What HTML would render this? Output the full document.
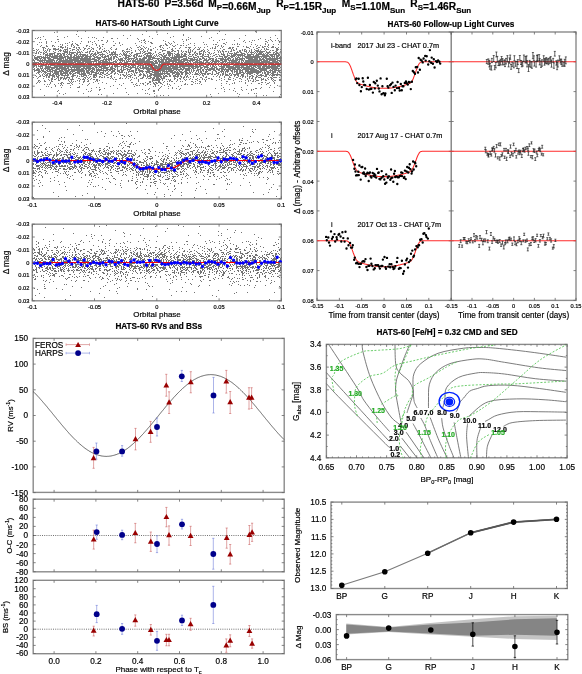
<!DOCTYPE html>
<html><head><meta charset="utf-8"><style>
html,body{margin:0;padding:0;background:#fff;width:582px;height:674px;overflow:hidden}
svg{display:block}
text{font-family:"Liberation Sans", sans-serif;stroke:currentColor;stroke-width:0.18px}
</style></head><body>
<svg style="will-change:transform" width="582" height="674" viewBox="0 0 582 674" font-family='"Liberation Sans", sans-serif'>
<rect width="582" height="674" fill="#fff"/>
<text x="117.6" y="7.3" font-size="10.2" font-weight="bold"><tspan>HATS-60</tspan></text>
<text x="164.6" y="7.3" font-size="10.2" font-weight="bold"><tspan>P=3.56d</tspan></text>
<text x="208.3" y="7.3" font-size="10.2" font-weight="bold"><tspan>M</tspan><tspan font-size="8" dy="3">P</tspan><tspan dy="-3"></tspan><tspan>=0.66M</tspan><tspan font-size="8" dy="3">Jup</tspan><tspan dy="-3"></tspan></text>
<text x="276.2" y="7.3" font-size="10.2" font-weight="bold"><tspan>R</tspan><tspan font-size="8" dy="3">P</tspan><tspan dy="-3"></tspan><tspan>=1.15R</tspan><tspan font-size="8" dy="3">Jup</tspan><tspan dy="-3"></tspan></text>
<text x="341.8" y="7.3" font-size="10.2" font-weight="bold"><tspan>M</tspan><tspan font-size="8" dy="3">S</tspan><tspan dy="-3"></tspan><tspan>=1.10M</tspan><tspan font-size="8" dy="3">Sun</tspan><tspan dy="-3"></tspan></text>
<text x="410.3" y="7.3" font-size="10.2" font-weight="bold"><tspan>R</tspan><tspan font-size="8" dy="3">S</tspan><tspan dy="-3"></tspan><tspan>=1.46R</tspan><tspan font-size="8" dy="3">Sun</tspan><tspan dy="-3"></tspan></text>
<text x="157" y="25.7" font-size="8.2" text-anchor="middle" font-weight="bold" fill="#000" color="#000">HATS-60 HATSouth Light Curve</text>
<rect x="32.3" y="30.5" width="249" height="66.9" fill="none" stroke="#8a8a8a" stroke-width="1.4"/>
<path d="M64.5 63.5h0M156.5 66.5h0M182.5 65.5h0M69.5 62.5h0M263.5 67.5h0M64.5 61.5h0M268.5 44.5h0M187.5 60.5h0M159.5 62.5h0M197.5 63.5h0M100.5 89.5h0M66.5 63.5h0M228.5 64.5h0M199.5 63.5h0M159.5 56.5h0M235.5 65.5h0M169.5 84.5h0M276.5 69.5h0M83.5 72.5h0M170.5 63.5h0M152.5 67.5h0M179.5 55.5h0M90.5 62.5h0M232.5 48.5h0M248.5 68.5h0M64.5 67.5h0M148.5 62.5h0M101.5 62.5h0M52.5 56.5h0M255.5 56.5h0M139.5 62.5h0M69.5 57.5h0M82.5 63.5h0M256.5 69.5h0M86.5 64.5h0M40.5 75.5h0M82.5 62.5h0M149.5 81.5h0M257.5 71.5h0M205.5 66.5h0M36.5 66.5h0M72.5 79.5h0M280.5 75.5h0M146.5 62.5h0M45.5 58.5h0M242.5 65.5h0M178.5 76.5h0M109.5 66.5h0M111.5 66.5h0M54.5 58.5h0M75.5 59.5h0M38.5 62.5h0M241.5 61.5h0M148.5 61.5h0M63.5 63.5h0M81.5 57.5h0M47.5 63.5h0M181.5 72.5h0M255.5 67.5h0M39.5 70.5h0M232.5 64.5h0M79.5 58.5h0M55.5 57.5h0M36.5 76.5h0M105.5 63.5h0M213.5 68.5h0M155.5 62.5h0M244.5 65.5h0M86.5 64.5h0M96.5 63.5h0M275.5 80.5h0M266.5 74.5h0M117.5 57.5h0M140.5 60.5h0M110.5 48.5h0M218.5 64.5h0M42.5 62.5h0M49.5 54.5h0M132.5 70.5h0M93.5 72.5h0M242.5 60.5h0M168.5 63.5h0M197.5 69.5h0M204.5 60.5h0M226.5 74.5h0M263.5 61.5h0M69.5 77.5h0M188.5 60.5h0M68.5 61.5h0M142.5 65.5h0M228.5 75.5h0M255.5 71.5h0M221.5 64.5h0M121.5 63.5h0M72.5 62.5h0M281.5 57.5h0M68.5 74.5h0M93.5 62.5h0M121.5 66.5h0M249.5 64.5h0M72.5 76.5h0M156.5 77.5h0M51.5 61.5h0M184.5 76.5h0M89.5 65.5h0M60.5 64.5h0M170.5 53.5h0M190.5 61.5h0M113.5 58.5h0M192.5 58.5h0M119.5 70.5h0M64.5 75.5h0M259.5 57.5h0M61.5 87.5h0M172.5 67.5h0M272.5 65.5h0M258.5 60.5h0M48.5 73.5h0M233.5 61.5h0M68.5 69.5h0M148.5 57.5h0M44.5 51.5h0M231.5 62.5h0M211.5 63.5h0M232.5 62.5h0M221.5 58.5h0M228.5 60.5h0M94.5 70.5h0M66.5 73.5h0M129.5 69.5h0M156.5 75.5h0M103.5 62.5h0M183.5 77.5h0M182.5 74.5h0M92.5 37.5h0M215.5 60.5h0M104.5 68.5h0M231.5 75.5h0M135.5 63.5h0M170.5 64.5h0M161.5 83.5h0M96.5 59.5h0M276.5 50.5h0M56.5 61.5h0M113.5 58.5h0M169.5 71.5h0M39.5 71.5h0M70.5 59.5h0M227.5 62.5h0M190.5 47.5h0M256.5 76.5h0M220.5 71.5h0M106.5 69.5h0M192.5 60.5h0M128.5 64.5h0M70.5 62.5h0M250.5 56.5h0M171.5 61.5h0M227.5 62.5h0M143.5 68.5h0M173.5 75.5h0M47.5 75.5h0M170.5 44.5h0M235.5 68.5h0M207.5 71.5h0M232.5 59.5h0M155.5 51.5h0M251.5 56.5h0M59.5 56.5h0M250.5 55.5h0M54.5 57.5h0M186.5 60.5h0M145.5 48.5h0M138.5 68.5h0M244.5 62.5h0M66.5 72.5h0M185.5 54.5h0M135.5 67.5h0M163.5 66.5h0M156.5 58.5h0M65.5 59.5h0M159.5 54.5h0M246.5 56.5h0M74.5 65.5h0M49.5 59.5h0M146.5 58.5h0M274.5 67.5h0M43.5 76.5h0M279.5 66.5h0M165.5 73.5h0M62.5 48.5h0M136.5 59.5h0M83.5 69.5h0M210.5 61.5h0M167.5 63.5h0M104.5 74.5h0M95.5 57.5h0M248.5 62.5h0M133.5 84.5h0M215.5 57.5h0M71.5 73.5h0M158.5 76.5h0M86.5 55.5h0M128.5 72.5h0M184.5 58.5h0M39.5 51.5h0M43.5 54.5h0M144.5 67.5h0M250.5 61.5h0M260.5 67.5h0M253.5 59.5h0M263.5 66.5h0M133.5 61.5h0M123.5 63.5h0M70.5 57.5h0M175.5 76.5h0M53.5 68.5h0M260.5 70.5h0M143.5 61.5h0M61.5 57.5h0M257.5 56.5h0M249.5 62.5h0M273.5 59.5h0M180.5 71.5h0M199.5 59.5h0M77.5 58.5h0M104.5 67.5h0M113.5 45.5h0M204.5 50.5h0M157.5 78.5h0M144.5 68.5h0M273.5 75.5h0M73.5 52.5h0M72.5 67.5h0M265.5 73.5h0M153.5 53.5h0M114.5 63.5h0M74.5 73.5h0M180.5 67.5h0M131.5 65.5h0M63.5 75.5h0M40.5 59.5h0M129.5 70.5h0M177.5 66.5h0M161.5 74.5h0M256.5 70.5h0M259.5 68.5h0M265.5 39.5h0M231.5 63.5h0M151.5 67.5h0M162.5 66.5h0M42.5 67.5h0M231.5 70.5h0M93.5 67.5h0M39.5 57.5h0M148.5 68.5h0M140.5 65.5h0M122.5 61.5h0M72.5 71.5h0M35.5 53.5h0M179.5 60.5h0M164.5 76.5h0M247.5 68.5h0M135.5 72.5h0M228.5 78.5h0M88.5 63.5h0M64.5 51.5h0M125.5 66.5h0M116.5 57.5h0M172.5 72.5h0M253.5 67.5h0M78.5 61.5h0M176.5 55.5h0M111.5 57.5h0M44.5 47.5h0M170.5 63.5h0M187.5 69.5h0M218.5 45.5h0M270.5 58.5h0M120.5 64.5h0M142.5 63.5h0M85.5 62.5h0M253.5 70.5h0M267.5 78.5h0M236.5 56.5h0M260.5 50.5h0M64.5 57.5h0M134.5 57.5h0M203.5 49.5h0M141.5 62.5h0M160.5 66.5h0M221.5 62.5h0M49.5 54.5h0M201.5 65.5h0M94.5 61.5h0M212.5 61.5h0M133.5 66.5h0M238.5 69.5h0M93.5 79.5h0M37.5 60.5h0M234.5 60.5h0M62.5 67.5h0M274.5 70.5h0M85.5 75.5h0M178.5 58.5h0M126.5 74.5h0M88.5 75.5h0M258.5 55.5h0M102.5 60.5h0M201.5 63.5h0M252.5 78.5h0M105.5 55.5h0M126.5 58.5h0M229.5 67.5h0M185.5 56.5h0M76.5 53.5h0M77.5 60.5h0M208.5 54.5h0M255.5 78.5h0M226.5 64.5h0M137.5 85.5h0M65.5 67.5h0M254.5 53.5h0M175.5 69.5h0M128.5 69.5h0M117.5 67.5h0M175.5 65.5h0M152.5 79.5h0M208.5 55.5h0M265.5 60.5h0M243.5 64.5h0M125.5 58.5h0M263.5 61.5h0M130.5 63.5h0M231.5 60.5h0M55.5 74.5h0M144.5 52.5h0M160.5 68.5h0M233.5 60.5h0M250.5 71.5h0M70.5 61.5h0M185.5 83.5h0M188.5 69.5h0M70.5 74.5h0M239.5 72.5h0M170.5 64.5h0M271.5 79.5h0M78.5 66.5h0M163.5 66.5h0M112.5 78.5h0M192.5 55.5h0M183.5 69.5h0M159.5 65.5h0M113.5 54.5h0M157.5 75.5h0M124.5 65.5h0M254.5 68.5h0M147.5 64.5h0M150.5 62.5h0M96.5 67.5h0M95.5 53.5h0M269.5 70.5h0M248.5 73.5h0M180.5 78.5h0M73.5 53.5h0M266.5 95.5h0M224.5 67.5h0M173.5 73.5h0M208.5 52.5h0M143.5 84.5h0M150.5 59.5h0M257.5 72.5h0M98.5 52.5h0M235.5 61.5h0M277.5 58.5h0M255.5 55.5h0M272.5 60.5h0M71.5 57.5h0M73.5 69.5h0M89.5 67.5h0M122.5 66.5h0M69.5 54.5h0M36.5 65.5h0M264.5 70.5h0M122.5 59.5h0M145.5 64.5h0M233.5 61.5h0M165.5 56.5h0M56.5 56.5h0M87.5 63.5h0M109.5 60.5h0M175.5 64.5h0M239.5 61.5h0M46.5 63.5h0M247.5 76.5h0M190.5 66.5h0M270.5 54.5h0M86.5 76.5h0M261.5 64.5h0M161.5 57.5h0M94.5 72.5h0M43.5 78.5h0M103.5 61.5h0M257.5 45.5h0M177.5 72.5h0M256.5 61.5h0M143.5 73.5h0M71.5 62.5h0M164.5 53.5h0M180.5 67.5h0M204.5 58.5h0M199.5 60.5h0M42.5 60.5h0M261.5 64.5h0M199.5 59.5h0M275.5 71.5h0M159.5 76.5h0M67.5 70.5h0M255.5 78.5h0M250.5 60.5h0M187.5 69.5h0M243.5 65.5h0M209.5 68.5h0M273.5 54.5h0M57.5 60.5h0M169.5 62.5h0M270.5 85.5h0M203.5 61.5h0M59.5 63.5h0M143.5 61.5h0M151.5 61.5h0M148.5 52.5h0M186.5 62.5h0M100.5 61.5h0M251.5 63.5h0M58.5 61.5h0M265.5 63.5h0M71.5 64.5h0M101.5 74.5h0M263.5 70.5h0M118.5 66.5h0M242.5 56.5h0M253.5 61.5h0M77.5 71.5h0M217.5 73.5h0M278.5 58.5h0M271.5 77.5h0M219.5 40.5h0M259.5 64.5h0M278.5 64.5h0M169.5 70.5h0M68.5 54.5h0M243.5 67.5h0M157.5 78.5h0M36.5 83.5h0M180.5 65.5h0M270.5 62.5h0M236.5 61.5h0M266.5 76.5h0M190.5 50.5h0M215.5 65.5h0M178.5 70.5h0M52.5 77.5h0M82.5 68.5h0M172.5 88.5h0M50.5 65.5h0M97.5 53.5h0M108.5 67.5h0M208.5 63.5h0M73.5 59.5h0M142.5 59.5h0M60.5 63.5h0M52.5 63.5h0M80.5 71.5h0M87.5 60.5h0M72.5 62.5h0M51.5 68.5h0M84.5 70.5h0M87.5 73.5h0M151.5 75.5h0M74.5 68.5h0M74.5 70.5h0M152.5 65.5h0M82.5 61.5h0M41.5 56.5h0M49.5 56.5h0M140.5 59.5h0M53.5 74.5h0M203.5 62.5h0M173.5 68.5h0M160.5 87.5h0M256.5 59.5h0M60.5 71.5h0M80.5 52.5h0M173.5 62.5h0M173.5 46.5h0M276.5 55.5h0M275.5 77.5h0M178.5 59.5h0M221.5 56.5h0M65.5 74.5h0M182.5 54.5h0M71.5 67.5h0M244.5 73.5h0M210.5 48.5h0M219.5 76.5h0M104.5 88.5h0M76.5 59.5h0M182.5 63.5h0M241.5 74.5h0M226.5 61.5h0M264.5 51.5h0M63.5 75.5h0M165.5 57.5h0M59.5 61.5h0M166.5 73.5h0M167.5 59.5h0M118.5 63.5h0M119.5 64.5h0M209.5 64.5h0M152.5 57.5h0M60.5 58.5h0M243.5 75.5h0M274.5 72.5h0M249.5 56.5h0M249.5 55.5h0M86.5 57.5h0M205.5 72.5h0M270.5 71.5h0M123.5 54.5h0M214.5 67.5h0M85.5 66.5h0M247.5 85.5h0M59.5 71.5h0M44.5 80.5h0M144.5 64.5h0M241.5 60.5h0M98.5 64.5h0M243.5 61.5h0M72.5 44.5h0M143.5 83.5h0M130.5 35.5h0M244.5 64.5h0M183.5 61.5h0M233.5 56.5h0M157.5 76.5h0M218.5 52.5h0M259.5 56.5h0M184.5 58.5h0M140.5 67.5h0M97.5 65.5h0M259.5 69.5h0M222.5 60.5h0M231.5 51.5h0M87.5 79.5h0M141.5 63.5h0M252.5 67.5h0M93.5 55.5h0M166.5 66.5h0M199.5 62.5h0M107.5 75.5h0M82.5 74.5h0M166.5 63.5h0M174.5 58.5h0M62.5 63.5h0M258.5 70.5h0M172.5 60.5h0M115.5 65.5h0M177.5 62.5h0M129.5 51.5h0M61.5 66.5h0M62.5 62.5h0M43.5 47.5h0M74.5 65.5h0M93.5 59.5h0M190.5 60.5h0M176.5 81.5h0M179.5 56.5h0M236.5 69.5h0M55.5 65.5h0M52.5 65.5h0M51.5 64.5h0M48.5 59.5h0M58.5 65.5h0M129.5 63.5h0M222.5 63.5h0M90.5 68.5h0M103.5 71.5h0M149.5 57.5h0M50.5 64.5h0M144.5 74.5h0M177.5 57.5h0M237.5 64.5h0M231.5 70.5h0M174.5 67.5h0M176.5 57.5h0M251.5 71.5h0M168.5 69.5h0M166.5 73.5h0M258.5 65.5h0M182.5 81.5h0M279.5 70.5h0M90.5 61.5h0M197.5 62.5h0M175.5 66.5h0M160.5 79.5h0M188.5 37.5h0M169.5 56.5h0M192.5 59.5h0M151.5 73.5h0M145.5 62.5h0M85.5 52.5h0M173.5 61.5h0M63.5 64.5h0M47.5 60.5h0M180.5 62.5h0M52.5 72.5h0M144.5 39.5h0M268.5 68.5h0M184.5 84.5h0M87.5 72.5h0M120.5 65.5h0M111.5 64.5h0M150.5 57.5h0M178.5 60.5h0M181.5 50.5h0M203.5 62.5h0M99.5 48.5h0M55.5 52.5h0M95.5 65.5h0M113.5 64.5h0M183.5 55.5h0M135.5 75.5h0M56.5 67.5h0M180.5 79.5h0M59.5 61.5h0M161.5 59.5h0M187.5 69.5h0M72.5 74.5h0M120.5 74.5h0M266.5 48.5h0M54.5 57.5h0M185.5 66.5h0M130.5 66.5h0M63.5 71.5h0M172.5 66.5h0M33.5 66.5h0M247.5 54.5h0M125.5 57.5h0M166.5 63.5h0M163.5 65.5h0M276.5 56.5h0M43.5 36.5h0M106.5 61.5h0M133.5 65.5h0M228.5 65.5h0M214.5 52.5h0M137.5 58.5h0M61.5 70.5h0M143.5 55.5h0M99.5 59.5h0M161.5 68.5h0M266.5 75.5h0M151.5 68.5h0M95.5 54.5h0M162.5 74.5h0M260.5 69.5h0M247.5 63.5h0M256.5 58.5h0M201.5 68.5h0M138.5 61.5h0M69.5 64.5h0M214.5 63.5h0M190.5 68.5h0M273.5 59.5h0M250.5 63.5h0M86.5 75.5h0M267.5 42.5h0M280.5 64.5h0M273.5 64.5h0M199.5 69.5h0M65.5 69.5h0M33.5 50.5h0M94.5 66.5h0M267.5 52.5h0M232.5 47.5h0M138.5 65.5h0M221.5 71.5h0M256.5 61.5h0M106.5 64.5h0M250.5 68.5h0M99.5 59.5h0M43.5 73.5h0M72.5 82.5h0M169.5 61.5h0M168.5 59.5h0M74.5 69.5h0M83.5 56.5h0M177.5 71.5h0M233.5 54.5h0M202.5 70.5h0M167.5 67.5h0M117.5 55.5h0M77.5 57.5h0M247.5 63.5h0M134.5 65.5h0M49.5 68.5h0M122.5 78.5h0M57.5 63.5h0M120.5 45.5h0M62.5 53.5h0M128.5 61.5h0M134.5 54.5h0M159.5 58.5h0M89.5 72.5h0M251.5 66.5h0M234.5 65.5h0M153.5 70.5h0M117.5 71.5h0M174.5 77.5h0M53.5 57.5h0M136.5 69.5h0M37.5 68.5h0M136.5 63.5h0M153.5 77.5h0M239.5 59.5h0M77.5 72.5h0M136.5 70.5h0M264.5 72.5h0M242.5 63.5h0M169.5 55.5h0M263.5 69.5h0M86.5 59.5h0M258.5 83.5h0M252.5 73.5h0M213.5 58.5h0M203.5 71.5h0M167.5 52.5h0M177.5 62.5h0M81.5 58.5h0M172.5 65.5h0M153.5 86.5h0M201.5 62.5h0M146.5 31.5h0M232.5 83.5h0M211.5 58.5h0M54.5 77.5h0M103.5 62.5h0M52.5 62.5h0M62.5 68.5h0M162.5 56.5h0M82.5 76.5h0M223.5 87.5h0M249.5 58.5h0M93.5 64.5h0M204.5 79.5h0M243.5 74.5h0M193.5 60.5h0M55.5 58.5h0M120.5 78.5h0M273.5 79.5h0M256.5 64.5h0M140.5 74.5h0M239.5 54.5h0M38.5 77.5h0M46.5 62.5h0M177.5 65.5h0M163.5 61.5h0M237.5 63.5h0M147.5 62.5h0M278.5 63.5h0M183.5 56.5h0M77.5 62.5h0M132.5 62.5h0M148.5 60.5h0M175.5 76.5h0M129.5 67.5h0M158.5 71.5h0M190.5 65.5h0M244.5 58.5h0M171.5 69.5h0M127.5 48.5h0M271.5 54.5h0M75.5 67.5h0M43.5 50.5h0M258.5 64.5h0M98.5 65.5h0M70.5 50.5h0M128.5 60.5h0M120.5 74.5h0M244.5 69.5h0M104.5 61.5h0M65.5 68.5h0M86.5 61.5h0M139.5 75.5h0M225.5 75.5h0M265.5 60.5h0M159.5 64.5h0M235.5 60.5h0M98.5 64.5h0M175.5 72.5h0M91.5 70.5h0M100.5 64.5h0M78.5 73.5h0M97.5 80.5h0M241.5 52.5h0M230.5 79.5h0M246.5 67.5h0M171.5 60.5h0M133.5 67.5h0M91.5 61.5h0M189.5 65.5h0M189.5 63.5h0M161.5 64.5h0M265.5 63.5h0M39.5 56.5h0M66.5 62.5h0M46.5 55.5h0M140.5 73.5h0M248.5 61.5h0M265.5 43.5h0M37.5 82.5h0M96.5 87.5h0M32.5 65.5h0M103.5 62.5h0M182.5 65.5h0M185.5 59.5h0M183.5 77.5h0M195.5 63.5h0M177.5 62.5h0M86.5 59.5h0M91.5 61.5h0M248.5 62.5h0M101.5 66.5h0M72.5 72.5h0M221.5 70.5h0M244.5 53.5h0M150.5 49.5h0M170.5 65.5h0M180.5 63.5h0M267.5 46.5h0M223.5 61.5h0M79.5 64.5h0M267.5 74.5h0M159.5 74.5h0M260.5 65.5h0M153.5 62.5h0M207.5 51.5h0M275.5 53.5h0M266.5 66.5h0M77.5 54.5h0M67.5 72.5h0M103.5 44.5h0M68.5 68.5h0M222.5 51.5h0M67.5 62.5h0M50.5 59.5h0M224.5 60.5h0M147.5 75.5h0M191.5 56.5h0M260.5 72.5h0M251.5 69.5h0M61.5 72.5h0M258.5 72.5h0M71.5 56.5h0M124.5 72.5h0M232.5 64.5h0M194.5 62.5h0M194.5 43.5h0M67.5 65.5h0M46.5 66.5h0M130.5 75.5h0M243.5 67.5h0M227.5 81.5h0M280.5 79.5h0M209.5 63.5h0M274.5 68.5h0M216.5 54.5h0M41.5 52.5h0M262.5 62.5h0M91.5 74.5h0M108.5 59.5h0M190.5 76.5h0M231.5 64.5h0M259.5 75.5h0M138.5 68.5h0M245.5 69.5h0M209.5 64.5h0M95.5 60.5h0M34.5 62.5h0M251.5 61.5h0M169.5 70.5h0M178.5 56.5h0M105.5 67.5h0M252.5 63.5h0M68.5 61.5h0M252.5 60.5h0M62.5 67.5h0M130.5 69.5h0M57.5 71.5h0M208.5 73.5h0M245.5 72.5h0M55.5 72.5h0M156.5 77.5h0M167.5 81.5h0M109.5 59.5h0M47.5 53.5h0M182.5 62.5h0M70.5 62.5h0M203.5 65.5h0M218.5 62.5h0M67.5 55.5h0M180.5 67.5h0M84.5 79.5h0M103.5 63.5h0M204.5 67.5h0M175.5 57.5h0M86.5 62.5h0M240.5 64.5h0M120.5 53.5h0M150.5 56.5h0M143.5 59.5h0M143.5 49.5h0M267.5 66.5h0M134.5 60.5h0M160.5 68.5h0M136.5 55.5h0M94.5 79.5h0M270.5 67.5h0M220.5 74.5h0M193.5 54.5h0M104.5 66.5h0M233.5 59.5h0M261.5 80.5h0M229.5 64.5h0M259.5 77.5h0M55.5 85.5h0M216.5 44.5h0M248.5 70.5h0M52.5 68.5h0M167.5 72.5h0M265.5 62.5h0M239.5 51.5h0M190.5 54.5h0M147.5 56.5h0M62.5 44.5h0M158.5 65.5h0M177.5 68.5h0M107.5 70.5h0M63.5 63.5h0M78.5 73.5h0M264.5 66.5h0M87.5 66.5h0M167.5 63.5h0M95.5 57.5h0M155.5 74.5h0M169.5 52.5h0M44.5 72.5h0M166.5 68.5h0M68.5 83.5h0M276.5 51.5h0M74.5 52.5h0M152.5 68.5h0M96.5 79.5h0M152.5 71.5h0M93.5 62.5h0M140.5 60.5h0M203.5 69.5h0M81.5 71.5h0M43.5 58.5h0M239.5 66.5h0M49.5 58.5h0M189.5 64.5h0M168.5 59.5h0M275.5 74.5h0M79.5 51.5h0M253.5 59.5h0M64.5 72.5h0M75.5 69.5h0M73.5 56.5h0M178.5 72.5h0M200.5 47.5h0M63.5 73.5h0M273.5 56.5h0M51.5 54.5h0M186.5 59.5h0M96.5 60.5h0M132.5 60.5h0M258.5 70.5h0M45.5 69.5h0M67.5 53.5h0M170.5 85.5h0M220.5 74.5h0M149.5 65.5h0M91.5 68.5h0M64.5 69.5h0M87.5 52.5h0M82.5 58.5h0M258.5 68.5h0M191.5 60.5h0M146.5 58.5h0M39.5 66.5h0M276.5 57.5h0M267.5 59.5h0M97.5 81.5h0M145.5 93.5h0M200.5 53.5h0M141.5 61.5h0M68.5 65.5h0M232.5 57.5h0M141.5 74.5h0M142.5 58.5h0M221.5 68.5h0M278.5 44.5h0M190.5 59.5h0M53.5 70.5h0M60.5 61.5h0M102.5 40.5h0M143.5 65.5h0M89.5 61.5h0M265.5 70.5h0M127.5 49.5h0M256.5 77.5h0M259.5 66.5h0M215.5 44.5h0M39.5 64.5h0M255.5 44.5h0M136.5 59.5h0M116.5 66.5h0M150.5 68.5h0M246.5 61.5h0M218.5 60.5h0M90.5 56.5h0M141.5 62.5h0M50.5 70.5h0M69.5 58.5h0M261.5 68.5h0M104.5 67.5h0M249.5 72.5h0M76.5 61.5h0M94.5 58.5h0M143.5 66.5h0M184.5 66.5h0M81.5 41.5h0M178.5 64.5h0M112.5 66.5h0M96.5 76.5h0M51.5 62.5h0M83.5 70.5h0M94.5 59.5h0M213.5 53.5h0M60.5 73.5h0M193.5 60.5h0M89.5 68.5h0M140.5 58.5h0M61.5 64.5h0M172.5 70.5h0M256.5 58.5h0M34.5 62.5h0M52.5 65.5h0M178.5 55.5h0M261.5 87.5h0M185.5 71.5h0M51.5 71.5h0M166.5 69.5h0M258.5 54.5h0M39.5 57.5h0M100.5 63.5h0M73.5 73.5h0M273.5 53.5h0M266.5 56.5h0M176.5 61.5h0M236.5 65.5h0M104.5 54.5h0M147.5 64.5h0M237.5 73.5h0M87.5 60.5h0M75.5 63.5h0M244.5 68.5h0M147.5 84.5h0M75.5 72.5h0M102.5 44.5h0M255.5 56.5h0M150.5 73.5h0M261.5 61.5h0M149.5 60.5h0M266.5 66.5h0M260.5 75.5h0M173.5 72.5h0M228.5 64.5h0M61.5 55.5h0M46.5 72.5h0M148.5 58.5h0M186.5 59.5h0M255.5 55.5h0M83.5 65.5h0M247.5 63.5h0M155.5 79.5h0M187.5 62.5h0M147.5 53.5h0M243.5 60.5h0M34.5 61.5h0M238.5 67.5h0M210.5 66.5h0M63.5 53.5h0M83.5 70.5h0M188.5 50.5h0M218.5 69.5h0M180.5 45.5h0M195.5 54.5h0M69.5 60.5h0M144.5 59.5h0M114.5 56.5h0M215.5 59.5h0M161.5 58.5h0M205.5 59.5h0M257.5 68.5h0M245.5 61.5h0M45.5 72.5h0M125.5 57.5h0M57.5 67.5h0M151.5 53.5h0M242.5 54.5h0M230.5 51.5h0M58.5 72.5h0M82.5 70.5h0M273.5 69.5h0M54.5 63.5h0M185.5 74.5h0M81.5 60.5h0M155.5 52.5h0M231.5 54.5h0M127.5 51.5h0M40.5 67.5h0M143.5 61.5h0M126.5 92.5h0M244.5 55.5h0M247.5 67.5h0M117.5 73.5h0M183.5 60.5h0M128.5 59.5h0M241.5 53.5h0M237.5 52.5h0M159.5 70.5h0M174.5 42.5h0M72.5 76.5h0M104.5 63.5h0M172.5 61.5h0M32.5 91.5h0M185.5 80.5h0M189.5 58.5h0M172.5 74.5h0M95.5 43.5h0M195.5 51.5h0M179.5 70.5h0M126.5 57.5h0M70.5 71.5h0M170.5 75.5h0M45.5 56.5h0M260.5 58.5h0M102.5 62.5h0M144.5 60.5h0M58.5 76.5h0M252.5 60.5h0M237.5 68.5h0M175.5 66.5h0M266.5 62.5h0M148.5 62.5h0M75.5 59.5h0M138.5 62.5h0M263.5 68.5h0M197.5 66.5h0M168.5 88.5h0M165.5 68.5h0M190.5 73.5h0M184.5 68.5h0M144.5 58.5h0M159.5 68.5h0M57.5 57.5h0M142.5 70.5h0M87.5 65.5h0M66.5 61.5h0M80.5 79.5h0M62.5 53.5h0M107.5 75.5h0M258.5 68.5h0M135.5 63.5h0M235.5 63.5h0M222.5 73.5h0M86.5 64.5h0M259.5 83.5h0M265.5 65.5h0M59.5 65.5h0M274.5 57.5h0M193.5 71.5h0M188.5 60.5h0M32.5 75.5h0M189.5 69.5h0M50.5 53.5h0M65.5 93.5h0M135.5 66.5h0M46.5 45.5h0M133.5 55.5h0M163.5 76.5h0M165.5 60.5h0M83.5 73.5h0M161.5 74.5h0M72.5 77.5h0M273.5 62.5h0M176.5 62.5h0M91.5 65.5h0M49.5 51.5h0M93.5 74.5h0M104.5 77.5h0M278.5 69.5h0M179.5 55.5h0M80.5 64.5h0M53.5 59.5h0M148.5 66.5h0M158.5 66.5h0M258.5 47.5h0M140.5 75.5h0M201.5 65.5h0M75.5 65.5h0M173.5 59.5h0M144.5 57.5h0M72.5 67.5h0M280.5 72.5h0M54.5 57.5h0M253.5 57.5h0M52.5 69.5h0M272.5 71.5h0M240.5 65.5h0M208.5 57.5h0M135.5 50.5h0M216.5 58.5h0M75.5 73.5h0M260.5 67.5h0M231.5 50.5h0M230.5 58.5h0M149.5 76.5h0M172.5 57.5h0M223.5 58.5h0M189.5 74.5h0M47.5 70.5h0M111.5 52.5h0M237.5 75.5h0M64.5 57.5h0M96.5 70.5h0M112.5 53.5h0M133.5 58.5h0M48.5 69.5h0M242.5 66.5h0M65.5 50.5h0M158.5 65.5h0M114.5 68.5h0M171.5 60.5h0M111.5 72.5h0M145.5 54.5h0M34.5 70.5h0M36.5 49.5h0M158.5 73.5h0M235.5 55.5h0M280.5 75.5h0M162.5 61.5h0M213.5 64.5h0M117.5 65.5h0M226.5 65.5h0M86.5 76.5h0M56.5 57.5h0M256.5 80.5h0M36.5 59.5h0M254.5 61.5h0M260.5 66.5h0M73.5 63.5h0M220.5 52.5h0M277.5 62.5h0M253.5 62.5h0M140.5 61.5h0M277.5 73.5h0M174.5 59.5h0M276.5 61.5h0M231.5 55.5h0M240.5 59.5h0M251.5 62.5h0M248.5 57.5h0M137.5 66.5h0M81.5 68.5h0M84.5 71.5h0M82.5 68.5h0M235.5 66.5h0M50.5 62.5h0M260.5 71.5h0M212.5 59.5h0M89.5 51.5h0M160.5 62.5h0M76.5 67.5h0M256.5 56.5h0M71.5 61.5h0M148.5 59.5h0M183.5 64.5h0M145.5 63.5h0M264.5 66.5h0M63.5 67.5h0M36.5 62.5h0M258.5 50.5h0M252.5 77.5h0M149.5 63.5h0M269.5 64.5h0M135.5 62.5h0M140.5 62.5h0M164.5 70.5h0M168.5 61.5h0M253.5 70.5h0M49.5 55.5h0M244.5 64.5h0M162.5 66.5h0M135.5 66.5h0M106.5 59.5h0M115.5 65.5h0M100.5 66.5h0M145.5 61.5h0M181.5 66.5h0M239.5 38.5h0M75.5 61.5h0M144.5 57.5h0M164.5 50.5h0M236.5 60.5h0M187.5 64.5h0M143.5 60.5h0M233.5 49.5h0M240.5 54.5h0M173.5 62.5h0M61.5 58.5h0M138.5 64.5h0M80.5 55.5h0M106.5 73.5h0M236.5 60.5h0M139.5 67.5h0M78.5 78.5h0M136.5 72.5h0M265.5 58.5h0M186.5 70.5h0M275.5 72.5h0M154.5 65.5h0M85.5 77.5h0M62.5 69.5h0M112.5 65.5h0M151.5 68.5h0M220.5 59.5h0M106.5 83.5h0M75.5 65.5h0M267.5 56.5h0M169.5 61.5h0M68.5 63.5h0M49.5 60.5h0M115.5 69.5h0M185.5 63.5h0M146.5 61.5h0M234.5 72.5h0M279.5 68.5h0M174.5 83.5h0M118.5 58.5h0M230.5 75.5h0M54.5 66.5h0M251.5 49.5h0M225.5 34.5h0M56.5 62.5h0M176.5 76.5h0M232.5 68.5h0M242.5 64.5h0M73.5 71.5h0M163.5 54.5h0M171.5 69.5h0M134.5 57.5h0M96.5 64.5h0M60.5 78.5h0M148.5 60.5h0M228.5 71.5h0M138.5 69.5h0M172.5 57.5h0M200.5 65.5h0M174.5 73.5h0M80.5 64.5h0M94.5 68.5h0M84.5 65.5h0M161.5 49.5h0M81.5 72.5h0M174.5 61.5h0M237.5 74.5h0M50.5 63.5h0M92.5 55.5h0M155.5 68.5h0M67.5 58.5h0M257.5 80.5h0M174.5 57.5h0M185.5 58.5h0M260.5 77.5h0M60.5 58.5h0M200.5 61.5h0M63.5 60.5h0M51.5 57.5h0M129.5 61.5h0M122.5 51.5h0M219.5 50.5h0M145.5 76.5h0M103.5 64.5h0M165.5 59.5h0M182.5 73.5h0M69.5 72.5h0M179.5 74.5h0M74.5 56.5h0M273.5 61.5h0M164.5 81.5h0M83.5 68.5h0M42.5 65.5h0M85.5 68.5h0M111.5 59.5h0M175.5 45.5h0M197.5 61.5h0M209.5 62.5h0M189.5 72.5h0M170.5 80.5h0M106.5 58.5h0M86.5 45.5h0M204.5 68.5h0M65.5 56.5h0M190.5 72.5h0M78.5 55.5h0M233.5 65.5h0M202.5 57.5h0M95.5 52.5h0M278.5 56.5h0M181.5 69.5h0M258.5 62.5h0M265.5 53.5h0M91.5 62.5h0M273.5 64.5h0M52.5 70.5h0M96.5 62.5h0M55.5 42.5h0M174.5 60.5h0M147.5 64.5h0M99.5 59.5h0M204.5 73.5h0M127.5 68.5h0M260.5 53.5h0M261.5 52.5h0M222.5 66.5h0M57.5 67.5h0M278.5 64.5h0M54.5 60.5h0M219.5 56.5h0M93.5 67.5h0M204.5 63.5h0M240.5 70.5h0M61.5 75.5h0M255.5 77.5h0M151.5 61.5h0M70.5 79.5h0M53.5 63.5h0M62.5 75.5h0M58.5 51.5h0M121.5 67.5h0M56.5 65.5h0M152.5 67.5h0M143.5 74.5h0M191.5 65.5h0M218.5 61.5h0M165.5 63.5h0M39.5 82.5h0M223.5 43.5h0M227.5 54.5h0M213.5 66.5h0M253.5 55.5h0M56.5 62.5h0M180.5 68.5h0M206.5 67.5h0M49.5 71.5h0M273.5 62.5h0M76.5 59.5h0M160.5 82.5h0M174.5 64.5h0M76.5 50.5h0M103.5 64.5h0M260.5 62.5h0M112.5 64.5h0M143.5 68.5h0M60.5 53.5h0M173.5 60.5h0M90.5 66.5h0M124.5 60.5h0M195.5 62.5h0M86.5 60.5h0M164.5 50.5h0M96.5 64.5h0M63.5 47.5h0M83.5 66.5h0M188.5 57.5h0M164.5 64.5h0M41.5 64.5h0M160.5 95.5h0M154.5 64.5h0M34.5 71.5h0M224.5 61.5h0M210.5 66.5h0M81.5 69.5h0M98.5 53.5h0M255.5 69.5h0M81.5 63.5h0M156.5 62.5h0M87.5 85.5h0M37.5 44.5h0M78.5 55.5h0M57.5 67.5h0M147.5 61.5h0M227.5 54.5h0M78.5 59.5h0M223.5 59.5h0M274.5 70.5h0M51.5 67.5h0M147.5 56.5h0M167.5 53.5h0M203.5 53.5h0M174.5 55.5h0M107.5 63.5h0M72.5 75.5h0M116.5 66.5h0M78.5 69.5h0M106.5 62.5h0M252.5 68.5h0M137.5 64.5h0M63.5 50.5h0M120.5 56.5h0M160.5 59.5h0M130.5 61.5h0M60.5 51.5h0M215.5 64.5h0M173.5 62.5h0M176.5 60.5h0M140.5 51.5h0M212.5 56.5h0M92.5 59.5h0M65.5 63.5h0M173.5 65.5h0M141.5 55.5h0M130.5 61.5h0M164.5 65.5h0M186.5 52.5h0M235.5 64.5h0M115.5 53.5h0M48.5 61.5h0M68.5 71.5h0M164.5 65.5h0M66.5 62.5h0M74.5 58.5h0M239.5 65.5h0M67.5 75.5h0M95.5 72.5h0M90.5 71.5h0M267.5 61.5h0M189.5 61.5h0M170.5 60.5h0M135.5 63.5h0M210.5 61.5h0M148.5 60.5h0M147.5 83.5h0M70.5 65.5h0M237.5 46.5h0M48.5 58.5h0M258.5 63.5h0M260.5 71.5h0M162.5 70.5h0M72.5 65.5h0M86.5 61.5h0M67.5 71.5h0M276.5 67.5h0M114.5 54.5h0M250.5 62.5h0M163.5 67.5h0M62.5 63.5h0M74.5 56.5h0M222.5 56.5h0M278.5 54.5h0M175.5 63.5h0M227.5 58.5h0M169.5 71.5h0M233.5 67.5h0M83.5 62.5h0M70.5 69.5h0M128.5 63.5h0M268.5 63.5h0M237.5 65.5h0M217.5 46.5h0M254.5 62.5h0M127.5 75.5h0M258.5 73.5h0M78.5 64.5h0M108.5 69.5h0M80.5 67.5h0M265.5 41.5h0M248.5 60.5h0M180.5 63.5h0M226.5 75.5h0M111.5 67.5h0M105.5 62.5h0M55.5 73.5h0M150.5 52.5h0M266.5 59.5h0M36.5 63.5h0M253.5 60.5h0M181.5 62.5h0M102.5 82.5h0M255.5 67.5h0M263.5 63.5h0M274.5 65.5h0M253.5 59.5h0M241.5 58.5h0M146.5 60.5h0M189.5 65.5h0M105.5 74.5h0M164.5 78.5h0M234.5 62.5h0M183.5 58.5h0M242.5 71.5h0M172.5 57.5h0M150.5 73.5h0M160.5 59.5h0M188.5 67.5h0M51.5 69.5h0M229.5 74.5h0M169.5 64.5h0M101.5 74.5h0M260.5 54.5h0M225.5 71.5h0M168.5 65.5h0M79.5 73.5h0M114.5 64.5h0M68.5 60.5h0M221.5 65.5h0M144.5 59.5h0M177.5 73.5h0M89.5 77.5h0M173.5 59.5h0M185.5 69.5h0M137.5 66.5h0M217.5 60.5h0M248.5 64.5h0M272.5 61.5h0M272.5 70.5h0M265.5 62.5h0M65.5 72.5h0M191.5 67.5h0M164.5 62.5h0M118.5 63.5h0M281.5 76.5h0M101.5 51.5h0M151.5 55.5h0M260.5 56.5h0M169.5 67.5h0M272.5 55.5h0M183.5 66.5h0M236.5 64.5h0M172.5 51.5h0M262.5 70.5h0M123.5 70.5h0M233.5 61.5h0M161.5 67.5h0M202.5 74.5h0M278.5 55.5h0M205.5 80.5h0M225.5 68.5h0M235.5 65.5h0M82.5 69.5h0M41.5 65.5h0M51.5 57.5h0M148.5 56.5h0M272.5 70.5h0M143.5 57.5h0M262.5 68.5h0M67.5 73.5h0M133.5 70.5h0M242.5 71.5h0M273.5 58.5h0M166.5 62.5h0M126.5 60.5h0M52.5 77.5h0M225.5 60.5h0M269.5 66.5h0M57.5 62.5h0M226.5 69.5h0M38.5 60.5h0M63.5 60.5h0M45.5 59.5h0M145.5 76.5h0M142.5 60.5h0M76.5 57.5h0M91.5 65.5h0M256.5 72.5h0M167.5 73.5h0M200.5 82.5h0M251.5 66.5h0M67.5 66.5h0M54.5 52.5h0M145.5 62.5h0M59.5 69.5h0M179.5 73.5h0M266.5 56.5h0M160.5 57.5h0M74.5 62.5h0M61.5 61.5h0M164.5 57.5h0M217.5 63.5h0M233.5 63.5h0M220.5 56.5h0M148.5 72.5h0M250.5 63.5h0M166.5 44.5h0M32.5 52.5h0M154.5 78.5h0M53.5 65.5h0M85.5 60.5h0M175.5 59.5h0M51.5 59.5h0M209.5 69.5h0M86.5 52.5h0M270.5 72.5h0M62.5 73.5h0M154.5 80.5h0M224.5 60.5h0M159.5 67.5h0M60.5 83.5h0M88.5 58.5h0M229.5 76.5h0M72.5 77.5h0M276.5 74.5h0M132.5 77.5h0M79.5 86.5h0M148.5 63.5h0M269.5 75.5h0M61.5 65.5h0M212.5 60.5h0M269.5 65.5h0M170.5 66.5h0M178.5 50.5h0M271.5 67.5h0M68.5 67.5h0M49.5 63.5h0M140.5 68.5h0M222.5 71.5h0M149.5 64.5h0M99.5 69.5h0M256.5 88.5h0M175.5 67.5h0M182.5 69.5h0M199.5 75.5h0M92.5 69.5h0M269.5 72.5h0M72.5 61.5h0M72.5 76.5h0M89.5 65.5h0M207.5 64.5h0M57.5 69.5h0M150.5 46.5h0M268.5 68.5h0M255.5 72.5h0M182.5 52.5h0M229.5 73.5h0M197.5 60.5h0M246.5 64.5h0M184.5 60.5h0M180.5 69.5h0M269.5 57.5h0M171.5 59.5h0M137.5 68.5h0M170.5 65.5h0M249.5 68.5h0M242.5 59.5h0M131.5 63.5h0M153.5 64.5h0M44.5 65.5h0M232.5 61.5h0M81.5 71.5h0M67.5 45.5h0M241.5 62.5h0M264.5 62.5h0M103.5 72.5h0M74.5 65.5h0M174.5 63.5h0M46.5 46.5h0M236.5 72.5h0M83.5 61.5h0M65.5 70.5h0M69.5 69.5h0M207.5 73.5h0M137.5 62.5h0M77.5 64.5h0M226.5 74.5h0M45.5 62.5h0M81.5 56.5h0M224.5 69.5h0M160.5 61.5h0M124.5 65.5h0M216.5 58.5h0M154.5 96.5h0M238.5 67.5h0M165.5 57.5h0M165.5 62.5h0M241.5 61.5h0M102.5 49.5h0M190.5 58.5h0M176.5 62.5h0M88.5 81.5h0M243.5 69.5h0M149.5 70.5h0M66.5 71.5h0M163.5 64.5h0M57.5 53.5h0M227.5 71.5h0M253.5 67.5h0M93.5 56.5h0M212.5 73.5h0M243.5 66.5h0M84.5 54.5h0M180.5 61.5h0M50.5 71.5h0M88.5 60.5h0M188.5 55.5h0M255.5 59.5h0M181.5 72.5h0M182.5 62.5h0M257.5 50.5h0M170.5 37.5h0M233.5 68.5h0M80.5 53.5h0M51.5 71.5h0M78.5 36.5h0M139.5 55.5h0M83.5 72.5h0M129.5 63.5h0M35.5 70.5h0M43.5 62.5h0M153.5 80.5h0M259.5 56.5h0M153.5 72.5h0M151.5 64.5h0M98.5 73.5h0M149.5 57.5h0M229.5 66.5h0M47.5 60.5h0M42.5 71.5h0M186.5 59.5h0M249.5 71.5h0M174.5 58.5h0M96.5 70.5h0M98.5 60.5h0M37.5 60.5h0M225.5 62.5h0M110.5 55.5h0M45.5 68.5h0M217.5 75.5h0M203.5 42.5h0M64.5 55.5h0M213.5 55.5h0M187.5 62.5h0M123.5 67.5h0M176.5 66.5h0M157.5 67.5h0M229.5 60.5h0M269.5 51.5h0M54.5 48.5h0M181.5 61.5h0M70.5 62.5h0M85.5 63.5h0M243.5 66.5h0M210.5 65.5h0M63.5 68.5h0M99.5 65.5h0M241.5 66.5h0M104.5 56.5h0M172.5 48.5h0M41.5 57.5h0M205.5 77.5h0M188.5 62.5h0M154.5 77.5h0M76.5 63.5h0M158.5 69.5h0M86.5 58.5h0M241.5 62.5h0M76.5 58.5h0M264.5 46.5h0M158.5 71.5h0M275.5 70.5h0M273.5 73.5h0M48.5 58.5h0M186.5 69.5h0M253.5 61.5h0M194.5 45.5h0M198.5 62.5h0M79.5 61.5h0M138.5 64.5h0M104.5 68.5h0M222.5 39.5h0M68.5 77.5h0M170.5 69.5h0M157.5 68.5h0M128.5 94.5h0M119.5 54.5h0M49.5 59.5h0M59.5 68.5h0M243.5 64.5h0M85.5 60.5h0M63.5 58.5h0M252.5 65.5h0M254.5 62.5h0M254.5 40.5h0M183.5 58.5h0M98.5 52.5h0M145.5 66.5h0M138.5 66.5h0M46.5 74.5h0M163.5 68.5h0M54.5 46.5h0M90.5 60.5h0M235.5 53.5h0M230.5 58.5h0M201.5 62.5h0M93.5 62.5h0M63.5 79.5h0M116.5 61.5h0M71.5 65.5h0M225.5 56.5h0M265.5 69.5h0M209.5 70.5h0M270.5 77.5h0M263.5 66.5h0M227.5 62.5h0M61.5 68.5h0M111.5 38.5h0M185.5 47.5h0M249.5 59.5h0M45.5 71.5h0M64.5 68.5h0M113.5 64.5h0M239.5 55.5h0M238.5 55.5h0M269.5 64.5h0M196.5 74.5h0M65.5 58.5h0M239.5 70.5h0M61.5 82.5h0M91.5 64.5h0M128.5 76.5h0M68.5 65.5h0M173.5 75.5h0M147.5 70.5h0M162.5 69.5h0M254.5 64.5h0M244.5 65.5h0M60.5 44.5h0M215.5 63.5h0M230.5 69.5h0M258.5 65.5h0M130.5 60.5h0M262.5 68.5h0M170.5 66.5h0M148.5 61.5h0M158.5 81.5h0M164.5 69.5h0M149.5 70.5h0M45.5 64.5h0M71.5 45.5h0M149.5 66.5h0M234.5 67.5h0M179.5 60.5h0M74.5 57.5h0M165.5 65.5h0M229.5 89.5h0M208.5 56.5h0M191.5 64.5h0M174.5 57.5h0M48.5 66.5h0M278.5 69.5h0M95.5 61.5h0M139.5 70.5h0M160.5 45.5h0M44.5 76.5h0M49.5 61.5h0M121.5 64.5h0M178.5 51.5h0M76.5 70.5h0M76.5 34.5h0M90.5 56.5h0M216.5 64.5h0M222.5 59.5h0M153.5 68.5h0M45.5 81.5h0M266.5 62.5h0M248.5 66.5h0M107.5 68.5h0M34.5 62.5h0M154.5 57.5h0M74.5 66.5h0M126.5 66.5h0M131.5 55.5h0M259.5 64.5h0M60.5 74.5h0M175.5 75.5h0M253.5 69.5h0M89.5 52.5h0M158.5 79.5h0M95.5 55.5h0M237.5 70.5h0M195.5 59.5h0M264.5 60.5h0M141.5 62.5h0M187.5 75.5h0M64.5 61.5h0M280.5 57.5h0M203.5 63.5h0M221.5 69.5h0M176.5 68.5h0M259.5 63.5h0M125.5 78.5h0M261.5 64.5h0M158.5 75.5h0M225.5 72.5h0M99.5 54.5h0M150.5 54.5h0M170.5 57.5h0M160.5 74.5h0M262.5 63.5h0M146.5 71.5h0M250.5 65.5h0M59.5 63.5h0M84.5 71.5h0M76.5 72.5h0M57.5 64.5h0M249.5 55.5h0M262.5 64.5h0M46.5 64.5h0M93.5 54.5h0M35.5 64.5h0M200.5 81.5h0M145.5 61.5h0M138.5 68.5h0M71.5 65.5h0M49.5 67.5h0M252.5 68.5h0M181.5 55.5h0M251.5 60.5h0M61.5 82.5h0M131.5 53.5h0M252.5 63.5h0M103.5 66.5h0M269.5 54.5h0M89.5 70.5h0M165.5 60.5h0M182.5 64.5h0M157.5 63.5h0M156.5 70.5h0M190.5 56.5h0M251.5 78.5h0M231.5 54.5h0M249.5 74.5h0M125.5 67.5h0M58.5 63.5h0M194.5 52.5h0M43.5 62.5h0M152.5 67.5h0M96.5 38.5h0M242.5 74.5h0M239.5 69.5h0M65.5 70.5h0M54.5 68.5h0M205.5 59.5h0M164.5 69.5h0M66.5 75.5h0M241.5 81.5h0M169.5 62.5h0M221.5 53.5h0M144.5 42.5h0M193.5 56.5h0M179.5 71.5h0M90.5 50.5h0M229.5 67.5h0M273.5 66.5h0M177.5 62.5h0M251.5 61.5h0M187.5 66.5h0M248.5 59.5h0M272.5 58.5h0M152.5 70.5h0M241.5 65.5h0M265.5 66.5h0M91.5 63.5h0M253.5 68.5h0M62.5 57.5h0M45.5 50.5h0M40.5 76.5h0M51.5 63.5h0M56.5 70.5h0M90.5 91.5h0M273.5 65.5h0M232.5 44.5h0M80.5 67.5h0M204.5 51.5h0M181.5 51.5h0M218.5 65.5h0M154.5 55.5h0M57.5 59.5h0M78.5 62.5h0M179.5 56.5h0M177.5 62.5h0M248.5 73.5h0M253.5 47.5h0M114.5 65.5h0M46.5 86.5h0M252.5 71.5h0M264.5 64.5h0M38.5 53.5h0M33.5 62.5h0M76.5 57.5h0M122.5 50.5h0M208.5 50.5h0M76.5 60.5h0M109.5 61.5h0M166.5 69.5h0M155.5 79.5h0M169.5 73.5h0M168.5 54.5h0M249.5 65.5h0M189.5 68.5h0M91.5 66.5h0M222.5 47.5h0M81.5 66.5h0M162.5 50.5h0M236.5 74.5h0M182.5 63.5h0M143.5 66.5h0M272.5 66.5h0M36.5 73.5h0M247.5 68.5h0M157.5 77.5h0M272.5 57.5h0M63.5 55.5h0M271.5 65.5h0M187.5 69.5h0M156.5 55.5h0M273.5 63.5h0M162.5 59.5h0M151.5 62.5h0M77.5 61.5h0M90.5 61.5h0M197.5 65.5h0M258.5 49.5h0M71.5 68.5h0M109.5 65.5h0M78.5 45.5h0M188.5 65.5h0M107.5 41.5h0M49.5 64.5h0M224.5 64.5h0M264.5 55.5h0M66.5 69.5h0M154.5 70.5h0M227.5 74.5h0M248.5 47.5h0M223.5 53.5h0M208.5 52.5h0M210.5 65.5h0M174.5 56.5h0M179.5 48.5h0M52.5 59.5h0M271.5 70.5h0M278.5 71.5h0M73.5 57.5h0M223.5 46.5h0M176.5 73.5h0M130.5 58.5h0M179.5 58.5h0M62.5 47.5h0M163.5 60.5h0M104.5 63.5h0M127.5 66.5h0M238.5 73.5h0M269.5 59.5h0M266.5 62.5h0M153.5 68.5h0M171.5 53.5h0M158.5 60.5h0M59.5 53.5h0M81.5 71.5h0M243.5 65.5h0M88.5 60.5h0M96.5 65.5h0M73.5 64.5h0M56.5 71.5h0M155.5 65.5h0M238.5 67.5h0M170.5 63.5h0M64.5 49.5h0M233.5 69.5h0M266.5 65.5h0M39.5 61.5h0M260.5 65.5h0M187.5 65.5h0M181.5 56.5h0M128.5 63.5h0M72.5 49.5h0M181.5 54.5h0M252.5 75.5h0M38.5 52.5h0M170.5 60.5h0M261.5 80.5h0M36.5 65.5h0M63.5 61.5h0M258.5 56.5h0M77.5 53.5h0M236.5 60.5h0M218.5 52.5h0M260.5 74.5h0M63.5 60.5h0M87.5 62.5h0M155.5 67.5h0M201.5 64.5h0M188.5 47.5h0M87.5 65.5h0M271.5 66.5h0M170.5 72.5h0M67.5 64.5h0M239.5 57.5h0M155.5 85.5h0M167.5 57.5h0M252.5 78.5h0M36.5 57.5h0M71.5 52.5h0M37.5 70.5h0M104.5 70.5h0M128.5 61.5h0M51.5 78.5h0M260.5 64.5h0M224.5 60.5h0M166.5 57.5h0M133.5 60.5h0M80.5 61.5h0M73.5 53.5h0M185.5 64.5h0M244.5 68.5h0M92.5 67.5h0M247.5 63.5h0M71.5 79.5h0M40.5 71.5h0M48.5 79.5h0M100.5 67.5h0M267.5 60.5h0M197.5 58.5h0M253.5 64.5h0M194.5 60.5h0M214.5 66.5h0M147.5 51.5h0M226.5 63.5h0M77.5 73.5h0M259.5 59.5h0M127.5 59.5h0M171.5 60.5h0M130.5 58.5h0M77.5 57.5h0M174.5 75.5h0M152.5 68.5h0M242.5 67.5h0M237.5 67.5h0M266.5 41.5h0M175.5 66.5h0M235.5 55.5h0M253.5 72.5h0M89.5 48.5h0M144.5 68.5h0M256.5 75.5h0M221.5 83.5h0M243.5 68.5h0M182.5 69.5h0M126.5 76.5h0M177.5 65.5h0M84.5 64.5h0M144.5 58.5h0M60.5 61.5h0M57.5 63.5h0M252.5 73.5h0M277.5 58.5h0M72.5 70.5h0M123.5 65.5h0M200.5 72.5h0M67.5 58.5h0M48.5 64.5h0M257.5 73.5h0M102.5 65.5h0M270.5 74.5h0M161.5 69.5h0M166.5 69.5h0M158.5 78.5h0M99.5 87.5h0M188.5 52.5h0M141.5 48.5h0M243.5 63.5h0M80.5 67.5h0M246.5 58.5h0M165.5 64.5h0M89.5 62.5h0M225.5 74.5h0M103.5 68.5h0M211.5 96.5h0M195.5 73.5h0M105.5 66.5h0M154.5 72.5h0M39.5 63.5h0M97.5 60.5h0M251.5 44.5h0M74.5 68.5h0M37.5 58.5h0M182.5 74.5h0M197.5 73.5h0M173.5 73.5h0M146.5 60.5h0M41.5 70.5h0M98.5 70.5h0M71.5 68.5h0M159.5 52.5h0M87.5 70.5h0M35.5 55.5h0M213.5 63.5h0M60.5 49.5h0M149.5 70.5h0M114.5 53.5h0M121.5 58.5h0M230.5 53.5h0M177.5 76.5h0M84.5 54.5h0M63.5 78.5h0M150.5 65.5h0M137.5 60.5h0M88.5 65.5h0M92.5 72.5h0M203.5 69.5h0M94.5 72.5h0M263.5 53.5h0M75.5 62.5h0M38.5 80.5h0M138.5 68.5h0M166.5 58.5h0M174.5 68.5h0M242.5 53.5h0M153.5 48.5h0M236.5 66.5h0M76.5 64.5h0M67.5 55.5h0M65.5 73.5h0M53.5 70.5h0M67.5 76.5h0M169.5 64.5h0M135.5 59.5h0M238.5 68.5h0M150.5 58.5h0M272.5 69.5h0M127.5 38.5h0M154.5 64.5h0M146.5 65.5h0M73.5 60.5h0M260.5 69.5h0M135.5 63.5h0M154.5 67.5h0M89.5 58.5h0M256.5 71.5h0M35.5 38.5h0M240.5 59.5h0M247.5 69.5h0M193.5 62.5h0M177.5 60.5h0M75.5 81.5h0M140.5 60.5h0M56.5 65.5h0M163.5 69.5h0M255.5 61.5h0M125.5 63.5h0M71.5 71.5h0M269.5 87.5h0M190.5 66.5h0M65.5 60.5h0M127.5 52.5h0M92.5 59.5h0M259.5 65.5h0M234.5 83.5h0M199.5 51.5h0M54.5 79.5h0M248.5 64.5h0M45.5 73.5h0M68.5 69.5h0M64.5 63.5h0M45.5 66.5h0M272.5 72.5h0M74.5 49.5h0M234.5 54.5h0M149.5 71.5h0M61.5 69.5h0M248.5 93.5h0M145.5 90.5h0M199.5 66.5h0M152.5 64.5h0M147.5 56.5h0M277.5 53.5h0M40.5 60.5h0M132.5 67.5h0M64.5 69.5h0M45.5 68.5h0M222.5 61.5h0M146.5 56.5h0M169.5 53.5h0M130.5 56.5h0M144.5 40.5h0M54.5 67.5h0M77.5 58.5h0M74.5 52.5h0M148.5 65.5h0M151.5 77.5h0M278.5 66.5h0M260.5 66.5h0M92.5 51.5h0M133.5 66.5h0M164.5 68.5h0M159.5 78.5h0M72.5 60.5h0M44.5 60.5h0M183.5 62.5h0M77.5 76.5h0M145.5 51.5h0M127.5 57.5h0M271.5 78.5h0M275.5 68.5h0M161.5 70.5h0M275.5 62.5h0M170.5 60.5h0M38.5 71.5h0M74.5 66.5h0M93.5 51.5h0M253.5 79.5h0M84.5 48.5h0M172.5 50.5h0M122.5 61.5h0M43.5 64.5h0M221.5 62.5h0M265.5 64.5h0M231.5 49.5h0M275.5 61.5h0M67.5 61.5h0M250.5 58.5h0M268.5 59.5h0M243.5 66.5h0M169.5 76.5h0M196.5 53.5h0M93.5 63.5h0M115.5 54.5h0M69.5 72.5h0M132.5 82.5h0M251.5 50.5h0M81.5 66.5h0M193.5 66.5h0M90.5 61.5h0M190.5 63.5h0M251.5 89.5h0M222.5 50.5h0M67.5 61.5h0M105.5 65.5h0M158.5 70.5h0M67.5 61.5h0M142.5 72.5h0M196.5 71.5h0M60.5 54.5h0M178.5 59.5h0M252.5 64.5h0M163.5 95.5h0M113.5 57.5h0M83.5 47.5h0M147.5 61.5h0M130.5 80.5h0M205.5 66.5h0M221.5 80.5h0M212.5 64.5h0M176.5 67.5h0M51.5 65.5h0M67.5 55.5h0M203.5 66.5h0M166.5 72.5h0M50.5 62.5h0M137.5 68.5h0M168.5 69.5h0M94.5 59.5h0M264.5 69.5h0M269.5 60.5h0M58.5 56.5h0M210.5 65.5h0M138.5 79.5h0M239.5 71.5h0M265.5 66.5h0M156.5 67.5h0M123.5 54.5h0M198.5 62.5h0M39.5 66.5h0M274.5 65.5h0M39.5 69.5h0M203.5 61.5h0M176.5 69.5h0M132.5 70.5h0M263.5 60.5h0M62.5 70.5h0M91.5 63.5h0M97.5 67.5h0M74.5 68.5h0M137.5 38.5h0M215.5 71.5h0M269.5 57.5h0M35.5 75.5h0M217.5 50.5h0M258.5 62.5h0M185.5 54.5h0M170.5 55.5h0M101.5 62.5h0M254.5 59.5h0M87.5 67.5h0M267.5 54.5h0M269.5 63.5h0M239.5 68.5h0M268.5 61.5h0M154.5 93.5h0M158.5 67.5h0M67.5 49.5h0M277.5 63.5h0M77.5 65.5h0M151.5 49.5h0M53.5 45.5h0M102.5 70.5h0M201.5 67.5h0M123.5 68.5h0M193.5 66.5h0M74.5 60.5h0M196.5 76.5h0M253.5 59.5h0M106.5 67.5h0M96.5 59.5h0M260.5 70.5h0M185.5 65.5h0M184.5 79.5h0M82.5 70.5h0M51.5 56.5h0M70.5 62.5h0M81.5 59.5h0M112.5 69.5h0M128.5 57.5h0M273.5 60.5h0M58.5 72.5h0M178.5 60.5h0M136.5 59.5h0M77.5 65.5h0M116.5 59.5h0M99.5 61.5h0M171.5 61.5h0M145.5 58.5h0M246.5 61.5h0M246.5 69.5h0M240.5 69.5h0M140.5 63.5h0M139.5 69.5h0M156.5 65.5h0M150.5 62.5h0M174.5 56.5h0M176.5 56.5h0M236.5 56.5h0M149.5 61.5h0M145.5 66.5h0M258.5 71.5h0M107.5 59.5h0M168.5 59.5h0M73.5 69.5h0M160.5 77.5h0M191.5 84.5h0M60.5 64.5h0M42.5 60.5h0M255.5 63.5h0M55.5 58.5h0M201.5 59.5h0M248.5 72.5h0M197.5 83.5h0M105.5 67.5h0M179.5 59.5h0M130.5 71.5h0M242.5 77.5h0M176.5 60.5h0M210.5 70.5h0M134.5 56.5h0M246.5 68.5h0M187.5 73.5h0M180.5 88.5h0M160.5 74.5h0M260.5 38.5h0M179.5 67.5h0M208.5 64.5h0M114.5 73.5h0M184.5 54.5h0M67.5 66.5h0M234.5 68.5h0M191.5 64.5h0M246.5 58.5h0M171.5 65.5h0M77.5 63.5h0M235.5 63.5h0M187.5 72.5h0M91.5 70.5h0M84.5 58.5h0M153.5 62.5h0M222.5 75.5h0M151.5 71.5h0M94.5 64.5h0M64.5 52.5h0M75.5 64.5h0M172.5 57.5h0M37.5 64.5h0M66.5 61.5h0M143.5 65.5h0M149.5 62.5h0M75.5 67.5h0M272.5 54.5h0M262.5 59.5h0M190.5 64.5h0M55.5 65.5h0M233.5 65.5h0M69.5 42.5h0M213.5 58.5h0M263.5 69.5h0M53.5 60.5h0M151.5 65.5h0M179.5 67.5h0M96.5 73.5h0M60.5 57.5h0M164.5 62.5h0M53.5 68.5h0M82.5 69.5h0M70.5 59.5h0M139.5 71.5h0M138.5 81.5h0M235.5 61.5h0M251.5 56.5h0M222.5 63.5h0M174.5 56.5h0M46.5 61.5h0M128.5 63.5h0M172.5 66.5h0M92.5 72.5h0M181.5 68.5h0M218.5 74.5h0M59.5 58.5h0M41.5 68.5h0M75.5 70.5h0M78.5 71.5h0M169.5 62.5h0M195.5 61.5h0M255.5 58.5h0M56.5 76.5h0M156.5 77.5h0M196.5 66.5h0M135.5 63.5h0M50.5 71.5h0M56.5 62.5h0M34.5 50.5h0M112.5 53.5h0M72.5 78.5h0M268.5 65.5h0M189.5 64.5h0M56.5 71.5h0M157.5 70.5h0M239.5 65.5h0M79.5 57.5h0M154.5 63.5h0M159.5 70.5h0M67.5 66.5h0M71.5 63.5h0M173.5 64.5h0M141.5 74.5h0M162.5 84.5h0M202.5 62.5h0M262.5 62.5h0M154.5 83.5h0M261.5 51.5h0M249.5 63.5h0M82.5 66.5h0M258.5 75.5h0M162.5 55.5h0M65.5 67.5h0M72.5 75.5h0M247.5 62.5h0M150.5 66.5h0M138.5 69.5h0M128.5 71.5h0M138.5 65.5h0M102.5 70.5h0M256.5 57.5h0M160.5 83.5h0M105.5 67.5h0M231.5 68.5h0M228.5 51.5h0M236.5 72.5h0M180.5 65.5h0M85.5 57.5h0M54.5 65.5h0M100.5 64.5h0M118.5 63.5h0M61.5 46.5h0M70.5 82.5h0M62.5 71.5h0M129.5 61.5h0M263.5 67.5h0M271.5 56.5h0M58.5 62.5h0M180.5 69.5h0M33.5 64.5h0M198.5 67.5h0M160.5 75.5h0M148.5 48.5h0M195.5 79.5h0M226.5 42.5h0M53.5 68.5h0M76.5 59.5h0M260.5 63.5h0M276.5 63.5h0M241.5 60.5h0M172.5 58.5h0M100.5 55.5h0M203.5 66.5h0M70.5 55.5h0M224.5 61.5h0M79.5 47.5h0M264.5 66.5h0M81.5 59.5h0M240.5 58.5h0M132.5 64.5h0M267.5 55.5h0M104.5 50.5h0M58.5 66.5h0M203.5 75.5h0M62.5 69.5h0M211.5 62.5h0M159.5 62.5h0M172.5 73.5h0M177.5 73.5h0M169.5 54.5h0M131.5 67.5h0M206.5 77.5h0M84.5 60.5h0M248.5 56.5h0M128.5 61.5h0M144.5 59.5h0M150.5 69.5h0M163.5 73.5h0M136.5 77.5h0M172.5 51.5h0M150.5 75.5h0M242.5 69.5h0M97.5 64.5h0M219.5 61.5h0M134.5 67.5h0M244.5 50.5h0M50.5 58.5h0M263.5 95.5h0M234.5 88.5h0M195.5 81.5h0M80.5 65.5h0M239.5 69.5h0M179.5 56.5h0M90.5 55.5h0M191.5 66.5h0M62.5 69.5h0M80.5 64.5h0M38.5 52.5h0M183.5 77.5h0M195.5 57.5h0M135.5 71.5h0M102.5 57.5h0M56.5 57.5h0M120.5 61.5h0M264.5 69.5h0M261.5 63.5h0M53.5 56.5h0M64.5 68.5h0M171.5 72.5h0M44.5 68.5h0M54.5 49.5h0M237.5 65.5h0M229.5 61.5h0M98.5 59.5h0M190.5 56.5h0M94.5 37.5h0M241.5 67.5h0M228.5 71.5h0M250.5 65.5h0M190.5 51.5h0M77.5 68.5h0M114.5 56.5h0M33.5 55.5h0M190.5 62.5h0M96.5 69.5h0M262.5 58.5h0M167.5 61.5h0M83.5 78.5h0M265.5 60.5h0M199.5 53.5h0M202.5 50.5h0M183.5 55.5h0M169.5 66.5h0M85.5 69.5h0M150.5 57.5h0M256.5 61.5h0M89.5 62.5h0M49.5 69.5h0M76.5 61.5h0M126.5 62.5h0M120.5 60.5h0M249.5 63.5h0M69.5 62.5h0M58.5 80.5h0M169.5 80.5h0M188.5 51.5h0M132.5 62.5h0M163.5 82.5h0M133.5 59.5h0M104.5 76.5h0M34.5 50.5h0M42.5 60.5h0M92.5 58.5h0M98.5 68.5h0M261.5 60.5h0M205.5 72.5h0M58.5 83.5h0M234.5 62.5h0M241.5 79.5h0M261.5 59.5h0M99.5 65.5h0M218.5 62.5h0M136.5 63.5h0M248.5 64.5h0M35.5 75.5h0M157.5 73.5h0M252.5 65.5h0M164.5 58.5h0M127.5 59.5h0M59.5 60.5h0M79.5 64.5h0M98.5 61.5h0M279.5 65.5h0M168.5 70.5h0M108.5 63.5h0M253.5 65.5h0M184.5 59.5h0M105.5 61.5h0M38.5 77.5h0M162.5 55.5h0M163.5 40.5h0M49.5 57.5h0M166.5 75.5h0M147.5 74.5h0M179.5 62.5h0M265.5 79.5h0M204.5 47.5h0M78.5 66.5h0M262.5 63.5h0M240.5 50.5h0M192.5 59.5h0M163.5 59.5h0M187.5 59.5h0M77.5 70.5h0M143.5 58.5h0M250.5 68.5h0M122.5 72.5h0M98.5 63.5h0M161.5 61.5h0M234.5 70.5h0M251.5 60.5h0M272.5 69.5h0M59.5 59.5h0M145.5 82.5h0M169.5 61.5h0M201.5 51.5h0M125.5 65.5h0M183.5 67.5h0M124.5 63.5h0M110.5 70.5h0M78.5 69.5h0M197.5 53.5h0M109.5 65.5h0M83.5 60.5h0M259.5 72.5h0M54.5 66.5h0M161.5 73.5h0M117.5 63.5h0M177.5 64.5h0M109.5 69.5h0M149.5 82.5h0M64.5 51.5h0M47.5 62.5h0M264.5 73.5h0M136.5 62.5h0M81.5 54.5h0M182.5 64.5h0M263.5 54.5h0M140.5 52.5h0M275.5 70.5h0M274.5 69.5h0M135.5 68.5h0M156.5 60.5h0M255.5 69.5h0M254.5 60.5h0M56.5 69.5h0M158.5 65.5h0M56.5 61.5h0M243.5 58.5h0M111.5 67.5h0M142.5 83.5h0M249.5 66.5h0M141.5 71.5h0M260.5 72.5h0M260.5 67.5h0M145.5 61.5h0M90.5 64.5h0M265.5 74.5h0M171.5 71.5h0M47.5 67.5h0M147.5 72.5h0M188.5 49.5h0M130.5 66.5h0M104.5 59.5h0M86.5 89.5h0M256.5 65.5h0M164.5 73.5h0M51.5 64.5h0M41.5 60.5h0M165.5 68.5h0M257.5 55.5h0M192.5 81.5h0M119.5 62.5h0M193.5 59.5h0M128.5 55.5h0M102.5 63.5h0M274.5 77.5h0M62.5 66.5h0M63.5 51.5h0M123.5 66.5h0M266.5 71.5h0M268.5 45.5h0M89.5 83.5h0M132.5 65.5h0M268.5 65.5h0M98.5 58.5h0M191.5 70.5h0M251.5 65.5h0M101.5 69.5h0M263.5 58.5h0M280.5 61.5h0M130.5 54.5h0M265.5 64.5h0M88.5 67.5h0M142.5 68.5h0M94.5 64.5h0M257.5 48.5h0M89.5 72.5h0M250.5 59.5h0M254.5 65.5h0M229.5 66.5h0M99.5 76.5h0M210.5 65.5h0M277.5 53.5h0M270.5 58.5h0M258.5 56.5h0M115.5 61.5h0M74.5 75.5h0M115.5 61.5h0M173.5 50.5h0M256.5 53.5h0M241.5 81.5h0M92.5 44.5h0M236.5 60.5h0M252.5 56.5h0M177.5 64.5h0M155.5 72.5h0M149.5 68.5h0M81.5 71.5h0M96.5 69.5h0M159.5 65.5h0M164.5 64.5h0M143.5 74.5h0M243.5 53.5h0M73.5 52.5h0M76.5 47.5h0M264.5 66.5h0M178.5 69.5h0M186.5 40.5h0M149.5 65.5h0M165.5 41.5h0M238.5 67.5h0M43.5 57.5h0M266.5 62.5h0M79.5 73.5h0M154.5 55.5h0M238.5 63.5h0M65.5 58.5h0M170.5 66.5h0M64.5 62.5h0M87.5 62.5h0M259.5 51.5h0M63.5 54.5h0M199.5 73.5h0M56.5 70.5h0M264.5 66.5h0M267.5 55.5h0M151.5 69.5h0M194.5 45.5h0M171.5 58.5h0M237.5 64.5h0M246.5 69.5h0M87.5 45.5h0M83.5 63.5h0M205.5 64.5h0M169.5 68.5h0M273.5 68.5h0M248.5 80.5h0M65.5 72.5h0M271.5 70.5h0M241.5 68.5h0M232.5 67.5h0M86.5 72.5h0M188.5 69.5h0M145.5 65.5h0M271.5 64.5h0M124.5 69.5h0M100.5 62.5h0M83.5 68.5h0M235.5 91.5h0M237.5 73.5h0M187.5 60.5h0M40.5 81.5h0M135.5 61.5h0M73.5 81.5h0M39.5 66.5h0M205.5 54.5h0M94.5 69.5h0M172.5 72.5h0M271.5 73.5h0M90.5 63.5h0M103.5 60.5h0M48.5 61.5h0M173.5 62.5h0M169.5 52.5h0M181.5 65.5h0M272.5 71.5h0M175.5 66.5h0M184.5 67.5h0M254.5 60.5h0M249.5 62.5h0M162.5 69.5h0M183.5 78.5h0M123.5 75.5h0M156.5 63.5h0M152.5 59.5h0M164.5 64.5h0M90.5 57.5h0M181.5 60.5h0M102.5 73.5h0M109.5 63.5h0M49.5 74.5h0M280.5 70.5h0M73.5 66.5h0M90.5 54.5h0M202.5 65.5h0M245.5 71.5h0M140.5 63.5h0M149.5 65.5h0M277.5 66.5h0M179.5 66.5h0M89.5 62.5h0M243.5 63.5h0M206.5 65.5h0M158.5 58.5h0M66.5 78.5h0M256.5 61.5h0M64.5 60.5h0M259.5 71.5h0M180.5 68.5h0M255.5 61.5h0M218.5 54.5h0M253.5 59.5h0M233.5 55.5h0M181.5 73.5h0M101.5 77.5h0M94.5 74.5h0M260.5 66.5h0M250.5 80.5h0M208.5 59.5h0M138.5 69.5h0M259.5 57.5h0M171.5 63.5h0M52.5 75.5h0M251.5 56.5h0M61.5 83.5h0M193.5 71.5h0M262.5 56.5h0M267.5 68.5h0M261.5 53.5h0M229.5 62.5h0M71.5 57.5h0M280.5 60.5h0M191.5 60.5h0M263.5 66.5h0M73.5 63.5h0M181.5 56.5h0M78.5 50.5h0M208.5 78.5h0M263.5 66.5h0M140.5 68.5h0M36.5 66.5h0M115.5 69.5h0M53.5 58.5h0M146.5 65.5h0M276.5 58.5h0M101.5 54.5h0M69.5 81.5h0M44.5 74.5h0M108.5 74.5h0M96.5 61.5h0M83.5 72.5h0M252.5 52.5h0M103.5 70.5h0M71.5 67.5h0M69.5 63.5h0M139.5 59.5h0M207.5 64.5h0M147.5 59.5h0M186.5 64.5h0M109.5 70.5h0M139.5 72.5h0M200.5 74.5h0M37.5 78.5h0M133.5 71.5h0M157.5 80.5h0M203.5 73.5h0M224.5 56.5h0M186.5 69.5h0M36.5 70.5h0M93.5 82.5h0M198.5 56.5h0M61.5 77.5h0M36.5 66.5h0M241.5 61.5h0M73.5 64.5h0M62.5 61.5h0M76.5 65.5h0M162.5 78.5h0M247.5 70.5h0M83.5 64.5h0M251.5 70.5h0M130.5 68.5h0M160.5 68.5h0M145.5 66.5h0M237.5 44.5h0M249.5 74.5h0M60.5 62.5h0M160.5 65.5h0M125.5 55.5h0M141.5 63.5h0M36.5 59.5h0M145.5 58.5h0M118.5 59.5h0M137.5 59.5h0M276.5 48.5h0M203.5 52.5h0M116.5 49.5h0M141.5 60.5h0M264.5 69.5h0M269.5 68.5h0M83.5 65.5h0M162.5 73.5h0M211.5 67.5h0M237.5 59.5h0M133.5 72.5h0M249.5 63.5h0M185.5 73.5h0M67.5 67.5h0M137.5 54.5h0M157.5 66.5h0M32.5 58.5h0M150.5 71.5h0M271.5 47.5h0M161.5 64.5h0M163.5 62.5h0M51.5 87.5h0M146.5 56.5h0M189.5 56.5h0M175.5 48.5h0M56.5 61.5h0M100.5 74.5h0M162.5 67.5h0M76.5 65.5h0M195.5 47.5h0M271.5 58.5h0M237.5 60.5h0M60.5 61.5h0M212.5 58.5h0M218.5 51.5h0M87.5 66.5h0M126.5 74.5h0M182.5 63.5h0M196.5 53.5h0M186.5 39.5h0M244.5 54.5h0M149.5 69.5h0M36.5 62.5h0M59.5 63.5h0M164.5 62.5h0M164.5 85.5h0M189.5 66.5h0M272.5 66.5h0M103.5 37.5h0M265.5 64.5h0M142.5 63.5h0M159.5 78.5h0M242.5 63.5h0M146.5 57.5h0M115.5 52.5h0M149.5 57.5h0M113.5 41.5h0M206.5 60.5h0M89.5 66.5h0M154.5 68.5h0M34.5 58.5h0M134.5 73.5h0M235.5 62.5h0M96.5 74.5h0M109.5 61.5h0M53.5 68.5h0M228.5 64.5h0M106.5 75.5h0M232.5 73.5h0M104.5 54.5h0M93.5 55.5h0M227.5 70.5h0M47.5 56.5h0M189.5 48.5h0M177.5 77.5h0M233.5 58.5h0M276.5 55.5h0M138.5 49.5h0M123.5 63.5h0M79.5 52.5h0M171.5 51.5h0M91.5 70.5h0M168.5 69.5h0M197.5 68.5h0M244.5 65.5h0M150.5 76.5h0M89.5 59.5h0M237.5 65.5h0M81.5 54.5h0M159.5 65.5h0M52.5 54.5h0M50.5 70.5h0M147.5 74.5h0M243.5 76.5h0M61.5 65.5h0M58.5 61.5h0M173.5 66.5h0M99.5 89.5h0M206.5 69.5h0M230.5 59.5h0M52.5 59.5h0M257.5 58.5h0M95.5 77.5h0M91.5 72.5h0M251.5 63.5h0M135.5 43.5h0M177.5 66.5h0M168.5 67.5h0M199.5 60.5h0M160.5 49.5h0M245.5 64.5h0M248.5 61.5h0M184.5 63.5h0M179.5 65.5h0M107.5 59.5h0M151.5 43.5h0M81.5 38.5h0M153.5 67.5h0M47.5 68.5h0M56.5 62.5h0M191.5 59.5h0M225.5 73.5h0M73.5 74.5h0M66.5 60.5h0M57.5 65.5h0M189.5 64.5h0M131.5 67.5h0M61.5 67.5h0M45.5 54.5h0M229.5 48.5h0M80.5 64.5h0M234.5 71.5h0M41.5 57.5h0M263.5 57.5h0M70.5 72.5h0M41.5 63.5h0M240.5 51.5h0M230.5 73.5h0M155.5 47.5h0M63.5 59.5h0M105.5 63.5h0M142.5 71.5h0M272.5 74.5h0M85.5 57.5h0M196.5 59.5h0M249.5 48.5h0M200.5 71.5h0M142.5 34.5h0M150.5 55.5h0M178.5 55.5h0M164.5 64.5h0M57.5 76.5h0M224.5 63.5h0M123.5 60.5h0M187.5 66.5h0M143.5 55.5h0M280.5 58.5h0M79.5 51.5h0M270.5 55.5h0M239.5 73.5h0M240.5 64.5h0M117.5 63.5h0M158.5 78.5h0M261.5 78.5h0M234.5 62.5h0M153.5 77.5h0M163.5 60.5h0M161.5 68.5h0M99.5 65.5h0M138.5 63.5h0M165.5 59.5h0M250.5 60.5h0M152.5 62.5h0M171.5 60.5h0M231.5 53.5h0M274.5 52.5h0M181.5 65.5h0M62.5 62.5h0M86.5 58.5h0M251.5 67.5h0M249.5 65.5h0M188.5 44.5h0M265.5 61.5h0M45.5 64.5h0M51.5 56.5h0M155.5 67.5h0M81.5 62.5h0M37.5 56.5h0M271.5 54.5h0M136.5 70.5h0M241.5 59.5h0M186.5 74.5h0M152.5 72.5h0M216.5 71.5h0M88.5 64.5h0M200.5 56.5h0M48.5 64.5h0M73.5 62.5h0M225.5 61.5h0M121.5 54.5h0M73.5 65.5h0M259.5 54.5h0M98.5 55.5h0M251.5 68.5h0M242.5 63.5h0M269.5 64.5h0M59.5 55.5h0M156.5 67.5h0M270.5 69.5h0M97.5 56.5h0M279.5 61.5h0M199.5 63.5h0M71.5 44.5h0M52.5 65.5h0M52.5 78.5h0M253.5 55.5h0M207.5 60.5h0M77.5 65.5h0M140.5 74.5h0M144.5 51.5h0M247.5 79.5h0M274.5 61.5h0M34.5 61.5h0M184.5 56.5h0M160.5 77.5h0M78.5 56.5h0M166.5 65.5h0M70.5 71.5h0M263.5 64.5h0M95.5 81.5h0M81.5 63.5h0M156.5 63.5h0M236.5 73.5h0M197.5 54.5h0M65.5 66.5h0M96.5 66.5h0M119.5 84.5h0M122.5 58.5h0M166.5 55.5h0M89.5 52.5h0M239.5 94.5h0M32.5 75.5h0M259.5 63.5h0M222.5 69.5h0M213.5 59.5h0M168.5 61.5h0M138.5 70.5h0M61.5 63.5h0M190.5 47.5h0M160.5 66.5h0M48.5 71.5h0M59.5 69.5h0M81.5 62.5h0M81.5 63.5h0M113.5 54.5h0M48.5 66.5h0M261.5 74.5h0M269.5 56.5h0M238.5 61.5h0M144.5 57.5h0M272.5 61.5h0M258.5 60.5h0M193.5 63.5h0M205.5 52.5h0M168.5 88.5h0M251.5 68.5h0M247.5 64.5h0M148.5 67.5h0M116.5 48.5h0M272.5 67.5h0M176.5 58.5h0M266.5 55.5h0M87.5 81.5h0M73.5 63.5h0M135.5 62.5h0M161.5 57.5h0M263.5 65.5h0M169.5 63.5h0M102.5 60.5h0M74.5 54.5h0M126.5 58.5h0M279.5 96.5h0M246.5 62.5h0M102.5 60.5h0M181.5 71.5h0M243.5 66.5h0M102.5 73.5h0M151.5 74.5h0M35.5 58.5h0M203.5 70.5h0M253.5 68.5h0M162.5 62.5h0M155.5 76.5h0M52.5 55.5h0M133.5 62.5h0M157.5 58.5h0M277.5 63.5h0M163.5 64.5h0M34.5 60.5h0M225.5 62.5h0M173.5 60.5h0M200.5 67.5h0M64.5 54.5h0M160.5 47.5h0M175.5 63.5h0M202.5 56.5h0M189.5 53.5h0M84.5 65.5h0M47.5 54.5h0M137.5 47.5h0M129.5 71.5h0M218.5 65.5h0M225.5 51.5h0M230.5 58.5h0M271.5 66.5h0M147.5 65.5h0M260.5 66.5h0M277.5 52.5h0M197.5 49.5h0M66.5 59.5h0M79.5 78.5h0M55.5 71.5h0M38.5 60.5h0M99.5 61.5h0M80.5 55.5h0M272.5 68.5h0M82.5 61.5h0M178.5 70.5h0M147.5 76.5h0M257.5 51.5h0M189.5 69.5h0M152.5 63.5h0M95.5 66.5h0M240.5 54.5h0M234.5 53.5h0M170.5 65.5h0M280.5 67.5h0M192.5 74.5h0M181.5 76.5h0M73.5 64.5h0M141.5 59.5h0M40.5 37.5h0M175.5 65.5h0M113.5 68.5h0M75.5 75.5h0M131.5 52.5h0M268.5 73.5h0M250.5 66.5h0M86.5 65.5h0M198.5 57.5h0M41.5 42.5h0M186.5 65.5h0M82.5 71.5h0M147.5 65.5h0M72.5 50.5h0M238.5 96.5h0M65.5 74.5h0M172.5 71.5h0M267.5 53.5h0M84.5 65.5h0M155.5 65.5h0M246.5 89.5h0M247.5 58.5h0M156.5 79.5h0M149.5 70.5h0M267.5 61.5h0M157.5 56.5h0M93.5 64.5h0M156.5 62.5h0M146.5 62.5h0M274.5 60.5h0M279.5 41.5h0M96.5 67.5h0M89.5 64.5h0M87.5 71.5h0M153.5 78.5h0M136.5 83.5h0M51.5 71.5h0M161.5 60.5h0M150.5 53.5h0M269.5 58.5h0M244.5 64.5h0M162.5 61.5h0M60.5 66.5h0M192.5 54.5h0M264.5 55.5h0M272.5 76.5h0M263.5 47.5h0M216.5 61.5h0M77.5 56.5h0M87.5 71.5h0M61.5 71.5h0M108.5 58.5h0M274.5 67.5h0M207.5 74.5h0M71.5 79.5h0M158.5 80.5h0M154.5 66.5h0M262.5 67.5h0M199.5 58.5h0M107.5 56.5h0M96.5 63.5h0M58.5 68.5h0M156.5 83.5h0M188.5 60.5h0M266.5 64.5h0M169.5 56.5h0M130.5 77.5h0M195.5 74.5h0M215.5 59.5h0M132.5 71.5h0M90.5 59.5h0M66.5 68.5h0M109.5 59.5h0M97.5 69.5h0M102.5 64.5h0M151.5 63.5h0M214.5 48.5h0M96.5 60.5h0M253.5 67.5h0M156.5 68.5h0M53.5 62.5h0M155.5 72.5h0M126.5 54.5h0M152.5 66.5h0M89.5 56.5h0M265.5 53.5h0M79.5 78.5h0M216.5 64.5h0M119.5 63.5h0M216.5 73.5h0M182.5 39.5h0M220.5 60.5h0M278.5 62.5h0M102.5 54.5h0M251.5 70.5h0M83.5 68.5h0M230.5 48.5h0M71.5 62.5h0M82.5 59.5h0M83.5 62.5h0M233.5 67.5h0M174.5 69.5h0M275.5 54.5h0M165.5 76.5h0M80.5 58.5h0M89.5 66.5h0M68.5 57.5h0M243.5 64.5h0M242.5 63.5h0M212.5 47.5h0M144.5 68.5h0M271.5 56.5h0M82.5 76.5h0M164.5 62.5h0M253.5 67.5h0M34.5 65.5h0M245.5 64.5h0M247.5 72.5h0M245.5 51.5h0M253.5 66.5h0M172.5 62.5h0M62.5 56.5h0M107.5 67.5h0M194.5 48.5h0M154.5 65.5h0M122.5 63.5h0M186.5 72.5h0M70.5 62.5h0M251.5 62.5h0M103.5 67.5h0M153.5 86.5h0M148.5 55.5h0M50.5 63.5h0M248.5 55.5h0M261.5 64.5h0M229.5 55.5h0M252.5 70.5h0M249.5 77.5h0M150.5 42.5h0M129.5 76.5h0M145.5 67.5h0M65.5 49.5h0M176.5 61.5h0M70.5 87.5h0M269.5 68.5h0M269.5 51.5h0M105.5 71.5h0M78.5 60.5h0M121.5 72.5h0M143.5 74.5h0M102.5 62.5h0M258.5 65.5h0M49.5 58.5h0M121.5 58.5h0M57.5 56.5h0M176.5 60.5h0M174.5 66.5h0M173.5 73.5h0M186.5 56.5h0M98.5 63.5h0M75.5 59.5h0M237.5 55.5h0M255.5 31.5h0M174.5 72.5h0M141.5 70.5h0M159.5 62.5h0M205.5 73.5h0M266.5 59.5h0M83.5 50.5h0M109.5 74.5h0M268.5 77.5h0M85.5 56.5h0M149.5 66.5h0M237.5 71.5h0M192.5 59.5h0M146.5 63.5h0M36.5 69.5h0M131.5 79.5h0M162.5 60.5h0M85.5 54.5h0M120.5 72.5h0M87.5 66.5h0M49.5 61.5h0M220.5 48.5h0M169.5 54.5h0M249.5 69.5h0M252.5 60.5h0M176.5 59.5h0M267.5 56.5h0M167.5 33.5h0M251.5 69.5h0M149.5 53.5h0M98.5 40.5h0M156.5 75.5h0M72.5 66.5h0M89.5 62.5h0M145.5 66.5h0M55.5 62.5h0M174.5 78.5h0M278.5 60.5h0M280.5 51.5h0M145.5 61.5h0M261.5 69.5h0M79.5 57.5h0M183.5 35.5h0M156.5 66.5h0M260.5 64.5h0M198.5 64.5h0M273.5 71.5h0M43.5 48.5h0M206.5 44.5h0M86.5 61.5h0M242.5 63.5h0M87.5 61.5h0M246.5 47.5h0M65.5 57.5h0M108.5 67.5h0M86.5 56.5h0M275.5 62.5h0M58.5 76.5h0M162.5 63.5h0M53.5 53.5h0M147.5 53.5h0M170.5 76.5h0M53.5 65.5h0M52.5 63.5h0M98.5 55.5h0M246.5 69.5h0M173.5 62.5h0M251.5 63.5h0M243.5 67.5h0M276.5 66.5h0M172.5 58.5h0M64.5 68.5h0M255.5 64.5h0M164.5 64.5h0M262.5 61.5h0M120.5 60.5h0M215.5 61.5h0M261.5 69.5h0M52.5 64.5h0M159.5 74.5h0M143.5 68.5h0M59.5 62.5h0M236.5 64.5h0M267.5 55.5h0M174.5 58.5h0M92.5 61.5h0M276.5 75.5h0M137.5 59.5h0M65.5 61.5h0M228.5 58.5h0M206.5 62.5h0M89.5 65.5h0M182.5 57.5h0M259.5 57.5h0M242.5 49.5h0M193.5 65.5h0M170.5 55.5h0M264.5 55.5h0M154.5 75.5h0M59.5 50.5h0M104.5 70.5h0M187.5 68.5h0M267.5 58.5h0M56.5 65.5h0M38.5 71.5h0M211.5 69.5h0M270.5 60.5h0M188.5 70.5h0M153.5 75.5h0M61.5 60.5h0M54.5 76.5h0M170.5 59.5h0M250.5 59.5h0M188.5 62.5h0M116.5 61.5h0M48.5 59.5h0M95.5 53.5h0M41.5 56.5h0M42.5 60.5h0M263.5 62.5h0M164.5 55.5h0M255.5 56.5h0M73.5 58.5h0M277.5 48.5h0M276.5 55.5h0M129.5 59.5h0M119.5 66.5h0M41.5 68.5h0M138.5 65.5h0M37.5 62.5h0M255.5 64.5h0M54.5 84.5h0M91.5 71.5h0M129.5 67.5h0M60.5 61.5h0M179.5 74.5h0M139.5 74.5h0M180.5 81.5h0M125.5 52.5h0M198.5 62.5h0M255.5 57.5h0M252.5 63.5h0M110.5 67.5h0M246.5 63.5h0M274.5 62.5h0M62.5 61.5h0M105.5 59.5h0M38.5 59.5h0M99.5 80.5h0M71.5 58.5h0M178.5 70.5h0M270.5 55.5h0M249.5 59.5h0M250.5 52.5h0M81.5 70.5h0M99.5 77.5h0M54.5 54.5h0M206.5 60.5h0M64.5 62.5h0M278.5 63.5h0M99.5 71.5h0M153.5 64.5h0M236.5 70.5h0M189.5 58.5h0M52.5 64.5h0M262.5 82.5h0M219.5 55.5h0M159.5 74.5h0M73.5 69.5h0M239.5 44.5h0M199.5 69.5h0M167.5 48.5h0M70.5 69.5h0M273.5 60.5h0M178.5 50.5h0M193.5 63.5h0M241.5 75.5h0M238.5 52.5h0M79.5 81.5h0M218.5 93.5h0M143.5 40.5h0M83.5 93.5h0M92.5 59.5h0M70.5 73.5h0M192.5 79.5h0M235.5 64.5h0M161.5 57.5h0M258.5 72.5h0M211.5 37.5h0M160.5 52.5h0M169.5 68.5h0M69.5 65.5h0M85.5 31.5h0M130.5 67.5h0M83.5 50.5h0M243.5 60.5h0M277.5 57.5h0M266.5 67.5h0M142.5 53.5h0M254.5 53.5h0M82.5 70.5h0M49.5 75.5h0M171.5 69.5h0M151.5 69.5h0M50.5 73.5h0M75.5 69.5h0M153.5 56.5h0M158.5 73.5h0M210.5 54.5h0M102.5 53.5h0M71.5 54.5h0M177.5 76.5h0M280.5 56.5h0M216.5 62.5h0M234.5 50.5h0M237.5 58.5h0M264.5 56.5h0M260.5 75.5h0M76.5 68.5h0M98.5 69.5h0M232.5 72.5h0M153.5 63.5h0M267.5 73.5h0M175.5 56.5h0M39.5 42.5h0M92.5 69.5h0M65.5 64.5h0M172.5 58.5h0M35.5 63.5h0M62.5 66.5h0M157.5 63.5h0M65.5 57.5h0M79.5 54.5h0M81.5 75.5h0M105.5 60.5h0M139.5 55.5h0M74.5 65.5h0M126.5 77.5h0M174.5 72.5h0M159.5 56.5h0M148.5 76.5h0M170.5 70.5h0M173.5 64.5h0M84.5 77.5h0M55.5 85.5h0M247.5 66.5h0M201.5 36.5h0M65.5 51.5h0M68.5 67.5h0M186.5 69.5h0M65.5 46.5h0M71.5 69.5h0M63.5 72.5h0M166.5 57.5h0M61.5 60.5h0M138.5 53.5h0M278.5 70.5h0M226.5 51.5h0M177.5 79.5h0M103.5 61.5h0M196.5 65.5h0M64.5 66.5h0M267.5 55.5h0M249.5 66.5h0M243.5 68.5h0M148.5 89.5h0M61.5 74.5h0M128.5 69.5h0M216.5 61.5h0M150.5 59.5h0M257.5 52.5h0M163.5 69.5h0M50.5 75.5h0M41.5 63.5h0M135.5 68.5h0M77.5 80.5h0M256.5 50.5h0M224.5 57.5h0M86.5 72.5h0M140.5 51.5h0M127.5 48.5h0M123.5 69.5h0M87.5 67.5h0M74.5 46.5h0M56.5 74.5h0M136.5 56.5h0M239.5 73.5h0M177.5 60.5h0M229.5 63.5h0M220.5 68.5h0M148.5 72.5h0M164.5 63.5h0M103.5 60.5h0M189.5 69.5h0M215.5 61.5h0M32.5 62.5h0M213.5 68.5h0M248.5 66.5h0M257.5 70.5h0M249.5 41.5h0M127.5 66.5h0M68.5 69.5h0M117.5 70.5h0M251.5 63.5h0M200.5 68.5h0M158.5 77.5h0M50.5 61.5h0M170.5 68.5h0M249.5 59.5h0M184.5 59.5h0M122.5 55.5h0M33.5 48.5h0M84.5 71.5h0M105.5 70.5h0M165.5 69.5h0M42.5 47.5h0M166.5 67.5h0M146.5 47.5h0M236.5 53.5h0M228.5 62.5h0M60.5 59.5h0M188.5 69.5h0M246.5 61.5h0M62.5 69.5h0M90.5 62.5h0M223.5 66.5h0M104.5 66.5h0M242.5 72.5h0M48.5 71.5h0M152.5 72.5h0M234.5 55.5h0M199.5 73.5h0M183.5 43.5h0M71.5 81.5h0M221.5 59.5h0M211.5 74.5h0M214.5 62.5h0M146.5 61.5h0M137.5 72.5h0M68.5 64.5h0M269.5 52.5h0M99.5 45.5h0M119.5 42.5h0M183.5 62.5h0M273.5 69.5h0M87.5 54.5h0M105.5 67.5h0M55.5 57.5h0M191.5 69.5h0M98.5 83.5h0M199.5 54.5h0M261.5 65.5h0M254.5 70.5h0M246.5 71.5h0M271.5 65.5h0M157.5 71.5h0M261.5 75.5h0M54.5 75.5h0M208.5 59.5h0M61.5 64.5h0M124.5 64.5h0M177.5 62.5h0M202.5 75.5h0M76.5 61.5h0M54.5 60.5h0M67.5 65.5h0M186.5 45.5h0M76.5 69.5h0M260.5 60.5h0M201.5 71.5h0M107.5 61.5h0M189.5 64.5h0M182.5 70.5h0M70.5 69.5h0M170.5 52.5h0M87.5 62.5h0M67.5 67.5h0M240.5 71.5h0M269.5 67.5h0M53.5 65.5h0M181.5 73.5h0M75.5 69.5h0M247.5 60.5h0M165.5 60.5h0M175.5 71.5h0M267.5 74.5h0M245.5 57.5h0M263.5 63.5h0M243.5 66.5h0M169.5 52.5h0M254.5 63.5h0M155.5 71.5h0M156.5 78.5h0M161.5 60.5h0M179.5 65.5h0M49.5 61.5h0M69.5 77.5h0M85.5 60.5h0M150.5 82.5h0M153.5 65.5h0M256.5 63.5h0M172.5 72.5h0M248.5 58.5h0M118.5 64.5h0M176.5 69.5h0M192.5 65.5h0M54.5 55.5h0M276.5 69.5h0M108.5 67.5h0M258.5 66.5h0M94.5 65.5h0M90.5 66.5h0M32.5 60.5h0M90.5 59.5h0M178.5 62.5h0M56.5 75.5h0M155.5 66.5h0M149.5 73.5h0M119.5 43.5h0M233.5 80.5h0M92.5 67.5h0M106.5 63.5h0M77.5 61.5h0M183.5 58.5h0M58.5 68.5h0M174.5 60.5h0M150.5 65.5h0M159.5 56.5h0M265.5 82.5h0M43.5 63.5h0M78.5 73.5h0M52.5 61.5h0M246.5 46.5h0M166.5 70.5h0M40.5 62.5h0M157.5 69.5h0M59.5 59.5h0M53.5 70.5h0M244.5 53.5h0M152.5 57.5h0M122.5 66.5h0M53.5 73.5h0M182.5 66.5h0M273.5 52.5h0M126.5 68.5h0M54.5 70.5h0M247.5 69.5h0M75.5 65.5h0M67.5 66.5h0M252.5 76.5h0M84.5 63.5h0M176.5 72.5h0M38.5 68.5h0M202.5 55.5h0M68.5 61.5h0M169.5 68.5h0M147.5 77.5h0M84.5 48.5h0M81.5 59.5h0M243.5 75.5h0M272.5 63.5h0M272.5 66.5h0M78.5 72.5h0M83.5 72.5h0M179.5 63.5h0M158.5 79.5h0M41.5 57.5h0M186.5 71.5h0M165.5 64.5h0M92.5 42.5h0M178.5 73.5h0M68.5 61.5h0M250.5 61.5h0M161.5 55.5h0M247.5 73.5h0M179.5 64.5h0M50.5 65.5h0M76.5 77.5h0M74.5 62.5h0M119.5 72.5h0M260.5 51.5h0M214.5 66.5h0M96.5 60.5h0M50.5 55.5h0M205.5 62.5h0M101.5 67.5h0M158.5 67.5h0M254.5 63.5h0M130.5 77.5h0M63.5 62.5h0M230.5 62.5h0M79.5 51.5h0M60.5 68.5h0M113.5 64.5h0M197.5 54.5h0M163.5 67.5h0M177.5 64.5h0M214.5 68.5h0M83.5 62.5h0M84.5 61.5h0M270.5 64.5h0M202.5 73.5h0M42.5 75.5h0M86.5 69.5h0M96.5 45.5h0M260.5 74.5h0M191.5 71.5h0M79.5 52.5h0M243.5 72.5h0M279.5 71.5h0M170.5 71.5h0M132.5 62.5h0M140.5 53.5h0M196.5 73.5h0M55.5 67.5h0M55.5 67.5h0M191.5 69.5h0M87.5 73.5h0M235.5 54.5h0M64.5 57.5h0M46.5 64.5h0M198.5 62.5h0M206.5 59.5h0M253.5 64.5h0M38.5 68.5h0M181.5 60.5h0M269.5 64.5h0M107.5 40.5h0M34.5 70.5h0M252.5 69.5h0M50.5 67.5h0M122.5 60.5h0M183.5 56.5h0M89.5 53.5h0M183.5 45.5h0M130.5 56.5h0M93.5 76.5h0M107.5 67.5h0M74.5 67.5h0M65.5 66.5h0M185.5 84.5h0M178.5 61.5h0M79.5 68.5h0M86.5 46.5h0M186.5 58.5h0M75.5 58.5h0M120.5 60.5h0M64.5 65.5h0M169.5 58.5h0M179.5 69.5h0M99.5 63.5h0M60.5 63.5h0M67.5 67.5h0M131.5 64.5h0M261.5 76.5h0M174.5 53.5h0M136.5 69.5h0M242.5 50.5h0M144.5 56.5h0M96.5 66.5h0M267.5 61.5h0M236.5 56.5h0M252.5 57.5h0M105.5 57.5h0M87.5 57.5h0M74.5 64.5h0M270.5 70.5h0M256.5 93.5h0M186.5 63.5h0M174.5 58.5h0M278.5 70.5h0M156.5 71.5h0M222.5 68.5h0M80.5 66.5h0M242.5 58.5h0M62.5 60.5h0M226.5 60.5h0M183.5 34.5h0M211.5 62.5h0M271.5 75.5h0M249.5 69.5h0M187.5 65.5h0M205.5 69.5h0M277.5 65.5h0M228.5 58.5h0M149.5 63.5h0M274.5 72.5h0M274.5 65.5h0M84.5 65.5h0M126.5 62.5h0M139.5 56.5h0M153.5 78.5h0M246.5 69.5h0M152.5 57.5h0M189.5 64.5h0M228.5 59.5h0M183.5 64.5h0M263.5 51.5h0M276.5 68.5h0M253.5 69.5h0M53.5 64.5h0M176.5 66.5h0M99.5 46.5h0M203.5 71.5h0M238.5 75.5h0M241.5 89.5h0M99.5 52.5h0M251.5 57.5h0M126.5 61.5h0M241.5 72.5h0M277.5 65.5h0M91.5 49.5h0M241.5 55.5h0M80.5 64.5h0M223.5 49.5h0M109.5 60.5h0M94.5 60.5h0M255.5 69.5h0M87.5 59.5h0M266.5 63.5h0M142.5 65.5h0M280.5 80.5h0M214.5 50.5h0M240.5 58.5h0M167.5 64.5h0M273.5 68.5h0M210.5 94.5h0M141.5 56.5h0M46.5 70.5h0M79.5 72.5h0M247.5 68.5h0M266.5 69.5h0M134.5 86.5h0M143.5 46.5h0M72.5 74.5h0M246.5 52.5h0M239.5 65.5h0M252.5 72.5h0M106.5 56.5h0M253.5 60.5h0M274.5 54.5h0M230.5 66.5h0M118.5 70.5h0M125.5 64.5h0M156.5 58.5h0M260.5 52.5h0M156.5 82.5h0M138.5 80.5h0M47.5 74.5h0M84.5 74.5h0M150.5 65.5h0M150.5 74.5h0M80.5 64.5h0M190.5 73.5h0M92.5 59.5h0M197.5 62.5h0M173.5 67.5h0M248.5 52.5h0M97.5 57.5h0M274.5 80.5h0M242.5 75.5h0M155.5 69.5h0M84.5 72.5h0M173.5 75.5h0M78.5 47.5h0M120.5 77.5h0M182.5 70.5h0M242.5 65.5h0M169.5 66.5h0M94.5 54.5h0M162.5 66.5h0M98.5 65.5h0M81.5 64.5h0M230.5 53.5h0M275.5 60.5h0M182.5 57.5h0M74.5 71.5h0M143.5 60.5h0M266.5 41.5h0M271.5 59.5h0M50.5 74.5h0M86.5 72.5h0M267.5 67.5h0M88.5 63.5h0M270.5 60.5h0M43.5 56.5h0M165.5 67.5h0M139.5 65.5h0M266.5 55.5h0M37.5 72.5h0M248.5 66.5h0M182.5 59.5h0M160.5 57.5h0M189.5 65.5h0M257.5 74.5h0M97.5 60.5h0M278.5 53.5h0M161.5 68.5h0M40.5 66.5h0M221.5 60.5h0M172.5 55.5h0M180.5 66.5h0M247.5 68.5h0M196.5 71.5h0M190.5 61.5h0M137.5 62.5h0M234.5 82.5h0M56.5 63.5h0M212.5 74.5h0M254.5 57.5h0M267.5 71.5h0M142.5 48.5h0M173.5 57.5h0M175.5 66.5h0M180.5 63.5h0M218.5 73.5h0M151.5 75.5h0M96.5 63.5h0M228.5 48.5h0M158.5 85.5h0M206.5 66.5h0M128.5 74.5h0M257.5 62.5h0M130.5 69.5h0M181.5 65.5h0M164.5 72.5h0M99.5 90.5h0M47.5 73.5h0M70.5 60.5h0M138.5 65.5h0M70.5 59.5h0M136.5 78.5h0M189.5 60.5h0M83.5 67.5h0M192.5 61.5h0M194.5 66.5h0M89.5 60.5h0M254.5 71.5h0M268.5 67.5h0M263.5 67.5h0M88.5 58.5h0M167.5 84.5h0M235.5 65.5h0M38.5 65.5h0M95.5 60.5h0M88.5 91.5h0M87.5 70.5h0M280.5 63.5h0M183.5 65.5h0M54.5 56.5h0M106.5 61.5h0M62.5 69.5h0M94.5 72.5h0M65.5 52.5h0M255.5 69.5h0M34.5 69.5h0M112.5 54.5h0M107.5 62.5h0M176.5 65.5h0M157.5 71.5h0M118.5 74.5h0M111.5 68.5h0M205.5 60.5h0M157.5 71.5h0M91.5 59.5h0M220.5 60.5h0M166.5 55.5h0M190.5 58.5h0M51.5 62.5h0M146.5 60.5h0M160.5 64.5h0M125.5 56.5h0M65.5 66.5h0M156.5 72.5h0M177.5 64.5h0M80.5 62.5h0M125.5 75.5h0M110.5 54.5h0M79.5 69.5h0M134.5 55.5h0M164.5 70.5h0M239.5 51.5h0M121.5 62.5h0M200.5 67.5h0M74.5 62.5h0M91.5 64.5h0M246.5 62.5h0M217.5 68.5h0M210.5 63.5h0M236.5 58.5h0M254.5 69.5h0M265.5 69.5h0M263.5 61.5h0M99.5 70.5h0M151.5 42.5h0M79.5 70.5h0M58.5 59.5h0M189.5 72.5h0M133.5 58.5h0M71.5 67.5h0M155.5 75.5h0M114.5 56.5h0M223.5 68.5h0M272.5 46.5h0M175.5 71.5h0M172.5 63.5h0M161.5 65.5h0M108.5 71.5h0M39.5 72.5h0M246.5 60.5h0M239.5 51.5h0M183.5 64.5h0M80.5 43.5h0M105.5 51.5h0M236.5 56.5h0M151.5 64.5h0M123.5 53.5h0M249.5 58.5h0M274.5 71.5h0M270.5 70.5h0M161.5 66.5h0M237.5 43.5h0M197.5 60.5h0M165.5 43.5h0M255.5 60.5h0M171.5 71.5h0M228.5 55.5h0M260.5 62.5h0M239.5 67.5h0M79.5 63.5h0M167.5 63.5h0M245.5 68.5h0M273.5 72.5h0M219.5 63.5h0M262.5 70.5h0M95.5 75.5h0M168.5 57.5h0M271.5 67.5h0M234.5 83.5h0M73.5 76.5h0M259.5 67.5h0M150.5 81.5h0M159.5 62.5h0M257.5 74.5h0M147.5 71.5h0M242.5 57.5h0M149.5 66.5h0M205.5 74.5h0M78.5 61.5h0M184.5 55.5h0M136.5 58.5h0M94.5 41.5h0M140.5 56.5h0M106.5 68.5h0M149.5 72.5h0M157.5 78.5h0M46.5 76.5h0M174.5 78.5h0M267.5 74.5h0M244.5 62.5h0M224.5 67.5h0M74.5 68.5h0M76.5 59.5h0M197.5 73.5h0M160.5 65.5h0M44.5 59.5h0M88.5 58.5h0M263.5 70.5h0M61.5 54.5h0M261.5 49.5h0M49.5 55.5h0M82.5 63.5h0M115.5 61.5h0M64.5 73.5h0M166.5 59.5h0M219.5 70.5h0M200.5 56.5h0M263.5 56.5h0M197.5 59.5h0M143.5 65.5h0M164.5 66.5h0M201.5 63.5h0M166.5 61.5h0M98.5 94.5h0M40.5 66.5h0M263.5 57.5h0M228.5 66.5h0M59.5 55.5h0M62.5 60.5h0M261.5 71.5h0M203.5 61.5h0M48.5 61.5h0M251.5 52.5h0M184.5 59.5h0M84.5 68.5h0M55.5 63.5h0M43.5 52.5h0M113.5 63.5h0M61.5 66.5h0M241.5 87.5h0M184.5 65.5h0M77.5 72.5h0M38.5 63.5h0M242.5 65.5h0M93.5 65.5h0M176.5 88.5h0M273.5 68.5h0M94.5 64.5h0M83.5 71.5h0M247.5 66.5h0M204.5 60.5h0M269.5 72.5h0M139.5 67.5h0M42.5 74.5h0M110.5 67.5h0M76.5 55.5h0M32.5 60.5h0M163.5 66.5h0M69.5 66.5h0M237.5 68.5h0M60.5 67.5h0M55.5 72.5h0M178.5 58.5h0M232.5 56.5h0M246.5 46.5h0M94.5 58.5h0M38.5 69.5h0M267.5 78.5h0M178.5 74.5h0M266.5 49.5h0M241.5 60.5h0M197.5 80.5h0M222.5 60.5h0M74.5 64.5h0M256.5 67.5h0M244.5 64.5h0M150.5 50.5h0M141.5 65.5h0M155.5 61.5h0M174.5 67.5h0M73.5 70.5h0M268.5 65.5h0M181.5 45.5h0M68.5 64.5h0M281.5 69.5h0M263.5 57.5h0M242.5 60.5h0M77.5 52.5h0M75.5 43.5h0M208.5 54.5h0M91.5 64.5h0M242.5 63.5h0M267.5 62.5h0M74.5 59.5h0M280.5 63.5h0M173.5 66.5h0M153.5 64.5h0M48.5 48.5h0M159.5 88.5h0M182.5 61.5h0M160.5 52.5h0M216.5 67.5h0M154.5 74.5h0M74.5 62.5h0M240.5 71.5h0M186.5 47.5h0M37.5 57.5h0M140.5 70.5h0M193.5 57.5h0M230.5 77.5h0M149.5 63.5h0M72.5 66.5h0M66.5 56.5h0M255.5 52.5h0M97.5 58.5h0M178.5 55.5h0M93.5 67.5h0M113.5 64.5h0M35.5 59.5h0M54.5 56.5h0M213.5 61.5h0M186.5 59.5h0M159.5 68.5h0M254.5 72.5h0M226.5 75.5h0M251.5 42.5h0M108.5 55.5h0M277.5 62.5h0M269.5 63.5h0M232.5 55.5h0M77.5 60.5h0M80.5 66.5h0M40.5 54.5h0M174.5 57.5h0M99.5 69.5h0M150.5 55.5h0M104.5 61.5h0M279.5 58.5h0M123.5 69.5h0M249.5 51.5h0M143.5 74.5h0M247.5 65.5h0M208.5 62.5h0M246.5 68.5h0M212.5 69.5h0M186.5 69.5h0M253.5 65.5h0M146.5 78.5h0M103.5 57.5h0M240.5 78.5h0M104.5 58.5h0M275.5 69.5h0M142.5 89.5h0M48.5 77.5h0M257.5 58.5h0M45.5 52.5h0M135.5 63.5h0M167.5 74.5h0M153.5 77.5h0M147.5 67.5h0M242.5 90.5h0M115.5 51.5h0M278.5 60.5h0M239.5 72.5h0M74.5 67.5h0M79.5 80.5h0M249.5 62.5h0M231.5 60.5h0M77.5 68.5h0M155.5 63.5h0M64.5 67.5h0M158.5 89.5h0M73.5 79.5h0M199.5 83.5h0M146.5 72.5h0M174.5 60.5h0M136.5 69.5h0M106.5 70.5h0M163.5 56.5h0M69.5 66.5h0M225.5 58.5h0M168.5 59.5h0M151.5 63.5h0M212.5 72.5h0M67.5 57.5h0M265.5 69.5h0M146.5 69.5h0M152.5 69.5h0M58.5 58.5h0M38.5 57.5h0M92.5 70.5h0M90.5 62.5h0M95.5 66.5h0M257.5 65.5h0M278.5 60.5h0M255.5 67.5h0M161.5 64.5h0M253.5 64.5h0M235.5 74.5h0M224.5 39.5h0M275.5 62.5h0M236.5 54.5h0M177.5 56.5h0M89.5 70.5h0M34.5 69.5h0M89.5 72.5h0M69.5 59.5h0M97.5 73.5h0M73.5 60.5h0M247.5 68.5h0M63.5 94.5h0M244.5 68.5h0M183.5 64.5h0M98.5 59.5h0M91.5 78.5h0M178.5 55.5h0M185.5 58.5h0M97.5 47.5h0M66.5 69.5h0M219.5 68.5h0M226.5 60.5h0M236.5 49.5h0M252.5 81.5h0M268.5 71.5h0M43.5 53.5h0M46.5 42.5h0M48.5 71.5h0M162.5 64.5h0M109.5 70.5h0M139.5 56.5h0M196.5 67.5h0M273.5 60.5h0M90.5 68.5h0M49.5 58.5h0M72.5 57.5h0M259.5 66.5h0M84.5 73.5h0M68.5 71.5h0M153.5 48.5h0M79.5 61.5h0M102.5 49.5h0M143.5 59.5h0M152.5 67.5h0M247.5 75.5h0M152.5 70.5h0M269.5 70.5h0M161.5 70.5h0M147.5 64.5h0M104.5 48.5h0M128.5 57.5h0M274.5 67.5h0M166.5 67.5h0M78.5 66.5h0M64.5 64.5h0M191.5 65.5h0M168.5 67.5h0M158.5 65.5h0M185.5 71.5h0M50.5 63.5h0M48.5 59.5h0M102.5 77.5h0M210.5 56.5h0M249.5 54.5h0M174.5 67.5h0M230.5 59.5h0M131.5 48.5h0M173.5 73.5h0M269.5 66.5h0M135.5 62.5h0M55.5 50.5h0M93.5 69.5h0M164.5 59.5h0M84.5 61.5h0M98.5 68.5h0M140.5 71.5h0M277.5 59.5h0M136.5 85.5h0M200.5 69.5h0M217.5 68.5h0M210.5 59.5h0M238.5 56.5h0M132.5 64.5h0M91.5 90.5h0M88.5 59.5h0M57.5 65.5h0M51.5 57.5h0M247.5 70.5h0M262.5 79.5h0M237.5 72.5h0M88.5 60.5h0M168.5 54.5h0M177.5 67.5h0M180.5 66.5h0M152.5 61.5h0M140.5 67.5h0M41.5 61.5h0M205.5 56.5h0M130.5 47.5h0M159.5 46.5h0M108.5 59.5h0M39.5 74.5h0M252.5 40.5h0M240.5 71.5h0M267.5 59.5h0M228.5 64.5h0M191.5 60.5h0M50.5 64.5h0M241.5 62.5h0M66.5 56.5h0M63.5 68.5h0M259.5 60.5h0M135.5 62.5h0M54.5 32.5h0M88.5 96.5h0M91.5 66.5h0M154.5 74.5h0M51.5 81.5h0M159.5 62.5h0M111.5 54.5h0M52.5 57.5h0M141.5 61.5h0M179.5 89.5h0M115.5 67.5h0M270.5 70.5h0M248.5 81.5h0M113.5 51.5h0M243.5 73.5h0M52.5 60.5h0M233.5 66.5h0M277.5 74.5h0M83.5 64.5h0M87.5 63.5h0M148.5 67.5h0M128.5 61.5h0M62.5 69.5h0M73.5 62.5h0M273.5 65.5h0M83.5 76.5h0M111.5 63.5h0M49.5 64.5h0M202.5 70.5h0M149.5 88.5h0M238.5 64.5h0M93.5 49.5h0M44.5 61.5h0M169.5 64.5h0M280.5 70.5h0M41.5 58.5h0M142.5 58.5h0M171.5 57.5h0M112.5 72.5h0M102.5 57.5h0M265.5 56.5h0M87.5 57.5h0M203.5 63.5h0M71.5 53.5h0M81.5 59.5h0M126.5 58.5h0M145.5 63.5h0M89.5 65.5h0M260.5 54.5h0M93.5 65.5h0M121.5 66.5h0M99.5 64.5h0M186.5 77.5h0M166.5 63.5h0M224.5 59.5h0M93.5 61.5h0M133.5 64.5h0M170.5 57.5h0M43.5 70.5h0M114.5 54.5h0M84.5 61.5h0M66.5 78.5h0M89.5 74.5h0M196.5 62.5h0M58.5 64.5h0M238.5 63.5h0M248.5 62.5h0M268.5 52.5h0M60.5 60.5h0M49.5 71.5h0M55.5 66.5h0M81.5 65.5h0M184.5 77.5h0M48.5 76.5h0M120.5 64.5h0M126.5 66.5h0M185.5 75.5h0M126.5 49.5h0M120.5 58.5h0M95.5 65.5h0M71.5 69.5h0M168.5 57.5h0M158.5 72.5h0M141.5 65.5h0M189.5 64.5h0M53.5 57.5h0M104.5 62.5h0M204.5 74.5h0M207.5 62.5h0M43.5 60.5h0M115.5 79.5h0M132.5 58.5h0M140.5 65.5h0M180.5 72.5h0M228.5 48.5h0M175.5 66.5h0M90.5 67.5h0M258.5 61.5h0M244.5 64.5h0M151.5 67.5h0M49.5 49.5h0M181.5 64.5h0M180.5 64.5h0M265.5 60.5h0M155.5 63.5h0M269.5 58.5h0M65.5 65.5h0M196.5 61.5h0M122.5 74.5h0M134.5 61.5h0M259.5 52.5h0M239.5 69.5h0M119.5 71.5h0M169.5 68.5h0M78.5 60.5h0M227.5 74.5h0M66.5 75.5h0M238.5 64.5h0M197.5 68.5h0M259.5 63.5h0M207.5 46.5h0M42.5 57.5h0M49.5 68.5h0M45.5 68.5h0M58.5 59.5h0M59.5 59.5h0M111.5 67.5h0M170.5 69.5h0M148.5 69.5h0M215.5 47.5h0M135.5 63.5h0M279.5 74.5h0M211.5 60.5h0M225.5 69.5h0M47.5 62.5h0M249.5 76.5h0M261.5 70.5h0M47.5 60.5h0M59.5 57.5h0M257.5 61.5h0M185.5 62.5h0M107.5 55.5h0M192.5 59.5h0M95.5 63.5h0M50.5 59.5h0M260.5 88.5h0M149.5 69.5h0M223.5 69.5h0M237.5 93.5h0M222.5 58.5h0M252.5 71.5h0M191.5 71.5h0M226.5 64.5h0M259.5 60.5h0M75.5 55.5h0M130.5 76.5h0M148.5 72.5h0M202.5 58.5h0M87.5 58.5h0M128.5 57.5h0M73.5 64.5h0M87.5 56.5h0M88.5 64.5h0M87.5 58.5h0M53.5 67.5h0M106.5 65.5h0M257.5 76.5h0M129.5 49.5h0M171.5 43.5h0M158.5 73.5h0M240.5 67.5h0M157.5 56.5h0M44.5 51.5h0M65.5 79.5h0M165.5 44.5h0M237.5 65.5h0M49.5 84.5h0M212.5 60.5h0M115.5 73.5h0M258.5 67.5h0M163.5 54.5h0M267.5 56.5h0M39.5 58.5h0M164.5 66.5h0M43.5 52.5h0M59.5 80.5h0M64.5 37.5h0M171.5 69.5h0M67.5 77.5h0M167.5 51.5h0M206.5 70.5h0M62.5 62.5h0M268.5 63.5h0M68.5 60.5h0M176.5 70.5h0M237.5 62.5h0M243.5 55.5h0M142.5 63.5h0M59.5 56.5h0M38.5 73.5h0M177.5 53.5h0M173.5 58.5h0M127.5 62.5h0M94.5 58.5h0M239.5 70.5h0M189.5 47.5h0M68.5 79.5h0M269.5 82.5h0M226.5 56.5h0M86.5 64.5h0M60.5 51.5h0M184.5 61.5h0M54.5 84.5h0M228.5 70.5h0M57.5 73.5h0M40.5 46.5h0M101.5 60.5h0M210.5 70.5h0M156.5 78.5h0M253.5 72.5h0M129.5 55.5h0M157.5 59.5h0M195.5 55.5h0M217.5 63.5h0M232.5 66.5h0M248.5 66.5h0M83.5 54.5h0M144.5 62.5h0M142.5 58.5h0M236.5 70.5h0M90.5 60.5h0M96.5 66.5h0M243.5 68.5h0M235.5 64.5h0M145.5 68.5h0M141.5 71.5h0M85.5 68.5h0M35.5 70.5h0M266.5 58.5h0M250.5 63.5h0M171.5 68.5h0M171.5 66.5h0M121.5 54.5h0M158.5 59.5h0M171.5 68.5h0M151.5 57.5h0M142.5 62.5h0M46.5 68.5h0M223.5 61.5h0M238.5 59.5h0M187.5 70.5h0M150.5 54.5h0M144.5 68.5h0M141.5 49.5h0M274.5 58.5h0M149.5 61.5h0M215.5 88.5h0M155.5 84.5h0M224.5 49.5h0M217.5 33.5h0M162.5 61.5h0M221.5 58.5h0M98.5 64.5h0M82.5 71.5h0M226.5 67.5h0M49.5 64.5h0M56.5 68.5h0M126.5 63.5h0M56.5 73.5h0M77.5 66.5h0M207.5 67.5h0M65.5 47.5h0M146.5 56.5h0M177.5 63.5h0M266.5 80.5h0M114.5 54.5h0M58.5 73.5h0M232.5 61.5h0M78.5 59.5h0M67.5 52.5h0M35.5 64.5h0M246.5 64.5h0M195.5 64.5h0M56.5 65.5h0M96.5 57.5h0M229.5 68.5h0M58.5 73.5h0M251.5 64.5h0M167.5 59.5h0M78.5 65.5h0M168.5 71.5h0M76.5 60.5h0M61.5 63.5h0M209.5 73.5h0M163.5 48.5h0M170.5 63.5h0M159.5 65.5h0M174.5 57.5h0M68.5 77.5h0M54.5 70.5h0M57.5 53.5h0M89.5 66.5h0M70.5 62.5h0M131.5 75.5h0M37.5 62.5h0M275.5 61.5h0M251.5 61.5h0M77.5 58.5h0M278.5 40.5h0M210.5 70.5h0M133.5 56.5h0M246.5 66.5h0M188.5 51.5h0M58.5 74.5h0M55.5 56.5h0M229.5 65.5h0M104.5 57.5h0M139.5 46.5h0M183.5 61.5h0M105.5 60.5h0M219.5 66.5h0M51.5 79.5h0M178.5 64.5h0M263.5 57.5h0M87.5 62.5h0M99.5 69.5h0M245.5 83.5h0M226.5 59.5h0M97.5 57.5h0M157.5 70.5h0M235.5 57.5h0M48.5 60.5h0M89.5 69.5h0M90.5 63.5h0M241.5 70.5h0M254.5 57.5h0M180.5 66.5h0M77.5 75.5h0M92.5 58.5h0M78.5 58.5h0M32.5 60.5h0M38.5 49.5h0M143.5 58.5h0M176.5 62.5h0M66.5 65.5h0M78.5 52.5h0M58.5 76.5h0M97.5 71.5h0M60.5 54.5h0M61.5 83.5h0M150.5 59.5h0M49.5 73.5h0M192.5 50.5h0M257.5 58.5h0M83.5 75.5h0M86.5 59.5h0M168.5 79.5h0M45.5 58.5h0M170.5 61.5h0M82.5 64.5h0M221.5 88.5h0M68.5 54.5h0M164.5 70.5h0M150.5 62.5h0M148.5 41.5h0M143.5 49.5h0M147.5 93.5h0M67.5 75.5h0M65.5 43.5h0M174.5 58.5h0M148.5 71.5h0M177.5 62.5h0M163.5 58.5h0M277.5 50.5h0M97.5 67.5h0M94.5 77.5h0M279.5 70.5h0M243.5 73.5h0M274.5 69.5h0M146.5 69.5h0M238.5 63.5h0M230.5 53.5h0M85.5 59.5h0M166.5 60.5h0M47.5 57.5h0M232.5 60.5h0M239.5 57.5h0M185.5 70.5h0M172.5 81.5h0M100.5 64.5h0M227.5 75.5h0M85.5 61.5h0M65.5 60.5h0M111.5 60.5h0M200.5 58.5h0M52.5 54.5h0M261.5 79.5h0M82.5 62.5h0M251.5 58.5h0M170.5 65.5h0M178.5 59.5h0M152.5 69.5h0M79.5 74.5h0M218.5 51.5h0M149.5 61.5h0M247.5 61.5h0M240.5 59.5h0M90.5 79.5h0M114.5 70.5h0M217.5 61.5h0M239.5 59.5h0M182.5 57.5h0M40.5 52.5h0M254.5 69.5h0M122.5 64.5h0M59.5 75.5h0M169.5 56.5h0M67.5 64.5h0M168.5 66.5h0M206.5 71.5h0M235.5 54.5h0M153.5 68.5h0M168.5 59.5h0M166.5 62.5h0M130.5 67.5h0M189.5 58.5h0M111.5 62.5h0M266.5 62.5h0M227.5 66.5h0M66.5 49.5h0M91.5 56.5h0M269.5 54.5h0M140.5 59.5h0M251.5 65.5h0M223.5 55.5h0M89.5 60.5h0M126.5 53.5h0M237.5 65.5h0M262.5 73.5h0M225.5 64.5h0M67.5 48.5h0M179.5 73.5h0M179.5 58.5h0M248.5 73.5h0M95.5 61.5h0M262.5 63.5h0M153.5 79.5h0M193.5 68.5h0M78.5 65.5h0M259.5 62.5h0M64.5 54.5h0M263.5 54.5h0M261.5 56.5h0M47.5 66.5h0M161.5 65.5h0M198.5 66.5h0M264.5 64.5h0M66.5 70.5h0M265.5 75.5h0M224.5 67.5h0M244.5 68.5h0M163.5 75.5h0M58.5 53.5h0M110.5 57.5h0M75.5 81.5h0M226.5 57.5h0M83.5 74.5h0M81.5 73.5h0M145.5 67.5h0M52.5 46.5h0M57.5 58.5h0M45.5 58.5h0M71.5 64.5h0M47.5 66.5h0M80.5 61.5h0M186.5 54.5h0M177.5 62.5h0M167.5 63.5h0M181.5 62.5h0M80.5 70.5h0M136.5 73.5h0M238.5 66.5h0M59.5 60.5h0M183.5 59.5h0M243.5 69.5h0M163.5 61.5h0M202.5 69.5h0M83.5 82.5h0M264.5 57.5h0M150.5 69.5h0M86.5 57.5h0M243.5 41.5h0M188.5 68.5h0M125.5 63.5h0M149.5 72.5h0M250.5 59.5h0M219.5 58.5h0M261.5 74.5h0M238.5 69.5h0M138.5 56.5h0M91.5 88.5h0M121.5 67.5h0M194.5 53.5h0M65.5 66.5h0M247.5 55.5h0M279.5 66.5h0M138.5 76.5h0M102.5 66.5h0M279.5 57.5h0M261.5 69.5h0M198.5 64.5h0M166.5 54.5h0M274.5 57.5h0M33.5 69.5h0M262.5 54.5h0M151.5 65.5h0M279.5 68.5h0M130.5 56.5h0M117.5 64.5h0M215.5 46.5h0M177.5 65.5h0M75.5 52.5h0M133.5 64.5h0M271.5 55.5h0M176.5 74.5h0M237.5 74.5h0M73.5 60.5h0M245.5 69.5h0M147.5 60.5h0M49.5 62.5h0M103.5 59.5h0M166.5 71.5h0M86.5 57.5h0M252.5 64.5h0M75.5 61.5h0M45.5 67.5h0M257.5 56.5h0M183.5 65.5h0M182.5 69.5h0M50.5 83.5h0M141.5 68.5h0M157.5 59.5h0M153.5 75.5h0M228.5 65.5h0M169.5 74.5h0M46.5 77.5h0M157.5 49.5h0M123.5 74.5h0M82.5 64.5h0M86.5 66.5h0M64.5 69.5h0M231.5 66.5h0M258.5 62.5h0M88.5 63.5h0M33.5 65.5h0M165.5 64.5h0M276.5 55.5h0M90.5 62.5h0M255.5 72.5h0M196.5 62.5h0M72.5 43.5h0M145.5 64.5h0M85.5 58.5h0M182.5 59.5h0M193.5 59.5h0M161.5 86.5h0M220.5 56.5h0M70.5 65.5h0M148.5 49.5h0M91.5 71.5h0M57.5 56.5h0M257.5 61.5h0M258.5 67.5h0M170.5 54.5h0M100.5 47.5h0M152.5 58.5h0M264.5 62.5h0M258.5 67.5h0M254.5 64.5h0M263.5 75.5h0M244.5 65.5h0M70.5 71.5h0M36.5 58.5h0M112.5 55.5h0M47.5 60.5h0M90.5 55.5h0M79.5 57.5h0M157.5 70.5h0M264.5 62.5h0M148.5 52.5h0M198.5 72.5h0M274.5 60.5h0M193.5 82.5h0M127.5 49.5h0M236.5 62.5h0M87.5 68.5h0M83.5 66.5h0M188.5 68.5h0M175.5 60.5h0M79.5 69.5h0M181.5 71.5h0M71.5 83.5h0M172.5 66.5h0M204.5 63.5h0M91.5 59.5h0M96.5 57.5h0M42.5 70.5h0M171.5 61.5h0M184.5 59.5h0M261.5 59.5h0M56.5 55.5h0M113.5 61.5h0M275.5 69.5h0M167.5 64.5h0M151.5 65.5h0M139.5 65.5h0M166.5 72.5h0M224.5 61.5h0M45.5 68.5h0M50.5 58.5h0M57.5 60.5h0M72.5 65.5h0M82.5 65.5h0M143.5 57.5h0M248.5 54.5h0M154.5 84.5h0M168.5 52.5h0M117.5 38.5h0M239.5 55.5h0M270.5 39.5h0M208.5 62.5h0M273.5 91.5h0M188.5 64.5h0M156.5 65.5h0M276.5 49.5h0M266.5 57.5h0M62.5 64.5h0M82.5 54.5h0M186.5 68.5h0M68.5 66.5h0M182.5 72.5h0M164.5 71.5h0M248.5 59.5h0M216.5 72.5h0M193.5 62.5h0M73.5 75.5h0M83.5 59.5h0M192.5 72.5h0M113.5 56.5h0M167.5 33.5h0M109.5 66.5h0M249.5 64.5h0M149.5 52.5h0M102.5 65.5h0M237.5 57.5h0M92.5 67.5h0M80.5 55.5h0M198.5 69.5h0M219.5 77.5h0M181.5 50.5h0M147.5 60.5h0M60.5 67.5h0M86.5 75.5h0M215.5 62.5h0M167.5 68.5h0M108.5 64.5h0M226.5 69.5h0M101.5 67.5h0M181.5 64.5h0M78.5 60.5h0M222.5 56.5h0M142.5 68.5h0M115.5 55.5h0M234.5 68.5h0M131.5 64.5h0M89.5 57.5h0M241.5 54.5h0M71.5 59.5h0M266.5 51.5h0M229.5 63.5h0M159.5 79.5h0M177.5 63.5h0M264.5 61.5h0M171.5 57.5h0M168.5 73.5h0M225.5 51.5h0M147.5 71.5h0M193.5 59.5h0M141.5 45.5h0M78.5 58.5h0M177.5 54.5h0M159.5 75.5h0M240.5 52.5h0M273.5 50.5h0M54.5 72.5h0M258.5 61.5h0M273.5 44.5h0M137.5 55.5h0M147.5 54.5h0M57.5 63.5h0M202.5 62.5h0M92.5 53.5h0M83.5 81.5h0M147.5 63.5h0M239.5 59.5h0M50.5 66.5h0M170.5 66.5h0M262.5 51.5h0M248.5 64.5h0M68.5 61.5h0M100.5 54.5h0M48.5 67.5h0M240.5 59.5h0M242.5 74.5h0M183.5 61.5h0M43.5 71.5h0M75.5 73.5h0M253.5 64.5h0M65.5 63.5h0M214.5 69.5h0M280.5 49.5h0M225.5 72.5h0M65.5 78.5h0M48.5 67.5h0M152.5 38.5h0M67.5 64.5h0M186.5 59.5h0M156.5 61.5h0M119.5 78.5h0M133.5 61.5h0M281.5 69.5h0M225.5 57.5h0M63.5 64.5h0M150.5 67.5h0M211.5 63.5h0M273.5 74.5h0M234.5 64.5h0M218.5 72.5h0M60.5 47.5h0M50.5 56.5h0M57.5 68.5h0M177.5 56.5h0M262.5 69.5h0M251.5 58.5h0M264.5 48.5h0M165.5 55.5h0M235.5 67.5h0M250.5 69.5h0M82.5 70.5h0M237.5 51.5h0M245.5 57.5h0M70.5 63.5h0M186.5 73.5h0M49.5 55.5h0M83.5 61.5h0M112.5 68.5h0M277.5 62.5h0M83.5 55.5h0M108.5 62.5h0M244.5 62.5h0M106.5 50.5h0M279.5 72.5h0M64.5 73.5h0M96.5 74.5h0M40.5 67.5h0M261.5 84.5h0M278.5 49.5h0M260.5 38.5h0M85.5 66.5h0M132.5 62.5h0M105.5 63.5h0M198.5 47.5h0M182.5 61.5h0M273.5 47.5h0M117.5 66.5h0M175.5 48.5h0M153.5 57.5h0M160.5 69.5h0M167.5 68.5h0M147.5 70.5h0M40.5 89.5h0M68.5 56.5h0M93.5 68.5h0M269.5 60.5h0M263.5 53.5h0M198.5 70.5h0M257.5 70.5h0M227.5 56.5h0M99.5 70.5h0M79.5 72.5h0M265.5 76.5h0M39.5 70.5h0M163.5 45.5h0M268.5 79.5h0M44.5 60.5h0M281.5 69.5h0M222.5 57.5h0M103.5 61.5h0M275.5 67.5h0M101.5 65.5h0M262.5 55.5h0M92.5 65.5h0M247.5 54.5h0M242.5 70.5h0M163.5 50.5h0M109.5 58.5h0M73.5 49.5h0M138.5 61.5h0M68.5 71.5h0M164.5 70.5h0M179.5 69.5h0M124.5 58.5h0M56.5 60.5h0M252.5 54.5h0M70.5 50.5h0M46.5 43.5h0M92.5 44.5h0M243.5 46.5h0M60.5 74.5h0M192.5 67.5h0M249.5 65.5h0M265.5 66.5h0M166.5 62.5h0M248.5 58.5h0M71.5 57.5h0M98.5 58.5h0M42.5 67.5h0M272.5 58.5h0M281.5 72.5h0M254.5 93.5h0M164.5 55.5h0M173.5 67.5h0M64.5 56.5h0M224.5 61.5h0M57.5 72.5h0M101.5 40.5h0M195.5 55.5h0M175.5 54.5h0M277.5 75.5h0M111.5 72.5h0M81.5 75.5h0M139.5 58.5h0M74.5 59.5h0M249.5 48.5h0M74.5 65.5h0M48.5 65.5h0M161.5 78.5h0M170.5 69.5h0M171.5 71.5h0M212.5 68.5h0M209.5 59.5h0M66.5 62.5h0M95.5 65.5h0M82.5 79.5h0M269.5 59.5h0M149.5 64.5h0M129.5 65.5h0M144.5 64.5h0M274.5 71.5h0M272.5 47.5h0M170.5 79.5h0M38.5 57.5h0M176.5 64.5h0M186.5 69.5h0M241.5 65.5h0M139.5 62.5h0M244.5 69.5h0M66.5 54.5h0M270.5 55.5h0M248.5 62.5h0M250.5 70.5h0M262.5 72.5h0M211.5 64.5h0M188.5 64.5h0M64.5 77.5h0M156.5 75.5h0M172.5 63.5h0M69.5 64.5h0M151.5 59.5h0M87.5 68.5h0M93.5 68.5h0M131.5 68.5h0M109.5 62.5h0M131.5 63.5h0M95.5 65.5h0M87.5 56.5h0M46.5 41.5h0M114.5 77.5h0M102.5 55.5h0M178.5 62.5h0M56.5 49.5h0M62.5 65.5h0M266.5 64.5h0M168.5 53.5h0M180.5 66.5h0M72.5 53.5h0M36.5 73.5h0M43.5 57.5h0M92.5 61.5h0M34.5 61.5h0M153.5 69.5h0M271.5 67.5h0M79.5 51.5h0M55.5 69.5h0M252.5 59.5h0M244.5 58.5h0M51.5 61.5h0M241.5 64.5h0M183.5 61.5h0M213.5 76.5h0M111.5 47.5h0M245.5 70.5h0M265.5 50.5h0M45.5 54.5h0M149.5 57.5h0M190.5 58.5h0M263.5 69.5h0M156.5 70.5h0M124.5 64.5h0M67.5 61.5h0M66.5 59.5h0M99.5 59.5h0M256.5 65.5h0M140.5 62.5h0M203.5 55.5h0M238.5 76.5h0M189.5 69.5h0M94.5 56.5h0M45.5 65.5h0M76.5 66.5h0M221.5 72.5h0M67.5 62.5h0M233.5 90.5h0M77.5 67.5h0M144.5 59.5h0M77.5 69.5h0M81.5 56.5h0M77.5 75.5h0M270.5 50.5h0M86.5 60.5h0M168.5 95.5h0M76.5 67.5h0M253.5 89.5h0M79.5 65.5h0M50.5 74.5h0M159.5 69.5h0M265.5 39.5h0M226.5 65.5h0M132.5 61.5h0M131.5 70.5h0M38.5 70.5h0M248.5 67.5h0M113.5 63.5h0M183.5 65.5h0M183.5 68.5h0M126.5 65.5h0M198.5 70.5h0M123.5 50.5h0M50.5 73.5h0M235.5 59.5h0M51.5 53.5h0M191.5 69.5h0M156.5 72.5h0M217.5 56.5h0M257.5 58.5h0M247.5 47.5h0M235.5 66.5h0M87.5 66.5h0M280.5 57.5h0M179.5 57.5h0M93.5 64.5h0M143.5 67.5h0M123.5 65.5h0M173.5 41.5h0M110.5 55.5h0M268.5 52.5h0M156.5 65.5h0M154.5 91.5h0M40.5 63.5h0M89.5 63.5h0M83.5 79.5h0M136.5 72.5h0M48.5 55.5h0M107.5 59.5h0M241.5 63.5h0M156.5 73.5h0M256.5 57.5h0M133.5 55.5h0M177.5 62.5h0M247.5 54.5h0M148.5 70.5h0M163.5 56.5h0M100.5 60.5h0M86.5 75.5h0M63.5 71.5h0M71.5 46.5h0M155.5 60.5h0M73.5 57.5h0M58.5 58.5h0M236.5 70.5h0M269.5 61.5h0M248.5 63.5h0M40.5 65.5h0M202.5 75.5h0M175.5 62.5h0M60.5 56.5h0M68.5 58.5h0M226.5 65.5h0M176.5 66.5h0M212.5 65.5h0M127.5 70.5h0M69.5 64.5h0M159.5 82.5h0M96.5 61.5h0M217.5 75.5h0M172.5 67.5h0M210.5 63.5h0M150.5 78.5h0M223.5 68.5h0M227.5 63.5h0M171.5 81.5h0M148.5 78.5h0M223.5 64.5h0M251.5 70.5h0M236.5 64.5h0M251.5 66.5h0M75.5 65.5h0M169.5 59.5h0M261.5 64.5h0M85.5 48.5h0M200.5 82.5h0M72.5 71.5h0M246.5 58.5h0M230.5 59.5h0M259.5 61.5h0M48.5 57.5h0M82.5 73.5h0M51.5 80.5h0M50.5 54.5h0M154.5 58.5h0M237.5 74.5h0M112.5 68.5h0M223.5 59.5h0M74.5 66.5h0M82.5 54.5h0M195.5 61.5h0M174.5 51.5h0M172.5 61.5h0M72.5 41.5h0M240.5 70.5h0M241.5 64.5h0M93.5 58.5h0M175.5 63.5h0M114.5 56.5h0M267.5 52.5h0M171.5 70.5h0M56.5 72.5h0M275.5 62.5h0M151.5 61.5h0M59.5 58.5h0M253.5 60.5h0M207.5 65.5h0M261.5 51.5h0M246.5 65.5h0M182.5 63.5h0M176.5 60.5h0M128.5 55.5h0M65.5 73.5h0M178.5 73.5h0M66.5 61.5h0M43.5 58.5h0M223.5 65.5h0M73.5 45.5h0M213.5 58.5h0M102.5 53.5h0M72.5 52.5h0M141.5 42.5h0M77.5 58.5h0M238.5 64.5h0M163.5 68.5h0M77.5 44.5h0M140.5 67.5h0M264.5 55.5h0M232.5 44.5h0M59.5 70.5h0M208.5 69.5h0M48.5 69.5h0M273.5 60.5h0M259.5 72.5h0M210.5 69.5h0M187.5 69.5h0M247.5 58.5h0M92.5 48.5h0M159.5 73.5h0M258.5 80.5h0M169.5 51.5h0M230.5 67.5h0M256.5 50.5h0M196.5 65.5h0M162.5 79.5h0M155.5 76.5h0M98.5 72.5h0M252.5 64.5h0M268.5 56.5h0M263.5 51.5h0M93.5 65.5h0M52.5 61.5h0M255.5 81.5h0M171.5 43.5h0M237.5 57.5h0M213.5 68.5h0M79.5 52.5h0M171.5 65.5h0M36.5 58.5h0M101.5 72.5h0M173.5 76.5h0M84.5 49.5h0M202.5 67.5h0M119.5 64.5h0M47.5 61.5h0M278.5 65.5h0M172.5 61.5h0M183.5 55.5h0M72.5 63.5h0M221.5 66.5h0M49.5 61.5h0M73.5 64.5h0M239.5 81.5h0M223.5 67.5h0M143.5 67.5h0M71.5 58.5h0M152.5 78.5h0M99.5 61.5h0M124.5 54.5h0M76.5 53.5h0M259.5 60.5h0M237.5 66.5h0M277.5 73.5h0M140.5 59.5h0M260.5 58.5h0M63.5 83.5h0M66.5 60.5h0M49.5 71.5h0M44.5 95.5h0M86.5 60.5h0M203.5 60.5h0M255.5 65.5h0M230.5 47.5h0M66.5 69.5h0M254.5 51.5h0M259.5 62.5h0M139.5 53.5h0M79.5 68.5h0M266.5 69.5h0M233.5 66.5h0M181.5 59.5h0M49.5 53.5h0M154.5 76.5h0M63.5 67.5h0M128.5 67.5h0M270.5 58.5h0M275.5 69.5h0M79.5 47.5h0M79.5 60.5h0M244.5 62.5h0M273.5 58.5h0M34.5 57.5h0M74.5 65.5h0M273.5 62.5h0M170.5 64.5h0M230.5 68.5h0M234.5 69.5h0M174.5 79.5h0M90.5 61.5h0M109.5 54.5h0M247.5 66.5h0M83.5 82.5h0M77.5 51.5h0M175.5 57.5h0M199.5 58.5h0M126.5 51.5h0M216.5 69.5h0M254.5 57.5h0M181.5 64.5h0M55.5 49.5h0M261.5 60.5h0M146.5 47.5h0M183.5 67.5h0M181.5 57.5h0M254.5 56.5h0M201.5 59.5h0M169.5 47.5h0M178.5 57.5h0M262.5 55.5h0M154.5 71.5h0M249.5 62.5h0M235.5 59.5h0M178.5 61.5h0M65.5 70.5h0M47.5 58.5h0M62.5 71.5h0M88.5 68.5h0M38.5 49.5h0M268.5 66.5h0M247.5 71.5h0M177.5 68.5h0M262.5 63.5h0M60.5 50.5h0M151.5 74.5h0M125.5 57.5h0M49.5 60.5h0M142.5 61.5h0M149.5 65.5h0M181.5 60.5h0M102.5 61.5h0M140.5 68.5h0M276.5 52.5h0M51.5 65.5h0M82.5 56.5h0M187.5 84.5h0M167.5 74.5h0M162.5 67.5h0M188.5 73.5h0M256.5 60.5h0M175.5 74.5h0M253.5 56.5h0M178.5 67.5h0M172.5 45.5h0M67.5 56.5h0M202.5 73.5h0M280.5 58.5h0M86.5 71.5h0M183.5 58.5h0M51.5 59.5h0M91.5 54.5h0M153.5 56.5h0M62.5 63.5h0M53.5 63.5h0M126.5 61.5h0M272.5 75.5h0M97.5 52.5h0M274.5 68.5h0M77.5 66.5h0M131.5 70.5h0M249.5 57.5h0M249.5 68.5h0M173.5 58.5h0M178.5 62.5h0M234.5 40.5h0M64.5 76.5h0M169.5 69.5h0M265.5 55.5h0M70.5 57.5h0M262.5 66.5h0M227.5 65.5h0M59.5 71.5h0M257.5 65.5h0M87.5 56.5h0M242.5 55.5h0M156.5 67.5h0M124.5 67.5h0M88.5 80.5h0M257.5 63.5h0M240.5 67.5h0M68.5 62.5h0M275.5 77.5h0M80.5 61.5h0M273.5 68.5h0M186.5 64.5h0M160.5 64.5h0M241.5 54.5h0M135.5 70.5h0M245.5 56.5h0M251.5 58.5h0M176.5 65.5h0M177.5 57.5h0M71.5 61.5h0M196.5 65.5h0M165.5 50.5h0M87.5 49.5h0M43.5 54.5h0M217.5 61.5h0M56.5 71.5h0M274.5 58.5h0M136.5 63.5h0M270.5 37.5h0M169.5 64.5h0M49.5 77.5h0M173.5 61.5h0M244.5 68.5h0M165.5 61.5h0M42.5 64.5h0M123.5 68.5h0M70.5 66.5h0M207.5 49.5h0M57.5 54.5h0M80.5 49.5h0M166.5 70.5h0M66.5 52.5h0M212.5 79.5h0M196.5 65.5h0M188.5 58.5h0M242.5 64.5h0M58.5 75.5h0M152.5 71.5h0M229.5 69.5h0M148.5 64.5h0M251.5 59.5h0M196.5 59.5h0M72.5 59.5h0M114.5 52.5h0M184.5 66.5h0M148.5 55.5h0M247.5 53.5h0M79.5 54.5h0M234.5 74.5h0M184.5 53.5h0M244.5 53.5h0M203.5 57.5h0M239.5 71.5h0M114.5 66.5h0M64.5 63.5h0M273.5 46.5h0M125.5 57.5h0M66.5 70.5h0M242.5 66.5h0M59.5 63.5h0M39.5 71.5h0M261.5 68.5h0M270.5 71.5h0M259.5 54.5h0M236.5 52.5h0M45.5 58.5h0M260.5 71.5h0M110.5 86.5h0M78.5 49.5h0M39.5 70.5h0M268.5 55.5h0M279.5 74.5h0M45.5 57.5h0M92.5 64.5h0M53.5 67.5h0M268.5 83.5h0M67.5 59.5h0M224.5 91.5h0M79.5 60.5h0M236.5 63.5h0M250.5 72.5h0M46.5 67.5h0M47.5 84.5h0M57.5 64.5h0M79.5 83.5h0M261.5 49.5h0M100.5 57.5h0M34.5 68.5h0M171.5 65.5h0M162.5 59.5h0M89.5 83.5h0M210.5 58.5h0M136.5 58.5h0M100.5 73.5h0M73.5 71.5h0M149.5 36.5h0M252.5 57.5h0M80.5 60.5h0M255.5 70.5h0M52.5 76.5h0M185.5 63.5h0M61.5 59.5h0M188.5 63.5h0M104.5 68.5h0M206.5 79.5h0M240.5 76.5h0M101.5 52.5h0M237.5 70.5h0M90.5 68.5h0M145.5 71.5h0M140.5 78.5h0M266.5 57.5h0M72.5 63.5h0M153.5 74.5h0M47.5 71.5h0M90.5 51.5h0M189.5 54.5h0M272.5 73.5h0M84.5 67.5h0M208.5 65.5h0M51.5 41.5h0M162.5 69.5h0M272.5 76.5h0M240.5 52.5h0M117.5 60.5h0M185.5 62.5h0M226.5 83.5h0M75.5 59.5h0M269.5 65.5h0M189.5 64.5h0M236.5 67.5h0M122.5 61.5h0M218.5 64.5h0M187.5 73.5h0M252.5 60.5h0M71.5 70.5h0M164.5 68.5h0M58.5 58.5h0M87.5 61.5h0M61.5 72.5h0M234.5 76.5h0M158.5 66.5h0M275.5 59.5h0M255.5 72.5h0M72.5 84.5h0M49.5 73.5h0M251.5 72.5h0M139.5 58.5h0M241.5 54.5h0M248.5 61.5h0M209.5 59.5h0M140.5 59.5h0M201.5 84.5h0M168.5 59.5h0M208.5 60.5h0M50.5 62.5h0M165.5 71.5h0M186.5 62.5h0M111.5 75.5h0M112.5 72.5h0M51.5 56.5h0M254.5 59.5h0M259.5 62.5h0M61.5 72.5h0M192.5 66.5h0M127.5 69.5h0M229.5 58.5h0M234.5 61.5h0M46.5 54.5h0M45.5 57.5h0M112.5 67.5h0M251.5 75.5h0M76.5 61.5h0M111.5 66.5h0M62.5 61.5h0M245.5 61.5h0M251.5 90.5h0M190.5 60.5h0M85.5 58.5h0M246.5 62.5h0M263.5 59.5h0M199.5 48.5h0M61.5 66.5h0M80.5 49.5h0M221.5 58.5h0M55.5 55.5h0M131.5 50.5h0M201.5 73.5h0M220.5 60.5h0M190.5 66.5h0M273.5 81.5h0M189.5 56.5h0M104.5 63.5h0M119.5 59.5h0M215.5 67.5h0M201.5 68.5h0M264.5 60.5h0M53.5 76.5h0M212.5 67.5h0M99.5 49.5h0M178.5 86.5h0M256.5 58.5h0M168.5 70.5h0M171.5 61.5h0M266.5 63.5h0M129.5 58.5h0M138.5 63.5h0M97.5 51.5h0M170.5 57.5h0M70.5 85.5h0M245.5 51.5h0M43.5 58.5h0M266.5 57.5h0M200.5 77.5h0M143.5 74.5h0M121.5 85.5h0M75.5 67.5h0M65.5 61.5h0M145.5 64.5h0M74.5 60.5h0M37.5 59.5h0M66.5 77.5h0M260.5 53.5h0M276.5 53.5h0M79.5 74.5h0M147.5 69.5h0M271.5 70.5h0M68.5 75.5h0M256.5 55.5h0M50.5 63.5h0M217.5 69.5h0M275.5 67.5h0M156.5 74.5h0M258.5 53.5h0M255.5 78.5h0M121.5 60.5h0M41.5 45.5h0M221.5 78.5h0M71.5 68.5h0M152.5 59.5h0M43.5 70.5h0M177.5 59.5h0M264.5 66.5h0M194.5 66.5h0M142.5 70.5h0M183.5 65.5h0M256.5 51.5h0M263.5 67.5h0M93.5 48.5h0M43.5 63.5h0M201.5 72.5h0M202.5 54.5h0M242.5 56.5h0M248.5 63.5h0M215.5 54.5h0M181.5 77.5h0M176.5 72.5h0M242.5 64.5h0M74.5 66.5h0M58.5 51.5h0M222.5 75.5h0M197.5 69.5h0M73.5 57.5h0M106.5 60.5h0M144.5 62.5h0M138.5 70.5h0M84.5 68.5h0M223.5 74.5h0M221.5 46.5h0M257.5 70.5h0M207.5 56.5h0M256.5 62.5h0M260.5 63.5h0M264.5 71.5h0M157.5 75.5h0M237.5 54.5h0M196.5 55.5h0M111.5 71.5h0M145.5 75.5h0M223.5 67.5h0M80.5 69.5h0M126.5 55.5h0M250.5 73.5h0M247.5 70.5h0M41.5 58.5h0M100.5 58.5h0M280.5 62.5h0M174.5 57.5h0M152.5 54.5h0M53.5 75.5h0M196.5 60.5h0M40.5 68.5h0M230.5 60.5h0M43.5 57.5h0M217.5 63.5h0M222.5 68.5h0M89.5 53.5h0M86.5 70.5h0M158.5 71.5h0M139.5 62.5h0M213.5 68.5h0M249.5 71.5h0M133.5 72.5h0M70.5 48.5h0M65.5 64.5h0M91.5 68.5h0M274.5 74.5h0M155.5 67.5h0M254.5 49.5h0M266.5 57.5h0M81.5 57.5h0M86.5 66.5h0M235.5 62.5h0M96.5 71.5h0M142.5 62.5h0M114.5 74.5h0M184.5 60.5h0M187.5 68.5h0M149.5 69.5h0M121.5 59.5h0M256.5 65.5h0M74.5 68.5h0M65.5 65.5h0M100.5 72.5h0M128.5 58.5h0M215.5 74.5h0M253.5 71.5h0M82.5 55.5h0M234.5 56.5h0M40.5 56.5h0M268.5 65.5h0M232.5 63.5h0M252.5 57.5h0M125.5 88.5h0M96.5 56.5h0M103.5 54.5h0M103.5 68.5h0M151.5 71.5h0M253.5 76.5h0M110.5 59.5h0M43.5 57.5h0M240.5 76.5h0M176.5 62.5h0M249.5 67.5h0M80.5 59.5h0M218.5 62.5h0M159.5 66.5h0M240.5 65.5h0M81.5 66.5h0M242.5 65.5h0M140.5 64.5h0M223.5 54.5h0M279.5 66.5h0M61.5 61.5h0M99.5 62.5h0M278.5 74.5h0M257.5 60.5h0M185.5 71.5h0M187.5 61.5h0M47.5 62.5h0M49.5 56.5h0M107.5 70.5h0M205.5 81.5h0M253.5 52.5h0M61.5 77.5h0M146.5 60.5h0M251.5 83.5h0M58.5 58.5h0M213.5 65.5h0M254.5 66.5h0M227.5 65.5h0M73.5 76.5h0M45.5 60.5h0M130.5 64.5h0M164.5 56.5h0M104.5 56.5h0M164.5 85.5h0M117.5 65.5h0M109.5 54.5h0M69.5 52.5h0M35.5 65.5h0M33.5 63.5h0M275.5 40.5h0M271.5 77.5h0M71.5 68.5h0M34.5 50.5h0M200.5 62.5h0M279.5 65.5h0M182.5 63.5h0M203.5 65.5h0M34.5 71.5h0M102.5 56.5h0M142.5 72.5h0M162.5 65.5h0M168.5 62.5h0M143.5 66.5h0M102.5 77.5h0M205.5 56.5h0M45.5 65.5h0M48.5 59.5h0M151.5 73.5h0M104.5 63.5h0M106.5 62.5h0M187.5 64.5h0M140.5 83.5h0M92.5 61.5h0M136.5 54.5h0M152.5 68.5h0M60.5 70.5h0M124.5 62.5h0M158.5 78.5h0M146.5 61.5h0M121.5 70.5h0M143.5 62.5h0M236.5 48.5h0M262.5 46.5h0M169.5 68.5h0M221.5 71.5h0M152.5 68.5h0M208.5 70.5h0M146.5 53.5h0M158.5 73.5h0M209.5 68.5h0M255.5 64.5h0M274.5 58.5h0M180.5 56.5h0M39.5 58.5h0M89.5 60.5h0M237.5 64.5h0M188.5 39.5h0M170.5 79.5h0M265.5 73.5h0M281.5 60.5h0M146.5 62.5h0M157.5 73.5h0M59.5 53.5h0M57.5 53.5h0M61.5 60.5h0M54.5 64.5h0M71.5 76.5h0M96.5 62.5h0M237.5 54.5h0M71.5 76.5h0M270.5 63.5h0M84.5 75.5h0M50.5 72.5h0M58.5 41.5h0M244.5 59.5h0M273.5 64.5h0M272.5 47.5h0M112.5 38.5h0M163.5 71.5h0M279.5 71.5h0M88.5 61.5h0M81.5 66.5h0M152.5 69.5h0M128.5 61.5h0M247.5 66.5h0M181.5 74.5h0M168.5 60.5h0M98.5 55.5h0M176.5 64.5h0M160.5 61.5h0M143.5 61.5h0M124.5 72.5h0M172.5 49.5h0M151.5 69.5h0M74.5 61.5h0M49.5 50.5h0M270.5 67.5h0M263.5 55.5h0M88.5 78.5h0M256.5 69.5h0M158.5 61.5h0M186.5 51.5h0M77.5 71.5h0M174.5 57.5h0M97.5 60.5h0M69.5 69.5h0M169.5 60.5h0M215.5 54.5h0M220.5 71.5h0M84.5 70.5h0M113.5 63.5h0M89.5 57.5h0M206.5 62.5h0M196.5 60.5h0M209.5 57.5h0M79.5 57.5h0M219.5 55.5h0M175.5 61.5h0M155.5 51.5h0M67.5 59.5h0M136.5 62.5h0M231.5 56.5h0M129.5 65.5h0M267.5 68.5h0M82.5 71.5h0M168.5 55.5h0M234.5 82.5h0M167.5 59.5h0M87.5 63.5h0M145.5 41.5h0M62.5 64.5h0M143.5 50.5h0M86.5 57.5h0M249.5 74.5h0M54.5 61.5h0M254.5 57.5h0M61.5 84.5h0M123.5 65.5h0M121.5 59.5h0M67.5 60.5h0M83.5 56.5h0M41.5 66.5h0M262.5 61.5h0M42.5 59.5h0M97.5 70.5h0M201.5 53.5h0M219.5 63.5h0M47.5 62.5h0M197.5 60.5h0M57.5 62.5h0M152.5 67.5h0M64.5 63.5h0M63.5 57.5h0M243.5 76.5h0M214.5 70.5h0M222.5 63.5h0M55.5 86.5h0M163.5 78.5h0M35.5 62.5h0M245.5 35.5h0M174.5 57.5h0M146.5 57.5h0M53.5 64.5h0M222.5 66.5h0M264.5 68.5h0M226.5 66.5h0M33.5 67.5h0M262.5 55.5h0M274.5 67.5h0M39.5 80.5h0M74.5 66.5h0M139.5 58.5h0M110.5 68.5h0M81.5 66.5h0M144.5 61.5h0M227.5 53.5h0M271.5 60.5h0M50.5 54.5h0M107.5 53.5h0M247.5 56.5h0M75.5 61.5h0M112.5 52.5h0M254.5 56.5h0M146.5 66.5h0M255.5 61.5h0M48.5 67.5h0M115.5 62.5h0M104.5 62.5h0M157.5 69.5h0M163.5 57.5h0M176.5 61.5h0M64.5 70.5h0M255.5 56.5h0M211.5 64.5h0M100.5 62.5h0M71.5 73.5h0M150.5 65.5h0M228.5 69.5h0M263.5 61.5h0M58.5 48.5h0M89.5 72.5h0M151.5 50.5h0M279.5 77.5h0M132.5 70.5h0M260.5 68.5h0M55.5 67.5h0M204.5 59.5h0M121.5 71.5h0M89.5 56.5h0M224.5 89.5h0M251.5 54.5h0M115.5 56.5h0M114.5 63.5h0M77.5 66.5h0M116.5 79.5h0M152.5 70.5h0M149.5 61.5h0M69.5 51.5h0M70.5 64.5h0M180.5 76.5h0M69.5 62.5h0M251.5 68.5h0M241.5 67.5h0M166.5 66.5h0M78.5 64.5h0M197.5 62.5h0M161.5 63.5h0M140.5 71.5h0M212.5 68.5h0M99.5 58.5h0M179.5 78.5h0M250.5 70.5h0M180.5 64.5h0M94.5 76.5h0M51.5 57.5h0M113.5 59.5h0M142.5 62.5h0M147.5 64.5h0M257.5 54.5h0M92.5 55.5h0M57.5 55.5h0M245.5 62.5h0M89.5 60.5h0M270.5 71.5h0M67.5 62.5h0M134.5 58.5h0M237.5 72.5h0M86.5 55.5h0M61.5 70.5h0M207.5 69.5h0M261.5 70.5h0M76.5 50.5h0M88.5 41.5h0M265.5 80.5h0M123.5 83.5h0M206.5 66.5h0M255.5 62.5h0M166.5 70.5h0M236.5 65.5h0M271.5 68.5h0M105.5 56.5h0M141.5 60.5h0M78.5 63.5h0M163.5 59.5h0M245.5 60.5h0M174.5 46.5h0M231.5 67.5h0M153.5 77.5h0M55.5 65.5h0M65.5 62.5h0M50.5 70.5h0M133.5 55.5h0M262.5 67.5h0M170.5 60.5h0M156.5 66.5h0M51.5 60.5h0M234.5 71.5h0M61.5 65.5h0M195.5 59.5h0M215.5 57.5h0M198.5 60.5h0M168.5 68.5h0M214.5 61.5h0M258.5 39.5h0M170.5 80.5h0M266.5 68.5h0M73.5 63.5h0M133.5 70.5h0M216.5 68.5h0M149.5 57.5h0M258.5 77.5h0M89.5 59.5h0M161.5 66.5h0M76.5 48.5h0M182.5 56.5h0M272.5 70.5h0M186.5 72.5h0M175.5 51.5h0M185.5 51.5h0M141.5 63.5h0M59.5 59.5h0M74.5 62.5h0M132.5 52.5h0M224.5 70.5h0M43.5 69.5h0M244.5 69.5h0M60.5 77.5h0M197.5 67.5h0M220.5 58.5h0M84.5 60.5h0M164.5 67.5h0M188.5 57.5h0M143.5 69.5h0M162.5 68.5h0M36.5 52.5h0M58.5 90.5h0M154.5 66.5h0M96.5 62.5h0M229.5 62.5h0M273.5 56.5h0M67.5 50.5h0M81.5 62.5h0M34.5 64.5h0M147.5 64.5h0M272.5 56.5h0M250.5 73.5h0M71.5 55.5h0M220.5 64.5h0M55.5 70.5h0M146.5 68.5h0M71.5 68.5h0M198.5 49.5h0M176.5 64.5h0M95.5 64.5h0M38.5 59.5h0M203.5 76.5h0M133.5 58.5h0M79.5 69.5h0M113.5 85.5h0M260.5 45.5h0M75.5 69.5h0M166.5 57.5h0M269.5 70.5h0M59.5 63.5h0M37.5 69.5h0M62.5 62.5h0M273.5 58.5h0M120.5 62.5h0M236.5 70.5h0M97.5 67.5h0M239.5 78.5h0M140.5 49.5h0M62.5 82.5h0M219.5 31.5h0M231.5 61.5h0M212.5 66.5h0M106.5 70.5h0M248.5 63.5h0M48.5 68.5h0M190.5 43.5h0M145.5 43.5h0M237.5 64.5h0M271.5 68.5h0M247.5 61.5h0M235.5 69.5h0M268.5 61.5h0M56.5 63.5h0M168.5 58.5h0M268.5 47.5h0M180.5 65.5h0M123.5 57.5h0M226.5 63.5h0M239.5 65.5h0M216.5 56.5h0M198.5 74.5h0M149.5 78.5h0M257.5 66.5h0M129.5 56.5h0M246.5 58.5h0M151.5 57.5h0M67.5 67.5h0M46.5 60.5h0M71.5 63.5h0M143.5 52.5h0M138.5 60.5h0M127.5 63.5h0M138.5 61.5h0M181.5 62.5h0M250.5 76.5h0M158.5 90.5h0M266.5 84.5h0M41.5 60.5h0M95.5 52.5h0M159.5 60.5h0M273.5 61.5h0M105.5 59.5h0M58.5 59.5h0M80.5 60.5h0M54.5 58.5h0M79.5 54.5h0M88.5 63.5h0M87.5 63.5h0M145.5 53.5h0M42.5 64.5h0M84.5 80.5h0M205.5 63.5h0M219.5 58.5h0M279.5 68.5h0M241.5 70.5h0M238.5 66.5h0M245.5 61.5h0M108.5 77.5h0M200.5 47.5h0M139.5 63.5h0M167.5 52.5h0M241.5 67.5h0M71.5 63.5h0M258.5 63.5h0M182.5 62.5h0M60.5 77.5h0M153.5 90.5h0M270.5 62.5h0M62.5 45.5h0M45.5 65.5h0M229.5 58.5h0M135.5 84.5h0M160.5 76.5h0M115.5 81.5h0M81.5 68.5h0M158.5 65.5h0M236.5 62.5h0M165.5 64.5h0M62.5 62.5h0M197.5 78.5h0M123.5 64.5h0M187.5 69.5h0M40.5 39.5h0M135.5 57.5h0M136.5 70.5h0M86.5 57.5h0M84.5 59.5h0M108.5 63.5h0M69.5 69.5h0M49.5 51.5h0M100.5 74.5h0M124.5 61.5h0M188.5 67.5h0M96.5 54.5h0M146.5 73.5h0M115.5 43.5h0M51.5 75.5h0M116.5 54.5h0M78.5 69.5h0M255.5 66.5h0M272.5 63.5h0M81.5 63.5h0M135.5 65.5h0M230.5 64.5h0M243.5 58.5h0M54.5 65.5h0M104.5 61.5h0M78.5 55.5h0M179.5 71.5h0M72.5 50.5h0M238.5 66.5h0M189.5 58.5h0M77.5 56.5h0M63.5 65.5h0M236.5 70.5h0M157.5 62.5h0M272.5 72.5h0M239.5 60.5h0M222.5 66.5h0M53.5 67.5h0M172.5 68.5h0M62.5 62.5h0M216.5 76.5h0M107.5 72.5h0M79.5 48.5h0M216.5 71.5h0M249.5 50.5h0M96.5 50.5h0M162.5 69.5h0M156.5 77.5h0M216.5 64.5h0M232.5 69.5h0M207.5 65.5h0M163.5 62.5h0M107.5 69.5h0M94.5 53.5h0M257.5 54.5h0M259.5 64.5h0M65.5 66.5h0M240.5 72.5h0M219.5 79.5h0M127.5 68.5h0M125.5 59.5h0M253.5 61.5h0M137.5 64.5h0M158.5 67.5h0M67.5 47.5h0M36.5 76.5h0M214.5 69.5h0M230.5 58.5h0M241.5 74.5h0M95.5 67.5h0M255.5 66.5h0M98.5 62.5h0M143.5 55.5h0M189.5 79.5h0M269.5 66.5h0M120.5 75.5h0M235.5 79.5h0M86.5 58.5h0M254.5 59.5h0M41.5 56.5h0M131.5 58.5h0M159.5 61.5h0M275.5 63.5h0M191.5 59.5h0M69.5 64.5h0M176.5 60.5h0M169.5 52.5h0M102.5 57.5h0M251.5 57.5h0M45.5 66.5h0M163.5 45.5h0M96.5 70.5h0M82.5 84.5h0M82.5 60.5h0M86.5 52.5h0M250.5 52.5h0M280.5 72.5h0M233.5 61.5h0M70.5 67.5h0M273.5 73.5h0M90.5 71.5h0M86.5 62.5h0M113.5 62.5h0M138.5 62.5h0M249.5 71.5h0M238.5 69.5h0M66.5 65.5h0M190.5 78.5h0M133.5 65.5h0M149.5 55.5h0M263.5 63.5h0M37.5 59.5h0M269.5 65.5h0M150.5 61.5h0M58.5 77.5h0M256.5 77.5h0M239.5 65.5h0M146.5 65.5h0M109.5 51.5h0M77.5 68.5h0M78.5 67.5h0M78.5 57.5h0M238.5 57.5h0M63.5 71.5h0M143.5 49.5h0M68.5 54.5h0M114.5 57.5h0M85.5 78.5h0M234.5 69.5h0M196.5 65.5h0M191.5 64.5h0M121.5 63.5h0M111.5 49.5h0M128.5 64.5h0M239.5 58.5h0M99.5 67.5h0M87.5 77.5h0M65.5 72.5h0M74.5 67.5h0M49.5 66.5h0M68.5 68.5h0M197.5 56.5h0M182.5 62.5h0M264.5 76.5h0M117.5 69.5h0M162.5 47.5h0M262.5 52.5h0M183.5 51.5h0M69.5 65.5h0M259.5 59.5h0M140.5 70.5h0M196.5 79.5h0M277.5 85.5h0M228.5 68.5h0M147.5 50.5h0M163.5 63.5h0M172.5 87.5h0M125.5 54.5h0M46.5 57.5h0M220.5 66.5h0M246.5 50.5h0M266.5 74.5h0M34.5 71.5h0M199.5 49.5h0M264.5 59.5h0M159.5 80.5h0M61.5 65.5h0M180.5 69.5h0M244.5 65.5h0M180.5 75.5h0M181.5 63.5h0M155.5 86.5h0M86.5 75.5h0M199.5 64.5h0M239.5 71.5h0M126.5 64.5h0M61.5 64.5h0M67.5 51.5h0M172.5 81.5h0M165.5 56.5h0M182.5 67.5h0M66.5 56.5h0M171.5 57.5h0M58.5 49.5h0M88.5 62.5h0M96.5 64.5h0M116.5 62.5h0M195.5 51.5h0M62.5 67.5h0M91.5 73.5h0M63.5 64.5h0M149.5 63.5h0M79.5 64.5h0M115.5 49.5h0M276.5 62.5h0M143.5 76.5h0M148.5 59.5h0M250.5 56.5h0M170.5 69.5h0M192.5 64.5h0M120.5 60.5h0M61.5 69.5h0M84.5 81.5h0M50.5 53.5h0M167.5 58.5h0M54.5 60.5h0M143.5 58.5h0M32.5 72.5h0M39.5 76.5h0M169.5 81.5h0M245.5 69.5h0M67.5 36.5h0M147.5 65.5h0M52.5 67.5h0M88.5 73.5h0M85.5 74.5h0M231.5 68.5h0M108.5 69.5h0M202.5 54.5h0M280.5 60.5h0M246.5 51.5h0M140.5 65.5h0M50.5 60.5h0M199.5 79.5h0M184.5 61.5h0M53.5 62.5h0M159.5 71.5h0M229.5 64.5h0M226.5 81.5h0M248.5 61.5h0M134.5 73.5h0M199.5 52.5h0M281.5 69.5h0M268.5 62.5h0M65.5 52.5h0M60.5 64.5h0M57.5 49.5h0M266.5 60.5h0M264.5 69.5h0M275.5 63.5h0M71.5 61.5h0M259.5 47.5h0M252.5 61.5h0M216.5 58.5h0M68.5 66.5h0M265.5 74.5h0M102.5 55.5h0M80.5 56.5h0M281.5 58.5h0M182.5 65.5h0M42.5 61.5h0M38.5 63.5h0M128.5 51.5h0M257.5 65.5h0M254.5 61.5h0M239.5 73.5h0M245.5 72.5h0M144.5 67.5h0M220.5 60.5h0M192.5 59.5h0M76.5 69.5h0M141.5 78.5h0M255.5 88.5h0M275.5 58.5h0M154.5 73.5h0M58.5 62.5h0M114.5 63.5h0M146.5 69.5h0M132.5 66.5h0M67.5 74.5h0M271.5 62.5h0M145.5 57.5h0M235.5 75.5h0M69.5 54.5h0M252.5 65.5h0M218.5 70.5h0M51.5 67.5h0M53.5 48.5h0M61.5 60.5h0M209.5 58.5h0M146.5 66.5h0M255.5 62.5h0M117.5 88.5h0M57.5 36.5h0M246.5 57.5h0M166.5 69.5h0M245.5 61.5h0M60.5 46.5h0M96.5 75.5h0M76.5 59.5h0M167.5 69.5h0M84.5 61.5h0M82.5 57.5h0M167.5 62.5h0M147.5 64.5h0M164.5 67.5h0M236.5 77.5h0M63.5 53.5h0M153.5 91.5h0M257.5 73.5h0M116.5 56.5h0M277.5 58.5h0M255.5 50.5h0M234.5 60.5h0M56.5 71.5h0M96.5 69.5h0M190.5 38.5h0M96.5 63.5h0M58.5 64.5h0M263.5 54.5h0M101.5 68.5h0M81.5 59.5h0M150.5 61.5h0M195.5 72.5h0M276.5 66.5h0M76.5 44.5h0M212.5 60.5h0M199.5 52.5h0M161.5 68.5h0M52.5 74.5h0M63.5 69.5h0M250.5 71.5h0M267.5 54.5h0M36.5 59.5h0M106.5 68.5h0M210.5 58.5h0M189.5 61.5h0M74.5 47.5h0M179.5 59.5h0M73.5 57.5h0M216.5 66.5h0M254.5 59.5h0M251.5 66.5h0M178.5 52.5h0M279.5 80.5h0M78.5 67.5h0M182.5 66.5h0M33.5 60.5h0M77.5 59.5h0M179.5 54.5h0M67.5 83.5h0M185.5 72.5h0M239.5 68.5h0M101.5 65.5h0M227.5 56.5h0M192.5 51.5h0M91.5 47.5h0M253.5 54.5h0M68.5 63.5h0M67.5 53.5h0M191.5 65.5h0M161.5 78.5h0M280.5 94.5h0M64.5 75.5h0M259.5 71.5h0M45.5 39.5h0M250.5 64.5h0M124.5 67.5h0M153.5 75.5h0M57.5 55.5h0M199.5 81.5h0M48.5 64.5h0M85.5 52.5h0M271.5 60.5h0M267.5 68.5h0M172.5 56.5h0M139.5 59.5h0M280.5 67.5h0M257.5 65.5h0M169.5 61.5h0M40.5 66.5h0M94.5 66.5h0M237.5 58.5h0M269.5 68.5h0M84.5 57.5h0M255.5 79.5h0M133.5 66.5h0M158.5 81.5h0M45.5 48.5h0M150.5 62.5h0M170.5 66.5h0M194.5 59.5h0M150.5 56.5h0M69.5 52.5h0M254.5 61.5h0M74.5 73.5h0M274.5 87.5h0M106.5 69.5h0M224.5 61.5h0M98.5 68.5h0M221.5 54.5h0M138.5 62.5h0M60.5 55.5h0M168.5 64.5h0M52.5 62.5h0M223.5 68.5h0M79.5 64.5h0M253.5 47.5h0M56.5 63.5h0M201.5 67.5h0M100.5 60.5h0M177.5 80.5h0M261.5 59.5h0M140.5 67.5h0M275.5 70.5h0M192.5 55.5h0M195.5 65.5h0M251.5 56.5h0M251.5 51.5h0M44.5 51.5h0M196.5 64.5h0M56.5 70.5h0M257.5 65.5h0M220.5 75.5h0M175.5 64.5h0M190.5 54.5h0M273.5 67.5h0M172.5 62.5h0M149.5 75.5h0M172.5 63.5h0M114.5 61.5h0M279.5 71.5h0M193.5 67.5h0M276.5 69.5h0M199.5 65.5h0M72.5 63.5h0M254.5 65.5h0M76.5 64.5h0M275.5 62.5h0M201.5 64.5h0M99.5 65.5h0M247.5 72.5h0M164.5 70.5h0M89.5 64.5h0M237.5 66.5h0M50.5 49.5h0M156.5 71.5h0M77.5 61.5h0M77.5 49.5h0M56.5 58.5h0M99.5 58.5h0M73.5 66.5h0M59.5 63.5h0M240.5 65.5h0M250.5 58.5h0M81.5 56.5h0M221.5 70.5h0M237.5 51.5h0M57.5 91.5h0M270.5 57.5h0M57.5 53.5h0M221.5 70.5h0M232.5 70.5h0M190.5 72.5h0M250.5 56.5h0M148.5 83.5h0M115.5 60.5h0M56.5 61.5h0M50.5 60.5h0M94.5 61.5h0M155.5 82.5h0M266.5 70.5h0M191.5 81.5h0M162.5 60.5h0M68.5 61.5h0M75.5 66.5h0M137.5 55.5h0M279.5 60.5h0M179.5 57.5h0M256.5 60.5h0M89.5 56.5h0M246.5 58.5h0M90.5 63.5h0M261.5 62.5h0M139.5 41.5h0M60.5 68.5h0M256.5 73.5h0M232.5 71.5h0M245.5 56.5h0M159.5 65.5h0M113.5 54.5h0M41.5 72.5h0M232.5 55.5h0M186.5 66.5h0M266.5 65.5h0M254.5 65.5h0M86.5 64.5h0M267.5 72.5h0M158.5 71.5h0M251.5 53.5h0M187.5 73.5h0M177.5 63.5h0M179.5 65.5h0M47.5 57.5h0M145.5 66.5h0M79.5 74.5h0M242.5 66.5h0M87.5 62.5h0M264.5 49.5h0M239.5 69.5h0M195.5 51.5h0M46.5 65.5h0M93.5 67.5h0M230.5 53.5h0M94.5 58.5h0M86.5 60.5h0M110.5 63.5h0M234.5 75.5h0M79.5 76.5h0M265.5 68.5h0M73.5 52.5h0M247.5 76.5h0M262.5 63.5h0M81.5 76.5h0M154.5 70.5h0M196.5 61.5h0M275.5 47.5h0M34.5 70.5h0M139.5 85.5h0M262.5 61.5h0M125.5 63.5h0M155.5 80.5h0M55.5 63.5h0M143.5 77.5h0M65.5 70.5h0M152.5 70.5h0M73.5 67.5h0M217.5 42.5h0M158.5 55.5h0M208.5 67.5h0M151.5 75.5h0M177.5 80.5h0M274.5 62.5h0M228.5 52.5h0M244.5 69.5h0M159.5 63.5h0M178.5 56.5h0M113.5 79.5h0M139.5 50.5h0M221.5 59.5h0M151.5 59.5h0M243.5 76.5h0M177.5 44.5h0M186.5 64.5h0M143.5 64.5h0M222.5 67.5h0M80.5 74.5h0M247.5 64.5h0M78.5 91.5h0M138.5 47.5h0M95.5 55.5h0M264.5 66.5h0M179.5 61.5h0M161.5 78.5h0M275.5 63.5h0M90.5 58.5h0M136.5 61.5h0M137.5 61.5h0M106.5 42.5h0M277.5 60.5h0M256.5 56.5h0M122.5 74.5h0M231.5 75.5h0M250.5 61.5h0M178.5 69.5h0M95.5 77.5h0M55.5 79.5h0M89.5 66.5h0M236.5 62.5h0M75.5 75.5h0M167.5 72.5h0M173.5 36.5h0M262.5 59.5h0M119.5 60.5h0M44.5 59.5h0M137.5 61.5h0M202.5 78.5h0M148.5 61.5h0M97.5 65.5h0M169.5 59.5h0M177.5 60.5h0M268.5 49.5h0M245.5 63.5h0M57.5 67.5h0M188.5 66.5h0M135.5 66.5h0M273.5 56.5h0M95.5 63.5h0M62.5 61.5h0M174.5 69.5h0M276.5 64.5h0M135.5 71.5h0M82.5 61.5h0M270.5 58.5h0M160.5 59.5h0M229.5 74.5h0M168.5 65.5h0M276.5 52.5h0M45.5 66.5h0M172.5 66.5h0M124.5 55.5h0M91.5 62.5h0M75.5 62.5h0M208.5 73.5h0M85.5 73.5h0M240.5 55.5h0M80.5 55.5h0M138.5 80.5h0M264.5 67.5h0M227.5 63.5h0M258.5 62.5h0M44.5 71.5h0M89.5 51.5h0M236.5 59.5h0M44.5 81.5h0M100.5 61.5h0M239.5 68.5h0M124.5 75.5h0M112.5 71.5h0M199.5 75.5h0M124.5 65.5h0M151.5 63.5h0M248.5 56.5h0M75.5 57.5h0M233.5 78.5h0M66.5 56.5h0M249.5 63.5h0M266.5 64.5h0M169.5 67.5h0M68.5 60.5h0M271.5 40.5h0M139.5 61.5h0M160.5 73.5h0M161.5 74.5h0M196.5 60.5h0M154.5 71.5h0M206.5 67.5h0M224.5 65.5h0M115.5 52.5h0M165.5 60.5h0M171.5 66.5h0M279.5 63.5h0M37.5 38.5h0M117.5 69.5h0M71.5 58.5h0M122.5 44.5h0M267.5 61.5h0M167.5 67.5h0M280.5 63.5h0M169.5 59.5h0M225.5 44.5h0M157.5 34.5h0M173.5 60.5h0M266.5 71.5h0M247.5 61.5h0M221.5 68.5h0M82.5 69.5h0M69.5 53.5h0M62.5 69.5h0M92.5 67.5h0M134.5 67.5h0M105.5 68.5h0M136.5 53.5h0M169.5 75.5h0M63.5 60.5h0M38.5 72.5h0M166.5 76.5h0M120.5 59.5h0M189.5 72.5h0M235.5 66.5h0M183.5 60.5h0M71.5 64.5h0M111.5 63.5h0M270.5 77.5h0M272.5 78.5h0M144.5 51.5h0M98.5 61.5h0M219.5 69.5h0M130.5 54.5h0M189.5 67.5h0M157.5 83.5h0M183.5 62.5h0M232.5 56.5h0M206.5 61.5h0M161.5 54.5h0M108.5 63.5h0M90.5 67.5h0M214.5 74.5h0M167.5 83.5h0M237.5 67.5h0M93.5 71.5h0M83.5 68.5h0M34.5 56.5h0M68.5 70.5h0M249.5 71.5h0M62.5 74.5h0M100.5 76.5h0M149.5 58.5h0M165.5 61.5h0M220.5 51.5h0M152.5 54.5h0M177.5 50.5h0M63.5 64.5h0M208.5 50.5h0M172.5 68.5h0M237.5 77.5h0M160.5 71.5h0M167.5 61.5h0M272.5 65.5h0M234.5 71.5h0M249.5 74.5h0M121.5 72.5h0M255.5 61.5h0M59.5 57.5h0M190.5 60.5h0M189.5 52.5h0M102.5 75.5h0M194.5 62.5h0M35.5 57.5h0M153.5 82.5h0M195.5 68.5h0M61.5 65.5h0M234.5 52.5h0M256.5 48.5h0M275.5 58.5h0M50.5 62.5h0M53.5 67.5h0M98.5 57.5h0M262.5 47.5h0M226.5 71.5h0M59.5 64.5h0M167.5 58.5h0M229.5 55.5h0M59.5 61.5h0M224.5 76.5h0M216.5 69.5h0M43.5 71.5h0M93.5 67.5h0M218.5 72.5h0M59.5 62.5h0M274.5 55.5h0M139.5 65.5h0M256.5 67.5h0M120.5 65.5h0M66.5 65.5h0M59.5 70.5h0M177.5 67.5h0M240.5 59.5h0M235.5 68.5h0M112.5 62.5h0M221.5 45.5h0M130.5 63.5h0M268.5 52.5h0M236.5 71.5h0M73.5 59.5h0M260.5 59.5h0M198.5 62.5h0M88.5 66.5h0M54.5 56.5h0M73.5 60.5h0M269.5 56.5h0M254.5 72.5h0M122.5 71.5h0M81.5 73.5h0M132.5 58.5h0M134.5 75.5h0M158.5 66.5h0M212.5 67.5h0M115.5 60.5h0M145.5 66.5h0M229.5 67.5h0M175.5 72.5h0M64.5 57.5h0M54.5 73.5h0M247.5 68.5h0M190.5 64.5h0M97.5 69.5h0M91.5 66.5h0M258.5 66.5h0M123.5 52.5h0M264.5 66.5h0M258.5 77.5h0M254.5 66.5h0M117.5 64.5h0M112.5 66.5h0M237.5 58.5h0M279.5 55.5h0M193.5 70.5h0M90.5 74.5h0M133.5 67.5h0M166.5 60.5h0M81.5 74.5h0M224.5 54.5h0M161.5 67.5h0M250.5 74.5h0M273.5 64.5h0M79.5 71.5h0M183.5 72.5h0M80.5 62.5h0M142.5 77.5h0M203.5 58.5h0M62.5 77.5h0M146.5 71.5h0M62.5 63.5h0M91.5 65.5h0M155.5 65.5h0M229.5 57.5h0M156.5 60.5h0M197.5 56.5h0M100.5 64.5h0M158.5 61.5h0M260.5 63.5h0M181.5 55.5h0M164.5 70.5h0M268.5 72.5h0M68.5 54.5h0M267.5 66.5h0M273.5 71.5h0M238.5 55.5h0M271.5 68.5h0M54.5 58.5h0M91.5 53.5h0M280.5 59.5h0M235.5 58.5h0M56.5 78.5h0M247.5 70.5h0M98.5 70.5h0M200.5 61.5h0M64.5 53.5h0M94.5 69.5h0M115.5 72.5h0M253.5 55.5h0M81.5 63.5h0M38.5 56.5h0M268.5 59.5h0M88.5 61.5h0M127.5 61.5h0M260.5 53.5h0M164.5 66.5h0M243.5 55.5h0M100.5 69.5h0M169.5 53.5h0M82.5 66.5h0M272.5 63.5h0M53.5 51.5h0M161.5 74.5h0M276.5 69.5h0M94.5 54.5h0M165.5 66.5h0M155.5 74.5h0M258.5 51.5h0M63.5 65.5h0M256.5 70.5h0M160.5 66.5h0M109.5 52.5h0M69.5 48.5h0M84.5 55.5h0M253.5 61.5h0M168.5 51.5h0M73.5 65.5h0M81.5 66.5h0M56.5 73.5h0M158.5 65.5h0M70.5 66.5h0M60.5 60.5h0M93.5 59.5h0M170.5 76.5h0M213.5 44.5h0M169.5 59.5h0M230.5 60.5h0M161.5 54.5h0M78.5 72.5h0M84.5 59.5h0M277.5 53.5h0M58.5 63.5h0M250.5 61.5h0M258.5 70.5h0M213.5 70.5h0M189.5 70.5h0M78.5 60.5h0M188.5 58.5h0M87.5 57.5h0M178.5 53.5h0M221.5 63.5h0M68.5 58.5h0M189.5 64.5h0M214.5 66.5h0M113.5 71.5h0M170.5 60.5h0M201.5 56.5h0M279.5 42.5h0M94.5 70.5h0M223.5 65.5h0M69.5 70.5h0M58.5 73.5h0M113.5 71.5h0M85.5 60.5h0M99.5 71.5h0M237.5 65.5h0M165.5 56.5h0M203.5 63.5h0M225.5 65.5h0M70.5 54.5h0M274.5 61.5h0M69.5 61.5h0M277.5 67.5h0M78.5 67.5h0M246.5 73.5h0M160.5 75.5h0M110.5 76.5h0M229.5 64.5h0M101.5 66.5h0M135.5 61.5h0M256.5 64.5h0M253.5 81.5h0M135.5 54.5h0M207.5 54.5h0M212.5 71.5h0M272.5 62.5h0M151.5 56.5h0M36.5 51.5h0M161.5 77.5h0M256.5 69.5h0M174.5 71.5h0M176.5 70.5h0M240.5 58.5h0M176.5 69.5h0M76.5 61.5h0M263.5 63.5h0M84.5 65.5h0M220.5 51.5h0M62.5 66.5h0M176.5 54.5h0M78.5 87.5h0M154.5 80.5h0M152.5 81.5h0M215.5 70.5h0M80.5 58.5h0M232.5 62.5h0M115.5 64.5h0M223.5 72.5h0M45.5 73.5h0M267.5 49.5h0M238.5 65.5h0M135.5 51.5h0M75.5 57.5h0M43.5 69.5h0M223.5 53.5h0M272.5 66.5h0M61.5 78.5h0M234.5 62.5h0M57.5 74.5h0M101.5 68.5h0M232.5 63.5h0M244.5 54.5h0M175.5 78.5h0M90.5 69.5h0M186.5 57.5h0M150.5 84.5h0M62.5 60.5h0M252.5 78.5h0M244.5 49.5h0M171.5 68.5h0M148.5 62.5h0M67.5 62.5h0M253.5 64.5h0M204.5 66.5h0M46.5 75.5h0M247.5 78.5h0M235.5 67.5h0M131.5 73.5h0M249.5 72.5h0M131.5 82.5h0M44.5 84.5h0M75.5 60.5h0M163.5 67.5h0M166.5 45.5h0M242.5 66.5h0M78.5 66.5h0M48.5 86.5h0M145.5 85.5h0M169.5 68.5h0M166.5 66.5h0M61.5 57.5h0M80.5 55.5h0M50.5 58.5h0M118.5 74.5h0M97.5 73.5h0M41.5 65.5h0M275.5 35.5h0M238.5 54.5h0M89.5 64.5h0M227.5 55.5h0M173.5 59.5h0M221.5 68.5h0M54.5 71.5h0M165.5 65.5h0M277.5 55.5h0M269.5 54.5h0M169.5 67.5h0M208.5 56.5h0M71.5 55.5h0M171.5 70.5h0M70.5 56.5h0M165.5 62.5h0M269.5 54.5h0M85.5 63.5h0M152.5 67.5h0M207.5 66.5h0M196.5 64.5h0M200.5 63.5h0M102.5 46.5h0M233.5 74.5h0M253.5 66.5h0M241.5 62.5h0M275.5 63.5h0M244.5 69.5h0M264.5 61.5h0M185.5 71.5h0M241.5 53.5h0M219.5 63.5h0M46.5 51.5h0M279.5 64.5h0M267.5 49.5h0M70.5 65.5h0M262.5 75.5h0M273.5 62.5h0M139.5 41.5h0M255.5 59.5h0M195.5 67.5h0M150.5 56.5h0M181.5 64.5h0M52.5 71.5h0M124.5 53.5h0M224.5 64.5h0M44.5 58.5h0M196.5 71.5h0M77.5 66.5h0M273.5 64.5h0M136.5 85.5h0M250.5 46.5h0M261.5 57.5h0M70.5 64.5h0M72.5 62.5h0M49.5 63.5h0M250.5 57.5h0M163.5 60.5h0M100.5 52.5h0M270.5 59.5h0M41.5 56.5h0M242.5 65.5h0M150.5 67.5h0M223.5 71.5h0M161.5 63.5h0M99.5 70.5h0M232.5 70.5h0M90.5 65.5h0M50.5 58.5h0M123.5 66.5h0M47.5 55.5h0M270.5 57.5h0M109.5 63.5h0M148.5 67.5h0M231.5 67.5h0M245.5 72.5h0M46.5 68.5h0M123.5 35.5h0M253.5 59.5h0M260.5 58.5h0M40.5 65.5h0M249.5 61.5h0M233.5 47.5h0M182.5 70.5h0M81.5 57.5h0M99.5 59.5h0M162.5 68.5h0M47.5 46.5h0M247.5 74.5h0M232.5 71.5h0M124.5 76.5h0M268.5 53.5h0M115.5 69.5h0M140.5 66.5h0M158.5 75.5h0M190.5 52.5h0M124.5 51.5h0M250.5 64.5h0M274.5 61.5h0M276.5 61.5h0M150.5 75.5h0M165.5 75.5h0M249.5 73.5h0M168.5 57.5h0M253.5 67.5h0M40.5 61.5h0M268.5 40.5h0M93.5 75.5h0M189.5 69.5h0M58.5 65.5h0M123.5 69.5h0M139.5 59.5h0M110.5 78.5h0M85.5 68.5h0M227.5 65.5h0M138.5 60.5h0M166.5 71.5h0M59.5 62.5h0M79.5 66.5h0M60.5 71.5h0M248.5 55.5h0M239.5 59.5h0M216.5 59.5h0M243.5 72.5h0M227.5 67.5h0M250.5 70.5h0M260.5 72.5h0M156.5 54.5h0M216.5 60.5h0M247.5 53.5h0M254.5 74.5h0M67.5 67.5h0M200.5 59.5h0M171.5 61.5h0M201.5 77.5h0M179.5 67.5h0M182.5 73.5h0M195.5 83.5h0M248.5 62.5h0M38.5 56.5h0M114.5 71.5h0M70.5 58.5h0M190.5 68.5h0M145.5 64.5h0M101.5 94.5h0M115.5 66.5h0M276.5 54.5h0M212.5 65.5h0M224.5 66.5h0M100.5 70.5h0M137.5 72.5h0M187.5 64.5h0M64.5 62.5h0M147.5 68.5h0M59.5 93.5h0M213.5 40.5h0M253.5 80.5h0M34.5 66.5h0M222.5 59.5h0M103.5 69.5h0M97.5 63.5h0M80.5 54.5h0M96.5 64.5h0M53.5 73.5h0M197.5 65.5h0M197.5 74.5h0M128.5 69.5h0M126.5 56.5h0M241.5 62.5h0M264.5 70.5h0M61.5 68.5h0M243.5 60.5h0M163.5 76.5h0M224.5 63.5h0M249.5 60.5h0M245.5 77.5h0M206.5 56.5h0M58.5 69.5h0M89.5 46.5h0M104.5 67.5h0M141.5 60.5h0M211.5 79.5h0M206.5 59.5h0M215.5 57.5h0M155.5 58.5h0M232.5 61.5h0M206.5 58.5h0M277.5 72.5h0M52.5 79.5h0M152.5 71.5h0M81.5 54.5h0M85.5 48.5h0M72.5 62.5h0M108.5 60.5h0M40.5 63.5h0M207.5 54.5h0M266.5 54.5h0M84.5 61.5h0M102.5 63.5h0M253.5 47.5h0M257.5 57.5h0M269.5 62.5h0M94.5 56.5h0M236.5 66.5h0M200.5 51.5h0M274.5 56.5h0M88.5 42.5h0M40.5 63.5h0M242.5 63.5h0M191.5 65.5h0M96.5 65.5h0M161.5 58.5h0M116.5 66.5h0M183.5 41.5h0M98.5 62.5h0M169.5 70.5h0M163.5 53.5h0M83.5 67.5h0M224.5 79.5h0M225.5 58.5h0M96.5 72.5h0M61.5 74.5h0M211.5 68.5h0M229.5 63.5h0M152.5 80.5h0M123.5 70.5h0M60.5 68.5h0M113.5 93.5h0M169.5 61.5h0M255.5 66.5h0M272.5 61.5h0M167.5 62.5h0M156.5 74.5h0M147.5 71.5h0M44.5 60.5h0M149.5 59.5h0M81.5 56.5h0M278.5 47.5h0M164.5 62.5h0M176.5 68.5h0M158.5 64.5h0M258.5 61.5h0M82.5 61.5h0M187.5 61.5h0M256.5 54.5h0M239.5 59.5h0M272.5 68.5h0M197.5 70.5h0M102.5 53.5h0M127.5 55.5h0M193.5 76.5h0M79.5 56.5h0M86.5 70.5h0M89.5 52.5h0M125.5 65.5h0M131.5 58.5h0M160.5 62.5h0M163.5 69.5h0M110.5 78.5h0M180.5 67.5h0M202.5 79.5h0M142.5 63.5h0M160.5 73.5h0M86.5 65.5h0M273.5 72.5h0M240.5 73.5h0M180.5 61.5h0M104.5 51.5h0M270.5 66.5h0M274.5 74.5h0M88.5 81.5h0M182.5 66.5h0M77.5 62.5h0M140.5 71.5h0M155.5 73.5h0M168.5 42.5h0M58.5 39.5h0M239.5 72.5h0M273.5 67.5h0M155.5 73.5h0M91.5 64.5h0M161.5 63.5h0M54.5 68.5h0M151.5 53.5h0M209.5 70.5h0M65.5 57.5h0M88.5 70.5h0M163.5 66.5h0M179.5 65.5h0M161.5 67.5h0M277.5 61.5h0M87.5 66.5h0M206.5 71.5h0M74.5 66.5h0M82.5 70.5h0M262.5 58.5h0M249.5 62.5h0M45.5 52.5h0M83.5 62.5h0M77.5 66.5h0M54.5 76.5h0M264.5 48.5h0M185.5 53.5h0M111.5 77.5h0M181.5 64.5h0M273.5 62.5h0M221.5 67.5h0M224.5 60.5h0M44.5 59.5h0M59.5 67.5h0M212.5 62.5h0M99.5 67.5h0M104.5 65.5h0M131.5 59.5h0M65.5 61.5h0M206.5 71.5h0M158.5 65.5h0M114.5 69.5h0M251.5 73.5h0M159.5 75.5h0M86.5 66.5h0M147.5 54.5h0M62.5 64.5h0M182.5 61.5h0M265.5 44.5h0M209.5 78.5h0M201.5 50.5h0M61.5 64.5h0M244.5 67.5h0M195.5 66.5h0M160.5 54.5h0M198.5 71.5h0M87.5 67.5h0M65.5 71.5h0M58.5 73.5h0M245.5 67.5h0M247.5 54.5h0M109.5 62.5h0M77.5 31.5h0M192.5 64.5h0M121.5 63.5h0M50.5 59.5h0M100.5 70.5h0M103.5 51.5h0M165.5 60.5h0M151.5 64.5h0M245.5 67.5h0M250.5 61.5h0M173.5 70.5h0M66.5 64.5h0M138.5 39.5h0M33.5 69.5h0M168.5 70.5h0M118.5 66.5h0M262.5 69.5h0M115.5 67.5h0M39.5 74.5h0M226.5 65.5h0M257.5 60.5h0M161.5 45.5h0M263.5 63.5h0M181.5 57.5h0M90.5 41.5h0M250.5 63.5h0M50.5 56.5h0M170.5 53.5h0M52.5 70.5h0M176.5 61.5h0M61.5 56.5h0M50.5 58.5h0M239.5 63.5h0M44.5 62.5h0M37.5 70.5h0M145.5 54.5h0M86.5 66.5h0M244.5 40.5h0M128.5 61.5h0M245.5 80.5h0M124.5 53.5h0M108.5 69.5h0M186.5 76.5h0M65.5 73.5h0M55.5 66.5h0M188.5 77.5h0M185.5 59.5h0M81.5 69.5h0M126.5 65.5h0M136.5 45.5h0M90.5 62.5h0M138.5 62.5h0M224.5 57.5h0M89.5 57.5h0M176.5 68.5h0M269.5 62.5h0M238.5 46.5h0M113.5 71.5h0M154.5 71.5h0M62.5 62.5h0M240.5 63.5h0M143.5 57.5h0M279.5 58.5h0M261.5 61.5h0M98.5 60.5h0M93.5 67.5h0M34.5 63.5h0M196.5 71.5h0M86.5 68.5h0M242.5 70.5h0M169.5 64.5h0M83.5 47.5h0M116.5 65.5h0M222.5 62.5h0M249.5 67.5h0M84.5 57.5h0M78.5 70.5h0M197.5 59.5h0M240.5 59.5h0M63.5 53.5h0M206.5 76.5h0M44.5 57.5h0M67.5 55.5h0M274.5 52.5h0M49.5 80.5h0M135.5 65.5h0M180.5 60.5h0M166.5 65.5h0M189.5 71.5h0M175.5 75.5h0M88.5 56.5h0M137.5 93.5h0M68.5 80.5h0M61.5 58.5h0M52.5 64.5h0M76.5 64.5h0M153.5 83.5h0M105.5 59.5h0M248.5 62.5h0M196.5 70.5h0M259.5 53.5h0M253.5 62.5h0M168.5 86.5h0M60.5 59.5h0M144.5 47.5h0M62.5 62.5h0M53.5 73.5h0M213.5 63.5h0M275.5 51.5h0M277.5 64.5h0M244.5 55.5h0M249.5 72.5h0M235.5 64.5h0M236.5 71.5h0M210.5 73.5h0M174.5 76.5h0M131.5 71.5h0M79.5 72.5h0M189.5 72.5h0M147.5 55.5h0M256.5 64.5h0M71.5 63.5h0M230.5 75.5h0M72.5 66.5h0M203.5 54.5h0M142.5 63.5h0M102.5 68.5h0M66.5 70.5h0M128.5 65.5h0M72.5 62.5h0M88.5 84.5h0M84.5 66.5h0M59.5 57.5h0M79.5 62.5h0M154.5 58.5h0M84.5 74.5h0M239.5 62.5h0M107.5 64.5h0M64.5 60.5h0M96.5 62.5h0M67.5 60.5h0M277.5 70.5h0M52.5 81.5h0M101.5 56.5h0M60.5 65.5h0M92.5 71.5h0M252.5 62.5h0M148.5 60.5h0M160.5 70.5h0M274.5 58.5h0M139.5 72.5h0M169.5 54.5h0M274.5 59.5h0M102.5 64.5h0M177.5 69.5h0M261.5 54.5h0M274.5 66.5h0M135.5 65.5h0M70.5 73.5h0M88.5 48.5h0M150.5 68.5h0M108.5 50.5h0M162.5 70.5h0M54.5 72.5h0M221.5 64.5h0M207.5 73.5h0M222.5 54.5h0M160.5 66.5h0M169.5 71.5h0M68.5 54.5h0M35.5 63.5h0M108.5 59.5h0M52.5 78.5h0M194.5 57.5h0M255.5 60.5h0M233.5 69.5h0M105.5 68.5h0M84.5 65.5h0M271.5 70.5h0M276.5 59.5h0M118.5 71.5h0M200.5 71.5h0M245.5 42.5h0M170.5 71.5h0M245.5 62.5h0M143.5 75.5h0M250.5 56.5h0M166.5 54.5h0M184.5 66.5h0M245.5 65.5h0M160.5 46.5h0M133.5 63.5h0M80.5 53.5h0M204.5 44.5h0M133.5 59.5h0M88.5 69.5h0M87.5 62.5h0M119.5 56.5h0M72.5 62.5h0M227.5 55.5h0M200.5 54.5h0M108.5 55.5h0M166.5 61.5h0M249.5 56.5h0M152.5 69.5h0M134.5 75.5h0M140.5 67.5h0M247.5 68.5h0M150.5 55.5h0M78.5 68.5h0M251.5 65.5h0M71.5 60.5h0M64.5 78.5h0M53.5 73.5h0M139.5 63.5h0M108.5 62.5h0M255.5 66.5h0M192.5 84.5h0M247.5 76.5h0M155.5 70.5h0M251.5 70.5h0M182.5 69.5h0M159.5 81.5h0M215.5 48.5h0M158.5 67.5h0M61.5 70.5h0M76.5 60.5h0M271.5 65.5h0M79.5 68.5h0M164.5 72.5h0M117.5 54.5h0M273.5 77.5h0M227.5 59.5h0M257.5 60.5h0M89.5 73.5h0M76.5 67.5h0M159.5 62.5h0M163.5 57.5h0M223.5 73.5h0M99.5 66.5h0M264.5 61.5h0M252.5 63.5h0M98.5 65.5h0M164.5 73.5h0M268.5 74.5h0M275.5 64.5h0M61.5 47.5h0M63.5 63.5h0M36.5 57.5h0M188.5 55.5h0M239.5 70.5h0M94.5 64.5h0M239.5 58.5h0M170.5 67.5h0M80.5 65.5h0M38.5 69.5h0M165.5 61.5h0M278.5 74.5h0M233.5 62.5h0M276.5 62.5h0M93.5 74.5h0M226.5 66.5h0M275.5 66.5h0M84.5 64.5h0M182.5 69.5h0M238.5 67.5h0M136.5 68.5h0M74.5 55.5h0M53.5 49.5h0M258.5 57.5h0M81.5 51.5h0M271.5 75.5h0M218.5 52.5h0M270.5 52.5h0M83.5 55.5h0M154.5 64.5h0M94.5 53.5h0M209.5 52.5h0M48.5 67.5h0M67.5 55.5h0M263.5 58.5h0M249.5 54.5h0M266.5 71.5h0M171.5 64.5h0M107.5 69.5h0M107.5 77.5h0M154.5 63.5h0M246.5 62.5h0M253.5 69.5h0M144.5 62.5h0M160.5 77.5h0M90.5 68.5h0M259.5 59.5h0M256.5 70.5h0M70.5 58.5h0M272.5 65.5h0M174.5 57.5h0M173.5 70.5h0M54.5 56.5h0M60.5 68.5h0M55.5 48.5h0M106.5 61.5h0M137.5 53.5h0M144.5 63.5h0M242.5 62.5h0M52.5 57.5h0M222.5 74.5h0M86.5 67.5h0M152.5 71.5h0M103.5 65.5h0M163.5 70.5h0M260.5 58.5h0M106.5 52.5h0M102.5 64.5h0M142.5 51.5h0M259.5 68.5h0M273.5 77.5h0M200.5 58.5h0M168.5 54.5h0M168.5 59.5h0M76.5 67.5h0M182.5 64.5h0M55.5 67.5h0M270.5 63.5h0M55.5 71.5h0M148.5 53.5h0M87.5 51.5h0M232.5 53.5h0M171.5 49.5h0M93.5 77.5h0M257.5 73.5h0M242.5 76.5h0M52.5 45.5h0M238.5 68.5h0M96.5 68.5h0M144.5 75.5h0M94.5 57.5h0M126.5 73.5h0M255.5 59.5h0M172.5 53.5h0M85.5 61.5h0M73.5 63.5h0M176.5 67.5h0M259.5 58.5h0M269.5 63.5h0M263.5 78.5h0M95.5 73.5h0M89.5 62.5h0M58.5 46.5h0M120.5 59.5h0M104.5 66.5h0M273.5 65.5h0M266.5 60.5h0M135.5 69.5h0M235.5 60.5h0M84.5 64.5h0M98.5 68.5h0M74.5 46.5h0M274.5 65.5h0M74.5 68.5h0M62.5 58.5h0M259.5 62.5h0M268.5 45.5h0M160.5 69.5h0M258.5 65.5h0M70.5 58.5h0M154.5 90.5h0M49.5 62.5h0M80.5 63.5h0M73.5 73.5h0M272.5 65.5h0M76.5 53.5h0M60.5 85.5h0M232.5 61.5h0M215.5 62.5h0M139.5 69.5h0M40.5 58.5h0M277.5 68.5h0M209.5 52.5h0M234.5 44.5h0M217.5 68.5h0M162.5 63.5h0M213.5 69.5h0M241.5 60.5h0M34.5 71.5h0M47.5 50.5h0M113.5 57.5h0M249.5 59.5h0M83.5 59.5h0M156.5 73.5h0M178.5 70.5h0M111.5 54.5h0M73.5 65.5h0M61.5 50.5h0M52.5 79.5h0M278.5 64.5h0M125.5 69.5h0M79.5 54.5h0M183.5 61.5h0M104.5 62.5h0M121.5 71.5h0M226.5 75.5h0M186.5 60.5h0M75.5 64.5h0M42.5 68.5h0M274.5 60.5h0M240.5 71.5h0M42.5 59.5h0M199.5 54.5h0M190.5 49.5h0M134.5 64.5h0M255.5 60.5h0M158.5 82.5h0M254.5 58.5h0M100.5 48.5h0M72.5 61.5h0M279.5 79.5h0M41.5 69.5h0M127.5 59.5h0M276.5 68.5h0M63.5 58.5h0M238.5 62.5h0M231.5 61.5h0M213.5 66.5h0M258.5 70.5h0M76.5 59.5h0M90.5 71.5h0M51.5 69.5h0M111.5 58.5h0M82.5 76.5h0M272.5 41.5h0M78.5 61.5h0M231.5 54.5h0M50.5 73.5h0M39.5 63.5h0M261.5 68.5h0M212.5 48.5h0M156.5 68.5h0M50.5 56.5h0M152.5 43.5h0M160.5 74.5h0M33.5 59.5h0M184.5 60.5h0M186.5 79.5h0M238.5 74.5h0M244.5 67.5h0M272.5 58.5h0M196.5 71.5h0M142.5 71.5h0M183.5 67.5h0M228.5 64.5h0M103.5 51.5h0M67.5 74.5h0M88.5 37.5h0M233.5 54.5h0M265.5 46.5h0M270.5 66.5h0M39.5 74.5h0M263.5 67.5h0M206.5 67.5h0M216.5 61.5h0M38.5 81.5h0M43.5 65.5h0M156.5 62.5h0M98.5 63.5h0M153.5 64.5h0M158.5 67.5h0M274.5 75.5h0M235.5 57.5h0M58.5 54.5h0M47.5 69.5h0M56.5 66.5h0M164.5 63.5h0M36.5 69.5h0M238.5 69.5h0M254.5 57.5h0M224.5 66.5h0M44.5 71.5h0M86.5 70.5h0M128.5 66.5h0M267.5 71.5h0M225.5 59.5h0M160.5 72.5h0M76.5 56.5h0M177.5 59.5h0M113.5 58.5h0M272.5 69.5h0M83.5 58.5h0M98.5 66.5h0M85.5 54.5h0M85.5 65.5h0M77.5 45.5h0M200.5 66.5h0M126.5 72.5h0M38.5 66.5h0M276.5 64.5h0M253.5 80.5h0M250.5 61.5h0M150.5 61.5h0M240.5 56.5h0M69.5 65.5h0M174.5 64.5h0M173.5 60.5h0M184.5 71.5h0M180.5 57.5h0M72.5 61.5h0M60.5 66.5h0M191.5 58.5h0M196.5 53.5h0M175.5 68.5h0M192.5 55.5h0M161.5 62.5h0M129.5 74.5h0M162.5 51.5h0M211.5 78.5h0M65.5 64.5h0M191.5 66.5h0M80.5 56.5h0M271.5 67.5h0M265.5 57.5h0M148.5 61.5h0M113.5 70.5h0M146.5 67.5h0M247.5 63.5h0M188.5 58.5h0M275.5 65.5h0M151.5 59.5h0M99.5 74.5h0M209.5 57.5h0M164.5 59.5h0M230.5 69.5h0M71.5 60.5h0M152.5 74.5h0M274.5 64.5h0M58.5 73.5h0M80.5 56.5h0M92.5 70.5h0M181.5 71.5h0M215.5 88.5h0M168.5 74.5h0M110.5 57.5h0M264.5 55.5h0M57.5 39.5h0M109.5 64.5h0M104.5 64.5h0M69.5 54.5h0M272.5 50.5h0M183.5 65.5h0M255.5 79.5h0M250.5 62.5h0M229.5 60.5h0M34.5 64.5h0M130.5 67.5h0M186.5 79.5h0M92.5 59.5h0M255.5 62.5h0M265.5 64.5h0M261.5 82.5h0M134.5 75.5h0M258.5 54.5h0M250.5 56.5h0M77.5 57.5h0M45.5 75.5h0M34.5 56.5h0M63.5 75.5h0M245.5 82.5h0M77.5 54.5h0M49.5 51.5h0M259.5 57.5h0M55.5 73.5h0M153.5 58.5h0M162.5 73.5h0M59.5 66.5h0M150.5 77.5h0M61.5 73.5h0M69.5 58.5h0M32.5 64.5h0M245.5 49.5h0M70.5 58.5h0M49.5 76.5h0M76.5 60.5h0M58.5 79.5h0M162.5 72.5h0M279.5 79.5h0M171.5 57.5h0M60.5 59.5h0M87.5 61.5h0M163.5 64.5h0M156.5 68.5h0M226.5 63.5h0M72.5 69.5h0M66.5 70.5h0M159.5 67.5h0M279.5 70.5h0M192.5 59.5h0M227.5 69.5h0M206.5 59.5h0M211.5 53.5h0M178.5 75.5h0M76.5 67.5h0M172.5 60.5h0M36.5 53.5h0M180.5 56.5h0M185.5 68.5h0M169.5 60.5h0M255.5 62.5h0M100.5 61.5h0M105.5 68.5h0M173.5 61.5h0M121.5 68.5h0M107.5 65.5h0M159.5 73.5h0M111.5 76.5h0M126.5 54.5h0M191.5 60.5h0M172.5 62.5h0M158.5 74.5h0M38.5 37.5h0M171.5 72.5h0M131.5 71.5h0M97.5 79.5h0M228.5 67.5h0M205.5 73.5h0M260.5 64.5h0M53.5 73.5h0M127.5 69.5h0M75.5 64.5h0M82.5 65.5h0M110.5 67.5h0M41.5 70.5h0M71.5 59.5h0M60.5 73.5h0M194.5 74.5h0M260.5 60.5h0M173.5 62.5h0M169.5 73.5h0M280.5 72.5h0M48.5 62.5h0M205.5 71.5h0M249.5 62.5h0M207.5 61.5h0M154.5 71.5h0M258.5 62.5h0M218.5 61.5h0M83.5 72.5h0M263.5 79.5h0M235.5 71.5h0M232.5 48.5h0M213.5 59.5h0M117.5 68.5h0M207.5 68.5h0M127.5 70.5h0M40.5 61.5h0M128.5 66.5h0M167.5 71.5h0M223.5 52.5h0M164.5 57.5h0M61.5 56.5h0M126.5 65.5h0M78.5 68.5h0M257.5 59.5h0M57.5 66.5h0M224.5 77.5h0M193.5 70.5h0M36.5 76.5h0M94.5 65.5h0M225.5 57.5h0M251.5 61.5h0M60.5 65.5h0M277.5 49.5h0M120.5 69.5h0M95.5 54.5h0M168.5 66.5h0M74.5 75.5h0M223.5 62.5h0M177.5 71.5h0M223.5 51.5h0M89.5 64.5h0M250.5 60.5h0M60.5 53.5h0M177.5 60.5h0M272.5 64.5h0M66.5 70.5h0M60.5 61.5h0M82.5 62.5h0M202.5 63.5h0M162.5 70.5h0M98.5 63.5h0M159.5 70.5h0M103.5 67.5h0M84.5 57.5h0M108.5 57.5h0M244.5 54.5h0M123.5 63.5h0M201.5 65.5h0M260.5 60.5h0M71.5 58.5h0M54.5 65.5h0M139.5 62.5h0M79.5 87.5h0M220.5 56.5h0M226.5 70.5h0M148.5 58.5h0M90.5 63.5h0M67.5 60.5h0M166.5 62.5h0M273.5 71.5h0M245.5 76.5h0M165.5 60.5h0M49.5 58.5h0M68.5 57.5h0M89.5 57.5h0M64.5 64.5h0M86.5 62.5h0M258.5 62.5h0M154.5 73.5h0M162.5 80.5h0M176.5 54.5h0M88.5 66.5h0M201.5 61.5h0M55.5 62.5h0M229.5 53.5h0M112.5 70.5h0M222.5 70.5h0M66.5 51.5h0M247.5 68.5h0M149.5 94.5h0M78.5 65.5h0M230.5 56.5h0M101.5 70.5h0M84.5 73.5h0M177.5 66.5h0M125.5 62.5h0M47.5 68.5h0M250.5 65.5h0M128.5 56.5h0M159.5 60.5h0M89.5 67.5h0M181.5 85.5h0M233.5 65.5h0M174.5 56.5h0M231.5 64.5h0M153.5 60.5h0M67.5 43.5h0M117.5 68.5h0M244.5 56.5h0M65.5 75.5h0M69.5 65.5h0M90.5 63.5h0M69.5 73.5h0M151.5 61.5h0M233.5 60.5h0M205.5 71.5h0M208.5 67.5h0M167.5 45.5h0M61.5 65.5h0M167.5 65.5h0M84.5 60.5h0M81.5 70.5h0M109.5 51.5h0M157.5 74.5h0M255.5 79.5h0M67.5 73.5h0M80.5 60.5h0M231.5 74.5h0M91.5 70.5h0M147.5 56.5h0M180.5 47.5h0M56.5 65.5h0M193.5 49.5h0M99.5 66.5h0M274.5 82.5h0M74.5 62.5h0M61.5 63.5h0M38.5 80.5h0M206.5 72.5h0M274.5 67.5h0M263.5 70.5h0M77.5 54.5h0M182.5 62.5h0M158.5 68.5h0M169.5 63.5h0M51.5 63.5h0M156.5 80.5h0M177.5 75.5h0M165.5 60.5h0M275.5 64.5h0M174.5 60.5h0M165.5 64.5h0M185.5 60.5h0M49.5 62.5h0M177.5 60.5h0M179.5 58.5h0M228.5 57.5h0M134.5 74.5h0M62.5 85.5h0M120.5 64.5h0M272.5 72.5h0M163.5 59.5h0M193.5 77.5h0M40.5 66.5h0M246.5 70.5h0M173.5 63.5h0M244.5 51.5h0M181.5 53.5h0M82.5 52.5h0M209.5 53.5h0M60.5 72.5h0M235.5 65.5h0M65.5 65.5h0M173.5 63.5h0M149.5 65.5h0M224.5 59.5h0M278.5 68.5h0M159.5 62.5h0M229.5 79.5h0M276.5 57.5h0M200.5 59.5h0M175.5 60.5h0M87.5 55.5h0M41.5 61.5h0M225.5 69.5h0M200.5 70.5h0M52.5 53.5h0M129.5 53.5h0M40.5 59.5h0M77.5 87.5h0M276.5 57.5h0M235.5 74.5h0M266.5 63.5h0M141.5 40.5h0M194.5 59.5h0M68.5 57.5h0M147.5 67.5h0M250.5 66.5h0M140.5 47.5h0M75.5 62.5h0M277.5 56.5h0M114.5 45.5h0M189.5 71.5h0M280.5 57.5h0M215.5 57.5h0M53.5 45.5h0M164.5 55.5h0M177.5 74.5h0M42.5 67.5h0M137.5 67.5h0M167.5 76.5h0M100.5 73.5h0M148.5 56.5h0M155.5 69.5h0M136.5 57.5h0M79.5 72.5h0M260.5 64.5h0M210.5 68.5h0M206.5 70.5h0M239.5 70.5h0M69.5 83.5h0M240.5 63.5h0M144.5 58.5h0M116.5 65.5h0M198.5 60.5h0M207.5 61.5h0M83.5 54.5h0M75.5 63.5h0M60.5 63.5h0M56.5 66.5h0M70.5 52.5h0M157.5 72.5h0M69.5 54.5h0M53.5 51.5h0M266.5 52.5h0M111.5 49.5h0M44.5 53.5h0M149.5 63.5h0M183.5 63.5h0M247.5 57.5h0M231.5 57.5h0M42.5 66.5h0M64.5 64.5h0M136.5 72.5h0M198.5 67.5h0M264.5 68.5h0M169.5 64.5h0M244.5 68.5h0M47.5 49.5h0M220.5 60.5h0M164.5 58.5h0M168.5 54.5h0M225.5 72.5h0M90.5 76.5h0M250.5 65.5h0M269.5 61.5h0M214.5 55.5h0M237.5 64.5h0M85.5 56.5h0M245.5 65.5h0M250.5 54.5h0M156.5 80.5h0M262.5 73.5h0M112.5 62.5h0M153.5 70.5h0M56.5 55.5h0M85.5 77.5h0M46.5 52.5h0M69.5 77.5h0M267.5 66.5h0M209.5 38.5h0M135.5 57.5h0M126.5 62.5h0M268.5 59.5h0M75.5 72.5h0M60.5 79.5h0M254.5 65.5h0M99.5 65.5h0M256.5 46.5h0M81.5 64.5h0M95.5 74.5h0M202.5 65.5h0M263.5 55.5h0M185.5 69.5h0M122.5 70.5h0M241.5 60.5h0M227.5 65.5h0M80.5 67.5h0M139.5 61.5h0M57.5 67.5h0M168.5 68.5h0M161.5 76.5h0M181.5 61.5h0M268.5 58.5h0M69.5 60.5h0M55.5 62.5h0M264.5 65.5h0M189.5 68.5h0M277.5 38.5h0M135.5 66.5h0M78.5 55.5h0M80.5 66.5h0M117.5 57.5h0M151.5 64.5h0M94.5 77.5h0M235.5 74.5h0M224.5 67.5h0M151.5 66.5h0M77.5 69.5h0M33.5 77.5h0M84.5 64.5h0M166.5 79.5h0M133.5 61.5h0M55.5 62.5h0M185.5 55.5h0M170.5 55.5h0M93.5 65.5h0M181.5 54.5h0M249.5 64.5h0M58.5 78.5h0M236.5 61.5h0M162.5 71.5h0M169.5 64.5h0M105.5 63.5h0M96.5 80.5h0M45.5 55.5h0M172.5 54.5h0M208.5 74.5h0M172.5 67.5h0M119.5 64.5h0M276.5 70.5h0M132.5 66.5h0M68.5 67.5h0M256.5 64.5h0M175.5 58.5h0M66.5 66.5h0M243.5 55.5h0M114.5 58.5h0M98.5 68.5h0M220.5 62.5h0M261.5 80.5h0M256.5 62.5h0M107.5 63.5h0M275.5 71.5h0M245.5 54.5h0M89.5 62.5h0M272.5 80.5h0M89.5 77.5h0M234.5 61.5h0M153.5 56.5h0M103.5 51.5h0M134.5 61.5h0M33.5 55.5h0M261.5 68.5h0M77.5 65.5h0M94.5 75.5h0M193.5 69.5h0M254.5 64.5h0M186.5 66.5h0M232.5 66.5h0M159.5 69.5h0M67.5 68.5h0M234.5 64.5h0M88.5 72.5h0M221.5 85.5h0M59.5 71.5h0M178.5 54.5h0M111.5 69.5h0M139.5 60.5h0M218.5 74.5h0M196.5 60.5h0M149.5 52.5h0M154.5 66.5h0M245.5 57.5h0M143.5 71.5h0M272.5 55.5h0M65.5 47.5h0M203.5 51.5h0M167.5 71.5h0M179.5 67.5h0M71.5 80.5h0M79.5 73.5h0M198.5 66.5h0M164.5 58.5h0M266.5 61.5h0M227.5 72.5h0M155.5 71.5h0M135.5 75.5h0M128.5 76.5h0M55.5 69.5h0M92.5 68.5h0M275.5 77.5h0M111.5 73.5h0M169.5 63.5h0M194.5 58.5h0M96.5 44.5h0M115.5 54.5h0M194.5 70.5h0M199.5 61.5h0M180.5 65.5h0M52.5 60.5h0M49.5 70.5h0M76.5 69.5h0M252.5 58.5h0M128.5 78.5h0M115.5 52.5h0M95.5 66.5h0M195.5 52.5h0M65.5 78.5h0M242.5 56.5h0M99.5 57.5h0M57.5 77.5h0M205.5 80.5h0M237.5 71.5h0M72.5 66.5h0M248.5 71.5h0M79.5 67.5h0M249.5 78.5h0M132.5 74.5h0M104.5 68.5h0M178.5 63.5h0M151.5 69.5h0M67.5 59.5h0M263.5 59.5h0M157.5 79.5h0M177.5 55.5h0M90.5 62.5h0M134.5 54.5h0M177.5 69.5h0M264.5 54.5h0M170.5 61.5h0M272.5 57.5h0M59.5 60.5h0M36.5 67.5h0M140.5 70.5h0M154.5 68.5h0M219.5 72.5h0M79.5 70.5h0M229.5 47.5h0M94.5 69.5h0M229.5 77.5h0M270.5 67.5h0M251.5 65.5h0M180.5 75.5h0M242.5 60.5h0M267.5 59.5h0M270.5 60.5h0M111.5 56.5h0M188.5 52.5h0M269.5 64.5h0M73.5 47.5h0M75.5 70.5h0M207.5 60.5h0M205.5 67.5h0M83.5 72.5h0M156.5 76.5h0M233.5 67.5h0M265.5 61.5h0M139.5 72.5h0M276.5 77.5h0M148.5 56.5h0M164.5 74.5h0M144.5 54.5h0M62.5 66.5h0M136.5 57.5h0M50.5 59.5h0M153.5 72.5h0M257.5 68.5h0M186.5 57.5h0M167.5 59.5h0M60.5 66.5h0M265.5 72.5h0M57.5 58.5h0M265.5 66.5h0M229.5 84.5h0M267.5 83.5h0M164.5 77.5h0M103.5 73.5h0M159.5 73.5h0M86.5 67.5h0M86.5 75.5h0M167.5 58.5h0M142.5 78.5h0M104.5 70.5h0M36.5 59.5h0M116.5 64.5h0M57.5 54.5h0M139.5 59.5h0M180.5 66.5h0M39.5 60.5h0M172.5 63.5h0M256.5 48.5h0M272.5 58.5h0M273.5 67.5h0M107.5 73.5h0M263.5 62.5h0M148.5 66.5h0M204.5 56.5h0M238.5 57.5h0M43.5 49.5h0M228.5 79.5h0M101.5 74.5h0M98.5 72.5h0M275.5 60.5h0M264.5 61.5h0M202.5 67.5h0M224.5 43.5h0M270.5 64.5h0M33.5 64.5h0M261.5 57.5h0M225.5 71.5h0M46.5 57.5h0M163.5 77.5h0M216.5 80.5h0M224.5 55.5h0M65.5 61.5h0M67.5 71.5h0M264.5 67.5h0M58.5 71.5h0M159.5 68.5h0M194.5 68.5h0M110.5 62.5h0M137.5 63.5h0M233.5 50.5h0M87.5 52.5h0M154.5 67.5h0M102.5 72.5h0M278.5 56.5h0M213.5 60.5h0M243.5 67.5h0M244.5 55.5h0M113.5 52.5h0M106.5 63.5h0M271.5 63.5h0M146.5 55.5h0M255.5 60.5h0M279.5 54.5h0M69.5 72.5h0M169.5 67.5h0M85.5 55.5h0M218.5 58.5h0M135.5 60.5h0M54.5 62.5h0M51.5 54.5h0M71.5 63.5h0M88.5 69.5h0M236.5 62.5h0M230.5 70.5h0M88.5 66.5h0M169.5 66.5h0M196.5 57.5h0M142.5 67.5h0M260.5 69.5h0M244.5 63.5h0M149.5 56.5h0M172.5 72.5h0M237.5 69.5h0M37.5 50.5h0M88.5 71.5h0M163.5 73.5h0M54.5 53.5h0M61.5 70.5h0M182.5 59.5h0M164.5 65.5h0M112.5 55.5h0M121.5 69.5h0M140.5 59.5h0M80.5 62.5h0M108.5 56.5h0M219.5 68.5h0M251.5 63.5h0M143.5 62.5h0M141.5 61.5h0M192.5 60.5h0M261.5 59.5h0M240.5 58.5h0M110.5 69.5h0M56.5 67.5h0M95.5 63.5h0M250.5 69.5h0M278.5 64.5h0M250.5 61.5h0M155.5 56.5h0M187.5 76.5h0M272.5 59.5h0M276.5 54.5h0M131.5 70.5h0M60.5 59.5h0M261.5 65.5h0M87.5 73.5h0M168.5 59.5h0M134.5 78.5h0M114.5 70.5h0M42.5 68.5h0M64.5 76.5h0M44.5 60.5h0M65.5 58.5h0M88.5 65.5h0M231.5 71.5h0M111.5 53.5h0M174.5 57.5h0M248.5 72.5h0M78.5 68.5h0M69.5 78.5h0M238.5 54.5h0M269.5 59.5h0M147.5 69.5h0M149.5 57.5h0M267.5 60.5h0M142.5 66.5h0M169.5 43.5h0M154.5 61.5h0M239.5 50.5h0M50.5 69.5h0M184.5 59.5h0M77.5 52.5h0M151.5 66.5h0M172.5 45.5h0M238.5 57.5h0M103.5 62.5h0M274.5 83.5h0M41.5 63.5h0M88.5 60.5h0M167.5 65.5h0M175.5 57.5h0M35.5 65.5h0M173.5 69.5h0M209.5 59.5h0M175.5 63.5h0M110.5 73.5h0M50.5 82.5h0M106.5 69.5h0M96.5 62.5h0M236.5 62.5h0M100.5 67.5h0M154.5 77.5h0M158.5 53.5h0M93.5 74.5h0M71.5 54.5h0M149.5 72.5h0M276.5 67.5h0M73.5 67.5h0M164.5 62.5h0M192.5 68.5h0M191.5 63.5h0M229.5 60.5h0M76.5 54.5h0M94.5 70.5h0M248.5 69.5h0M261.5 68.5h0M271.5 65.5h0M141.5 56.5h0M95.5 59.5h0M110.5 58.5h0M247.5 62.5h0" stroke="#7a7a7a" stroke-width="1" stroke-linecap="square" fill="none"/>
<path d="M32.3 64 L32.9 64 L33.5 64 L34.2 64 L34.8 64 L35.4 64 L36 64 L36.7 64 L37.3 64 L37.9 64 L38.5 64 L39.1 64 L39.8 64 L40.4 64 L41 64 L41.6 64 L42.3 64 L42.9 64 L43.5 64 L44.1 64 L44.7 64 L45.4 64 L46 64 L46.6 64 L47.2 64 L47.9 64 L48.5 64 L49.1 64 L49.7 64 L50.4 64 L51 64 L51.6 64 L52.2 64 L52.8 64 L53.5 64 L54.1 64 L54.7 64 L55.3 64 L56 64 L56.6 64 L57.2 64 L57.8 64 L58.4 64 L59.1 64 L59.7 64 L60.3 64 L60.9 64 L61.6 64 L62.2 64 L62.8 64 L63.4 64 L64 64 L64.7 64 L65.3 64 L65.9 64 L66.5 64 L67.2 64 L67.8 64 L68.4 64 L69 64 L69.7 64 L70.3 64 L70.9 64 L71.5 64 L72.1 64 L72.8 64 L73.4 64 L74 64 L74.6 64 L75.3 64 L75.9 64 L76.5 64 L77.1 64 L77.7 64 L78.4 64 L79 64 L79.6 64 L80.2 64 L80.9 64 L81.5 64 L82.1 64 L82.7 64 L83.3 64 L84 64 L84.6 64 L85.2 64 L85.8 64 L86.5 64 L87.1 64 L87.7 64 L88.3 64 L88.9 64 L89.6 64 L90.2 64 L90.8 64 L91.4 64 L92.1 64 L92.7 64 L93.3 64 L93.9 64 L94.5 64 L95.2 64 L95.8 64 L96.4 64 L97 64 L97.7 64 L98.3 64 L98.9 64 L99.5 64 L100.2 64 L100.8 64 L101.4 64 L102 64 L102.6 64 L103.3 64 L103.9 64 L104.5 64 L105.1 64 L105.8 64 L106.4 64 L107 64 L107.6 64 L108.2 64 L108.9 64 L109.5 64 L110.1 64 L110.7 64 L111.4 64 L112 64 L112.6 64 L113.2 64 L113.8 64 L114.5 64 L115.1 64 L115.7 64 L116.3 64 L117 64 L117.6 64 L118.2 64 L118.8 64 L119.4 64 L120.1 64 L120.7 64 L121.3 64 L121.9 64 L122.6 64 L123.2 64 L123.8 64 L124.4 64 L125.1 64 L125.7 64 L126.3 64 L126.9 64 L127.5 64 L128.2 64 L128.8 64 L129.4 64 L130 64 L130.7 64 L131.3 64 L131.9 64 L132.5 64 L133.1 64 L133.8 64 L134.4 64 L135 64 L135.6 64 L136.3 64 L136.9 64 L137.5 64 L138.1 64 L138.7 64 L139.4 64 L140 64 L140.6 64 L141.2 64 L141.9 64 L142.5 64 L143.1 64 L143.7 64 L144.3 64 L145 64 L145.6 64 L146.2 64 L146.8 64 L147.5 64 L148.1 64 L148.7 64 L149.3 64 L150 64.1 L150.6 64.4 L151.2 65 L151.8 66 L152.4 67.1 L153.1 68.1 L153.7 68.9 L154.3 69.4 L154.9 69.8 L155.6 70.1 L156.2 70.2 L156.8 70.3 L157.4 70.2 L158 70.1 L158.7 69.8 L159.3 69.4 L159.9 68.9 L160.5 68.1 L161.2 67.1 L161.8 66 L162.4 65 L163 64.4 L163.6 64.1 L164.3 64 L164.9 64 L165.5 64 L166.1 64 L166.8 64 L167.4 64 L168 64 L168.6 64 L169.2 64 L169.9 64 L170.5 64 L171.1 64 L171.7 64 L172.4 64 L173 64 L173.6 64 L174.2 64 L174.9 64 L175.5 64 L176.1 64 L176.7 64 L177.3 64 L178 64 L178.6 64 L179.2 64 L179.8 64 L180.5 64 L181.1 64 L181.7 64 L182.3 64 L182.9 64 L183.6 64 L184.2 64 L184.8 64 L185.4 64 L186.1 64 L186.7 64 L187.3 64 L187.9 64 L188.5 64 L189.2 64 L189.8 64 L190.4 64 L191 64 L191.7 64 L192.3 64 L192.9 64 L193.5 64 L194.1 64 L194.8 64 L195.4 64 L196 64 L196.6 64 L197.3 64 L197.9 64 L198.5 64 L199.1 64 L199.8 64 L200.4 64 L201 64 L201.6 64 L202.2 64 L202.9 64 L203.5 64 L204.1 64 L204.7 64 L205.4 64 L206 64 L206.6 64 L207.2 64 L207.8 64 L208.5 64 L209.1 64 L209.7 64 L210.3 64 L211 64 L211.6 64 L212.2 64 L212.8 64 L213.4 64 L214.1 64 L214.7 64 L215.3 64 L215.9 64 L216.6 64 L217.2 64 L217.8 64 L218.4 64 L219.1 64 L219.7 64 L220.3 64 L220.9 64 L221.5 64 L222.2 64 L222.8 64 L223.4 64 L224 64 L224.7 64 L225.3 64 L225.9 64 L226.5 64 L227.1 64 L227.8 64 L228.4 64 L229 64 L229.6 64 L230.3 64 L230.9 64 L231.5 64 L232.1 64 L232.7 64 L233.4 64 L234 64 L234.6 64 L235.2 64 L235.9 64 L236.5 64 L237.1 64 L237.7 64 L238.3 64 L239 64 L239.6 64 L240.2 64 L240.8 64 L241.5 64 L242.1 64 L242.7 64 L243.3 64 L243.9 64 L244.6 64 L245.2 64 L245.8 64 L246.4 64 L247.1 64 L247.7 64 L248.3 64 L248.9 64 L249.6 64 L250.2 64 L250.8 64 L251.4 64 L252 64 L252.7 64 L253.3 64 L253.9 64 L254.5 64 L255.2 64 L255.8 64 L256.4 64 L257 64 L257.6 64 L258.3 64 L258.9 64 L259.5 64 L260.1 64 L260.8 64 L261.4 64 L262 64 L262.6 64 L263.2 64 L263.9 64 L264.5 64 L265.1 64 L265.7 64 L266.4 64 L267 64 L267.6 64 L268.2 64 L268.8 64 L269.5 64 L270.1 64 L270.7 64 L271.3 64 L272 64 L272.6 64 L273.2 64 L273.8 64 L274.5 64 L275.1 64 L275.7 64 L276.3 64 L276.9 64 L277.6 64 L278.2 64 L278.8 64 L279.4 64 L280.1 64 L280.7 64 L281.3 64" stroke="#e02020" stroke-width="1.25" fill="none"/>
<path d="M57.2 97.4v-2.5M57.2 30.5v2.5M107 97.4v-2.5M107 30.5v2.5M156.8 97.4v-2.5M156.8 30.5v2.5M206.6 97.4v-2.5M206.6 30.5v2.5M256.4 97.4v-2.5M256.4 30.5v2.5M32.3 30.5h2.5M281.3 30.5h-2.5M32.3 41.6h2.5M281.3 41.6h-2.5M32.3 52.8h2.5M281.3 52.8h-2.5M32.3 64h2.5M281.3 64h-2.5M32.3 75.1h2.5M281.3 75.1h-2.5M32.3 86.2h2.5M281.3 86.2h-2.5M32.3 97.4h2.5M281.3 97.4h-2.5" stroke="#666" stroke-width="0.8" fill="none"/>
<text x="57.2" y="105" font-size="5.7" text-anchor="middle" fill="#000" color="#000">-0.4</text>
<text x="107" y="105" font-size="5.7" text-anchor="middle" fill="#000" color="#000">-0.2</text>
<text x="156.8" y="105" font-size="5.7" text-anchor="middle" fill="#000" color="#000">0</text>
<text x="206.6" y="105" font-size="5.7" text-anchor="middle" fill="#000" color="#000">0.2</text>
<text x="256.4" y="105" font-size="5.7" text-anchor="middle" fill="#000" color="#000">0.4</text>
<text x="29.3" y="32.5" font-size="5.7" text-anchor="end" fill="#000" color="#000">-0.03</text>
<text x="29.3" y="43.6" font-size="5.7" text-anchor="end" fill="#000" color="#000">-0.02</text>
<text x="29.3" y="54.8" font-size="5.7" text-anchor="end" fill="#000" color="#000">-0.01</text>
<text x="29.3" y="66" font-size="5.7" text-anchor="end" fill="#000" color="#000">0</text>
<text x="29.3" y="77.1" font-size="5.7" text-anchor="end" fill="#000" color="#000">0.01</text>
<text x="29.3" y="88.2" font-size="5.7" text-anchor="end" fill="#000" color="#000">0.02</text>
<text x="29.3" y="99.4" font-size="5.7" text-anchor="end" fill="#000" color="#000">0.03</text>
<text x="157" y="114.2" font-size="8" text-anchor="middle" fill="#000" color="#000">Orbital phase</text>
<text x="9" y="64" font-size="8.3" text-anchor="middle" fill="#000" color="#000" transform="rotate(-90 9 64)">Δ mag</text>
<rect x="32.3" y="122.2" width="249" height="76.6" fill="none" stroke="#8a8a8a" stroke-width="1.4"/>
<path d="M143.5 171.5h0M66.5 163.5h0M244.5 150.5h0M259.5 172.5h0M199.5 155.5h0M43.5 157.5h0M259.5 163.5h0M146.5 164.5h0M248.5 161.5h0M149.5 150.5h0M108.5 158.5h0M146.5 164.5h0M125.5 158.5h0M83.5 163.5h0M137.5 163.5h0M147.5 156.5h0M125.5 164.5h0M54.5 158.5h0M119.5 153.5h0M272.5 155.5h0M38.5 156.5h0M191.5 138.5h0M240.5 165.5h0M266.5 169.5h0M98.5 167.5h0M191.5 158.5h0M80.5 160.5h0M156.5 171.5h0M64.5 182.5h0M173.5 168.5h0M155.5 181.5h0M69.5 154.5h0M148.5 176.5h0M129.5 136.5h0M237.5 161.5h0M175.5 161.5h0M187.5 161.5h0M154.5 169.5h0M107.5 167.5h0M155.5 174.5h0M270.5 161.5h0M103.5 168.5h0M195.5 157.5h0M37.5 169.5h0M278.5 164.5h0M118.5 150.5h0M58.5 163.5h0M196.5 155.5h0M201.5 155.5h0M75.5 196.5h0M58.5 172.5h0M145.5 169.5h0M95.5 162.5h0M78.5 160.5h0M139.5 155.5h0M261.5 153.5h0M95.5 159.5h0M247.5 157.5h0M60.5 158.5h0M112.5 160.5h0M77.5 159.5h0M79.5 157.5h0M222.5 165.5h0M176.5 158.5h0M210.5 172.5h0M37.5 165.5h0M266.5 157.5h0M59.5 166.5h0M233.5 167.5h0M209.5 176.5h0M205.5 151.5h0M215.5 165.5h0M197.5 156.5h0M162.5 169.5h0M203.5 166.5h0M73.5 150.5h0M52.5 158.5h0M88.5 159.5h0M75.5 157.5h0M52.5 150.5h0M275.5 168.5h0M60.5 161.5h0M36.5 171.5h0M214.5 151.5h0M105.5 133.5h0M227.5 170.5h0M83.5 161.5h0M258.5 172.5h0M131.5 165.5h0M66.5 163.5h0M201.5 167.5h0M58.5 154.5h0M247.5 162.5h0M207.5 153.5h0M90.5 156.5h0M141.5 174.5h0M96.5 158.5h0M66.5 161.5h0M179.5 160.5h0M70.5 151.5h0M138.5 175.5h0M212.5 156.5h0M262.5 151.5h0M65.5 159.5h0M151.5 163.5h0M41.5 163.5h0M43.5 157.5h0M44.5 153.5h0M108.5 162.5h0M211.5 153.5h0M34.5 153.5h0M66.5 162.5h0M265.5 144.5h0M222.5 158.5h0M203.5 150.5h0M37.5 146.5h0M260.5 162.5h0M213.5 164.5h0M175.5 173.5h0M274.5 159.5h0M188.5 162.5h0M125.5 151.5h0M176.5 174.5h0M40.5 166.5h0M85.5 160.5h0M172.5 178.5h0M254.5 169.5h0M67.5 155.5h0M259.5 156.5h0M90.5 174.5h0M171.5 171.5h0M242.5 138.5h0M215.5 156.5h0M118.5 160.5h0M76.5 140.5h0M243.5 169.5h0M260.5 168.5h0M108.5 170.5h0M254.5 163.5h0M181.5 183.5h0M95.5 159.5h0M171.5 170.5h0M173.5 176.5h0M234.5 156.5h0M57.5 161.5h0M185.5 140.5h0M93.5 176.5h0M181.5 156.5h0M197.5 151.5h0M122.5 163.5h0M135.5 153.5h0M155.5 151.5h0M198.5 173.5h0M262.5 162.5h0M152.5 161.5h0M164.5 167.5h0M80.5 157.5h0M222.5 164.5h0M60.5 168.5h0M174.5 162.5h0M60.5 163.5h0M33.5 175.5h0M116.5 161.5h0M181.5 163.5h0M220.5 160.5h0M220.5 166.5h0M241.5 153.5h0M233.5 161.5h0M67.5 165.5h0M185.5 168.5h0M241.5 160.5h0M139.5 169.5h0M227.5 163.5h0M59.5 164.5h0M91.5 176.5h0M69.5 178.5h0M76.5 155.5h0M190.5 155.5h0M181.5 159.5h0M141.5 167.5h0M71.5 164.5h0M215.5 157.5h0M209.5 160.5h0M33.5 163.5h0M163.5 161.5h0M254.5 167.5h0M81.5 158.5h0M185.5 160.5h0M205.5 189.5h0M214.5 157.5h0M100.5 165.5h0M234.5 148.5h0M182.5 159.5h0M77.5 155.5h0M114.5 151.5h0M259.5 171.5h0M142.5 170.5h0M281.5 167.5h0M223.5 167.5h0M184.5 163.5h0M75.5 162.5h0M52.5 160.5h0M132.5 170.5h0M223.5 155.5h0M241.5 169.5h0M46.5 159.5h0M35.5 158.5h0M47.5 151.5h0M270.5 167.5h0M129.5 164.5h0M237.5 160.5h0M165.5 172.5h0M228.5 172.5h0M99.5 165.5h0M136.5 171.5h0M278.5 162.5h0M114.5 178.5h0M80.5 166.5h0M270.5 163.5h0M262.5 160.5h0M176.5 157.5h0M128.5 151.5h0M252.5 156.5h0M217.5 161.5h0M43.5 162.5h0M79.5 145.5h0M208.5 172.5h0M93.5 150.5h0M189.5 154.5h0M255.5 129.5h0M216.5 153.5h0M208.5 157.5h0M44.5 157.5h0M44.5 143.5h0M278.5 171.5h0M250.5 171.5h0M41.5 159.5h0M166.5 167.5h0M177.5 164.5h0M55.5 166.5h0M36.5 165.5h0M251.5 163.5h0M256.5 160.5h0M125.5 174.5h0M195.5 167.5h0M256.5 158.5h0M54.5 168.5h0M233.5 164.5h0M193.5 160.5h0M134.5 166.5h0M95.5 167.5h0M231.5 168.5h0M110.5 166.5h0M49.5 155.5h0M277.5 160.5h0M253.5 159.5h0M149.5 171.5h0M58.5 146.5h0M108.5 165.5h0M272.5 161.5h0M128.5 181.5h0M43.5 155.5h0M60.5 144.5h0M88.5 158.5h0M188.5 145.5h0M90.5 161.5h0M37.5 158.5h0M43.5 165.5h0M151.5 170.5h0M277.5 171.5h0M223.5 165.5h0M175.5 166.5h0M72.5 167.5h0M64.5 152.5h0M218.5 170.5h0M53.5 156.5h0M205.5 157.5h0M68.5 163.5h0M154.5 172.5h0M280.5 173.5h0M111.5 161.5h0M254.5 169.5h0M204.5 152.5h0M158.5 173.5h0M249.5 153.5h0M194.5 172.5h0M98.5 168.5h0M235.5 157.5h0M164.5 159.5h0M262.5 168.5h0M201.5 169.5h0M197.5 163.5h0M244.5 151.5h0M66.5 160.5h0M140.5 185.5h0M268.5 136.5h0M243.5 165.5h0M180.5 174.5h0M248.5 154.5h0M193.5 166.5h0M86.5 149.5h0M259.5 157.5h0M168.5 156.5h0M238.5 165.5h0M216.5 151.5h0M101.5 162.5h0M65.5 160.5h0M273.5 138.5h0M53.5 192.5h0M70.5 161.5h0M166.5 164.5h0M150.5 158.5h0M165.5 175.5h0M107.5 167.5h0M211.5 167.5h0M88.5 148.5h0M112.5 165.5h0M39.5 171.5h0M111.5 160.5h0M84.5 158.5h0M181.5 163.5h0M67.5 155.5h0M143.5 169.5h0M260.5 151.5h0M163.5 168.5h0M92.5 150.5h0M247.5 152.5h0M226.5 175.5h0M181.5 174.5h0M202.5 142.5h0M251.5 171.5h0M222.5 152.5h0M223.5 158.5h0M258.5 173.5h0M142.5 174.5h0M42.5 154.5h0M64.5 166.5h0M131.5 142.5h0M226.5 152.5h0M250.5 170.5h0M234.5 162.5h0M99.5 163.5h0M33.5 178.5h0M242.5 148.5h0M63.5 162.5h0M74.5 154.5h0M147.5 167.5h0M33.5 158.5h0M237.5 159.5h0M129.5 155.5h0M95.5 153.5h0M163.5 159.5h0M73.5 168.5h0M60.5 160.5h0M267.5 140.5h0M119.5 159.5h0M173.5 158.5h0M248.5 162.5h0M70.5 164.5h0M61.5 165.5h0M127.5 152.5h0M220.5 164.5h0M166.5 159.5h0M130.5 162.5h0M93.5 161.5h0M196.5 158.5h0M105.5 161.5h0M270.5 170.5h0M186.5 154.5h0M228.5 165.5h0M224.5 161.5h0M267.5 155.5h0M59.5 144.5h0M133.5 155.5h0M121.5 151.5h0M233.5 170.5h0M268.5 158.5h0M226.5 155.5h0M181.5 161.5h0M225.5 167.5h0M79.5 161.5h0M108.5 160.5h0M52.5 172.5h0M265.5 166.5h0M34.5 172.5h0M41.5 172.5h0M259.5 164.5h0M137.5 167.5h0M240.5 153.5h0M276.5 163.5h0M171.5 173.5h0M99.5 148.5h0M37.5 152.5h0M121.5 170.5h0M199.5 152.5h0M181.5 192.5h0M70.5 149.5h0M229.5 162.5h0M259.5 171.5h0M41.5 163.5h0M233.5 162.5h0M221.5 143.5h0M276.5 159.5h0M253.5 141.5h0M238.5 159.5h0M261.5 163.5h0M237.5 154.5h0M108.5 154.5h0M180.5 165.5h0M155.5 164.5h0M39.5 167.5h0M225.5 157.5h0M133.5 164.5h0M122.5 169.5h0M213.5 184.5h0M168.5 189.5h0M103.5 164.5h0M182.5 168.5h0M108.5 168.5h0M261.5 160.5h0M279.5 163.5h0M150.5 178.5h0M190.5 163.5h0M130.5 163.5h0M65.5 145.5h0M201.5 147.5h0M274.5 162.5h0M103.5 173.5h0M123.5 166.5h0M187.5 157.5h0M213.5 165.5h0M62.5 151.5h0M240.5 154.5h0M182.5 134.5h0M279.5 153.5h0M142.5 173.5h0M279.5 159.5h0M88.5 171.5h0M147.5 156.5h0M203.5 161.5h0M94.5 165.5h0M251.5 161.5h0M205.5 157.5h0M38.5 166.5h0M146.5 174.5h0M195.5 170.5h0M152.5 167.5h0M142.5 172.5h0M185.5 158.5h0M121.5 164.5h0M235.5 152.5h0M169.5 174.5h0M59.5 138.5h0M126.5 159.5h0M67.5 147.5h0M163.5 162.5h0M106.5 146.5h0M127.5 157.5h0M71.5 166.5h0M191.5 147.5h0M152.5 158.5h0M89.5 175.5h0M246.5 155.5h0M60.5 161.5h0M113.5 156.5h0M275.5 153.5h0M229.5 161.5h0M200.5 157.5h0M52.5 165.5h0M274.5 159.5h0M33.5 163.5h0M107.5 153.5h0M59.5 166.5h0M246.5 160.5h0M48.5 156.5h0M187.5 164.5h0M262.5 160.5h0M187.5 146.5h0M192.5 153.5h0M99.5 164.5h0M216.5 156.5h0M188.5 152.5h0M229.5 171.5h0M46.5 149.5h0M104.5 161.5h0M272.5 161.5h0M209.5 159.5h0M69.5 161.5h0M108.5 153.5h0M268.5 160.5h0M275.5 162.5h0M94.5 175.5h0M56.5 153.5h0M203.5 159.5h0M137.5 160.5h0M46.5 171.5h0M133.5 165.5h0M153.5 167.5h0M151.5 165.5h0M174.5 168.5h0M163.5 166.5h0M111.5 172.5h0M109.5 153.5h0M192.5 154.5h0M55.5 160.5h0M118.5 131.5h0M48.5 162.5h0M196.5 146.5h0M164.5 172.5h0M273.5 164.5h0M139.5 169.5h0M207.5 172.5h0M182.5 151.5h0M196.5 172.5h0M37.5 153.5h0M138.5 171.5h0M205.5 151.5h0M267.5 179.5h0M208.5 163.5h0M130.5 162.5h0M90.5 154.5h0M202.5 167.5h0M216.5 157.5h0M53.5 156.5h0M82.5 159.5h0M250.5 168.5h0M244.5 157.5h0M78.5 171.5h0M274.5 159.5h0M141.5 164.5h0M195.5 159.5h0M75.5 159.5h0M105.5 159.5h0M61.5 155.5h0M36.5 163.5h0M183.5 170.5h0M146.5 168.5h0M104.5 150.5h0M108.5 163.5h0M229.5 171.5h0M127.5 170.5h0M180.5 165.5h0M239.5 139.5h0M93.5 172.5h0M258.5 158.5h0M276.5 162.5h0M181.5 163.5h0M257.5 150.5h0M98.5 154.5h0M137.5 165.5h0M78.5 149.5h0M74.5 156.5h0M271.5 157.5h0M222.5 145.5h0M69.5 162.5h0M163.5 183.5h0M163.5 143.5h0M269.5 147.5h0M84.5 163.5h0M171.5 165.5h0M46.5 147.5h0M241.5 140.5h0M88.5 149.5h0M239.5 167.5h0M48.5 167.5h0M239.5 164.5h0M63.5 159.5h0M241.5 168.5h0M242.5 167.5h0M223.5 175.5h0M140.5 161.5h0M204.5 176.5h0M193.5 166.5h0M265.5 156.5h0M188.5 161.5h0M237.5 151.5h0M171.5 166.5h0M176.5 168.5h0M41.5 151.5h0M47.5 155.5h0M214.5 174.5h0M103.5 151.5h0M152.5 172.5h0M121.5 165.5h0M174.5 181.5h0M75.5 165.5h0M113.5 161.5h0M222.5 152.5h0M217.5 160.5h0M50.5 164.5h0M69.5 169.5h0M280.5 167.5h0M126.5 157.5h0M274.5 160.5h0M44.5 153.5h0M77.5 163.5h0M196.5 156.5h0M211.5 165.5h0M73.5 158.5h0M220.5 147.5h0M115.5 184.5h0M33.5 170.5h0M171.5 166.5h0M37.5 151.5h0M51.5 167.5h0M234.5 167.5h0M261.5 172.5h0M122.5 152.5h0M250.5 151.5h0M63.5 148.5h0M58.5 164.5h0M133.5 170.5h0M50.5 181.5h0M51.5 149.5h0M164.5 173.5h0M122.5 158.5h0M181.5 167.5h0M226.5 162.5h0M147.5 164.5h0M93.5 171.5h0M209.5 168.5h0M200.5 172.5h0M148.5 165.5h0M179.5 164.5h0M89.5 180.5h0M160.5 164.5h0M183.5 170.5h0M125.5 171.5h0M135.5 165.5h0M38.5 183.5h0M93.5 186.5h0M197.5 166.5h0M99.5 161.5h0M126.5 154.5h0M95.5 158.5h0M100.5 155.5h0M41.5 167.5h0M164.5 170.5h0M89.5 170.5h0M278.5 157.5h0M77.5 169.5h0M252.5 164.5h0M59.5 168.5h0M119.5 144.5h0M34.5 156.5h0M85.5 152.5h0M180.5 164.5h0M270.5 165.5h0M174.5 179.5h0M246.5 161.5h0M160.5 175.5h0M258.5 167.5h0M104.5 158.5h0M123.5 154.5h0M266.5 159.5h0M104.5 136.5h0M42.5 125.5h0M63.5 166.5h0M113.5 135.5h0M188.5 160.5h0M244.5 164.5h0M174.5 189.5h0M68.5 167.5h0M37.5 130.5h0M280.5 153.5h0M166.5 160.5h0M183.5 165.5h0M228.5 159.5h0M135.5 143.5h0M206.5 155.5h0M184.5 161.5h0M145.5 154.5h0M134.5 162.5h0M161.5 158.5h0M66.5 171.5h0M242.5 170.5h0M63.5 163.5h0M71.5 145.5h0M171.5 180.5h0M113.5 178.5h0M175.5 170.5h0M192.5 158.5h0M262.5 158.5h0M224.5 151.5h0M89.5 172.5h0M70.5 154.5h0M64.5 162.5h0M178.5 164.5h0M197.5 165.5h0M137.5 166.5h0M69.5 168.5h0M271.5 162.5h0M212.5 150.5h0M94.5 173.5h0M132.5 167.5h0M148.5 175.5h0M175.5 180.5h0M204.5 156.5h0M172.5 174.5h0M145.5 158.5h0M121.5 160.5h0M190.5 160.5h0M251.5 160.5h0M264.5 161.5h0M194.5 166.5h0M122.5 157.5h0M111.5 131.5h0M168.5 158.5h0M274.5 152.5h0M263.5 194.5h0M63.5 160.5h0M114.5 163.5h0M169.5 165.5h0M216.5 168.5h0M250.5 155.5h0M201.5 155.5h0M210.5 167.5h0M176.5 166.5h0M210.5 162.5h0M136.5 181.5h0M58.5 169.5h0M247.5 166.5h0M186.5 154.5h0M248.5 168.5h0M121.5 162.5h0M150.5 185.5h0M169.5 172.5h0M231.5 169.5h0M211.5 170.5h0M38.5 168.5h0M232.5 154.5h0M92.5 163.5h0M120.5 160.5h0M60.5 166.5h0M266.5 183.5h0M135.5 183.5h0M66.5 190.5h0M236.5 157.5h0M92.5 150.5h0M146.5 162.5h0M161.5 165.5h0M181.5 172.5h0M211.5 156.5h0M213.5 169.5h0M177.5 167.5h0M225.5 162.5h0M100.5 153.5h0M56.5 159.5h0M272.5 170.5h0M197.5 155.5h0M239.5 170.5h0M72.5 166.5h0M229.5 164.5h0M222.5 161.5h0M42.5 166.5h0M102.5 171.5h0M259.5 168.5h0M273.5 167.5h0M76.5 145.5h0M112.5 156.5h0M155.5 155.5h0M265.5 163.5h0M153.5 169.5h0M108.5 157.5h0M181.5 195.5h0M270.5 162.5h0M33.5 168.5h0M275.5 154.5h0M183.5 170.5h0M180.5 140.5h0M262.5 147.5h0M47.5 166.5h0M122.5 155.5h0M70.5 169.5h0M126.5 169.5h0M225.5 150.5h0M200.5 167.5h0M245.5 164.5h0M165.5 154.5h0M233.5 149.5h0M37.5 139.5h0M133.5 154.5h0M229.5 152.5h0M51.5 167.5h0M177.5 152.5h0M208.5 171.5h0M59.5 153.5h0M249.5 147.5h0M157.5 170.5h0M240.5 165.5h0M146.5 163.5h0M67.5 152.5h0M243.5 166.5h0M157.5 162.5h0M151.5 167.5h0M174.5 159.5h0M123.5 174.5h0M92.5 151.5h0M83.5 154.5h0M146.5 168.5h0M87.5 159.5h0M259.5 149.5h0M91.5 150.5h0M142.5 152.5h0M120.5 154.5h0M84.5 148.5h0M121.5 145.5h0M166.5 162.5h0M95.5 165.5h0M88.5 153.5h0M102.5 156.5h0M80.5 156.5h0M273.5 165.5h0M240.5 144.5h0M79.5 157.5h0M178.5 158.5h0M105.5 160.5h0M93.5 157.5h0M67.5 129.5h0M187.5 162.5h0M100.5 170.5h0M147.5 171.5h0M78.5 159.5h0M223.5 159.5h0M103.5 149.5h0M45.5 142.5h0M45.5 165.5h0M157.5 170.5h0M223.5 157.5h0M85.5 158.5h0M226.5 166.5h0M203.5 158.5h0M60.5 160.5h0M117.5 163.5h0M43.5 136.5h0M244.5 163.5h0M49.5 158.5h0M261.5 155.5h0M43.5 161.5h0M97.5 174.5h0M260.5 165.5h0M205.5 161.5h0M197.5 156.5h0M122.5 175.5h0M194.5 165.5h0M149.5 173.5h0M180.5 152.5h0M63.5 162.5h0M171.5 168.5h0M59.5 162.5h0M132.5 164.5h0M45.5 166.5h0M95.5 168.5h0M207.5 161.5h0M235.5 161.5h0M64.5 147.5h0M41.5 165.5h0M33.5 159.5h0M39.5 171.5h0M219.5 178.5h0M64.5 171.5h0M122.5 135.5h0M240.5 158.5h0M247.5 148.5h0M186.5 161.5h0M183.5 154.5h0M120.5 161.5h0M249.5 142.5h0M269.5 147.5h0M220.5 148.5h0M250.5 157.5h0M67.5 166.5h0M232.5 168.5h0M41.5 152.5h0M201.5 162.5h0M70.5 163.5h0M176.5 164.5h0M93.5 158.5h0M113.5 153.5h0M216.5 163.5h0M189.5 163.5h0M126.5 157.5h0M244.5 154.5h0M275.5 142.5h0M174.5 167.5h0M154.5 164.5h0M135.5 163.5h0M254.5 167.5h0M216.5 161.5h0M240.5 169.5h0M124.5 168.5h0M221.5 166.5h0M97.5 162.5h0M108.5 143.5h0M78.5 158.5h0M142.5 171.5h0M66.5 149.5h0M164.5 166.5h0M187.5 178.5h0M224.5 166.5h0M98.5 185.5h0M162.5 161.5h0M95.5 170.5h0M260.5 169.5h0M207.5 159.5h0M43.5 158.5h0M152.5 147.5h0M227.5 169.5h0M77.5 146.5h0M269.5 158.5h0M272.5 158.5h0M144.5 153.5h0M196.5 160.5h0M268.5 163.5h0M190.5 142.5h0M258.5 161.5h0M191.5 163.5h0M210.5 173.5h0M223.5 150.5h0M217.5 170.5h0M216.5 165.5h0M240.5 165.5h0M84.5 161.5h0M175.5 188.5h0M81.5 162.5h0M227.5 154.5h0M119.5 160.5h0M55.5 163.5h0M124.5 143.5h0M154.5 177.5h0M223.5 163.5h0M64.5 169.5h0M132.5 163.5h0M190.5 158.5h0M266.5 156.5h0M273.5 174.5h0M140.5 170.5h0M229.5 158.5h0M261.5 154.5h0M32.5 182.5h0M221.5 149.5h0M139.5 166.5h0M208.5 179.5h0M162.5 164.5h0M147.5 175.5h0M116.5 158.5h0M65.5 186.5h0M197.5 154.5h0M69.5 159.5h0M250.5 152.5h0M146.5 156.5h0M150.5 156.5h0M65.5 173.5h0M209.5 156.5h0M145.5 172.5h0M168.5 163.5h0M274.5 159.5h0M268.5 178.5h0M128.5 165.5h0M208.5 145.5h0M149.5 149.5h0M230.5 150.5h0M250.5 154.5h0M112.5 147.5h0M189.5 146.5h0M140.5 167.5h0M268.5 192.5h0M88.5 149.5h0M249.5 161.5h0M224.5 129.5h0M91.5 152.5h0M45.5 164.5h0M73.5 160.5h0M132.5 158.5h0M121.5 164.5h0M187.5 174.5h0M40.5 164.5h0M277.5 153.5h0M201.5 164.5h0M51.5 168.5h0M174.5 186.5h0M82.5 195.5h0M197.5 158.5h0M37.5 166.5h0M90.5 168.5h0M260.5 171.5h0M116.5 150.5h0M92.5 151.5h0M182.5 165.5h0M172.5 178.5h0M120.5 153.5h0M222.5 158.5h0M272.5 156.5h0M56.5 167.5h0M225.5 167.5h0M273.5 163.5h0M52.5 166.5h0M168.5 178.5h0M33.5 197.5h0M139.5 167.5h0M101.5 155.5h0M268.5 161.5h0M250.5 164.5h0M199.5 159.5h0M68.5 158.5h0M63.5 162.5h0M216.5 157.5h0M33.5 175.5h0M216.5 153.5h0M43.5 137.5h0M201.5 159.5h0M129.5 155.5h0M170.5 167.5h0M179.5 168.5h0M271.5 167.5h0M41.5 172.5h0M39.5 165.5h0M98.5 159.5h0M55.5 164.5h0M165.5 163.5h0M66.5 171.5h0M74.5 165.5h0M202.5 151.5h0M172.5 167.5h0M108.5 160.5h0M194.5 154.5h0M36.5 179.5h0M273.5 165.5h0M107.5 154.5h0M230.5 144.5h0M154.5 181.5h0M254.5 154.5h0M280.5 165.5h0M149.5 169.5h0M278.5 161.5h0M65.5 172.5h0M280.5 142.5h0M54.5 155.5h0M43.5 163.5h0M148.5 174.5h0M88.5 158.5h0M258.5 161.5h0M57.5 155.5h0M126.5 175.5h0M181.5 169.5h0M72.5 175.5h0M54.5 155.5h0M82.5 164.5h0M106.5 160.5h0M178.5 175.5h0M218.5 157.5h0M174.5 170.5h0M183.5 162.5h0M244.5 175.5h0M119.5 164.5h0M69.5 163.5h0M100.5 166.5h0M109.5 181.5h0M179.5 168.5h0M63.5 148.5h0M150.5 182.5h0M116.5 153.5h0M263.5 158.5h0M113.5 152.5h0M98.5 164.5h0M122.5 162.5h0M226.5 154.5h0M72.5 169.5h0M50.5 163.5h0M89.5 166.5h0M44.5 158.5h0M143.5 168.5h0M147.5 157.5h0M222.5 158.5h0M224.5 172.5h0M101.5 155.5h0M175.5 166.5h0M196.5 155.5h0M242.5 171.5h0M154.5 174.5h0M257.5 156.5h0M123.5 141.5h0M177.5 176.5h0M54.5 161.5h0M226.5 178.5h0M136.5 175.5h0M277.5 173.5h0M128.5 162.5h0M257.5 157.5h0M76.5 160.5h0M125.5 154.5h0M62.5 144.5h0M242.5 140.5h0M189.5 163.5h0M277.5 153.5h0M218.5 169.5h0M81.5 164.5h0M205.5 152.5h0M40.5 171.5h0M244.5 156.5h0M207.5 174.5h0M42.5 164.5h0M150.5 179.5h0M174.5 155.5h0M137.5 166.5h0M47.5 173.5h0M247.5 166.5h0M102.5 163.5h0M209.5 161.5h0M90.5 173.5h0M272.5 158.5h0M81.5 168.5h0M62.5 157.5h0M87.5 167.5h0M36.5 166.5h0M227.5 150.5h0M216.5 145.5h0M45.5 152.5h0M264.5 156.5h0M122.5 170.5h0M67.5 162.5h0M202.5 152.5h0M153.5 171.5h0M146.5 160.5h0M226.5 161.5h0M235.5 157.5h0M229.5 167.5h0M74.5 162.5h0M178.5 183.5h0M84.5 153.5h0M147.5 175.5h0M222.5 159.5h0M198.5 166.5h0M115.5 168.5h0M273.5 163.5h0M105.5 154.5h0M160.5 171.5h0M176.5 171.5h0M277.5 152.5h0M74.5 166.5h0M175.5 152.5h0M87.5 147.5h0M277.5 153.5h0M103.5 158.5h0M54.5 147.5h0M273.5 163.5h0M151.5 163.5h0M90.5 160.5h0M122.5 170.5h0M103.5 149.5h0M52.5 157.5h0M67.5 156.5h0M202.5 164.5h0M91.5 164.5h0M160.5 174.5h0M105.5 163.5h0M105.5 154.5h0M241.5 169.5h0M274.5 161.5h0M212.5 162.5h0M121.5 180.5h0M181.5 161.5h0M270.5 161.5h0M190.5 168.5h0M113.5 150.5h0M44.5 167.5h0M110.5 164.5h0M42.5 177.5h0M243.5 164.5h0M184.5 161.5h0M144.5 167.5h0M225.5 158.5h0M99.5 156.5h0M67.5 150.5h0M242.5 164.5h0M110.5 169.5h0M159.5 167.5h0M243.5 162.5h0M249.5 159.5h0M143.5 178.5h0M169.5 162.5h0M101.5 152.5h0M167.5 157.5h0M166.5 179.5h0M240.5 169.5h0M172.5 166.5h0M76.5 167.5h0M183.5 174.5h0M262.5 160.5h0M258.5 174.5h0M32.5 159.5h0M198.5 152.5h0M139.5 156.5h0M225.5 165.5h0M221.5 163.5h0M270.5 172.5h0M91.5 175.5h0M248.5 172.5h0M93.5 149.5h0M230.5 140.5h0M57.5 158.5h0M47.5 168.5h0M189.5 165.5h0M100.5 163.5h0M33.5 160.5h0M112.5 151.5h0M251.5 173.5h0M167.5 167.5h0M102.5 153.5h0M45.5 149.5h0M94.5 164.5h0M46.5 149.5h0M90.5 153.5h0M121.5 187.5h0M255.5 167.5h0M122.5 138.5h0M251.5 164.5h0M156.5 168.5h0M54.5 162.5h0M259.5 166.5h0M262.5 153.5h0M39.5 168.5h0M185.5 176.5h0M215.5 169.5h0M194.5 166.5h0M124.5 164.5h0M92.5 157.5h0M136.5 184.5h0M254.5 175.5h0M82.5 157.5h0M87.5 162.5h0M139.5 161.5h0M88.5 182.5h0M277.5 157.5h0M45.5 172.5h0M142.5 162.5h0M132.5 180.5h0M189.5 163.5h0M148.5 149.5h0M58.5 181.5h0M160.5 168.5h0M274.5 148.5h0M146.5 185.5h0M181.5 156.5h0M116.5 163.5h0M215.5 166.5h0M85.5 175.5h0M260.5 159.5h0M79.5 167.5h0M133.5 154.5h0M58.5 148.5h0M80.5 159.5h0M49.5 165.5h0M247.5 154.5h0M207.5 170.5h0M167.5 177.5h0M126.5 160.5h0M162.5 165.5h0M56.5 159.5h0M185.5 149.5h0M103.5 157.5h0M154.5 171.5h0M59.5 158.5h0M133.5 168.5h0M229.5 162.5h0M223.5 149.5h0M197.5 161.5h0M116.5 136.5h0M241.5 142.5h0M134.5 164.5h0M120.5 154.5h0M271.5 164.5h0M151.5 165.5h0M76.5 156.5h0M104.5 151.5h0M196.5 160.5h0M156.5 169.5h0M193.5 143.5h0M269.5 169.5h0M178.5 168.5h0M39.5 143.5h0M265.5 162.5h0M239.5 160.5h0M132.5 176.5h0M254.5 163.5h0M50.5 165.5h0M239.5 160.5h0M178.5 168.5h0M173.5 169.5h0M241.5 155.5h0M161.5 164.5h0M181.5 153.5h0M213.5 165.5h0M172.5 170.5h0M85.5 157.5h0M75.5 166.5h0M58.5 161.5h0M155.5 172.5h0M36.5 165.5h0M224.5 148.5h0M61.5 151.5h0M205.5 166.5h0M179.5 165.5h0M40.5 162.5h0M159.5 179.5h0M50.5 166.5h0M276.5 160.5h0M156.5 162.5h0M271.5 187.5h0M55.5 159.5h0M87.5 167.5h0M70.5 157.5h0M56.5 165.5h0M243.5 154.5h0M66.5 161.5h0M184.5 158.5h0M103.5 156.5h0M158.5 172.5h0M145.5 158.5h0M224.5 168.5h0M47.5 153.5h0M240.5 174.5h0M94.5 166.5h0M104.5 151.5h0M125.5 156.5h0M41.5 159.5h0M41.5 156.5h0M90.5 167.5h0M44.5 170.5h0M68.5 154.5h0M133.5 159.5h0M124.5 160.5h0M32.5 163.5h0M202.5 161.5h0M191.5 151.5h0M117.5 154.5h0M273.5 157.5h0M52.5 159.5h0M187.5 157.5h0M204.5 157.5h0M269.5 145.5h0M108.5 152.5h0M131.5 165.5h0M144.5 173.5h0M139.5 169.5h0M167.5 155.5h0M216.5 156.5h0M32.5 152.5h0M156.5 169.5h0M200.5 168.5h0M141.5 169.5h0M186.5 157.5h0M249.5 155.5h0M149.5 163.5h0M192.5 157.5h0M177.5 167.5h0M115.5 165.5h0M254.5 164.5h0M187.5 152.5h0M82.5 165.5h0M54.5 180.5h0M222.5 168.5h0M49.5 147.5h0M250.5 170.5h0M87.5 160.5h0M175.5 176.5h0M273.5 158.5h0M97.5 157.5h0M201.5 140.5h0M234.5 143.5h0M177.5 164.5h0M256.5 158.5h0M87.5 154.5h0M188.5 175.5h0M177.5 166.5h0M64.5 154.5h0M65.5 165.5h0M89.5 163.5h0M251.5 168.5h0M196.5 188.5h0M169.5 153.5h0M271.5 156.5h0M208.5 158.5h0M251.5 155.5h0M272.5 158.5h0M232.5 155.5h0M35.5 148.5h0M268.5 148.5h0M242.5 149.5h0M66.5 155.5h0M186.5 173.5h0M126.5 161.5h0M141.5 171.5h0M106.5 163.5h0M109.5 160.5h0M74.5 156.5h0M79.5 145.5h0M105.5 159.5h0M243.5 170.5h0M274.5 166.5h0M175.5 181.5h0M70.5 145.5h0M138.5 173.5h0M82.5 164.5h0M246.5 165.5h0M105.5 172.5h0M56.5 162.5h0M128.5 180.5h0M56.5 171.5h0M245.5 143.5h0M254.5 173.5h0M244.5 157.5h0M149.5 158.5h0M222.5 164.5h0M63.5 157.5h0M134.5 159.5h0M252.5 160.5h0M218.5 162.5h0M137.5 181.5h0M47.5 165.5h0M35.5 154.5h0M85.5 153.5h0M140.5 167.5h0M33.5 171.5h0M144.5 165.5h0M222.5 156.5h0M84.5 157.5h0M159.5 165.5h0M50.5 160.5h0M250.5 136.5h0M178.5 169.5h0M167.5 179.5h0M54.5 162.5h0M147.5 168.5h0M151.5 163.5h0M189.5 155.5h0M110.5 154.5h0M278.5 162.5h0M135.5 154.5h0M79.5 167.5h0M203.5 170.5h0M182.5 166.5h0M99.5 159.5h0M218.5 134.5h0M129.5 167.5h0M246.5 143.5h0M126.5 141.5h0M222.5 152.5h0M143.5 170.5h0M70.5 153.5h0M124.5 153.5h0M169.5 163.5h0M42.5 163.5h0M94.5 160.5h0M212.5 168.5h0M76.5 144.5h0M124.5 167.5h0M201.5 160.5h0M106.5 167.5h0M192.5 160.5h0M187.5 165.5h0M74.5 146.5h0M73.5 167.5h0M195.5 157.5h0M219.5 160.5h0M119.5 159.5h0M199.5 147.5h0M128.5 165.5h0M253.5 158.5h0M164.5 173.5h0M234.5 156.5h0M178.5 162.5h0M256.5 150.5h0M204.5 170.5h0M34.5 180.5h0M239.5 149.5h0M244.5 160.5h0M261.5 162.5h0M81.5 161.5h0M43.5 160.5h0M39.5 174.5h0M127.5 152.5h0M155.5 185.5h0M260.5 154.5h0M173.5 162.5h0M249.5 162.5h0M176.5 162.5h0M56.5 166.5h0M201.5 163.5h0M211.5 165.5h0M113.5 163.5h0M91.5 160.5h0M89.5 153.5h0M252.5 153.5h0M178.5 165.5h0M245.5 149.5h0M39.5 161.5h0M128.5 146.5h0M210.5 158.5h0M223.5 152.5h0M177.5 174.5h0M140.5 168.5h0M93.5 169.5h0M78.5 147.5h0M181.5 164.5h0M257.5 157.5h0M200.5 160.5h0M274.5 155.5h0M80.5 171.5h0M53.5 164.5h0M46.5 155.5h0M79.5 166.5h0M68.5 163.5h0M192.5 167.5h0M73.5 161.5h0M169.5 176.5h0M251.5 159.5h0M35.5 176.5h0M38.5 175.5h0M220.5 154.5h0M83.5 155.5h0M41.5 159.5h0M85.5 166.5h0M234.5 160.5h0M86.5 156.5h0M82.5 150.5h0M105.5 189.5h0M213.5 174.5h0M41.5 145.5h0M58.5 170.5h0M78.5 163.5h0M166.5 171.5h0M117.5 151.5h0M72.5 163.5h0M110.5 172.5h0M143.5 168.5h0M236.5 164.5h0M65.5 169.5h0M150.5 168.5h0M129.5 167.5h0M246.5 167.5h0M154.5 179.5h0M98.5 165.5h0M55.5 169.5h0M40.5 156.5h0M111.5 166.5h0M214.5 159.5h0M169.5 171.5h0M192.5 161.5h0M193.5 159.5h0M127.5 168.5h0M39.5 169.5h0M172.5 163.5h0M177.5 174.5h0M164.5 158.5h0M244.5 147.5h0M147.5 159.5h0M263.5 139.5h0M212.5 161.5h0M252.5 157.5h0M171.5 164.5h0M86.5 160.5h0M215.5 155.5h0M51.5 165.5h0M203.5 160.5h0M212.5 153.5h0M86.5 166.5h0M95.5 169.5h0M248.5 161.5h0M200.5 186.5h0M203.5 155.5h0M107.5 164.5h0M217.5 138.5h0M223.5 158.5h0M256.5 170.5h0M244.5 148.5h0M195.5 153.5h0M172.5 162.5h0M223.5 168.5h0M279.5 165.5h0M182.5 160.5h0M128.5 156.5h0M137.5 165.5h0M37.5 154.5h0M64.5 160.5h0M212.5 162.5h0M87.5 156.5h0M141.5 150.5h0M41.5 175.5h0M266.5 151.5h0M101.5 131.5h0M44.5 163.5h0M174.5 165.5h0M100.5 163.5h0M259.5 177.5h0M69.5 152.5h0M174.5 172.5h0M116.5 157.5h0M245.5 173.5h0M222.5 167.5h0M161.5 163.5h0M81.5 158.5h0M174.5 146.5h0M167.5 167.5h0M35.5 164.5h0M256.5 173.5h0M225.5 159.5h0M229.5 150.5h0M84.5 161.5h0M227.5 164.5h0M168.5 150.5h0M54.5 164.5h0M176.5 168.5h0M180.5 171.5h0M239.5 140.5h0M143.5 159.5h0M114.5 157.5h0M174.5 165.5h0M42.5 176.5h0M193.5 161.5h0M171.5 161.5h0M69.5 162.5h0M141.5 165.5h0M157.5 171.5h0M32.5 168.5h0M271.5 159.5h0M68.5 157.5h0M271.5 169.5h0M270.5 164.5h0M88.5 167.5h0M75.5 153.5h0M45.5 162.5h0M40.5 160.5h0M181.5 179.5h0M170.5 195.5h0M236.5 165.5h0M249.5 160.5h0M116.5 159.5h0M230.5 167.5h0M129.5 147.5h0M36.5 146.5h0M117.5 160.5h0M197.5 139.5h0M217.5 134.5h0M140.5 171.5h0M231.5 161.5h0M262.5 161.5h0M113.5 165.5h0M209.5 166.5h0M107.5 174.5h0M129.5 160.5h0M66.5 174.5h0M146.5 176.5h0M84.5 161.5h0M267.5 166.5h0M110.5 158.5h0M219.5 165.5h0M207.5 153.5h0M32.5 159.5h0M244.5 160.5h0M118.5 171.5h0M211.5 145.5h0M42.5 166.5h0M175.5 167.5h0M258.5 152.5h0M227.5 147.5h0M224.5 162.5h0M254.5 164.5h0M207.5 157.5h0M237.5 168.5h0M257.5 169.5h0M64.5 168.5h0M217.5 159.5h0M262.5 156.5h0M74.5 148.5h0M155.5 183.5h0M79.5 160.5h0M207.5 174.5h0M172.5 191.5h0M227.5 183.5h0M129.5 163.5h0M199.5 154.5h0M123.5 167.5h0M151.5 175.5h0M157.5 165.5h0M63.5 158.5h0M274.5 153.5h0M268.5 158.5h0M262.5 139.5h0M119.5 162.5h0M122.5 159.5h0M194.5 164.5h0M122.5 156.5h0M94.5 169.5h0M204.5 156.5h0M157.5 164.5h0M142.5 167.5h0M123.5 172.5h0M129.5 146.5h0M171.5 160.5h0M105.5 157.5h0M251.5 142.5h0M49.5 160.5h0M266.5 157.5h0M68.5 171.5h0M50.5 165.5h0M177.5 172.5h0M239.5 144.5h0M126.5 123.5h0M261.5 156.5h0M188.5 164.5h0M175.5 171.5h0M112.5 167.5h0M161.5 160.5h0M191.5 151.5h0M253.5 164.5h0M270.5 170.5h0M112.5 162.5h0M50.5 169.5h0M167.5 186.5h0M269.5 157.5h0M138.5 168.5h0M192.5 161.5h0M167.5 158.5h0M179.5 168.5h0M179.5 151.5h0M232.5 144.5h0M258.5 166.5h0M170.5 170.5h0M32.5 146.5h0M162.5 177.5h0M227.5 164.5h0M106.5 163.5h0M195.5 145.5h0M107.5 164.5h0M208.5 170.5h0M252.5 166.5h0M256.5 165.5h0M186.5 163.5h0M67.5 175.5h0M181.5 166.5h0M118.5 151.5h0M254.5 161.5h0M267.5 157.5h0M228.5 165.5h0M235.5 165.5h0M218.5 166.5h0M221.5 177.5h0M197.5 159.5h0M53.5 166.5h0M221.5 158.5h0M274.5 164.5h0M69.5 152.5h0M99.5 161.5h0M251.5 160.5h0M42.5 167.5h0M68.5 154.5h0M242.5 158.5h0M176.5 155.5h0M196.5 154.5h0M229.5 145.5h0M145.5 189.5h0M156.5 163.5h0M67.5 162.5h0M228.5 167.5h0M92.5 169.5h0M186.5 153.5h0M106.5 158.5h0M214.5 154.5h0M96.5 156.5h0M162.5 156.5h0M93.5 162.5h0M211.5 158.5h0M199.5 162.5h0M112.5 165.5h0M195.5 174.5h0M169.5 174.5h0M210.5 155.5h0M179.5 153.5h0M185.5 163.5h0M38.5 153.5h0M228.5 158.5h0M233.5 162.5h0M235.5 167.5h0M273.5 151.5h0M220.5 162.5h0M37.5 159.5h0M170.5 183.5h0M183.5 168.5h0M195.5 155.5h0M280.5 156.5h0M69.5 162.5h0M225.5 172.5h0M277.5 155.5h0M278.5 155.5h0M180.5 150.5h0M71.5 168.5h0M238.5 169.5h0M131.5 155.5h0M185.5 159.5h0M175.5 161.5h0M99.5 151.5h0M125.5 145.5h0M187.5 149.5h0M154.5 168.5h0M93.5 161.5h0M129.5 159.5h0M240.5 170.5h0M138.5 174.5h0M34.5 151.5h0M230.5 164.5h0M32.5 165.5h0M42.5 167.5h0M184.5 164.5h0M89.5 162.5h0M266.5 161.5h0M50.5 154.5h0M74.5 158.5h0M114.5 157.5h0M33.5 173.5h0M187.5 167.5h0M259.5 161.5h0M194.5 159.5h0M149.5 170.5h0M57.5 171.5h0M251.5 159.5h0M43.5 160.5h0M87.5 158.5h0M174.5 185.5h0M210.5 169.5h0M147.5 193.5h0M136.5 165.5h0M219.5 138.5h0M226.5 158.5h0M63.5 169.5h0M156.5 169.5h0M65.5 166.5h0M173.5 171.5h0M233.5 155.5h0M230.5 161.5h0M55.5 168.5h0M175.5 162.5h0M204.5 158.5h0M84.5 151.5h0M270.5 139.5h0M41.5 167.5h0M175.5 165.5h0M87.5 161.5h0M64.5 171.5h0M74.5 152.5h0M226.5 148.5h0M53.5 151.5h0M140.5 162.5h0M171.5 157.5h0M154.5 163.5h0M170.5 166.5h0M108.5 161.5h0M102.5 187.5h0M129.5 144.5h0M56.5 156.5h0M154.5 194.5h0M209.5 146.5h0M188.5 153.5h0M247.5 161.5h0M135.5 182.5h0M133.5 168.5h0M121.5 154.5h0M270.5 167.5h0M109.5 163.5h0M249.5 163.5h0M70.5 162.5h0M162.5 163.5h0M67.5 157.5h0M79.5 162.5h0M194.5 158.5h0M229.5 159.5h0M200.5 171.5h0M116.5 152.5h0M259.5 173.5h0M150.5 172.5h0M111.5 152.5h0M194.5 157.5h0M232.5 144.5h0M181.5 148.5h0M110.5 162.5h0M220.5 167.5h0M100.5 150.5h0M125.5 167.5h0M147.5 169.5h0M42.5 160.5h0M91.5 154.5h0M89.5 161.5h0M57.5 150.5h0M168.5 164.5h0M50.5 178.5h0M139.5 162.5h0M71.5 157.5h0M110.5 153.5h0M144.5 149.5h0M253.5 154.5h0M112.5 161.5h0M250.5 152.5h0M137.5 157.5h0M141.5 162.5h0M130.5 159.5h0M147.5 177.5h0M151.5 158.5h0M99.5 159.5h0M35.5 154.5h0M81.5 142.5h0M189.5 161.5h0M89.5 154.5h0M83.5 159.5h0M122.5 148.5h0M109.5 148.5h0M133.5 160.5h0M204.5 156.5h0M83.5 150.5h0M170.5 164.5h0M249.5 148.5h0M225.5 156.5h0M132.5 162.5h0M208.5 156.5h0M127.5 146.5h0M269.5 159.5h0M85.5 161.5h0M243.5 159.5h0M121.5 161.5h0M32.5 173.5h0M50.5 162.5h0M277.5 156.5h0M210.5 157.5h0M63.5 168.5h0M146.5 169.5h0M35.5 164.5h0M63.5 159.5h0M136.5 166.5h0M221.5 169.5h0M91.5 164.5h0M185.5 155.5h0M123.5 161.5h0M278.5 159.5h0M217.5 147.5h0M216.5 159.5h0M196.5 158.5h0M259.5 165.5h0M236.5 163.5h0M219.5 150.5h0M245.5 166.5h0M210.5 151.5h0M165.5 162.5h0M235.5 160.5h0M190.5 154.5h0M250.5 158.5h0M107.5 162.5h0M113.5 156.5h0M50.5 162.5h0M247.5 163.5h0M149.5 170.5h0M213.5 172.5h0M87.5 160.5h0M222.5 157.5h0M76.5 147.5h0M203.5 167.5h0M89.5 155.5h0M267.5 163.5h0M111.5 167.5h0M199.5 163.5h0M164.5 173.5h0M248.5 168.5h0M255.5 156.5h0M225.5 180.5h0M47.5 157.5h0M86.5 160.5h0M213.5 157.5h0M257.5 141.5h0M172.5 165.5h0M116.5 154.5h0M116.5 163.5h0M267.5 172.5h0M92.5 156.5h0M207.5 162.5h0M196.5 183.5h0M157.5 188.5h0M56.5 152.5h0M280.5 133.5h0M135.5 170.5h0M186.5 175.5h0M99.5 150.5h0M190.5 151.5h0M204.5 158.5h0M175.5 169.5h0M229.5 179.5h0M244.5 166.5h0M182.5 160.5h0M124.5 163.5h0M174.5 135.5h0M73.5 149.5h0M225.5 161.5h0M158.5 169.5h0M251.5 151.5h0M54.5 177.5h0M53.5 164.5h0M277.5 159.5h0M255.5 151.5h0M167.5 175.5h0M42.5 152.5h0M94.5 167.5h0M140.5 174.5h0M120.5 185.5h0M134.5 165.5h0M59.5 149.5h0M277.5 189.5h0M93.5 171.5h0M90.5 162.5h0M237.5 162.5h0M207.5 151.5h0M202.5 157.5h0M177.5 162.5h0M78.5 157.5h0M50.5 152.5h0M84.5 165.5h0M217.5 152.5h0M107.5 163.5h0M44.5 164.5h0M276.5 163.5h0M185.5 157.5h0M110.5 151.5h0M150.5 176.5h0M187.5 149.5h0M243.5 148.5h0M271.5 157.5h0M119.5 168.5h0M253.5 192.5h0M278.5 169.5h0M202.5 161.5h0M131.5 169.5h0M33.5 161.5h0M235.5 172.5h0M145.5 161.5h0M167.5 165.5h0M120.5 170.5h0M197.5 147.5h0M49.5 161.5h0M223.5 171.5h0M111.5 175.5h0M137.5 172.5h0M80.5 161.5h0M174.5 160.5h0M187.5 182.5h0M121.5 154.5h0M176.5 160.5h0M269.5 152.5h0M189.5 158.5h0M186.5 157.5h0M151.5 167.5h0M118.5 146.5h0M196.5 135.5h0M247.5 159.5h0M134.5 164.5h0M143.5 178.5h0M111.5 167.5h0M201.5 152.5h0M56.5 169.5h0M270.5 149.5h0M58.5 169.5h0M266.5 165.5h0M208.5 157.5h0M205.5 154.5h0M75.5 172.5h0M241.5 164.5h0M268.5 158.5h0M167.5 171.5h0M97.5 132.5h0M133.5 164.5h0M58.5 196.5h0M132.5 167.5h0M117.5 168.5h0M170.5 161.5h0M158.5 175.5h0M278.5 157.5h0M34.5 144.5h0M56.5 159.5h0M85.5 156.5h0M145.5 171.5h0M55.5 161.5h0M256.5 155.5h0M165.5 170.5h0M227.5 165.5h0M206.5 138.5h0M196.5 177.5h0M267.5 154.5h0M50.5 164.5h0M36.5 165.5h0M109.5 160.5h0M34.5 172.5h0M156.5 160.5h0M87.5 186.5h0M151.5 165.5h0M115.5 162.5h0M35.5 170.5h0M243.5 174.5h0M242.5 161.5h0M82.5 159.5h0M158.5 166.5h0M154.5 170.5h0M124.5 167.5h0M95.5 154.5h0M112.5 176.5h0M129.5 155.5h0M119.5 133.5h0M246.5 157.5h0M159.5 176.5h0M252.5 155.5h0M35.5 161.5h0M127.5 158.5h0M74.5 167.5h0M84.5 161.5h0M142.5 182.5h0M253.5 161.5h0M40.5 182.5h0M81.5 177.5h0M263.5 162.5h0M233.5 169.5h0M93.5 150.5h0M71.5 149.5h0M39.5 152.5h0M74.5 166.5h0M263.5 167.5h0M184.5 161.5h0M117.5 162.5h0M158.5 156.5h0M80.5 165.5h0M146.5 164.5h0M246.5 157.5h0M182.5 177.5h0M132.5 156.5h0M212.5 172.5h0M104.5 154.5h0M114.5 162.5h0M229.5 156.5h0M128.5 150.5h0M133.5 168.5h0M114.5 162.5h0M200.5 165.5h0M53.5 159.5h0M242.5 160.5h0M39.5 186.5h0M158.5 171.5h0M169.5 164.5h0M250.5 185.5h0M77.5 157.5h0M137.5 166.5h0M253.5 157.5h0M143.5 175.5h0M101.5 155.5h0M100.5 163.5h0M151.5 156.5h0M150.5 171.5h0M166.5 166.5h0M72.5 157.5h0M123.5 163.5h0M96.5 167.5h0M166.5 172.5h0M119.5 144.5h0M167.5 163.5h0M83.5 163.5h0M172.5 165.5h0M238.5 146.5h0M62.5 166.5h0M34.5 152.5h0M132.5 154.5h0M272.5 171.5h0M83.5 163.5h0M57.5 175.5h0M160.5 166.5h0M259.5 157.5h0M220.5 158.5h0M217.5 176.5h0M271.5 156.5h0M74.5 160.5h0M268.5 159.5h0M238.5 153.5h0M175.5 154.5h0M39.5 180.5h0M151.5 162.5h0M64.5 142.5h0M192.5 152.5h0M254.5 161.5h0M52.5 148.5h0M181.5 182.5h0M83.5 154.5h0M133.5 163.5h0M131.5 168.5h0M56.5 154.5h0M188.5 167.5h0M263.5 152.5h0M130.5 144.5h0M250.5 160.5h0M89.5 150.5h0M82.5 159.5h0M84.5 158.5h0M88.5 155.5h0M193.5 158.5h0M94.5 160.5h0M90.5 184.5h0M151.5 162.5h0M149.5 172.5h0M117.5 166.5h0M187.5 166.5h0M133.5 144.5h0M213.5 153.5h0M272.5 156.5h0M60.5 163.5h0M207.5 146.5h0M116.5 166.5h0M247.5 140.5h0M143.5 168.5h0M53.5 169.5h0M131.5 180.5h0M96.5 161.5h0M189.5 160.5h0M36.5 159.5h0M238.5 154.5h0M95.5 175.5h0M115.5 179.5h0M280.5 158.5h0M106.5 167.5h0M215.5 167.5h0M97.5 158.5h0M90.5 157.5h0M39.5 147.5h0M190.5 157.5h0M224.5 136.5h0M102.5 165.5h0M272.5 157.5h0M62.5 165.5h0M122.5 142.5h0M116.5 171.5h0M69.5 152.5h0M33.5 172.5h0M192.5 154.5h0M154.5 183.5h0M115.5 165.5h0M161.5 165.5h0M236.5 156.5h0M121.5 154.5h0M223.5 146.5h0M65.5 169.5h0M63.5 154.5h0M32.5 167.5h0M62.5 162.5h0M45.5 168.5h0M130.5 168.5h0M156.5 164.5h0M193.5 170.5h0M236.5 166.5h0M85.5 174.5h0M155.5 192.5h0M275.5 143.5h0M134.5 160.5h0M211.5 149.5h0M226.5 150.5h0M140.5 177.5h0M105.5 161.5h0M40.5 145.5h0M265.5 159.5h0M129.5 167.5h0M215.5 162.5h0M138.5 164.5h0M136.5 160.5h0M45.5 152.5h0M114.5 159.5h0M83.5 149.5h0M190.5 148.5h0M274.5 158.5h0M190.5 131.5h0M42.5 155.5h0M132.5 163.5h0M48.5 165.5h0M263.5 155.5h0M165.5 164.5h0M198.5 162.5h0M172.5 167.5h0M229.5 163.5h0M167.5 175.5h0M46.5 160.5h0M271.5 154.5h0M159.5 168.5h0M74.5 172.5h0M163.5 172.5h0M75.5 162.5h0M138.5 156.5h0M205.5 131.5h0M78.5 170.5h0M153.5 166.5h0M264.5 162.5h0M172.5 168.5h0M131.5 155.5h0M172.5 176.5h0M262.5 171.5h0M149.5 171.5h0M107.5 149.5h0M105.5 160.5h0M229.5 160.5h0M168.5 171.5h0M159.5 172.5h0M54.5 163.5h0M72.5 143.5h0M113.5 165.5h0M35.5 168.5h0M230.5 157.5h0M108.5 150.5h0M89.5 164.5h0M58.5 140.5h0M264.5 156.5h0M182.5 161.5h0M117.5 171.5h0M110.5 157.5h0M94.5 161.5h0M146.5 165.5h0M111.5 156.5h0M231.5 182.5h0M214.5 163.5h0M175.5 166.5h0M208.5 146.5h0M71.5 164.5h0M49.5 131.5h0M72.5 157.5h0M56.5 155.5h0M70.5 164.5h0M158.5 164.5h0M172.5 174.5h0M239.5 166.5h0M186.5 161.5h0M195.5 171.5h0M184.5 171.5h0M118.5 155.5h0M110.5 162.5h0M57.5 149.5h0M108.5 155.5h0M100.5 163.5h0M105.5 153.5h0M246.5 168.5h0M79.5 146.5h0M120.5 143.5h0M219.5 152.5h0M263.5 157.5h0M67.5 168.5h0M60.5 163.5h0M174.5 171.5h0M197.5 166.5h0M72.5 158.5h0M85.5 152.5h0M224.5 160.5h0M199.5 164.5h0M243.5 169.5h0M119.5 167.5h0M181.5 155.5h0M278.5 165.5h0M268.5 171.5h0M167.5 173.5h0M102.5 165.5h0M90.5 160.5h0M142.5 181.5h0M205.5 148.5h0M278.5 142.5h0M132.5 178.5h0M203.5 154.5h0M56.5 171.5h0M163.5 160.5h0M147.5 164.5h0M221.5 172.5h0M189.5 166.5h0M150.5 186.5h0M196.5 152.5h0M86.5 166.5h0M73.5 179.5h0M58.5 160.5h0M153.5 182.5h0M141.5 164.5h0M143.5 170.5h0M224.5 176.5h0M136.5 150.5h0M124.5 151.5h0M85.5 147.5h0M163.5 168.5h0M92.5 166.5h0M182.5 153.5h0M247.5 161.5h0M253.5 192.5h0M167.5 146.5h0M102.5 153.5h0M235.5 162.5h0M229.5 147.5h0M276.5 196.5h0M98.5 158.5h0M48.5 156.5h0M87.5 193.5h0M125.5 160.5h0M173.5 177.5h0M136.5 174.5h0M103.5 161.5h0M201.5 146.5h0M64.5 165.5h0M240.5 142.5h0M90.5 155.5h0M269.5 170.5h0M150.5 151.5h0M40.5 160.5h0M193.5 156.5h0M73.5 167.5h0M96.5 173.5h0M159.5 167.5h0M183.5 163.5h0M118.5 156.5h0M224.5 159.5h0M136.5 188.5h0M249.5 165.5h0M274.5 167.5h0M258.5 166.5h0M277.5 167.5h0M222.5 167.5h0M37.5 157.5h0M214.5 176.5h0M247.5 162.5h0M214.5 163.5h0M269.5 161.5h0M186.5 160.5h0M267.5 145.5h0M180.5 154.5h0M217.5 158.5h0M137.5 172.5h0M107.5 159.5h0M118.5 166.5h0M230.5 158.5h0M219.5 160.5h0M200.5 164.5h0M57.5 160.5h0M160.5 163.5h0M55.5 163.5h0M130.5 143.5h0M85.5 164.5h0M60.5 155.5h0M235.5 149.5h0M86.5 164.5h0M88.5 165.5h0M276.5 153.5h0M151.5 162.5h0M91.5 173.5h0M118.5 173.5h0M236.5 160.5h0M134.5 158.5h0M147.5 170.5h0M86.5 147.5h0M181.5 169.5h0M70.5 168.5h0M143.5 179.5h0M164.5 194.5h0M239.5 163.5h0M190.5 155.5h0M180.5 166.5h0M66.5 154.5h0M216.5 159.5h0M96.5 162.5h0M194.5 150.5h0M162.5 167.5h0M205.5 155.5h0M223.5 163.5h0M271.5 155.5h0M61.5 137.5h0M223.5 163.5h0M229.5 162.5h0M242.5 160.5h0M125.5 166.5h0M204.5 153.5h0M243.5 166.5h0M168.5 179.5h0M147.5 172.5h0M67.5 177.5h0M213.5 175.5h0M92.5 158.5h0M202.5 151.5h0M192.5 151.5h0M137.5 131.5h0M271.5 159.5h0M131.5 153.5h0M61.5 154.5h0M249.5 157.5h0M252.5 169.5h0M236.5 170.5h0M125.5 155.5h0M109.5 161.5h0M77.5 146.5h0M270.5 157.5h0M136.5 177.5h0M105.5 165.5h0M106.5 150.5h0M231.5 164.5h0M198.5 161.5h0M264.5 155.5h0M272.5 167.5h0M243.5 160.5h0M125.5 161.5h0M205.5 148.5h0M199.5 138.5h0M129.5 153.5h0M268.5 146.5h0M46.5 163.5h0M178.5 163.5h0M257.5 175.5h0M107.5 162.5h0M76.5 159.5h0M36.5 165.5h0M135.5 163.5h0M33.5 155.5h0M207.5 160.5h0M225.5 152.5h0M121.5 158.5h0M128.5 153.5h0M100.5 148.5h0M122.5 167.5h0M50.5 159.5h0M268.5 150.5h0M142.5 173.5h0M275.5 155.5h0M126.5 168.5h0M129.5 150.5h0M199.5 166.5h0M95.5 186.5h0M97.5 174.5h0M69.5 164.5h0M109.5 147.5h0M54.5 154.5h0M194.5 197.5h0M200.5 169.5h0M206.5 163.5h0M163.5 164.5h0M113.5 163.5h0M222.5 131.5h0M78.5 160.5h0M59.5 149.5h0M261.5 161.5h0M209.5 154.5h0M242.5 156.5h0M188.5 162.5h0M227.5 163.5h0M174.5 165.5h0M93.5 161.5h0M79.5 161.5h0M127.5 164.5h0M51.5 168.5h0M36.5 166.5h0M107.5 156.5h0M164.5 164.5h0M276.5 164.5h0M84.5 145.5h0M199.5 158.5h0M60.5 155.5h0M241.5 150.5h0M69.5 158.5h0M249.5 159.5h0M81.5 167.5h0M185.5 153.5h0M93.5 171.5h0M93.5 160.5h0M229.5 158.5h0M196.5 155.5h0M203.5 179.5h0M262.5 159.5h0M249.5 182.5h0M95.5 177.5h0M236.5 160.5h0M206.5 193.5h0M54.5 167.5h0M244.5 150.5h0M186.5 149.5h0M278.5 148.5h0M44.5 157.5h0M182.5 162.5h0M85.5 175.5h0M186.5 169.5h0M239.5 157.5h0M134.5 152.5h0M131.5 163.5h0M279.5 160.5h0M128.5 156.5h0M267.5 165.5h0M189.5 145.5h0M127.5 168.5h0M190.5 177.5h0M163.5 176.5h0M230.5 147.5h0M266.5 140.5h0M69.5 160.5h0M140.5 182.5h0M198.5 149.5h0M49.5 162.5h0M162.5 172.5h0M273.5 160.5h0M72.5 167.5h0M145.5 166.5h0M68.5 174.5h0M57.5 159.5h0M181.5 160.5h0M116.5 160.5h0M210.5 156.5h0M195.5 168.5h0M252.5 129.5h0M156.5 161.5h0M97.5 163.5h0M281.5 182.5h0M263.5 165.5h0M63.5 157.5h0M99.5 169.5h0M177.5 168.5h0M263.5 142.5h0M197.5 167.5h0M215.5 155.5h0M246.5 166.5h0M107.5 157.5h0M220.5 165.5h0M136.5 172.5h0M267.5 167.5h0M233.5 153.5h0M157.5 175.5h0M53.5 155.5h0M81.5 152.5h0M239.5 162.5h0M137.5 165.5h0M228.5 149.5h0M230.5 160.5h0M42.5 169.5h0M42.5 185.5h0M131.5 150.5h0M157.5 166.5h0M71.5 159.5h0M213.5 160.5h0M96.5 170.5h0M269.5 134.5h0M38.5 165.5h0M143.5 169.5h0M95.5 154.5h0M223.5 151.5h0M121.5 135.5h0M199.5 156.5h0M91.5 173.5h0M158.5 162.5h0M66.5 169.5h0M206.5 157.5h0M98.5 167.5h0M142.5 173.5h0M78.5 157.5h0M160.5 170.5h0M212.5 152.5h0M153.5 179.5h0M95.5 166.5h0M83.5 162.5h0M170.5 163.5h0M178.5 160.5h0M87.5 158.5h0M123.5 147.5h0M175.5 171.5h0M54.5 168.5h0M57.5 154.5h0M224.5 148.5h0M280.5 158.5h0M87.5 167.5h0M255.5 166.5h0M157.5 161.5h0M233.5 170.5h0M129.5 169.5h0M120.5 163.5h0M249.5 170.5h0M258.5 142.5h0M183.5 163.5h0M73.5 154.5h0M256.5 165.5h0M211.5 161.5h0M279.5 140.5h0M253.5 166.5h0M223.5 168.5h0M82.5 172.5h0M69.5 157.5h0M191.5 163.5h0M87.5 139.5h0M213.5 147.5h0M190.5 165.5h0M112.5 162.5h0M174.5 176.5h0M192.5 157.5h0M64.5 137.5h0M134.5 155.5h0M220.5 172.5h0M144.5 160.5h0M188.5 156.5h0M47.5 162.5h0M169.5 168.5h0M144.5 174.5h0M199.5 158.5h0M119.5 162.5h0M84.5 168.5h0M227.5 184.5h0M74.5 146.5h0M212.5 170.5h0M198.5 182.5h0M217.5 151.5h0M208.5 169.5h0M57.5 161.5h0M134.5 167.5h0M39.5 165.5h0M96.5 164.5h0M81.5 158.5h0M268.5 153.5h0M131.5 151.5h0M148.5 176.5h0M269.5 159.5h0M258.5 158.5h0M234.5 152.5h0M168.5 170.5h0M72.5 156.5h0M217.5 167.5h0M260.5 169.5h0M75.5 161.5h0M228.5 168.5h0M59.5 161.5h0M66.5 149.5h0M127.5 165.5h0M164.5 168.5h0M106.5 164.5h0M147.5 156.5h0M106.5 156.5h0M253.5 156.5h0M109.5 165.5h0M129.5 163.5h0M219.5 165.5h0M103.5 164.5h0M93.5 157.5h0M110.5 160.5h0M240.5 158.5h0M130.5 153.5h0M85.5 160.5h0M90.5 143.5h0M52.5 164.5h0M113.5 159.5h0M49.5 154.5h0M62.5 158.5h0M132.5 157.5h0M148.5 153.5h0M246.5 175.5h0M162.5 165.5h0M167.5 173.5h0M257.5 166.5h0M149.5 153.5h0M109.5 158.5h0M47.5 158.5h0M212.5 172.5h0M92.5 156.5h0M110.5 170.5h0M91.5 156.5h0M279.5 173.5h0M110.5 158.5h0M252.5 131.5h0M60.5 150.5h0M144.5 165.5h0M158.5 171.5h0M98.5 151.5h0M214.5 161.5h0M169.5 160.5h0M170.5 164.5h0M133.5 168.5h0M256.5 157.5h0M73.5 160.5h0M160.5 169.5h0M116.5 166.5h0M70.5 176.5h0M182.5 171.5h0M261.5 162.5h0M155.5 172.5h0M89.5 157.5h0M105.5 164.5h0M145.5 152.5h0M184.5 159.5h0M249.5 161.5h0M260.5 163.5h0M244.5 148.5h0M252.5 158.5h0M104.5 167.5h0M100.5 160.5h0M276.5 163.5h0M171.5 163.5h0M256.5 152.5h0M219.5 160.5h0M57.5 166.5h0M220.5 150.5h0M116.5 153.5h0M111.5 151.5h0M122.5 162.5h0M80.5 168.5h0M264.5 168.5h0M270.5 163.5h0M195.5 147.5h0M258.5 154.5h0M85.5 157.5h0M66.5 159.5h0M229.5 184.5h0M107.5 166.5h0M143.5 178.5h0M140.5 161.5h0M45.5 157.5h0M147.5 167.5h0M279.5 156.5h0M93.5 165.5h0M242.5 150.5h0M124.5 156.5h0M119.5 161.5h0M197.5 155.5h0M261.5 149.5h0M47.5 160.5h0M86.5 156.5h0M177.5 172.5h0M158.5 167.5h0M101.5 164.5h0M161.5 165.5h0M39.5 161.5h0M273.5 162.5h0M112.5 157.5h0M156.5 163.5h0M244.5 159.5h0M266.5 169.5h0M34.5 168.5h0M193.5 150.5h0M219.5 166.5h0M89.5 174.5h0M77.5 157.5h0M45.5 154.5h0M106.5 152.5h0M99.5 171.5h0M250.5 161.5h0M59.5 153.5h0M136.5 168.5h0M56.5 161.5h0M37.5 150.5h0M128.5 165.5h0M169.5 164.5h0M186.5 157.5h0M220.5 167.5h0M121.5 155.5h0M249.5 158.5h0M48.5 164.5h0M223.5 160.5h0M42.5 163.5h0M177.5 172.5h0M184.5 154.5h0M200.5 157.5h0M38.5 161.5h0M50.5 167.5h0M131.5 135.5h0M37.5 154.5h0M149.5 171.5h0M215.5 164.5h0M137.5 164.5h0M160.5 180.5h0M96.5 151.5h0M154.5 165.5h0M166.5 148.5h0M280.5 164.5h0M61.5 155.5h0M81.5 161.5h0M46.5 167.5h0M213.5 128.5h0M246.5 157.5h0M133.5 173.5h0M113.5 169.5h0M46.5 171.5h0M70.5 166.5h0M249.5 162.5h0M263.5 177.5h0M267.5 177.5h0M38.5 148.5h0M92.5 166.5h0M267.5 167.5h0M101.5 161.5h0M52.5 160.5h0M60.5 152.5h0M164.5 196.5h0M122.5 160.5h0M145.5 176.5h0M151.5 182.5h0M89.5 162.5h0M274.5 161.5h0M108.5 167.5h0M106.5 167.5h0M153.5 167.5h0M243.5 126.5h0M94.5 165.5h0M205.5 157.5h0M211.5 165.5h0M273.5 184.5h0M249.5 169.5h0M43.5 162.5h0M216.5 156.5h0M195.5 162.5h0M110.5 154.5h0M278.5 174.5h0M229.5 162.5h0M81.5 169.5h0M244.5 163.5h0M59.5 151.5h0M242.5 149.5h0M218.5 166.5h0M99.5 152.5h0M257.5 167.5h0M91.5 182.5h0M202.5 160.5h0M176.5 162.5h0M216.5 179.5h0M143.5 163.5h0M95.5 160.5h0M115.5 170.5h0M279.5 173.5h0M76.5 156.5h0M147.5 176.5h0M188.5 167.5h0M270.5 167.5h0M91.5 169.5h0M210.5 155.5h0M59.5 162.5h0M120.5 183.5h0M150.5 159.5h0M271.5 168.5h0M192.5 151.5h0M134.5 138.5h0M40.5 171.5h0M159.5 152.5h0M163.5 155.5h0M130.5 153.5h0M117.5 158.5h0M77.5 159.5h0M180.5 172.5h0M188.5 144.5h0M86.5 158.5h0M88.5 157.5h0M83.5 168.5h0M249.5 162.5h0M53.5 157.5h0M139.5 172.5h0M88.5 153.5h0M215.5 163.5h0M214.5 184.5h0M241.5 157.5h0M198.5 154.5h0M136.5 166.5h0M124.5 150.5h0M276.5 159.5h0M81.5 173.5h0M220.5 159.5h0M79.5 160.5h0M198.5 157.5h0M72.5 153.5h0M273.5 142.5h0M231.5 170.5h0M82.5 130.5h0M202.5 160.5h0M124.5 168.5h0M274.5 131.5h0M200.5 165.5h0M193.5 163.5h0M165.5 156.5h0M274.5 150.5h0M84.5 162.5h0M245.5 169.5h0M280.5 160.5h0M239.5 154.5h0M205.5 168.5h0M87.5 168.5h0M147.5 179.5h0M124.5 154.5h0M81.5 147.5h0M178.5 150.5h0M70.5 155.5h0M56.5 146.5h0M57.5 154.5h0M206.5 149.5h0M98.5 177.5h0M100.5 172.5h0M69.5 154.5h0M136.5 162.5h0M79.5 172.5h0M45.5 170.5h0M211.5 161.5h0M245.5 159.5h0M220.5 152.5h0M241.5 166.5h0M226.5 156.5h0M227.5 161.5h0M84.5 160.5h0M113.5 166.5h0M74.5 165.5h0M60.5 173.5h0M131.5 156.5h0M269.5 166.5h0M183.5 153.5h0M143.5 165.5h0M188.5 162.5h0M270.5 160.5h0M236.5 153.5h0M186.5 164.5h0M100.5 163.5h0M38.5 152.5h0M106.5 160.5h0M110.5 182.5h0M122.5 166.5h0M212.5 156.5h0M192.5 159.5h0M274.5 157.5h0M273.5 163.5h0M143.5 162.5h0M172.5 163.5h0M132.5 169.5h0M130.5 159.5h0M169.5 178.5h0M106.5 178.5h0M152.5 157.5h0M215.5 162.5h0M137.5 179.5h0M144.5 176.5h0M153.5 165.5h0M100.5 155.5h0M65.5 154.5h0M153.5 173.5h0M224.5 151.5h0M195.5 190.5h0M261.5 159.5h0M202.5 172.5h0M280.5 162.5h0M49.5 158.5h0M165.5 183.5h0M171.5 138.5h0M279.5 150.5h0M105.5 152.5h0M92.5 163.5h0M281.5 163.5h0M201.5 170.5h0M255.5 171.5h0M33.5 167.5h0M217.5 160.5h0M240.5 158.5h0M58.5 159.5h0M133.5 163.5h0M98.5 160.5h0M82.5 157.5h0M160.5 182.5h0M47.5 165.5h0M111.5 158.5h0M265.5 163.5h0M229.5 158.5h0M92.5 150.5h0M210.5 176.5h0M223.5 152.5h0M239.5 151.5h0M96.5 165.5h0M127.5 153.5h0M268.5 162.5h0M91.5 159.5h0M254.5 166.5h0M59.5 184.5h0M135.5 169.5h0M200.5 153.5h0M265.5 158.5h0M263.5 160.5h0M84.5 166.5h0M264.5 161.5h0M228.5 155.5h0M96.5 155.5h0M36.5 160.5h0M55.5 171.5h0M69.5 167.5h0M182.5 145.5h0M177.5 169.5h0M86.5 152.5h0M97.5 160.5h0M59.5 165.5h0M248.5 156.5h0M197.5 150.5h0M172.5 164.5h0M35.5 145.5h0M234.5 164.5h0M262.5 164.5h0M161.5 172.5h0M92.5 166.5h0M196.5 169.5h0M127.5 166.5h0M141.5 171.5h0M190.5 158.5h0M87.5 157.5h0M108.5 178.5h0M260.5 148.5h0M203.5 175.5h0M240.5 185.5h0M220.5 159.5h0M189.5 161.5h0M226.5 148.5h0M62.5 146.5h0M56.5 167.5h0M172.5 168.5h0M212.5 165.5h0M120.5 150.5h0M168.5 168.5h0M203.5 157.5h0M279.5 164.5h0M246.5 155.5h0M64.5 156.5h0M251.5 159.5h0M202.5 164.5h0M118.5 168.5h0M238.5 151.5h0M234.5 156.5h0M230.5 158.5h0M278.5 160.5h0M200.5 158.5h0M270.5 165.5h0M85.5 139.5h0M275.5 154.5h0M165.5 179.5h0M234.5 156.5h0M35.5 173.5h0M95.5 165.5h0M133.5 166.5h0M219.5 168.5h0M232.5 156.5h0M118.5 155.5h0M55.5 161.5h0M92.5 179.5h0M166.5 146.5h0M118.5 156.5h0M208.5 149.5h0M195.5 145.5h0M40.5 159.5h0M158.5 176.5h0M137.5 166.5h0M273.5 168.5h0M183.5 166.5h0M188.5 149.5h0M166.5 167.5h0M182.5 158.5h0M153.5 175.5h0M116.5 157.5h0M235.5 172.5h0M213.5 152.5h0M125.5 162.5h0M250.5 165.5h0M271.5 149.5h0M49.5 154.5h0M195.5 144.5h0M104.5 148.5h0M243.5 143.5h0M63.5 163.5h0M74.5 164.5h0M61.5 166.5h0M227.5 179.5h0M254.5 168.5h0M56.5 152.5h0M178.5 165.5h0M36.5 162.5h0M117.5 158.5h0M206.5 157.5h0M221.5 152.5h0M48.5 154.5h0M45.5 128.5h0M162.5 166.5h0M178.5 166.5h0M279.5 150.5h0M33.5 159.5h0M85.5 154.5h0M257.5 163.5h0M94.5 151.5h0M124.5 136.5h0M226.5 158.5h0M48.5 164.5h0M82.5 161.5h0M218.5 169.5h0M147.5 165.5h0M119.5 162.5h0M160.5 176.5h0M191.5 159.5h0M106.5 173.5h0M177.5 165.5h0M38.5 172.5h0M156.5 181.5h0M130.5 158.5h0M196.5 171.5h0M34.5 146.5h0M93.5 171.5h0M143.5 167.5h0M32.5 166.5h0M73.5 134.5h0M130.5 131.5h0M236.5 157.5h0M277.5 164.5h0M118.5 153.5h0M272.5 143.5h0M166.5 170.5h0M173.5 180.5h0M183.5 173.5h0M231.5 159.5h0M184.5 169.5h0M175.5 162.5h0M76.5 166.5h0M139.5 141.5h0M185.5 153.5h0M221.5 162.5h0M123.5 157.5h0M272.5 172.5h0M126.5 155.5h0M229.5 159.5h0M180.5 157.5h0M186.5 153.5h0M35.5 156.5h0M104.5 157.5h0M170.5 167.5h0M260.5 155.5h0M123.5 155.5h0M101.5 164.5h0M79.5 158.5h0M231.5 154.5h0M120.5 154.5h0M81.5 164.5h0M252.5 168.5h0M183.5 164.5h0M185.5 159.5h0M262.5 166.5h0M86.5 144.5h0M32.5 164.5h0M79.5 125.5h0M45.5 159.5h0M160.5 165.5h0M244.5 161.5h0M278.5 163.5h0M279.5 163.5h0M144.5 161.5h0M173.5 180.5h0M109.5 159.5h0M64.5 141.5h0M89.5 164.5h0M250.5 158.5h0M107.5 146.5h0M137.5 187.5h0M217.5 151.5h0M130.5 171.5h0M198.5 154.5h0M188.5 156.5h0M119.5 167.5h0M127.5 158.5h0M243.5 178.5h0M93.5 164.5h0M77.5 153.5h0M78.5 163.5h0M215.5 167.5h0M193.5 164.5h0M230.5 157.5h0M156.5 161.5h0M241.5 151.5h0M77.5 157.5h0M244.5 175.5h0M51.5 154.5h0M66.5 151.5h0M277.5 160.5h0M124.5 153.5h0M167.5 171.5h0M97.5 159.5h0M157.5 170.5h0M79.5 157.5h0M226.5 153.5h0M206.5 154.5h0M209.5 157.5h0M270.5 153.5h0M247.5 155.5h0M235.5 160.5h0M262.5 155.5h0M277.5 164.5h0M230.5 160.5h0M122.5 163.5h0M34.5 152.5h0M181.5 152.5h0M220.5 162.5h0M89.5 162.5h0M218.5 156.5h0M278.5 161.5h0M201.5 156.5h0M176.5 153.5h0M198.5 159.5h0M45.5 148.5h0M87.5 161.5h0M46.5 165.5h0M208.5 165.5h0M81.5 170.5h0M136.5 160.5h0M103.5 154.5h0M41.5 158.5h0M203.5 147.5h0M119.5 158.5h0M92.5 171.5h0M66.5 155.5h0M105.5 166.5h0M199.5 164.5h0M253.5 161.5h0M222.5 165.5h0M215.5 140.5h0M239.5 150.5h0M152.5 158.5h0M71.5 161.5h0M260.5 155.5h0M226.5 189.5h0M225.5 153.5h0M226.5 156.5h0M45.5 166.5h0M251.5 153.5h0M258.5 156.5h0M152.5 163.5h0M72.5 158.5h0M147.5 174.5h0M46.5 157.5h0M118.5 156.5h0M167.5 167.5h0M205.5 160.5h0M115.5 168.5h0M121.5 162.5h0M129.5 156.5h0M163.5 167.5h0M164.5 184.5h0M66.5 152.5h0M49.5 167.5h0M153.5 176.5h0M253.5 132.5h0M36.5 155.5h0M128.5 135.5h0M231.5 163.5h0M117.5 169.5h0M45.5 173.5h0M184.5 157.5h0M227.5 147.5h0M224.5 167.5h0M253.5 170.5h0M75.5 168.5h0M82.5 167.5h0M113.5 156.5h0M88.5 163.5h0M165.5 169.5h0M185.5 158.5h0M149.5 164.5h0M257.5 164.5h0M160.5 159.5h0M63.5 173.5h0M33.5 159.5h0M183.5 146.5h0M51.5 165.5h0M61.5 141.5h0M225.5 164.5h0M181.5 163.5h0M37.5 168.5h0M205.5 147.5h0M45.5 155.5h0M65.5 150.5h0M269.5 189.5h0M136.5 164.5h0M245.5 170.5h0M111.5 168.5h0M33.5 164.5h0M155.5 178.5h0M79.5 164.5h0M59.5 159.5h0M188.5 163.5h0M178.5 161.5h0M265.5 147.5h0M102.5 179.5h0M255.5 151.5h0M239.5 152.5h0M201.5 164.5h0M181.5 161.5h0M249.5 160.5h0M76.5 156.5h0M272.5 168.5h0M228.5 162.5h0M267.5 161.5h0M209.5 161.5h0M255.5 157.5h0M162.5 152.5h0M98.5 163.5h0" stroke="#727272" stroke-width="1" stroke-linecap="square" fill="none"/>
<path d="M32.3 160.5 L32.9 160.5 L33.5 160.5 L34.2 160.5 L34.8 160.5 L35.4 160.5 L36 160.5 L36.7 160.5 L37.3 160.5 L37.9 160.5 L38.5 160.5 L39.1 160.5 L39.8 160.5 L40.4 160.5 L41 160.5 L41.6 160.5 L42.3 160.5 L42.9 160.5 L43.5 160.5 L44.1 160.5 L44.7 160.5 L45.4 160.5 L46 160.5 L46.6 160.5 L47.2 160.5 L47.9 160.5 L48.5 160.5 L49.1 160.5 L49.7 160.5 L50.4 160.5 L51 160.5 L51.6 160.5 L52.2 160.5 L52.8 160.5 L53.5 160.5 L54.1 160.5 L54.7 160.5 L55.3 160.5 L56 160.5 L56.6 160.5 L57.2 160.5 L57.8 160.5 L58.4 160.5 L59.1 160.5 L59.7 160.5 L60.3 160.5 L60.9 160.5 L61.6 160.5 L62.2 160.5 L62.8 160.5 L63.4 160.5 L64 160.5 L64.7 160.5 L65.3 160.5 L65.9 160.5 L66.5 160.5 L67.2 160.5 L67.8 160.5 L68.4 160.5 L69 160.5 L69.7 160.5 L70.3 160.5 L70.9 160.5 L71.5 160.5 L72.1 160.5 L72.8 160.5 L73.4 160.5 L74 160.5 L74.6 160.5 L75.3 160.5 L75.9 160.5 L76.5 160.5 L77.1 160.5 L77.7 160.5 L78.4 160.5 L79 160.5 L79.6 160.5 L80.2 160.5 L80.9 160.5 L81.5 160.5 L82.1 160.5 L82.7 160.5 L83.3 160.5 L84 160.5 L84.6 160.5 L85.2 160.5 L85.8 160.5 L86.5 160.5 L87.1 160.5 L87.7 160.5 L88.3 160.5 L88.9 160.5 L89.6 160.5 L90.2 160.5 L90.8 160.5 L91.4 160.5 L92.1 160.5 L92.7 160.5 L93.3 160.5 L93.9 160.5 L94.5 160.5 L95.2 160.5 L95.8 160.5 L96.4 160.5 L97 160.5 L97.7 160.5 L98.3 160.5 L98.9 160.5 L99.5 160.5 L100.2 160.5 L100.8 160.5 L101.4 160.5 L102 160.5 L102.6 160.5 L103.3 160.5 L103.9 160.5 L104.5 160.5 L105.1 160.5 L105.8 160.5 L106.4 160.5 L107 160.5 L107.6 160.5 L108.2 160.5 L108.9 160.5 L109.5 160.5 L110.1 160.5 L110.7 160.5 L111.4 160.5 L112 160.5 L112.6 160.5 L113.2 160.5 L113.8 160.5 L114.5 160.5 L115.1 160.5 L115.7 160.5 L116.3 160.5 L117 160.5 L117.6 160.5 L118.2 160.5 L118.8 160.5 L119.5 160.5 L120.1 160.5 L120.7 160.5 L121.3 160.5 L121.9 160.5 L122.6 160.5 L123.2 160.5 L123.8 160.5 L124.4 160.5 L125.1 160.5 L125.7 160.6 L126.3 160.6 L126.9 160.7 L127.5 160.8 L128.2 161 L128.8 161.2 L129.4 161.4 L130 161.7 L130.7 162.1 L131.3 162.4 L131.9 162.9 L132.5 163.3 L133.1 163.8 L133.8 164.3 L134.4 164.7 L135 165.2 L135.6 165.6 L136.3 166 L136.9 166.3 L137.5 166.6 L138.1 166.9 L138.7 167.1 L139.4 167.3 L140 167.5 L140.6 167.6 L141.2 167.8 L141.9 167.9 L142.5 168 L143.1 168.1 L143.7 168.2 L144.3 168.3 L145 168.4 L145.6 168.4 L146.2 168.5 L146.8 168.6 L147.5 168.7 L148.1 168.7 L148.7 168.8 L149.3 168.8 L150 168.9 L150.6 168.9 L151.2 169 L151.8 169 L152.4 169 L153.1 169.1 L153.7 169.1 L154.3 169.1 L154.9 169.1 L155.6 169.1 L156.2 169.1 L156.8 169.1 L157.4 169.1 L158 169.1 L158.7 169.1 L159.3 169.1 L159.9 169.1 L160.5 169.1 L161.2 169 L161.8 169 L162.4 169 L163 168.9 L163.6 168.9 L164.3 168.8 L164.9 168.8 L165.5 168.7 L166.1 168.7 L166.8 168.6 L167.4 168.5 L168 168.4 L168.6 168.4 L169.2 168.3 L169.9 168.2 L170.5 168.1 L171.1 168 L171.7 167.9 L172.4 167.8 L173 167.6 L173.6 167.5 L174.2 167.3 L174.9 167.1 L175.5 166.9 L176.1 166.6 L176.7 166.3 L177.3 166 L178 165.6 L178.6 165.2 L179.2 164.7 L179.8 164.3 L180.5 163.8 L181.1 163.3 L181.7 162.9 L182.3 162.4 L182.9 162.1 L183.6 161.7 L184.2 161.4 L184.8 161.2 L185.4 161 L186.1 160.8 L186.7 160.7 L187.3 160.6 L187.9 160.6 L188.5 160.5 L189.2 160.5 L189.8 160.5 L190.4 160.5 L191 160.5 L191.7 160.5 L192.3 160.5 L192.9 160.5 L193.5 160.5 L194.1 160.5 L194.8 160.5 L195.4 160.5 L196 160.5 L196.6 160.5 L197.3 160.5 L197.9 160.5 L198.5 160.5 L199.1 160.5 L199.8 160.5 L200.4 160.5 L201 160.5 L201.6 160.5 L202.2 160.5 L202.9 160.5 L203.5 160.5 L204.1 160.5 L204.7 160.5 L205.4 160.5 L206 160.5 L206.6 160.5 L207.2 160.5 L207.8 160.5 L208.5 160.5 L209.1 160.5 L209.7 160.5 L210.3 160.5 L211 160.5 L211.6 160.5 L212.2 160.5 L212.8 160.5 L213.4 160.5 L214.1 160.5 L214.7 160.5 L215.3 160.5 L215.9 160.5 L216.6 160.5 L217.2 160.5 L217.8 160.5 L218.4 160.5 L219 160.5 L219.7 160.5 L220.3 160.5 L220.9 160.5 L221.5 160.5 L222.2 160.5 L222.8 160.5 L223.4 160.5 L224 160.5 L224.7 160.5 L225.3 160.5 L225.9 160.5 L226.5 160.5 L227.1 160.5 L227.8 160.5 L228.4 160.5 L229 160.5 L229.6 160.5 L230.3 160.5 L230.9 160.5 L231.5 160.5 L232.1 160.5 L232.7 160.5 L233.4 160.5 L234 160.5 L234.6 160.5 L235.2 160.5 L235.9 160.5 L236.5 160.5 L237.1 160.5 L237.7 160.5 L238.3 160.5 L239 160.5 L239.6 160.5 L240.2 160.5 L240.8 160.5 L241.5 160.5 L242.1 160.5 L242.7 160.5 L243.3 160.5 L243.9 160.5 L244.6 160.5 L245.2 160.5 L245.8 160.5 L246.4 160.5 L247.1 160.5 L247.7 160.5 L248.3 160.5 L248.9 160.5 L249.6 160.5 L250.2 160.5 L250.8 160.5 L251.4 160.5 L252 160.5 L252.7 160.5 L253.3 160.5 L253.9 160.5 L254.5 160.5 L255.2 160.5 L255.8 160.5 L256.4 160.5 L257 160.5 L257.6 160.5 L258.3 160.5 L258.9 160.5 L259.5 160.5 L260.1 160.5 L260.8 160.5 L261.4 160.5 L262 160.5 L262.6 160.5 L263.2 160.5 L263.9 160.5 L264.5 160.5 L265.1 160.5 L265.7 160.5 L266.4 160.5 L267 160.5 L267.6 160.5 L268.2 160.5 L268.8 160.5 L269.5 160.5 L270.1 160.5 L270.7 160.5 L271.3 160.5 L272 160.5 L272.6 160.5 L273.2 160.5 L273.8 160.5 L274.5 160.5 L275.1 160.5 L275.7 160.5 L276.3 160.5 L276.9 160.5 L277.6 160.5 L278.2 160.5 L278.8 160.5 L279.4 160.5 L280.1 160.5 L280.7 160.5 L281.3 160.5" stroke="#ff0000" stroke-width="1.2" fill="none"/>
<path d="M34.4 160h0M37.5 161.5h0M40.6 160.1h0M43.8 159.9h0M46.9 158.7h0M50 160.1h0M53.1 162.6h0M56.2 161.3h0M59.3 162.5h0M62.4 161h0M65.5 161.3h0M68.7 160.9h0M71.8 157.3h0M74.9 162.1h0M78 161.5h0M81.1 161.5h0M84.2 157.3h0M87.3 157.2h0M90.4 158.8h0M93.6 159.6h0M96.7 161.1h0M99.8 160.4h0M102.9 161.5h0M106 159.3h0M109.1 161.1h0M112.2 161.3h0M115.3 159.2h0M118.5 163.8h0M121.6 161.6h0M124.7 162.8h0M127.8 159.3h0M130.9 159.7h0M134 164.3h0M137.1 166.9h0M140.2 168.9h0M143.4 168.7h0M146.5 167.7h0M149.6 167.1h0M152.7 168.1h0M155.8 171.5h0M158.9 167.6h0M162 169.5h0M165.1 169.6h0M168.3 165.6h0M171.4 168.1h0M174.5 170h0M177.6 162.9h0M180.7 162.8h0M183.8 160.3h0M186.9 158.9h0M190 161.5h0M193.2 160.4h0M196.3 157.7h0M199.4 162.1h0M202.5 161.8h0M205.6 162.3h0M208.7 163.3h0M211.8 161.2h0M214.9 160.7h0M218.1 158h0M221.2 161.7h0M224.3 159.3h0M227.4 159.6h0M230.5 158.1h0M233.6 158.6h0M236.7 159.5h0M239.8 163h0M243 156.6h0M246.1 157.7h0M249.2 161h0M252.3 163.3h0M255.4 161.6h0M258.5 156.9h0M261.6 155.7h0M264.7 161.2h0M267.9 159.1h0M271 158.4h0M274.1 162.4h0M277.2 162.6h0M280.3 160.8h0" stroke="#0000ff" stroke-width="3.4" stroke-linecap="round" fill="none"/>
<path d="M32.3 198.8v-2.5M32.3 122.2v2.5M94.5 198.8v-2.5M94.5 122.2v2.5M156.8 198.8v-2.5M156.8 122.2v2.5M219.1 198.8v-2.5M219.1 122.2v2.5M281.3 198.8v-2.5M281.3 122.2v2.5M32.3 122.2h2.5M281.3 122.2h-2.5M32.3 135h2.5M281.3 135h-2.5M32.3 147.7h2.5M281.3 147.7h-2.5M32.3 160.5h2.5M281.3 160.5h-2.5M32.3 173.3h2.5M281.3 173.3h-2.5M32.3 186h2.5M281.3 186h-2.5M32.3 198.8h2.5M281.3 198.8h-2.5" stroke="#666" stroke-width="0.8" fill="none"/>
<text x="32.3" y="207" font-size="5.7" text-anchor="middle" fill="#000" color="#000">-0.1</text>
<text x="94.5" y="207" font-size="5.7" text-anchor="middle" fill="#000" color="#000">-0.05</text>
<text x="156.8" y="207" font-size="5.7" text-anchor="middle" fill="#000" color="#000">0</text>
<text x="219.1" y="207" font-size="5.7" text-anchor="middle" fill="#000" color="#000">0.05</text>
<text x="281.3" y="207" font-size="5.7" text-anchor="middle" fill="#000" color="#000">0.1</text>
<text x="29.3" y="124.2" font-size="5.7" text-anchor="end" fill="#000" color="#000">-0.03</text>
<text x="29.3" y="137" font-size="5.7" text-anchor="end" fill="#000" color="#000">-0.02</text>
<text x="29.3" y="149.7" font-size="5.7" text-anchor="end" fill="#000" color="#000">-0.01</text>
<text x="29.3" y="162.5" font-size="5.7" text-anchor="end" fill="#000" color="#000">0</text>
<text x="29.3" y="175.3" font-size="5.7" text-anchor="end" fill="#000" color="#000">0.01</text>
<text x="29.3" y="188" font-size="5.7" text-anchor="end" fill="#000" color="#000">0.02</text>
<text x="29.3" y="200.8" font-size="5.7" text-anchor="end" fill="#000" color="#000">0.03</text>
<text x="157" y="215.5" font-size="8" text-anchor="middle" fill="#000" color="#000">Orbital phase</text>
<text x="9" y="160.5" font-size="8.3" text-anchor="middle" fill="#000" color="#000" transform="rotate(-90 9 160.5)">Δ mag</text>
<rect x="32.3" y="224.2" width="249" height="76.6" fill="none" stroke="#8a8a8a" stroke-width="1.4"/>
<path d="M207.5 268.5h0M227.5 262.5h0M50.5 257.5h0M210.5 259.5h0M183.5 258.5h0M178.5 257.5h0M121.5 254.5h0M272.5 266.5h0M238.5 270.5h0M250.5 255.5h0M224.5 273.5h0M176.5 257.5h0M161.5 261.5h0M164.5 255.5h0M259.5 269.5h0M141.5 255.5h0M141.5 253.5h0M100.5 270.5h0M92.5 266.5h0M222.5 266.5h0M252.5 259.5h0M42.5 265.5h0M120.5 271.5h0M240.5 265.5h0M170.5 259.5h0M105.5 243.5h0M170.5 256.5h0M252.5 277.5h0M76.5 262.5h0M249.5 256.5h0M156.5 267.5h0M212.5 252.5h0M57.5 259.5h0M41.5 258.5h0M41.5 254.5h0M280.5 269.5h0M103.5 250.5h0M57.5 261.5h0M63.5 257.5h0M111.5 260.5h0M181.5 261.5h0M222.5 278.5h0M70.5 267.5h0M207.5 266.5h0M130.5 262.5h0M189.5 258.5h0M140.5 259.5h0M234.5 257.5h0M155.5 265.5h0M50.5 269.5h0M115.5 230.5h0M94.5 261.5h0M101.5 253.5h0M272.5 270.5h0M244.5 272.5h0M70.5 265.5h0M170.5 274.5h0M98.5 256.5h0M174.5 264.5h0M33.5 253.5h0M132.5 263.5h0M271.5 263.5h0M144.5 256.5h0M35.5 278.5h0M145.5 260.5h0M241.5 272.5h0M156.5 247.5h0M199.5 285.5h0M175.5 259.5h0M235.5 248.5h0M156.5 261.5h0M181.5 271.5h0M154.5 269.5h0M261.5 269.5h0M92.5 238.5h0M278.5 265.5h0M92.5 263.5h0M45.5 254.5h0M86.5 261.5h0M245.5 265.5h0M126.5 253.5h0M210.5 261.5h0M60.5 264.5h0M152.5 268.5h0M118.5 261.5h0M244.5 256.5h0M248.5 252.5h0M265.5 261.5h0M109.5 243.5h0M212.5 295.5h0M78.5 264.5h0M266.5 263.5h0M49.5 259.5h0M215.5 253.5h0M197.5 252.5h0M103.5 260.5h0M191.5 267.5h0M179.5 255.5h0M105.5 261.5h0M43.5 277.5h0M193.5 270.5h0M273.5 260.5h0M242.5 254.5h0M242.5 257.5h0M103.5 239.5h0M198.5 262.5h0M253.5 263.5h0M248.5 261.5h0M188.5 279.5h0M153.5 253.5h0M83.5 263.5h0M123.5 253.5h0M248.5 252.5h0M256.5 254.5h0M246.5 269.5h0M270.5 271.5h0M136.5 258.5h0M252.5 267.5h0M196.5 258.5h0M243.5 263.5h0M39.5 248.5h0M33.5 277.5h0M212.5 263.5h0M241.5 266.5h0M217.5 271.5h0M238.5 266.5h0M193.5 260.5h0M199.5 274.5h0M183.5 264.5h0M52.5 275.5h0M163.5 247.5h0M193.5 265.5h0M257.5 281.5h0M125.5 246.5h0M84.5 268.5h0M221.5 263.5h0M44.5 247.5h0M53.5 258.5h0M175.5 275.5h0M65.5 247.5h0M264.5 273.5h0M100.5 251.5h0M39.5 261.5h0M280.5 265.5h0M236.5 266.5h0M151.5 268.5h0M79.5 260.5h0M32.5 263.5h0M138.5 257.5h0M265.5 285.5h0M150.5 265.5h0M203.5 256.5h0M236.5 261.5h0M249.5 266.5h0M196.5 269.5h0M39.5 250.5h0M109.5 270.5h0M46.5 273.5h0M65.5 266.5h0M200.5 264.5h0M244.5 260.5h0M112.5 280.5h0M139.5 269.5h0M94.5 271.5h0M64.5 265.5h0M38.5 243.5h0M134.5 268.5h0M80.5 269.5h0M127.5 274.5h0M140.5 235.5h0M124.5 257.5h0M67.5 265.5h0M236.5 260.5h0M114.5 257.5h0M158.5 270.5h0M207.5 266.5h0M140.5 251.5h0M87.5 262.5h0M254.5 257.5h0M94.5 253.5h0M42.5 249.5h0M278.5 263.5h0M41.5 275.5h0M149.5 253.5h0M148.5 266.5h0M32.5 275.5h0M277.5 276.5h0M197.5 259.5h0M250.5 267.5h0M199.5 262.5h0M59.5 266.5h0M168.5 261.5h0M268.5 272.5h0M45.5 262.5h0M76.5 264.5h0M42.5 263.5h0M36.5 258.5h0M174.5 266.5h0M161.5 254.5h0M122.5 247.5h0M248.5 267.5h0M226.5 248.5h0M128.5 262.5h0M139.5 255.5h0M93.5 270.5h0M218.5 278.5h0M76.5 247.5h0M183.5 255.5h0M272.5 263.5h0M96.5 253.5h0M100.5 258.5h0M207.5 254.5h0M167.5 256.5h0M137.5 278.5h0M63.5 258.5h0M105.5 264.5h0M201.5 267.5h0M249.5 244.5h0M125.5 251.5h0M247.5 266.5h0M275.5 250.5h0M116.5 268.5h0M61.5 259.5h0M219.5 243.5h0M102.5 265.5h0M186.5 263.5h0M125.5 268.5h0M62.5 256.5h0M129.5 269.5h0M158.5 254.5h0M153.5 257.5h0M92.5 267.5h0M146.5 270.5h0M192.5 258.5h0M267.5 265.5h0M39.5 264.5h0M104.5 253.5h0M41.5 265.5h0M224.5 240.5h0M222.5 262.5h0M121.5 259.5h0M45.5 227.5h0M209.5 269.5h0M274.5 257.5h0M122.5 247.5h0M78.5 257.5h0M107.5 270.5h0M273.5 270.5h0M144.5 248.5h0M54.5 268.5h0M191.5 251.5h0M92.5 269.5h0M222.5 264.5h0M259.5 267.5h0M44.5 288.5h0M236.5 255.5h0M241.5 232.5h0M130.5 261.5h0M142.5 260.5h0M182.5 266.5h0M133.5 266.5h0M141.5 266.5h0M272.5 260.5h0M214.5 271.5h0M81.5 287.5h0M211.5 249.5h0M84.5 258.5h0M56.5 263.5h0M250.5 272.5h0M67.5 252.5h0M135.5 250.5h0M262.5 258.5h0M187.5 259.5h0M63.5 266.5h0M140.5 273.5h0M44.5 286.5h0M247.5 257.5h0M245.5 266.5h0M77.5 267.5h0M278.5 239.5h0M272.5 265.5h0M216.5 272.5h0M156.5 265.5h0M106.5 225.5h0M229.5 257.5h0M165.5 253.5h0M240.5 257.5h0M232.5 269.5h0M138.5 281.5h0M122.5 264.5h0M140.5 253.5h0M81.5 265.5h0M148.5 265.5h0M180.5 260.5h0M212.5 263.5h0M36.5 247.5h0M78.5 244.5h0M34.5 279.5h0M92.5 261.5h0M149.5 286.5h0M266.5 272.5h0M107.5 278.5h0M150.5 272.5h0M255.5 275.5h0M109.5 269.5h0M276.5 244.5h0M214.5 274.5h0M220.5 263.5h0M241.5 263.5h0M206.5 259.5h0M155.5 255.5h0M176.5 257.5h0M201.5 281.5h0M118.5 269.5h0M177.5 270.5h0M117.5 257.5h0M58.5 271.5h0M151.5 265.5h0M209.5 271.5h0M227.5 277.5h0M137.5 255.5h0M192.5 247.5h0M143.5 228.5h0M96.5 256.5h0M280.5 269.5h0M34.5 264.5h0M98.5 246.5h0M174.5 267.5h0M162.5 256.5h0M159.5 249.5h0M176.5 291.5h0M146.5 256.5h0M274.5 266.5h0M232.5 256.5h0M36.5 241.5h0M223.5 263.5h0M75.5 263.5h0M117.5 251.5h0M61.5 253.5h0M229.5 251.5h0M115.5 272.5h0M115.5 261.5h0M230.5 237.5h0M116.5 249.5h0M88.5 261.5h0M75.5 281.5h0M191.5 284.5h0M252.5 268.5h0M87.5 251.5h0M160.5 277.5h0M179.5 266.5h0M194.5 263.5h0M39.5 265.5h0M234.5 263.5h0M98.5 264.5h0M62.5 257.5h0M193.5 264.5h0M279.5 266.5h0M150.5 256.5h0M181.5 267.5h0M56.5 271.5h0M172.5 264.5h0M96.5 262.5h0M104.5 252.5h0M44.5 263.5h0M194.5 250.5h0M45.5 281.5h0M98.5 263.5h0M209.5 264.5h0M126.5 254.5h0M163.5 259.5h0M51.5 265.5h0M214.5 242.5h0M137.5 289.5h0M133.5 254.5h0M53.5 268.5h0M83.5 261.5h0M41.5 258.5h0M278.5 267.5h0M265.5 268.5h0M249.5 256.5h0M130.5 270.5h0M174.5 258.5h0M176.5 254.5h0M206.5 258.5h0M222.5 265.5h0M54.5 258.5h0M59.5 276.5h0M216.5 253.5h0M236.5 258.5h0M192.5 265.5h0M207.5 248.5h0M76.5 254.5h0M151.5 266.5h0M194.5 266.5h0M153.5 260.5h0M47.5 268.5h0M145.5 263.5h0M154.5 261.5h0M229.5 257.5h0M187.5 241.5h0M272.5 263.5h0M179.5 249.5h0M130.5 259.5h0M247.5 268.5h0M92.5 261.5h0M248.5 269.5h0M157.5 260.5h0M52.5 267.5h0M81.5 270.5h0M223.5 274.5h0M273.5 260.5h0M186.5 276.5h0M151.5 256.5h0M177.5 251.5h0M186.5 270.5h0M264.5 262.5h0M152.5 296.5h0M86.5 265.5h0M64.5 259.5h0M47.5 256.5h0M78.5 261.5h0M180.5 269.5h0M77.5 262.5h0M161.5 259.5h0M117.5 288.5h0M61.5 261.5h0M147.5 267.5h0M273.5 276.5h0M125.5 249.5h0M124.5 260.5h0M135.5 265.5h0M239.5 259.5h0M111.5 261.5h0M152.5 262.5h0M116.5 267.5h0M124.5 265.5h0M223.5 271.5h0M147.5 250.5h0M189.5 266.5h0M93.5 263.5h0M266.5 258.5h0M130.5 252.5h0M265.5 272.5h0M278.5 269.5h0M88.5 275.5h0M61.5 270.5h0M75.5 255.5h0M234.5 232.5h0M147.5 259.5h0M138.5 260.5h0M153.5 260.5h0M227.5 247.5h0M37.5 256.5h0M51.5 260.5h0M190.5 256.5h0M51.5 270.5h0M67.5 270.5h0M140.5 269.5h0M236.5 265.5h0M102.5 277.5h0M100.5 263.5h0M218.5 266.5h0M242.5 267.5h0M61.5 261.5h0M277.5 262.5h0M184.5 251.5h0M60.5 269.5h0M211.5 263.5h0M252.5 255.5h0M145.5 265.5h0M237.5 262.5h0M80.5 258.5h0M87.5 259.5h0M102.5 278.5h0M81.5 260.5h0M90.5 257.5h0M149.5 262.5h0M280.5 248.5h0M136.5 249.5h0M165.5 249.5h0M278.5 263.5h0M133.5 271.5h0M121.5 261.5h0M102.5 272.5h0M241.5 267.5h0M152.5 262.5h0M172.5 270.5h0M178.5 257.5h0M35.5 266.5h0M250.5 280.5h0M111.5 263.5h0M204.5 246.5h0M216.5 255.5h0M275.5 262.5h0M116.5 273.5h0M69.5 265.5h0M253.5 256.5h0M269.5 299.5h0M50.5 257.5h0M185.5 268.5h0M236.5 248.5h0M94.5 252.5h0M163.5 254.5h0M186.5 265.5h0M235.5 255.5h0M176.5 257.5h0M75.5 257.5h0M159.5 267.5h0M48.5 274.5h0M54.5 247.5h0M253.5 259.5h0M144.5 276.5h0M57.5 265.5h0M50.5 275.5h0M265.5 258.5h0M173.5 266.5h0M135.5 268.5h0M65.5 252.5h0M211.5 249.5h0M242.5 279.5h0M116.5 243.5h0M103.5 273.5h0M92.5 261.5h0M161.5 252.5h0M83.5 257.5h0M198.5 262.5h0M171.5 260.5h0M193.5 268.5h0M205.5 257.5h0M52.5 250.5h0M131.5 259.5h0M129.5 265.5h0M163.5 266.5h0M174.5 258.5h0M96.5 266.5h0M34.5 274.5h0M93.5 269.5h0M52.5 273.5h0M273.5 255.5h0M156.5 254.5h0M202.5 262.5h0M153.5 260.5h0M149.5 255.5h0M242.5 267.5h0M226.5 261.5h0M78.5 259.5h0M189.5 265.5h0M264.5 260.5h0M83.5 272.5h0M213.5 258.5h0M166.5 260.5h0M186.5 255.5h0M189.5 262.5h0M279.5 265.5h0M189.5 252.5h0M38.5 253.5h0M150.5 277.5h0M251.5 275.5h0M160.5 250.5h0M157.5 259.5h0M51.5 260.5h0M84.5 263.5h0M219.5 265.5h0M194.5 261.5h0M242.5 277.5h0M133.5 277.5h0M273.5 259.5h0M117.5 261.5h0M120.5 262.5h0M145.5 242.5h0M152.5 266.5h0M105.5 260.5h0M185.5 268.5h0M94.5 258.5h0M160.5 257.5h0M73.5 266.5h0M164.5 256.5h0M244.5 250.5h0M93.5 255.5h0M231.5 257.5h0M74.5 257.5h0M43.5 239.5h0M96.5 273.5h0M165.5 271.5h0M114.5 255.5h0M67.5 260.5h0M238.5 252.5h0M208.5 260.5h0M112.5 258.5h0M49.5 261.5h0M254.5 263.5h0M181.5 257.5h0M187.5 260.5h0M140.5 265.5h0M215.5 264.5h0M93.5 245.5h0M228.5 258.5h0M111.5 261.5h0M217.5 261.5h0M154.5 266.5h0M226.5 270.5h0M226.5 270.5h0M70.5 295.5h0M86.5 270.5h0M177.5 259.5h0M257.5 273.5h0M200.5 271.5h0M46.5 280.5h0M35.5 252.5h0M221.5 272.5h0M262.5 258.5h0M242.5 242.5h0M256.5 244.5h0M88.5 258.5h0M179.5 259.5h0M265.5 265.5h0M50.5 268.5h0M174.5 257.5h0M255.5 257.5h0M224.5 258.5h0M119.5 258.5h0M255.5 258.5h0M157.5 265.5h0M225.5 244.5h0M166.5 271.5h0M255.5 260.5h0M43.5 255.5h0M202.5 276.5h0M73.5 269.5h0M116.5 260.5h0M205.5 273.5h0M181.5 261.5h0M268.5 268.5h0M131.5 252.5h0M34.5 255.5h0M53.5 264.5h0M250.5 262.5h0M41.5 255.5h0M94.5 255.5h0M229.5 256.5h0M63.5 252.5h0M112.5 266.5h0M248.5 273.5h0M191.5 272.5h0M125.5 262.5h0M266.5 268.5h0M190.5 254.5h0M56.5 250.5h0M247.5 255.5h0M208.5 268.5h0M161.5 262.5h0M197.5 272.5h0M140.5 248.5h0M44.5 262.5h0M232.5 260.5h0M149.5 264.5h0M99.5 261.5h0M264.5 254.5h0M255.5 262.5h0M210.5 251.5h0M115.5 265.5h0M208.5 249.5h0M131.5 265.5h0M115.5 267.5h0M137.5 273.5h0M196.5 260.5h0M91.5 261.5h0M72.5 286.5h0M200.5 280.5h0M93.5 260.5h0M77.5 264.5h0M219.5 270.5h0M275.5 254.5h0M175.5 265.5h0M95.5 269.5h0M48.5 269.5h0M62.5 275.5h0M82.5 264.5h0M276.5 253.5h0M67.5 256.5h0M116.5 283.5h0M216.5 269.5h0M52.5 259.5h0M201.5 264.5h0M233.5 262.5h0M49.5 256.5h0M78.5 253.5h0M63.5 256.5h0M259.5 275.5h0M209.5 259.5h0M247.5 266.5h0M146.5 268.5h0M118.5 250.5h0M221.5 246.5h0M269.5 262.5h0M94.5 235.5h0M240.5 268.5h0M259.5 262.5h0M232.5 278.5h0M239.5 264.5h0M186.5 291.5h0M99.5 226.5h0M178.5 255.5h0M43.5 255.5h0M88.5 251.5h0M137.5 278.5h0M102.5 264.5h0M139.5 268.5h0M134.5 277.5h0M246.5 258.5h0M139.5 270.5h0M224.5 260.5h0M201.5 267.5h0M176.5 262.5h0M137.5 288.5h0M180.5 263.5h0M209.5 280.5h0M54.5 268.5h0M239.5 257.5h0M251.5 264.5h0M142.5 259.5h0M253.5 266.5h0M110.5 274.5h0M224.5 260.5h0M69.5 270.5h0M89.5 263.5h0M189.5 256.5h0M234.5 264.5h0M75.5 251.5h0M43.5 271.5h0M243.5 279.5h0M130.5 261.5h0M91.5 249.5h0M240.5 261.5h0M78.5 266.5h0M237.5 278.5h0M83.5 264.5h0M68.5 277.5h0M190.5 258.5h0M80.5 260.5h0M265.5 259.5h0M257.5 277.5h0M159.5 258.5h0M161.5 260.5h0M71.5 263.5h0M53.5 274.5h0M256.5 255.5h0M171.5 295.5h0M219.5 249.5h0M218.5 235.5h0M115.5 253.5h0M218.5 290.5h0M46.5 253.5h0M61.5 269.5h0M231.5 258.5h0M157.5 261.5h0M248.5 241.5h0M53.5 281.5h0M53.5 275.5h0M78.5 258.5h0M275.5 250.5h0M216.5 264.5h0M60.5 242.5h0M176.5 264.5h0M65.5 299.5h0M225.5 271.5h0M88.5 266.5h0M146.5 270.5h0M120.5 263.5h0M42.5 259.5h0M99.5 254.5h0M48.5 258.5h0M243.5 264.5h0M39.5 253.5h0M152.5 252.5h0M133.5 266.5h0M135.5 259.5h0M95.5 262.5h0M86.5 257.5h0M158.5 257.5h0M176.5 252.5h0M108.5 279.5h0M253.5 259.5h0M195.5 265.5h0M135.5 281.5h0M189.5 260.5h0M195.5 267.5h0M39.5 263.5h0M278.5 263.5h0M254.5 247.5h0M199.5 255.5h0M250.5 245.5h0M51.5 256.5h0M155.5 226.5h0M89.5 271.5h0M43.5 280.5h0M146.5 246.5h0M256.5 273.5h0M271.5 260.5h0M177.5 263.5h0M151.5 259.5h0M267.5 264.5h0M189.5 258.5h0M57.5 256.5h0M144.5 270.5h0M219.5 260.5h0M44.5 257.5h0M227.5 246.5h0M239.5 260.5h0M225.5 258.5h0M220.5 271.5h0M49.5 241.5h0M89.5 256.5h0M244.5 275.5h0M63.5 268.5h0M248.5 262.5h0M260.5 257.5h0M51.5 260.5h0M277.5 264.5h0M245.5 262.5h0M262.5 274.5h0M230.5 249.5h0M99.5 266.5h0M253.5 257.5h0M209.5 285.5h0M55.5 268.5h0M253.5 279.5h0M163.5 269.5h0M95.5 268.5h0M216.5 265.5h0M72.5 267.5h0M215.5 247.5h0M123.5 274.5h0M210.5 269.5h0M56.5 252.5h0M38.5 258.5h0M194.5 255.5h0M95.5 257.5h0M190.5 251.5h0M85.5 264.5h0M68.5 270.5h0M103.5 272.5h0M79.5 262.5h0M207.5 262.5h0M145.5 256.5h0M260.5 261.5h0M33.5 253.5h0M185.5 263.5h0M163.5 246.5h0M275.5 261.5h0M221.5 272.5h0M92.5 268.5h0M60.5 265.5h0M192.5 258.5h0M139.5 278.5h0M125.5 258.5h0M35.5 265.5h0M74.5 256.5h0M79.5 260.5h0M32.5 259.5h0M144.5 256.5h0M237.5 260.5h0M49.5 246.5h0M90.5 249.5h0M244.5 285.5h0M263.5 247.5h0M93.5 259.5h0M172.5 272.5h0M240.5 252.5h0M163.5 267.5h0M186.5 241.5h0M200.5 261.5h0M69.5 252.5h0M56.5 258.5h0M262.5 259.5h0M98.5 257.5h0M238.5 247.5h0M180.5 274.5h0M223.5 245.5h0M256.5 260.5h0M214.5 253.5h0M226.5 253.5h0M49.5 272.5h0M105.5 253.5h0M224.5 272.5h0M159.5 255.5h0M164.5 253.5h0M235.5 249.5h0M67.5 278.5h0M165.5 259.5h0M37.5 276.5h0M132.5 256.5h0M159.5 254.5h0M270.5 252.5h0M272.5 260.5h0M32.5 258.5h0M61.5 241.5h0M216.5 296.5h0M256.5 264.5h0M229.5 278.5h0M34.5 270.5h0M173.5 272.5h0M272.5 262.5h0M167.5 264.5h0M236.5 257.5h0M161.5 263.5h0M135.5 267.5h0M107.5 259.5h0M220.5 267.5h0M133.5 269.5h0M88.5 281.5h0M179.5 262.5h0M130.5 265.5h0M53.5 259.5h0M227.5 229.5h0M62.5 263.5h0M70.5 260.5h0M143.5 265.5h0M35.5 295.5h0M42.5 262.5h0M57.5 253.5h0M230.5 264.5h0M169.5 246.5h0M159.5 272.5h0M269.5 266.5h0M101.5 260.5h0M166.5 257.5h0M52.5 257.5h0M47.5 269.5h0M35.5 276.5h0M64.5 259.5h0M193.5 263.5h0M241.5 266.5h0M36.5 272.5h0M209.5 256.5h0M61.5 259.5h0M167.5 247.5h0M213.5 259.5h0M259.5 275.5h0M254.5 234.5h0M281.5 257.5h0M38.5 253.5h0M173.5 257.5h0M242.5 272.5h0M44.5 271.5h0M93.5 258.5h0M46.5 252.5h0M149.5 240.5h0M177.5 256.5h0M183.5 226.5h0M274.5 258.5h0M36.5 269.5h0M136.5 247.5h0M70.5 258.5h0M75.5 252.5h0M222.5 275.5h0M64.5 261.5h0M153.5 252.5h0M83.5 263.5h0M112.5 268.5h0M242.5 267.5h0M269.5 273.5h0M131.5 257.5h0M34.5 252.5h0M77.5 269.5h0M120.5 243.5h0M177.5 257.5h0M245.5 262.5h0M255.5 259.5h0M103.5 261.5h0M139.5 267.5h0M146.5 262.5h0M257.5 272.5h0M210.5 267.5h0M34.5 257.5h0M124.5 261.5h0M167.5 281.5h0M51.5 265.5h0M138.5 266.5h0M151.5 271.5h0M271.5 280.5h0M170.5 259.5h0M121.5 268.5h0M33.5 253.5h0M87.5 258.5h0M104.5 273.5h0M244.5 255.5h0M186.5 256.5h0M143.5 264.5h0M136.5 266.5h0M239.5 249.5h0M47.5 269.5h0M193.5 256.5h0M138.5 256.5h0M250.5 258.5h0M205.5 267.5h0M54.5 256.5h0M181.5 291.5h0M84.5 274.5h0M193.5 264.5h0M218.5 254.5h0M59.5 255.5h0M239.5 256.5h0M186.5 261.5h0M269.5 263.5h0M96.5 263.5h0M275.5 269.5h0M76.5 266.5h0M185.5 282.5h0M46.5 267.5h0M94.5 263.5h0M218.5 259.5h0M276.5 264.5h0M154.5 261.5h0M32.5 252.5h0M38.5 261.5h0M91.5 263.5h0M108.5 250.5h0M112.5 268.5h0M141.5 260.5h0M194.5 257.5h0M57.5 262.5h0M249.5 256.5h0M166.5 263.5h0M116.5 259.5h0M268.5 262.5h0M280.5 258.5h0M56.5 258.5h0M192.5 256.5h0M249.5 265.5h0M53.5 234.5h0M234.5 293.5h0M135.5 266.5h0M48.5 263.5h0M56.5 257.5h0M236.5 281.5h0M259.5 256.5h0M40.5 271.5h0M58.5 259.5h0M274.5 281.5h0M116.5 252.5h0M49.5 268.5h0M182.5 260.5h0M65.5 263.5h0M123.5 273.5h0M281.5 262.5h0M145.5 263.5h0M126.5 272.5h0M184.5 261.5h0M83.5 266.5h0M89.5 267.5h0M213.5 260.5h0M117.5 254.5h0M177.5 261.5h0M254.5 287.5h0M138.5 268.5h0M254.5 261.5h0M128.5 266.5h0M32.5 272.5h0M242.5 271.5h0M181.5 265.5h0M104.5 251.5h0M222.5 261.5h0M241.5 256.5h0M152.5 261.5h0M198.5 259.5h0M200.5 277.5h0M271.5 264.5h0M71.5 270.5h0M165.5 268.5h0M237.5 259.5h0M186.5 261.5h0M113.5 263.5h0M250.5 248.5h0M54.5 253.5h0M172.5 280.5h0M143.5 265.5h0M171.5 261.5h0M250.5 260.5h0M85.5 263.5h0M131.5 267.5h0M230.5 281.5h0M168.5 260.5h0M224.5 259.5h0M221.5 252.5h0M96.5 265.5h0M177.5 260.5h0M75.5 252.5h0M124.5 261.5h0M237.5 267.5h0M54.5 270.5h0M177.5 251.5h0M34.5 250.5h0M200.5 235.5h0M170.5 268.5h0M151.5 260.5h0M199.5 255.5h0M155.5 264.5h0M48.5 263.5h0M121.5 279.5h0M56.5 255.5h0M154.5 262.5h0M103.5 253.5h0M188.5 261.5h0M148.5 255.5h0M181.5 265.5h0M251.5 263.5h0M51.5 261.5h0M203.5 260.5h0M162.5 248.5h0M270.5 264.5h0M244.5 275.5h0M101.5 259.5h0M57.5 250.5h0M272.5 255.5h0M63.5 270.5h0M150.5 247.5h0M140.5 249.5h0M43.5 256.5h0M258.5 237.5h0M96.5 271.5h0M79.5 244.5h0M251.5 253.5h0M176.5 269.5h0M184.5 244.5h0M81.5 258.5h0M216.5 271.5h0M252.5 263.5h0M96.5 268.5h0M255.5 254.5h0M273.5 265.5h0M89.5 258.5h0M279.5 249.5h0M204.5 261.5h0M41.5 252.5h0M131.5 261.5h0M229.5 253.5h0M56.5 273.5h0M62.5 252.5h0M171.5 256.5h0M206.5 267.5h0M147.5 249.5h0M99.5 268.5h0M214.5 279.5h0M207.5 263.5h0M191.5 267.5h0M39.5 252.5h0M49.5 244.5h0M39.5 268.5h0M216.5 260.5h0M88.5 263.5h0M60.5 270.5h0M68.5 268.5h0M151.5 261.5h0M222.5 254.5h0M41.5 255.5h0M136.5 268.5h0M91.5 250.5h0M99.5 293.5h0M195.5 255.5h0M144.5 249.5h0M192.5 262.5h0M69.5 250.5h0M184.5 256.5h0M266.5 268.5h0M78.5 261.5h0M252.5 255.5h0M57.5 262.5h0M76.5 269.5h0M200.5 256.5h0M81.5 258.5h0M109.5 259.5h0M133.5 253.5h0M266.5 265.5h0M110.5 264.5h0M227.5 259.5h0M273.5 261.5h0M180.5 260.5h0M229.5 266.5h0M184.5 274.5h0M187.5 268.5h0M148.5 285.5h0M119.5 287.5h0M53.5 257.5h0M94.5 265.5h0M268.5 254.5h0M131.5 263.5h0M90.5 278.5h0M273.5 258.5h0M220.5 258.5h0M133.5 266.5h0M146.5 271.5h0M147.5 259.5h0M138.5 256.5h0M55.5 264.5h0M204.5 267.5h0M137.5 254.5h0M276.5 253.5h0M64.5 251.5h0M145.5 256.5h0M41.5 264.5h0M143.5 240.5h0M164.5 251.5h0M241.5 257.5h0M45.5 258.5h0M250.5 256.5h0M245.5 270.5h0M59.5 265.5h0M115.5 265.5h0M101.5 235.5h0M64.5 269.5h0M130.5 268.5h0M240.5 270.5h0M60.5 267.5h0M255.5 285.5h0M177.5 267.5h0M119.5 264.5h0M74.5 249.5h0M121.5 266.5h0M99.5 277.5h0M112.5 262.5h0M250.5 255.5h0M258.5 257.5h0M220.5 250.5h0M100.5 276.5h0M184.5 261.5h0M64.5 263.5h0M142.5 299.5h0M123.5 266.5h0M83.5 253.5h0M79.5 260.5h0M137.5 253.5h0M155.5 250.5h0M274.5 271.5h0M110.5 263.5h0M250.5 277.5h0M177.5 268.5h0M48.5 257.5h0M54.5 256.5h0M72.5 252.5h0M144.5 267.5h0M134.5 277.5h0M71.5 256.5h0M192.5 247.5h0M136.5 254.5h0M177.5 261.5h0M159.5 248.5h0M166.5 257.5h0M69.5 257.5h0M40.5 261.5h0M52.5 257.5h0M174.5 270.5h0M219.5 270.5h0M223.5 260.5h0M258.5 267.5h0M160.5 260.5h0M237.5 258.5h0M32.5 259.5h0M223.5 253.5h0M258.5 270.5h0M216.5 272.5h0M49.5 276.5h0M75.5 265.5h0M91.5 234.5h0M55.5 266.5h0M216.5 268.5h0M245.5 250.5h0M99.5 264.5h0M217.5 254.5h0M138.5 241.5h0M213.5 256.5h0M205.5 261.5h0M133.5 251.5h0M119.5 261.5h0M141.5 258.5h0M106.5 267.5h0M57.5 266.5h0M42.5 249.5h0M215.5 260.5h0M208.5 256.5h0M253.5 261.5h0M120.5 280.5h0M201.5 268.5h0M237.5 248.5h0M198.5 272.5h0M70.5 265.5h0M76.5 260.5h0M239.5 278.5h0M254.5 260.5h0M98.5 260.5h0M247.5 261.5h0M166.5 264.5h0M222.5 259.5h0M250.5 249.5h0M146.5 263.5h0M140.5 255.5h0M158.5 252.5h0M161.5 257.5h0M36.5 268.5h0M104.5 270.5h0M232.5 269.5h0M280.5 270.5h0M190.5 259.5h0M125.5 276.5h0M179.5 249.5h0M185.5 259.5h0M79.5 273.5h0M43.5 262.5h0M271.5 253.5h0M173.5 260.5h0M239.5 274.5h0M237.5 260.5h0M110.5 252.5h0M144.5 266.5h0M187.5 244.5h0M199.5 276.5h0M196.5 269.5h0M136.5 272.5h0M166.5 257.5h0M119.5 259.5h0M251.5 253.5h0M154.5 264.5h0M111.5 253.5h0M209.5 250.5h0M219.5 275.5h0M231.5 262.5h0M224.5 262.5h0M256.5 260.5h0M217.5 263.5h0M161.5 265.5h0M258.5 272.5h0M270.5 264.5h0M90.5 265.5h0M276.5 259.5h0M200.5 268.5h0M53.5 269.5h0M265.5 251.5h0M79.5 254.5h0M246.5 273.5h0M36.5 259.5h0M260.5 272.5h0M85.5 266.5h0M264.5 261.5h0M256.5 263.5h0M162.5 255.5h0M176.5 265.5h0M40.5 263.5h0M148.5 256.5h0M256.5 281.5h0M108.5 264.5h0M199.5 255.5h0M233.5 244.5h0M130.5 278.5h0M61.5 264.5h0M38.5 263.5h0M194.5 260.5h0M62.5 253.5h0M231.5 273.5h0M198.5 248.5h0M210.5 280.5h0M231.5 285.5h0M209.5 263.5h0M126.5 251.5h0M86.5 265.5h0M100.5 259.5h0M70.5 261.5h0M278.5 253.5h0M242.5 253.5h0M166.5 256.5h0M78.5 260.5h0M260.5 266.5h0M103.5 266.5h0M250.5 242.5h0M190.5 259.5h0M49.5 267.5h0M92.5 257.5h0M273.5 256.5h0M248.5 262.5h0M135.5 259.5h0M188.5 254.5h0M110.5 266.5h0M236.5 261.5h0M161.5 263.5h0M131.5 264.5h0M184.5 250.5h0M120.5 265.5h0M165.5 231.5h0M71.5 280.5h0M250.5 271.5h0M124.5 243.5h0M162.5 262.5h0M78.5 268.5h0M204.5 257.5h0M268.5 268.5h0M270.5 273.5h0M181.5 257.5h0M211.5 268.5h0M236.5 292.5h0M164.5 267.5h0M194.5 265.5h0M224.5 254.5h0M76.5 266.5h0M148.5 245.5h0M156.5 275.5h0M146.5 255.5h0M139.5 257.5h0M211.5 260.5h0M200.5 262.5h0M137.5 266.5h0M133.5 253.5h0M186.5 264.5h0M185.5 254.5h0M47.5 248.5h0M201.5 266.5h0M147.5 256.5h0M263.5 270.5h0M58.5 268.5h0M114.5 273.5h0M210.5 264.5h0M194.5 261.5h0M123.5 250.5h0M181.5 279.5h0M124.5 265.5h0M276.5 258.5h0M51.5 250.5h0M78.5 260.5h0M113.5 259.5h0M38.5 246.5h0M275.5 253.5h0M81.5 266.5h0M36.5 270.5h0M36.5 263.5h0M230.5 243.5h0M216.5 264.5h0M99.5 277.5h0M121.5 267.5h0M149.5 263.5h0M236.5 267.5h0M105.5 269.5h0M260.5 261.5h0M54.5 271.5h0M175.5 268.5h0M199.5 255.5h0M89.5 255.5h0M114.5 260.5h0M209.5 274.5h0M118.5 276.5h0M236.5 252.5h0M37.5 256.5h0M103.5 286.5h0M97.5 262.5h0M134.5 259.5h0M78.5 270.5h0M111.5 262.5h0M267.5 252.5h0M165.5 267.5h0M162.5 270.5h0M133.5 251.5h0M101.5 261.5h0M109.5 259.5h0M222.5 258.5h0M99.5 265.5h0M267.5 259.5h0M208.5 268.5h0M264.5 270.5h0M221.5 260.5h0M84.5 261.5h0M59.5 260.5h0M272.5 253.5h0M98.5 240.5h0M114.5 264.5h0M165.5 274.5h0M150.5 253.5h0M65.5 278.5h0M142.5 257.5h0M223.5 273.5h0M230.5 248.5h0M182.5 263.5h0M100.5 268.5h0M255.5 250.5h0M271.5 264.5h0M84.5 267.5h0M55.5 266.5h0M119.5 252.5h0M280.5 268.5h0M46.5 264.5h0M98.5 258.5h0M101.5 260.5h0M253.5 271.5h0M230.5 260.5h0M73.5 271.5h0M63.5 262.5h0M101.5 262.5h0M58.5 251.5h0M223.5 275.5h0M244.5 265.5h0M274.5 259.5h0M131.5 266.5h0M141.5 258.5h0M244.5 267.5h0M204.5 275.5h0M266.5 267.5h0M54.5 261.5h0M78.5 261.5h0M269.5 269.5h0M184.5 269.5h0M222.5 274.5h0M255.5 266.5h0M156.5 268.5h0M277.5 267.5h0M279.5 277.5h0M204.5 265.5h0M177.5 260.5h0M149.5 273.5h0M248.5 260.5h0M280.5 267.5h0M61.5 269.5h0M273.5 271.5h0M257.5 269.5h0M100.5 262.5h0M99.5 269.5h0M140.5 253.5h0M33.5 269.5h0M207.5 269.5h0M69.5 274.5h0M105.5 261.5h0M36.5 267.5h0M55.5 247.5h0M157.5 261.5h0M186.5 272.5h0M233.5 255.5h0M189.5 249.5h0M170.5 278.5h0M67.5 265.5h0M74.5 277.5h0M269.5 254.5h0M214.5 255.5h0M60.5 254.5h0M224.5 259.5h0M181.5 270.5h0M180.5 264.5h0M222.5 270.5h0M79.5 276.5h0M69.5 277.5h0M278.5 261.5h0M159.5 271.5h0M61.5 260.5h0M123.5 268.5h0M217.5 254.5h0M233.5 281.5h0M87.5 261.5h0M219.5 262.5h0M180.5 267.5h0M269.5 269.5h0M230.5 261.5h0M75.5 266.5h0M179.5 262.5h0M221.5 233.5h0M113.5 258.5h0M242.5 271.5h0M54.5 275.5h0M195.5 264.5h0M249.5 275.5h0M165.5 255.5h0M218.5 258.5h0M82.5 261.5h0M263.5 271.5h0M137.5 253.5h0M151.5 253.5h0M83.5 272.5h0M194.5 270.5h0M279.5 270.5h0M129.5 263.5h0M239.5 263.5h0M65.5 263.5h0M165.5 245.5h0M256.5 251.5h0M91.5 263.5h0M72.5 263.5h0M257.5 278.5h0M112.5 256.5h0M76.5 256.5h0M122.5 272.5h0M191.5 257.5h0M137.5 248.5h0M100.5 254.5h0M176.5 265.5h0M55.5 268.5h0M273.5 265.5h0M276.5 267.5h0M183.5 260.5h0M55.5 264.5h0M94.5 261.5h0M51.5 255.5h0M185.5 261.5h0M195.5 270.5h0M168.5 263.5h0M95.5 277.5h0M148.5 270.5h0M106.5 270.5h0M112.5 268.5h0M194.5 255.5h0M70.5 249.5h0M55.5 254.5h0M38.5 252.5h0M171.5 265.5h0M193.5 268.5h0M100.5 263.5h0M107.5 282.5h0M137.5 260.5h0M139.5 269.5h0M39.5 251.5h0M133.5 268.5h0M141.5 272.5h0M148.5 264.5h0M85.5 272.5h0M169.5 263.5h0M107.5 271.5h0M198.5 261.5h0M65.5 265.5h0M92.5 268.5h0M177.5 262.5h0M218.5 262.5h0M151.5 254.5h0M96.5 262.5h0M214.5 269.5h0M201.5 271.5h0M68.5 269.5h0M259.5 274.5h0M41.5 263.5h0M70.5 274.5h0M117.5 271.5h0M37.5 252.5h0M74.5 267.5h0M137.5 265.5h0M73.5 262.5h0M263.5 257.5h0M203.5 261.5h0M51.5 259.5h0M38.5 267.5h0M265.5 261.5h0M144.5 265.5h0M207.5 267.5h0M143.5 260.5h0M250.5 267.5h0M237.5 256.5h0M149.5 257.5h0M186.5 258.5h0M219.5 264.5h0M254.5 256.5h0M252.5 251.5h0M178.5 273.5h0M240.5 251.5h0M200.5 263.5h0M120.5 263.5h0M61.5 271.5h0M93.5 269.5h0M61.5 247.5h0M82.5 262.5h0M237.5 267.5h0M217.5 254.5h0M108.5 255.5h0M132.5 262.5h0M98.5 262.5h0M215.5 256.5h0M182.5 257.5h0M106.5 257.5h0M243.5 268.5h0M76.5 280.5h0M223.5 272.5h0M255.5 266.5h0M195.5 265.5h0M268.5 254.5h0M150.5 266.5h0M167.5 256.5h0M72.5 276.5h0M237.5 263.5h0M262.5 255.5h0M204.5 261.5h0M215.5 268.5h0M249.5 251.5h0M45.5 288.5h0M196.5 264.5h0M40.5 258.5h0M41.5 267.5h0M128.5 257.5h0M56.5 262.5h0M52.5 252.5h0M103.5 261.5h0M209.5 272.5h0M155.5 255.5h0M43.5 261.5h0M146.5 267.5h0M252.5 266.5h0M163.5 268.5h0M155.5 259.5h0M162.5 252.5h0M242.5 261.5h0M176.5 276.5h0M230.5 270.5h0M195.5 268.5h0M181.5 257.5h0M66.5 260.5h0M72.5 252.5h0M148.5 254.5h0M114.5 270.5h0M182.5 255.5h0M178.5 272.5h0M59.5 259.5h0M213.5 266.5h0M253.5 270.5h0M169.5 248.5h0M67.5 261.5h0M136.5 256.5h0M33.5 270.5h0M180.5 263.5h0M240.5 266.5h0M177.5 258.5h0M235.5 262.5h0M84.5 256.5h0M182.5 253.5h0M183.5 272.5h0M190.5 263.5h0M206.5 256.5h0M221.5 235.5h0M72.5 265.5h0M215.5 277.5h0M179.5 255.5h0M49.5 282.5h0M261.5 257.5h0M142.5 270.5h0M273.5 264.5h0M126.5 261.5h0M156.5 257.5h0M215.5 254.5h0M150.5 276.5h0M250.5 242.5h0M121.5 268.5h0M64.5 254.5h0M204.5 251.5h0M84.5 268.5h0M57.5 262.5h0M179.5 252.5h0M86.5 266.5h0M166.5 264.5h0M190.5 267.5h0M32.5 265.5h0M194.5 261.5h0M262.5 273.5h0M260.5 265.5h0M95.5 256.5h0M182.5 287.5h0M121.5 276.5h0M201.5 263.5h0M201.5 258.5h0M87.5 256.5h0M190.5 258.5h0M117.5 273.5h0M275.5 259.5h0M204.5 271.5h0M117.5 279.5h0M66.5 254.5h0M156.5 264.5h0M43.5 263.5h0M242.5 262.5h0M280.5 259.5h0M265.5 277.5h0M226.5 264.5h0M99.5 260.5h0M100.5 266.5h0M91.5 272.5h0M213.5 265.5h0M83.5 242.5h0M247.5 266.5h0M222.5 274.5h0M259.5 260.5h0M87.5 267.5h0M117.5 288.5h0M96.5 260.5h0M246.5 263.5h0M245.5 261.5h0M57.5 247.5h0M95.5 256.5h0M174.5 254.5h0M55.5 270.5h0M49.5 257.5h0M187.5 267.5h0M218.5 268.5h0M259.5 256.5h0M260.5 260.5h0M203.5 269.5h0M196.5 269.5h0M135.5 258.5h0M75.5 265.5h0M111.5 259.5h0M244.5 263.5h0M157.5 264.5h0M174.5 254.5h0M52.5 261.5h0M33.5 258.5h0M262.5 256.5h0M166.5 269.5h0M192.5 263.5h0M55.5 271.5h0M198.5 233.5h0M163.5 256.5h0M263.5 266.5h0M53.5 254.5h0M274.5 292.5h0M48.5 265.5h0M280.5 261.5h0M140.5 258.5h0M102.5 242.5h0M148.5 245.5h0M174.5 256.5h0M92.5 256.5h0M256.5 254.5h0M90.5 249.5h0M39.5 267.5h0M102.5 251.5h0M209.5 255.5h0M76.5 265.5h0M170.5 261.5h0M189.5 271.5h0M196.5 251.5h0M186.5 269.5h0M277.5 256.5h0M184.5 261.5h0M66.5 263.5h0M244.5 266.5h0M187.5 262.5h0M139.5 256.5h0M104.5 260.5h0M278.5 247.5h0M79.5 267.5h0M209.5 268.5h0M197.5 272.5h0M270.5 263.5h0M228.5 276.5h0M87.5 261.5h0M58.5 260.5h0M261.5 272.5h0M246.5 265.5h0M275.5 262.5h0M81.5 240.5h0M232.5 262.5h0M96.5 266.5h0M234.5 261.5h0M57.5 267.5h0M101.5 252.5h0M208.5 277.5h0M170.5 267.5h0M123.5 251.5h0M194.5 244.5h0M179.5 247.5h0M85.5 268.5h0M200.5 276.5h0M105.5 285.5h0M110.5 266.5h0M121.5 262.5h0M139.5 257.5h0M142.5 277.5h0M220.5 258.5h0M246.5 271.5h0M149.5 255.5h0M38.5 242.5h0M116.5 257.5h0M155.5 257.5h0M234.5 251.5h0M266.5 254.5h0M93.5 271.5h0M91.5 273.5h0M66.5 259.5h0M44.5 257.5h0M153.5 272.5h0M226.5 245.5h0M102.5 241.5h0M189.5 257.5h0M256.5 270.5h0M32.5 247.5h0M185.5 262.5h0M259.5 276.5h0M237.5 256.5h0M190.5 261.5h0M54.5 254.5h0M97.5 267.5h0M268.5 257.5h0M92.5 261.5h0M218.5 264.5h0M134.5 252.5h0M196.5 260.5h0M184.5 264.5h0M254.5 249.5h0M220.5 257.5h0M209.5 253.5h0M271.5 268.5h0M83.5 280.5h0M88.5 268.5h0M217.5 260.5h0M236.5 268.5h0M272.5 260.5h0M77.5 257.5h0M201.5 263.5h0M260.5 246.5h0M246.5 264.5h0M115.5 252.5h0M57.5 256.5h0M121.5 257.5h0M201.5 276.5h0M146.5 273.5h0M134.5 267.5h0M240.5 249.5h0M84.5 261.5h0M232.5 256.5h0M251.5 253.5h0M226.5 250.5h0M270.5 268.5h0M72.5 257.5h0M193.5 245.5h0M106.5 260.5h0M61.5 261.5h0M236.5 274.5h0M173.5 250.5h0M227.5 238.5h0M149.5 253.5h0M125.5 264.5h0M126.5 280.5h0M112.5 260.5h0M137.5 256.5h0M182.5 268.5h0M115.5 253.5h0M230.5 268.5h0M159.5 261.5h0M80.5 263.5h0M252.5 258.5h0M203.5 264.5h0M200.5 267.5h0M57.5 246.5h0M144.5 264.5h0M132.5 266.5h0M60.5 268.5h0M160.5 271.5h0M256.5 267.5h0M137.5 256.5h0M157.5 236.5h0M39.5 259.5h0M174.5 264.5h0M136.5 272.5h0M95.5 253.5h0M210.5 242.5h0M276.5 254.5h0M247.5 284.5h0M209.5 249.5h0M182.5 270.5h0M249.5 264.5h0M90.5 253.5h0M260.5 263.5h0M56.5 250.5h0M125.5 259.5h0M279.5 250.5h0M47.5 256.5h0M205.5 265.5h0M151.5 259.5h0M109.5 263.5h0M214.5 258.5h0M230.5 256.5h0M265.5 263.5h0M174.5 273.5h0M65.5 252.5h0M202.5 266.5h0M103.5 278.5h0M131.5 253.5h0M59.5 259.5h0M228.5 254.5h0M94.5 258.5h0M241.5 256.5h0M211.5 267.5h0M269.5 262.5h0M261.5 251.5h0M42.5 269.5h0M250.5 264.5h0M233.5 281.5h0M236.5 267.5h0M245.5 253.5h0M80.5 250.5h0M160.5 268.5h0M197.5 269.5h0M213.5 278.5h0M210.5 261.5h0M118.5 264.5h0M188.5 267.5h0M178.5 225.5h0M48.5 250.5h0M152.5 270.5h0M224.5 249.5h0M94.5 263.5h0M116.5 291.5h0M184.5 267.5h0M43.5 261.5h0M204.5 270.5h0M209.5 268.5h0M69.5 263.5h0M58.5 268.5h0M103.5 258.5h0M178.5 256.5h0M205.5 254.5h0M66.5 263.5h0M34.5 249.5h0M53.5 254.5h0M104.5 252.5h0M223.5 272.5h0M65.5 264.5h0M87.5 260.5h0M197.5 263.5h0M131.5 264.5h0M130.5 248.5h0M146.5 289.5h0M147.5 252.5h0M94.5 263.5h0M39.5 267.5h0M255.5 270.5h0M173.5 265.5h0M226.5 266.5h0M128.5 249.5h0M212.5 257.5h0M208.5 276.5h0M129.5 261.5h0M257.5 259.5h0M75.5 267.5h0M218.5 259.5h0M114.5 265.5h0M77.5 270.5h0M145.5 282.5h0M191.5 269.5h0M274.5 265.5h0M147.5 283.5h0M140.5 259.5h0M108.5 270.5h0M82.5 267.5h0M69.5 259.5h0M45.5 268.5h0M120.5 246.5h0M184.5 300.5h0M171.5 253.5h0M236.5 259.5h0M180.5 268.5h0M159.5 258.5h0M189.5 267.5h0M145.5 278.5h0M56.5 259.5h0M56.5 248.5h0M249.5 269.5h0M64.5 271.5h0M259.5 274.5h0M196.5 259.5h0M279.5 271.5h0M132.5 265.5h0M89.5 272.5h0M181.5 270.5h0M82.5 260.5h0M94.5 258.5h0M44.5 266.5h0M187.5 263.5h0M174.5 271.5h0M133.5 260.5h0M253.5 263.5h0M73.5 233.5h0M190.5 264.5h0M37.5 264.5h0M154.5 270.5h0M276.5 254.5h0M241.5 271.5h0M161.5 265.5h0M127.5 250.5h0M143.5 254.5h0M193.5 256.5h0M82.5 254.5h0M75.5 243.5h0M246.5 267.5h0M155.5 262.5h0M76.5 248.5h0M187.5 251.5h0M98.5 259.5h0M203.5 279.5h0M245.5 260.5h0M151.5 262.5h0M160.5 254.5h0M251.5 260.5h0M223.5 242.5h0M204.5 275.5h0M225.5 262.5h0M209.5 265.5h0M75.5 264.5h0M208.5 274.5h0M117.5 273.5h0M154.5 259.5h0M41.5 251.5h0M274.5 258.5h0M184.5 266.5h0M72.5 259.5h0M127.5 247.5h0M231.5 266.5h0M170.5 268.5h0M148.5 259.5h0M218.5 267.5h0M188.5 270.5h0M35.5 259.5h0M276.5 256.5h0M186.5 272.5h0M209.5 269.5h0M142.5 267.5h0M42.5 260.5h0M84.5 260.5h0M228.5 277.5h0M188.5 254.5h0M85.5 276.5h0M149.5 262.5h0M234.5 271.5h0M226.5 254.5h0M168.5 264.5h0M40.5 263.5h0M95.5 256.5h0M65.5 256.5h0M237.5 267.5h0M61.5 259.5h0M168.5 248.5h0M136.5 261.5h0M194.5 253.5h0M162.5 254.5h0M68.5 271.5h0M167.5 262.5h0M114.5 255.5h0M82.5 264.5h0M153.5 263.5h0M90.5 268.5h0M80.5 256.5h0M109.5 257.5h0M212.5 241.5h0M52.5 266.5h0M259.5 256.5h0M58.5 270.5h0M127.5 264.5h0M268.5 278.5h0M76.5 261.5h0M153.5 259.5h0M158.5 266.5h0M274.5 266.5h0M208.5 260.5h0M278.5 243.5h0M130.5 259.5h0M125.5 262.5h0M245.5 267.5h0M218.5 262.5h0M212.5 270.5h0M125.5 262.5h0M180.5 259.5h0M62.5 289.5h0M209.5 267.5h0M198.5 261.5h0M192.5 256.5h0M155.5 262.5h0M64.5 249.5h0M124.5 269.5h0M212.5 266.5h0M133.5 260.5h0M45.5 256.5h0M49.5 263.5h0M42.5 253.5h0M246.5 253.5h0M257.5 267.5h0M114.5 256.5h0M35.5 255.5h0M122.5 269.5h0M162.5 258.5h0M128.5 272.5h0M68.5 266.5h0M248.5 261.5h0M240.5 261.5h0M273.5 258.5h0M171.5 258.5h0M215.5 266.5h0M44.5 258.5h0M256.5 240.5h0M219.5 266.5h0M97.5 256.5h0M204.5 268.5h0M175.5 263.5h0M206.5 256.5h0M126.5 271.5h0M169.5 267.5h0M117.5 255.5h0M75.5 254.5h0M45.5 245.5h0M239.5 260.5h0M43.5 271.5h0M63.5 271.5h0M148.5 269.5h0M151.5 267.5h0M121.5 267.5h0M222.5 256.5h0M275.5 242.5h0M68.5 264.5h0M147.5 266.5h0M277.5 262.5h0M66.5 262.5h0M156.5 262.5h0M140.5 267.5h0M174.5 266.5h0M271.5 260.5h0M153.5 272.5h0M256.5 263.5h0M223.5 271.5h0M131.5 255.5h0M172.5 282.5h0M267.5 270.5h0M212.5 269.5h0M167.5 228.5h0M116.5 263.5h0M222.5 252.5h0M109.5 263.5h0M216.5 271.5h0M166.5 279.5h0M81.5 270.5h0M89.5 241.5h0M169.5 266.5h0M251.5 260.5h0M232.5 264.5h0M204.5 259.5h0M149.5 250.5h0M249.5 269.5h0M140.5 252.5h0M96.5 251.5h0M75.5 263.5h0M278.5 271.5h0M189.5 259.5h0M147.5 265.5h0M188.5 267.5h0M275.5 268.5h0M81.5 250.5h0M178.5 260.5h0M37.5 261.5h0M183.5 259.5h0M145.5 275.5h0M163.5 257.5h0M65.5 261.5h0M152.5 263.5h0M102.5 250.5h0M137.5 253.5h0M87.5 255.5h0M44.5 261.5h0M178.5 257.5h0M115.5 257.5h0M124.5 265.5h0M106.5 257.5h0M253.5 279.5h0M46.5 247.5h0M160.5 253.5h0M174.5 272.5h0M209.5 260.5h0M232.5 273.5h0M47.5 266.5h0M191.5 259.5h0M52.5 263.5h0M62.5 267.5h0M47.5 267.5h0M245.5 268.5h0M271.5 263.5h0M275.5 255.5h0M98.5 260.5h0M80.5 259.5h0M152.5 261.5h0M275.5 265.5h0M275.5 263.5h0M81.5 257.5h0M63.5 257.5h0M150.5 261.5h0M165.5 267.5h0M80.5 260.5h0M207.5 257.5h0M164.5 255.5h0M147.5 270.5h0M238.5 268.5h0M83.5 265.5h0M50.5 267.5h0M234.5 264.5h0M117.5 278.5h0M241.5 255.5h0M248.5 271.5h0M181.5 264.5h0M42.5 264.5h0M163.5 259.5h0M109.5 240.5h0M165.5 263.5h0M192.5 271.5h0M253.5 260.5h0M271.5 251.5h0M134.5 261.5h0M249.5 285.5h0M58.5 260.5h0M211.5 248.5h0M55.5 257.5h0M157.5 255.5h0M125.5 263.5h0M137.5 266.5h0M168.5 265.5h0M280.5 261.5h0M62.5 269.5h0M234.5 282.5h0M217.5 264.5h0M273.5 250.5h0M272.5 259.5h0M119.5 262.5h0M61.5 258.5h0M261.5 265.5h0M268.5 267.5h0M280.5 267.5h0M45.5 258.5h0M47.5 250.5h0M229.5 240.5h0M61.5 275.5h0M90.5 278.5h0M266.5 280.5h0M157.5 256.5h0M205.5 253.5h0M137.5 262.5h0M238.5 262.5h0M114.5 275.5h0M114.5 261.5h0M110.5 266.5h0M64.5 265.5h0M103.5 261.5h0M47.5 263.5h0M67.5 265.5h0M85.5 268.5h0M229.5 263.5h0M81.5 269.5h0M93.5 259.5h0M105.5 246.5h0M134.5 263.5h0M278.5 276.5h0M207.5 266.5h0M180.5 275.5h0M110.5 262.5h0M44.5 258.5h0M242.5 273.5h0M244.5 249.5h0M166.5 252.5h0M48.5 255.5h0M237.5 252.5h0M37.5 272.5h0M185.5 270.5h0M210.5 265.5h0M150.5 265.5h0M54.5 274.5h0M221.5 267.5h0M186.5 267.5h0M223.5 256.5h0M242.5 266.5h0M32.5 261.5h0M46.5 268.5h0M117.5 266.5h0M45.5 270.5h0M123.5 262.5h0M220.5 264.5h0M191.5 263.5h0M77.5 249.5h0M228.5 271.5h0M249.5 269.5h0M235.5 230.5h0M40.5 254.5h0M235.5 256.5h0M235.5 252.5h0M34.5 258.5h0M198.5 273.5h0M242.5 268.5h0M200.5 272.5h0M163.5 256.5h0M164.5 257.5h0M55.5 256.5h0M264.5 276.5h0M249.5 261.5h0M108.5 259.5h0M46.5 270.5h0M143.5 259.5h0M54.5 247.5h0M173.5 261.5h0M208.5 259.5h0M80.5 251.5h0M161.5 263.5h0M126.5 257.5h0M249.5 261.5h0M219.5 265.5h0M182.5 267.5h0M90.5 257.5h0M139.5 248.5h0M101.5 279.5h0M200.5 270.5h0M276.5 260.5h0M241.5 260.5h0M238.5 284.5h0M37.5 260.5h0M145.5 256.5h0M106.5 258.5h0M144.5 261.5h0M123.5 269.5h0M209.5 256.5h0M92.5 261.5h0M264.5 257.5h0M54.5 276.5h0M200.5 273.5h0M124.5 269.5h0M203.5 272.5h0M138.5 257.5h0M61.5 265.5h0M230.5 251.5h0M247.5 258.5h0M104.5 263.5h0M223.5 252.5h0M259.5 277.5h0M219.5 241.5h0M156.5 260.5h0M132.5 277.5h0M275.5 273.5h0M112.5 258.5h0M209.5 240.5h0M89.5 269.5h0M213.5 251.5h0M130.5 242.5h0M197.5 271.5h0M264.5 264.5h0M48.5 262.5h0M256.5 269.5h0M104.5 269.5h0M64.5 253.5h0M242.5 262.5h0M256.5 248.5h0M184.5 255.5h0M276.5 261.5h0M153.5 269.5h0M245.5 268.5h0M48.5 259.5h0M278.5 264.5h0M196.5 266.5h0M35.5 279.5h0M261.5 238.5h0M259.5 275.5h0M142.5 249.5h0M202.5 253.5h0M133.5 263.5h0M173.5 266.5h0M184.5 262.5h0M183.5 267.5h0M48.5 264.5h0M259.5 258.5h0M123.5 260.5h0M129.5 267.5h0M269.5 253.5h0M66.5 284.5h0M168.5 274.5h0M152.5 286.5h0M190.5 258.5h0M106.5 269.5h0M149.5 269.5h0M131.5 253.5h0M218.5 255.5h0M158.5 256.5h0M149.5 262.5h0M64.5 267.5h0M185.5 270.5h0M195.5 276.5h0M72.5 255.5h0M131.5 258.5h0M172.5 267.5h0M192.5 274.5h0M252.5 251.5h0M44.5 284.5h0M199.5 265.5h0M107.5 255.5h0M91.5 236.5h0M225.5 260.5h0M130.5 262.5h0M56.5 288.5h0M121.5 275.5h0M264.5 261.5h0M185.5 257.5h0M144.5 272.5h0M130.5 268.5h0M247.5 280.5h0M172.5 246.5h0M187.5 267.5h0M160.5 267.5h0M164.5 263.5h0M61.5 263.5h0M144.5 270.5h0M95.5 260.5h0M173.5 261.5h0M157.5 269.5h0M95.5 265.5h0M207.5 261.5h0M271.5 258.5h0M163.5 263.5h0M248.5 267.5h0M158.5 260.5h0M270.5 263.5h0M271.5 276.5h0M150.5 252.5h0M242.5 269.5h0M153.5 262.5h0M155.5 254.5h0M65.5 264.5h0M133.5 271.5h0M184.5 259.5h0M178.5 257.5h0M264.5 258.5h0M145.5 256.5h0M131.5 280.5h0M131.5 265.5h0M197.5 260.5h0M199.5 226.5h0M142.5 249.5h0M180.5 269.5h0M135.5 271.5h0M135.5 255.5h0M192.5 261.5h0M63.5 228.5h0M182.5 254.5h0M83.5 249.5h0M36.5 244.5h0M110.5 239.5h0M157.5 270.5h0M163.5 266.5h0M63.5 263.5h0M265.5 258.5h0M123.5 267.5h0M153.5 267.5h0M217.5 253.5h0M95.5 257.5h0M207.5 267.5h0M114.5 264.5h0M101.5 261.5h0M250.5 265.5h0M156.5 259.5h0M109.5 290.5h0M57.5 263.5h0M102.5 254.5h0M251.5 277.5h0M255.5 251.5h0M144.5 256.5h0M276.5 261.5h0M229.5 262.5h0M241.5 260.5h0M247.5 253.5h0M246.5 265.5h0M52.5 263.5h0M70.5 244.5h0M50.5 260.5h0M236.5 249.5h0M63.5 257.5h0M145.5 254.5h0M188.5 235.5h0M168.5 264.5h0M148.5 259.5h0M146.5 266.5h0M83.5 260.5h0M102.5 262.5h0M208.5 255.5h0M65.5 266.5h0M68.5 260.5h0M48.5 262.5h0M262.5 258.5h0M153.5 258.5h0M279.5 257.5h0M132.5 262.5h0M75.5 263.5h0M173.5 262.5h0M114.5 271.5h0M216.5 273.5h0M147.5 271.5h0M47.5 271.5h0M278.5 266.5h0M54.5 247.5h0M237.5 261.5h0M280.5 268.5h0M118.5 258.5h0M205.5 253.5h0M88.5 261.5h0M236.5 246.5h0M99.5 249.5h0M160.5 261.5h0M271.5 264.5h0M36.5 271.5h0M103.5 265.5h0M254.5 259.5h0M232.5 268.5h0M155.5 247.5h0M107.5 274.5h0M182.5 248.5h0M114.5 262.5h0M156.5 241.5h0M169.5 252.5h0M127.5 264.5h0M243.5 268.5h0M66.5 268.5h0M194.5 292.5h0M110.5 258.5h0M182.5 272.5h0M84.5 268.5h0M113.5 253.5h0M151.5 253.5h0M72.5 255.5h0M214.5 265.5h0M215.5 258.5h0M219.5 259.5h0M72.5 260.5h0M176.5 242.5h0M137.5 252.5h0M127.5 275.5h0M124.5 236.5h0M74.5 250.5h0M215.5 263.5h0M60.5 250.5h0M164.5 269.5h0M201.5 265.5h0M238.5 263.5h0M275.5 255.5h0M74.5 263.5h0M148.5 269.5h0M266.5 266.5h0M57.5 256.5h0M151.5 256.5h0M209.5 260.5h0M105.5 265.5h0M215.5 254.5h0M247.5 264.5h0M273.5 262.5h0M100.5 261.5h0M168.5 251.5h0M256.5 263.5h0M271.5 265.5h0M194.5 267.5h0M242.5 262.5h0M267.5 252.5h0M137.5 256.5h0M245.5 260.5h0M123.5 254.5h0M161.5 265.5h0M59.5 264.5h0M84.5 249.5h0M169.5 260.5h0M90.5 291.5h0M202.5 250.5h0M198.5 253.5h0M243.5 266.5h0M180.5 263.5h0M187.5 257.5h0M170.5 254.5h0M201.5 263.5h0M260.5 281.5h0M156.5 260.5h0M114.5 252.5h0M107.5 257.5h0M92.5 268.5h0M235.5 261.5h0M100.5 265.5h0M247.5 292.5h0M91.5 269.5h0M110.5 265.5h0M265.5 265.5h0M232.5 261.5h0M42.5 248.5h0M124.5 261.5h0M80.5 267.5h0M270.5 266.5h0M99.5 257.5h0M247.5 262.5h0M270.5 266.5h0M203.5 258.5h0M111.5 259.5h0M153.5 255.5h0M123.5 264.5h0M217.5 259.5h0M148.5 272.5h0M243.5 254.5h0M267.5 254.5h0M166.5 275.5h0M84.5 271.5h0M91.5 268.5h0M213.5 255.5h0M47.5 266.5h0M39.5 254.5h0M229.5 273.5h0M270.5 283.5h0M63.5 276.5h0M160.5 261.5h0M75.5 259.5h0M41.5 255.5h0M164.5 254.5h0M54.5 260.5h0M109.5 264.5h0M246.5 247.5h0M100.5 259.5h0M157.5 253.5h0M277.5 251.5h0M197.5 245.5h0M62.5 267.5h0M116.5 280.5h0M39.5 253.5h0M116.5 261.5h0M124.5 258.5h0M92.5 260.5h0M257.5 255.5h0M98.5 262.5h0M74.5 270.5h0M76.5 259.5h0M259.5 264.5h0M77.5 260.5h0M237.5 260.5h0M203.5 272.5h0M105.5 260.5h0M275.5 265.5h0M151.5 276.5h0M69.5 255.5h0M281.5 277.5h0M160.5 257.5h0M172.5 260.5h0M117.5 265.5h0M175.5 261.5h0M240.5 253.5h0M101.5 249.5h0M73.5 257.5h0M125.5 274.5h0M124.5 265.5h0M226.5 261.5h0M244.5 250.5h0M49.5 257.5h0M44.5 297.5h0M193.5 271.5h0M241.5 258.5h0M165.5 268.5h0M125.5 277.5h0M129.5 256.5h0M188.5 256.5h0M143.5 268.5h0M269.5 253.5h0M123.5 263.5h0M72.5 270.5h0M202.5 270.5h0M193.5 258.5h0M58.5 266.5h0M76.5 254.5h0M83.5 259.5h0M82.5 271.5h0M84.5 262.5h0M97.5 262.5h0M50.5 261.5h0M183.5 272.5h0M154.5 252.5h0M52.5 268.5h0M99.5 259.5h0M85.5 261.5h0M279.5 266.5h0M160.5 264.5h0M206.5 266.5h0M149.5 271.5h0M204.5 264.5h0M119.5 279.5h0M280.5 272.5h0M136.5 266.5h0M117.5 293.5h0M274.5 245.5h0M121.5 269.5h0M134.5 248.5h0M91.5 266.5h0M52.5 270.5h0M144.5 238.5h0M271.5 251.5h0M207.5 264.5h0M180.5 271.5h0M201.5 256.5h0M136.5 253.5h0M151.5 261.5h0M93.5 274.5h0M256.5 243.5h0M116.5 260.5h0M129.5 255.5h0M265.5 275.5h0M116.5 270.5h0M237.5 258.5h0M150.5 259.5h0M144.5 255.5h0M193.5 272.5h0M45.5 259.5h0M129.5 259.5h0M103.5 254.5h0M138.5 259.5h0M186.5 273.5h0M53.5 240.5h0M77.5 277.5h0M257.5 270.5h0M154.5 261.5h0M193.5 264.5h0M92.5 269.5h0M37.5 289.5h0M46.5 267.5h0M253.5 260.5h0M121.5 253.5h0M235.5 252.5h0M117.5 257.5h0M109.5 245.5h0M264.5 264.5h0M125.5 253.5h0M75.5 263.5h0M201.5 262.5h0M121.5 263.5h0M245.5 266.5h0M277.5 273.5h0M39.5 268.5h0M91.5 260.5h0M214.5 260.5h0M215.5 256.5h0M84.5 257.5h0M135.5 267.5h0M161.5 267.5h0M140.5 257.5h0M175.5 253.5h0M50.5 279.5h0M211.5 250.5h0M163.5 260.5h0M192.5 260.5h0M150.5 252.5h0M202.5 268.5h0M274.5 259.5h0M62.5 257.5h0M33.5 248.5h0M215.5 268.5h0M72.5 246.5h0M99.5 270.5h0M122.5 249.5h0M215.5 263.5h0M76.5 276.5h0M116.5 250.5h0M105.5 269.5h0M263.5 266.5h0M279.5 265.5h0M71.5 264.5h0M121.5 271.5h0M89.5 271.5h0M175.5 265.5h0M162.5 267.5h0M109.5 276.5h0M199.5 262.5h0M177.5 262.5h0M130.5 264.5h0M149.5 261.5h0M78.5 258.5h0M202.5 262.5h0M198.5 265.5h0M279.5 286.5h0M214.5 254.5h0M130.5 258.5h0M254.5 268.5h0M49.5 257.5h0M155.5 266.5h0M155.5 273.5h0M227.5 268.5h0M135.5 270.5h0M37.5 256.5h0M186.5 265.5h0M38.5 249.5h0M239.5 266.5h0M134.5 261.5h0M153.5 270.5h0M57.5 250.5h0M144.5 262.5h0M83.5 266.5h0M56.5 252.5h0M233.5 265.5h0M208.5 266.5h0M143.5 266.5h0M112.5 271.5h0M32.5 267.5h0M68.5 247.5h0M222.5 270.5h0M202.5 258.5h0M275.5 267.5h0M274.5 263.5h0M113.5 261.5h0M78.5 249.5h0M252.5 244.5h0M189.5 261.5h0M271.5 265.5h0M248.5 263.5h0M76.5 270.5h0M120.5 255.5h0M267.5 256.5h0M51.5 262.5h0M119.5 265.5h0M243.5 273.5h0M200.5 246.5h0M66.5 261.5h0M124.5 252.5h0M183.5 251.5h0M170.5 259.5h0M95.5 254.5h0M86.5 265.5h0M158.5 261.5h0M130.5 263.5h0M124.5 233.5h0M39.5 293.5h0M76.5 245.5h0M171.5 263.5h0M72.5 267.5h0M138.5 257.5h0M118.5 272.5h0M74.5 248.5h0M193.5 256.5h0M41.5 267.5h0M257.5 265.5h0M43.5 275.5h0M218.5 264.5h0M271.5 260.5h0M91.5 253.5h0M46.5 267.5h0M249.5 265.5h0M114.5 260.5h0M166.5 263.5h0M169.5 250.5h0M219.5 273.5h0M111.5 266.5h0M36.5 256.5h0M63.5 260.5h0M115.5 263.5h0M86.5 235.5h0M64.5 273.5h0M200.5 254.5h0M74.5 274.5h0M177.5 267.5h0M183.5 269.5h0M51.5 257.5h0M89.5 269.5h0M180.5 267.5h0M170.5 257.5h0M258.5 266.5h0M252.5 255.5h0M244.5 249.5h0M237.5 270.5h0M247.5 257.5h0M216.5 263.5h0M273.5 259.5h0M275.5 263.5h0M250.5 281.5h0M150.5 261.5h0M201.5 272.5h0M273.5 268.5h0M202.5 256.5h0M164.5 245.5h0M228.5 252.5h0M229.5 284.5h0M201.5 255.5h0M123.5 259.5h0M159.5 251.5h0M93.5 255.5h0M199.5 263.5h0M114.5 246.5h0M276.5 259.5h0M192.5 279.5h0M136.5 258.5h0M73.5 267.5h0M238.5 281.5h0M171.5 256.5h0M199.5 253.5h0M109.5 264.5h0M152.5 268.5h0M250.5 264.5h0M90.5 259.5h0M181.5 272.5h0M123.5 242.5h0M115.5 266.5h0M84.5 258.5h0M128.5 283.5h0M279.5 264.5h0M41.5 260.5h0M228.5 265.5h0M105.5 258.5h0M73.5 272.5h0M221.5 276.5h0M198.5 286.5h0M264.5 263.5h0M106.5 275.5h0M134.5 254.5h0M115.5 274.5h0M237.5 258.5h0M140.5 254.5h0M196.5 259.5h0M190.5 283.5h0M132.5 273.5h0M241.5 253.5h0M255.5 267.5h0M230.5 255.5h0M104.5 267.5h0M264.5 273.5h0M97.5 258.5h0M196.5 256.5h0M231.5 259.5h0M42.5 267.5h0M89.5 241.5h0M204.5 248.5h0M123.5 232.5h0M169.5 289.5h0M99.5 255.5h0M164.5 250.5h0M120.5 272.5h0M152.5 268.5h0M72.5 255.5h0M82.5 266.5h0M125.5 281.5h0M249.5 255.5h0M46.5 259.5h0M212.5 261.5h0M222.5 260.5h0M97.5 263.5h0M61.5 259.5h0M238.5 271.5h0M161.5 270.5h0M118.5 267.5h0M103.5 266.5h0M176.5 272.5h0M100.5 263.5h0M141.5 256.5h0M199.5 260.5h0M241.5 262.5h0M129.5 264.5h0M32.5 260.5h0M190.5 259.5h0M245.5 278.5h0M191.5 268.5h0M110.5 281.5h0M109.5 262.5h0M39.5 262.5h0M199.5 274.5h0M203.5 273.5h0M51.5 265.5h0M277.5 266.5h0M87.5 269.5h0M163.5 254.5h0M39.5 265.5h0M87.5 255.5h0M190.5 262.5h0M110.5 260.5h0M200.5 260.5h0M229.5 268.5h0M168.5 260.5h0M209.5 269.5h0M166.5 261.5h0M66.5 279.5h0M87.5 275.5h0M277.5 258.5h0M270.5 262.5h0M104.5 263.5h0M173.5 276.5h0M93.5 256.5h0M50.5 261.5h0M227.5 261.5h0M246.5 241.5h0M262.5 256.5h0M186.5 260.5h0M130.5 280.5h0M253.5 267.5h0M58.5 252.5h0M56.5 263.5h0M221.5 256.5h0M198.5 263.5h0M182.5 268.5h0M240.5 285.5h0M132.5 270.5h0M109.5 269.5h0M94.5 252.5h0M126.5 278.5h0M136.5 262.5h0M218.5 231.5h0M183.5 269.5h0M234.5 256.5h0M106.5 251.5h0M89.5 260.5h0M256.5 254.5h0M174.5 264.5h0M118.5 259.5h0M44.5 254.5h0M181.5 267.5h0M89.5 252.5h0M170.5 259.5h0M279.5 262.5h0M98.5 266.5h0M138.5 259.5h0M120.5 250.5h0M124.5 267.5h0M234.5 277.5h0M243.5 270.5h0M247.5 252.5h0M103.5 263.5h0M260.5 246.5h0M176.5 279.5h0M192.5 254.5h0M217.5 257.5h0M56.5 262.5h0M257.5 250.5h0M261.5 251.5h0M141.5 267.5h0M55.5 262.5h0M54.5 265.5h0M162.5 268.5h0M63.5 257.5h0M202.5 247.5h0M87.5 259.5h0M255.5 266.5h0M115.5 251.5h0M50.5 273.5h0M206.5 243.5h0M157.5 268.5h0M38.5 261.5h0M173.5 255.5h0M63.5 258.5h0M153.5 255.5h0M242.5 275.5h0M220.5 264.5h0M240.5 261.5h0M213.5 267.5h0M130.5 234.5h0M110.5 269.5h0M104.5 297.5h0M220.5 262.5h0M230.5 265.5h0M126.5 249.5h0M100.5 262.5h0M208.5 265.5h0M144.5 259.5h0M95.5 264.5h0M259.5 261.5h0M143.5 261.5h0M146.5 269.5h0M87.5 261.5h0M61.5 261.5h0M265.5 276.5h0M267.5 259.5h0M64.5 284.5h0M218.5 256.5h0M213.5 256.5h0M231.5 249.5h0M225.5 258.5h0M252.5 260.5h0M279.5 263.5h0M184.5 256.5h0M241.5 256.5h0M222.5 266.5h0M83.5 276.5h0M107.5 258.5h0M44.5 255.5h0M202.5 265.5h0M80.5 241.5h0M120.5 256.5h0M67.5 263.5h0M193.5 255.5h0M118.5 266.5h0M82.5 264.5h0M167.5 259.5h0M230.5 262.5h0M275.5 265.5h0M232.5 269.5h0M107.5 273.5h0M246.5 262.5h0M181.5 277.5h0M124.5 263.5h0M258.5 266.5h0M83.5 255.5h0M63.5 246.5h0M223.5 268.5h0M118.5 259.5h0M83.5 257.5h0M187.5 269.5h0M137.5 261.5h0M212.5 263.5h0M78.5 270.5h0M115.5 257.5h0M231.5 279.5h0M101.5 250.5h0M236.5 245.5h0M213.5 251.5h0M125.5 272.5h0M34.5 288.5h0M158.5 270.5h0M221.5 250.5h0M273.5 245.5h0M97.5 251.5h0M235.5 262.5h0M120.5 273.5h0M72.5 266.5h0M46.5 264.5h0M272.5 274.5h0M205.5 265.5h0M45.5 270.5h0M239.5 262.5h0M153.5 257.5h0M184.5 272.5h0M53.5 264.5h0M96.5 266.5h0M156.5 272.5h0M114.5 284.5h0M230.5 253.5h0M258.5 269.5h0M202.5 269.5h0M263.5 257.5h0M140.5 272.5h0M76.5 256.5h0M144.5 258.5h0M169.5 275.5h0M255.5 255.5h0M236.5 274.5h0M227.5 265.5h0M129.5 266.5h0M53.5 275.5h0M83.5 259.5h0M105.5 248.5h0M125.5 281.5h0M107.5 266.5h0M160.5 276.5h0M196.5 268.5h0M85.5 256.5h0M224.5 265.5h0M58.5 262.5h0M66.5 268.5h0M41.5 267.5h0M280.5 287.5h0M179.5 260.5h0M84.5 261.5h0M41.5 276.5h0M161.5 253.5h0M244.5 260.5h0M60.5 258.5h0M244.5 266.5h0M177.5 269.5h0M189.5 264.5h0M188.5 259.5h0M84.5 253.5h0M98.5 274.5h0M272.5 270.5h0M217.5 270.5h0M207.5 251.5h0M228.5 262.5h0M237.5 266.5h0M134.5 266.5h0M277.5 266.5h0M240.5 258.5h0M35.5 269.5h0M84.5 280.5h0M87.5 255.5h0M42.5 270.5h0M196.5 261.5h0M51.5 265.5h0M82.5 259.5h0M242.5 265.5h0M180.5 265.5h0M203.5 260.5h0M75.5 259.5h0M178.5 265.5h0M170.5 283.5h0M258.5 269.5h0M226.5 267.5h0M127.5 286.5h0M227.5 267.5h0M263.5 268.5h0M228.5 265.5h0M56.5 263.5h0M274.5 270.5h0M35.5 260.5h0M138.5 262.5h0M78.5 249.5h0M211.5 264.5h0M116.5 262.5h0M231.5 266.5h0M271.5 272.5h0M116.5 259.5h0M226.5 253.5h0M113.5 259.5h0M140.5 258.5h0M169.5 265.5h0M100.5 263.5h0M118.5 249.5h0M85.5 265.5h0M274.5 260.5h0M279.5 254.5h0M151.5 254.5h0M80.5 272.5h0M55.5 273.5h0M50.5 263.5h0M45.5 261.5h0M164.5 268.5h0M155.5 277.5h0M173.5 277.5h0M83.5 270.5h0M167.5 271.5h0M250.5 255.5h0M172.5 248.5h0M186.5 241.5h0M127.5 241.5h0M255.5 259.5h0M251.5 267.5h0M199.5 262.5h0M60.5 259.5h0M34.5 270.5h0M235.5 262.5h0M266.5 255.5h0M115.5 249.5h0M89.5 277.5h0M208.5 261.5h0M72.5 254.5h0M100.5 265.5h0M90.5 264.5h0M205.5 241.5h0M247.5 267.5h0M135.5 255.5h0M254.5 262.5h0M149.5 267.5h0M271.5 270.5h0M232.5 283.5h0M171.5 242.5h0M79.5 258.5h0M275.5 258.5h0M77.5 259.5h0M231.5 261.5h0M246.5 270.5h0M86.5 255.5h0M42.5 256.5h0M200.5 273.5h0M218.5 259.5h0M172.5 262.5h0M238.5 266.5h0M163.5 261.5h0M136.5 261.5h0M63.5 261.5h0M84.5 270.5h0M242.5 274.5h0M178.5 259.5h0M95.5 255.5h0M146.5 244.5h0M90.5 266.5h0M32.5 271.5h0M154.5 266.5h0M127.5 264.5h0M61.5 260.5h0M205.5 275.5h0M212.5 272.5h0M34.5 258.5h0M159.5 262.5h0M115.5 278.5h0M130.5 250.5h0M250.5 249.5h0M37.5 255.5h0M127.5 265.5h0M198.5 271.5h0M116.5 266.5h0M173.5 261.5h0M100.5 288.5h0M281.5 262.5h0M79.5 270.5h0M137.5 273.5h0M92.5 267.5h0M271.5 282.5h0M275.5 256.5h0M85.5 258.5h0M264.5 267.5h0M241.5 256.5h0M227.5 252.5h0M156.5 256.5h0M208.5 266.5h0M166.5 258.5h0M97.5 262.5h0M225.5 256.5h0M81.5 263.5h0M266.5 267.5h0M88.5 272.5h0M87.5 263.5h0M195.5 258.5h0M180.5 273.5h0M39.5 249.5h0" stroke="#727272" stroke-width="1" stroke-linecap="square" fill="none"/>
<path d="M32.3 262.5 L32.9 262.5 L33.5 262.5 L34.2 262.5 L34.8 262.5 L35.4 262.5 L36 262.5 L36.7 262.5 L37.3 262.5 L37.9 262.5 L38.5 262.5 L39.1 262.5 L39.8 262.5 L40.4 262.5 L41 262.5 L41.6 262.5 L42.3 262.5 L42.9 262.5 L43.5 262.5 L44.1 262.5 L44.7 262.5 L45.4 262.5 L46 262.5 L46.6 262.5 L47.2 262.5 L47.9 262.5 L48.5 262.5 L49.1 262.5 L49.7 262.5 L50.4 262.5 L51 262.5 L51.6 262.5 L52.2 262.5 L52.8 262.5 L53.5 262.5 L54.1 262.5 L54.7 262.5 L55.3 262.5 L56 262.5 L56.6 262.5 L57.2 262.5 L57.8 262.5 L58.4 262.5 L59.1 262.5 L59.7 262.5 L60.3 262.5 L60.9 262.5 L61.6 262.5 L62.2 262.5 L62.8 262.5 L63.4 262.5 L64 262.5 L64.7 262.5 L65.3 262.5 L65.9 262.5 L66.5 262.5 L67.2 262.5 L67.8 262.5 L68.4 262.5 L69 262.5 L69.7 262.5 L70.3 262.5 L70.9 262.5 L71.5 262.5 L72.1 262.5 L72.8 262.5 L73.4 262.5 L74 262.5 L74.6 262.5 L75.3 262.5 L75.9 262.5 L76.5 262.5 L77.1 262.5 L77.7 262.5 L78.4 262.5 L79 262.5 L79.6 262.5 L80.2 262.5 L80.9 262.5 L81.5 262.5 L82.1 262.5 L82.7 262.5 L83.3 262.5 L84 262.5 L84.6 262.5 L85.2 262.5 L85.8 262.5 L86.5 262.5 L87.1 262.5 L87.7 262.5 L88.3 262.5 L88.9 262.5 L89.6 262.5 L90.2 262.5 L90.8 262.5 L91.4 262.5 L92.1 262.5 L92.7 262.5 L93.3 262.5 L93.9 262.5 L94.5 262.5 L95.2 262.5 L95.8 262.5 L96.4 262.5 L97 262.5 L97.7 262.5 L98.3 262.5 L98.9 262.5 L99.5 262.5 L100.2 262.5 L100.8 262.5 L101.4 262.5 L102 262.5 L102.6 262.5 L103.3 262.5 L103.9 262.5 L104.5 262.5 L105.1 262.5 L105.8 262.5 L106.4 262.5 L107 262.5 L107.6 262.5 L108.2 262.5 L108.9 262.5 L109.5 262.5 L110.1 262.5 L110.7 262.5 L111.4 262.5 L112 262.5 L112.6 262.5 L113.2 262.5 L113.8 262.5 L114.5 262.5 L115.1 262.5 L115.7 262.5 L116.3 262.5 L117 262.5 L117.6 262.5 L118.2 262.5 L118.8 262.5 L119.5 262.5 L120.1 262.5 L120.7 262.5 L121.3 262.5 L121.9 262.5 L122.6 262.5 L123.2 262.5 L123.8 262.5 L124.4 262.5 L125.1 262.5 L125.7 262.5 L126.3 262.5 L126.9 262.5 L127.5 262.5 L128.2 262.5 L128.8 262.5 L129.4 262.5 L130 262.5 L130.7 262.5 L131.3 262.5 L131.9 262.5 L132.5 262.5 L133.1 262.5 L133.8 262.5 L134.4 262.5 L135 262.5 L135.6 262.5 L136.3 262.5 L136.9 262.5 L137.5 262.5 L138.1 262.5 L138.7 262.5 L139.4 262.5 L140 262.5 L140.6 262.5 L141.2 262.5 L141.9 262.5 L142.5 262.5 L143.1 262.5 L143.7 262.5 L144.3 262.5 L145 262.5 L145.6 262.5 L146.2 262.5 L146.8 262.5 L147.5 262.5 L148.1 262.5 L148.7 262.5 L149.3 262.5 L150 262.5 L150.6 262.5 L151.2 262.5 L151.8 262.5 L152.4 262.5 L153.1 262.5 L153.7 262.5 L154.3 262.5 L154.9 262.5 L155.6 262.5 L156.2 262.5 L156.8 262.5 L157.4 262.5 L158 262.5 L158.7 262.5 L159.3 262.5 L159.9 262.5 L160.5 262.5 L161.2 262.5 L161.8 262.5 L162.4 262.5 L163 262.5 L163.6 262.5 L164.3 262.5 L164.9 262.5 L165.5 262.5 L166.1 262.5 L166.8 262.5 L167.4 262.5 L168 262.5 L168.6 262.5 L169.2 262.5 L169.9 262.5 L170.5 262.5 L171.1 262.5 L171.7 262.5 L172.4 262.5 L173 262.5 L173.6 262.5 L174.2 262.5 L174.9 262.5 L175.5 262.5 L176.1 262.5 L176.7 262.5 L177.3 262.5 L178 262.5 L178.6 262.5 L179.2 262.5 L179.8 262.5 L180.5 262.5 L181.1 262.5 L181.7 262.5 L182.3 262.5 L182.9 262.5 L183.6 262.5 L184.2 262.5 L184.8 262.5 L185.4 262.5 L186.1 262.5 L186.7 262.5 L187.3 262.5 L187.9 262.5 L188.5 262.5 L189.2 262.5 L189.8 262.5 L190.4 262.5 L191 262.5 L191.7 262.5 L192.3 262.5 L192.9 262.5 L193.5 262.5 L194.1 262.5 L194.8 262.5 L195.4 262.5 L196 262.5 L196.6 262.5 L197.3 262.5 L197.9 262.5 L198.5 262.5 L199.1 262.5 L199.8 262.5 L200.4 262.5 L201 262.5 L201.6 262.5 L202.2 262.5 L202.9 262.5 L203.5 262.5 L204.1 262.5 L204.7 262.5 L205.4 262.5 L206 262.5 L206.6 262.5 L207.2 262.5 L207.8 262.5 L208.5 262.5 L209.1 262.5 L209.7 262.5 L210.3 262.5 L211 262.5 L211.6 262.5 L212.2 262.5 L212.8 262.5 L213.4 262.5 L214.1 262.5 L214.7 262.5 L215.3 262.5 L215.9 262.5 L216.6 262.5 L217.2 262.5 L217.8 262.5 L218.4 262.5 L219 262.5 L219.7 262.5 L220.3 262.5 L220.9 262.5 L221.5 262.5 L222.2 262.5 L222.8 262.5 L223.4 262.5 L224 262.5 L224.7 262.5 L225.3 262.5 L225.9 262.5 L226.5 262.5 L227.1 262.5 L227.8 262.5 L228.4 262.5 L229 262.5 L229.6 262.5 L230.3 262.5 L230.9 262.5 L231.5 262.5 L232.1 262.5 L232.7 262.5 L233.4 262.5 L234 262.5 L234.6 262.5 L235.2 262.5 L235.9 262.5 L236.5 262.5 L237.1 262.5 L237.7 262.5 L238.3 262.5 L239 262.5 L239.6 262.5 L240.2 262.5 L240.8 262.5 L241.5 262.5 L242.1 262.5 L242.7 262.5 L243.3 262.5 L243.9 262.5 L244.6 262.5 L245.2 262.5 L245.8 262.5 L246.4 262.5 L247.1 262.5 L247.7 262.5 L248.3 262.5 L248.9 262.5 L249.6 262.5 L250.2 262.5 L250.8 262.5 L251.4 262.5 L252 262.5 L252.7 262.5 L253.3 262.5 L253.9 262.5 L254.5 262.5 L255.2 262.5 L255.8 262.5 L256.4 262.5 L257 262.5 L257.6 262.5 L258.3 262.5 L258.9 262.5 L259.5 262.5 L260.1 262.5 L260.8 262.5 L261.4 262.5 L262 262.5 L262.6 262.5 L263.2 262.5 L263.9 262.5 L264.5 262.5 L265.1 262.5 L265.7 262.5 L266.4 262.5 L267 262.5 L267.6 262.5 L268.2 262.5 L268.8 262.5 L269.5 262.5 L270.1 262.5 L270.7 262.5 L271.3 262.5 L272 262.5 L272.6 262.5 L273.2 262.5 L273.8 262.5 L274.5 262.5 L275.1 262.5 L275.7 262.5 L276.3 262.5 L276.9 262.5 L277.6 262.5 L278.2 262.5 L278.8 262.5 L279.4 262.5 L280.1 262.5 L280.7 262.5 L281.3 262.5" stroke="#ff0000" stroke-width="1.2" fill="none"/>
<path d="M34.4 263h0M37.5 263.3h0M40.6 265.6h0M43.8 263.7h0M46.9 263.5h0M50 263.5h0M53.1 259.5h0M56.2 265h0M59.3 264.3h0M62.4 263.5h0M65.5 258.7h0M68.7 261.3h0M71.8 264.1h0M74.9 259h0M78 262.1h0M81.1 264.5h0M84.2 260h0M87.3 265.6h0M90.4 263.6h0M93.6 262.2h0M96.7 263.1h0M99.8 263.7h0M102.9 262.7h0M106 264.7h0M109.1 261.2h0M112.2 261.7h0M115.3 264.5h0M118.5 262.6h0M121.6 260.8h0M124.7 264.3h0M127.8 265.3h0M130.9 261.6h0M134 259.9h0M137.1 262.2h0M140.2 262.2h0M143.4 261.9h0M146.5 265.2h0M149.6 260.5h0M152.7 264.9h0M155.8 260.1h0M158.9 261h0M162 263.7h0M165.1 264.7h0M168.3 264.1h0M171.4 263.2h0M174.5 262.8h0M177.6 262.8h0M180.7 263.6h0M183.8 262.2h0M186.9 263h0M190 263.6h0M193.2 262.5h0M196.3 264h0M199.4 263.6h0M202.5 266.4h0M205.6 263.1h0M208.7 261.7h0M211.8 261.8h0M214.9 262.5h0M218.1 264.3h0M221.2 261.9h0M224.3 263.2h0M227.4 266h0M230.5 257.6h0M233.6 260.3h0M236.7 263h0M239.8 263.3h0M243 263h0M246.1 261.7h0M249.2 263.8h0M252.3 263h0M255.4 261.5h0M258.5 267.2h0M261.6 263.2h0M264.7 261.4h0M267.9 262.3h0M271 262.1h0M274.1 262.4h0M277.2 257.3h0M280.3 261.6h0" stroke="#0000ff" stroke-width="3.4" stroke-linecap="round" fill="none"/>
<path d="M32.3 300.8v-2.5M32.3 224.2v2.5M94.5 300.8v-2.5M94.5 224.2v2.5M156.8 300.8v-2.5M156.8 224.2v2.5M219.1 300.8v-2.5M219.1 224.2v2.5M281.3 300.8v-2.5M281.3 224.2v2.5M32.3 224.2h2.5M281.3 224.2h-2.5M32.3 237h2.5M281.3 237h-2.5M32.3 249.7h2.5M281.3 249.7h-2.5M32.3 262.5h2.5M281.3 262.5h-2.5M32.3 275.3h2.5M281.3 275.3h-2.5M32.3 288h2.5M281.3 288h-2.5M32.3 300.8h2.5M281.3 300.8h-2.5" stroke="#666" stroke-width="0.8" fill="none"/>
<text x="32.3" y="308.5" font-size="5.7" text-anchor="middle" fill="#000" color="#000">-0.1</text>
<text x="94.5" y="308.5" font-size="5.7" text-anchor="middle" fill="#000" color="#000">-0.05</text>
<text x="156.8" y="308.5" font-size="5.7" text-anchor="middle" fill="#000" color="#000">0</text>
<text x="219.1" y="308.5" font-size="5.7" text-anchor="middle" fill="#000" color="#000">0.05</text>
<text x="281.3" y="308.5" font-size="5.7" text-anchor="middle" fill="#000" color="#000">0.1</text>
<text x="29.3" y="226.2" font-size="5.7" text-anchor="end" fill="#000" color="#000">-0.03</text>
<text x="29.3" y="239" font-size="5.7" text-anchor="end" fill="#000" color="#000">-0.02</text>
<text x="29.3" y="251.7" font-size="5.7" text-anchor="end" fill="#000" color="#000">-0.01</text>
<text x="29.3" y="264.5" font-size="5.7" text-anchor="end" fill="#000" color="#000">0</text>
<text x="29.3" y="277.3" font-size="5.7" text-anchor="end" fill="#000" color="#000">0.01</text>
<text x="29.3" y="290" font-size="5.7" text-anchor="end" fill="#000" color="#000">0.02</text>
<text x="29.3" y="302.8" font-size="5.7" text-anchor="end" fill="#000" color="#000">0.03</text>
<text x="157" y="316.8" font-size="8" text-anchor="middle" fill="#000" color="#000">Orbital phase</text>
<text x="9" y="262.5" font-size="8.3" text-anchor="middle" fill="#000" color="#000" transform="rotate(-90 9 262.5)">Δ mag</text>
<text x="451" y="27.2" font-size="8.2" text-anchor="middle" font-weight="bold" fill="#000" color="#000">HATS-60 Follow-up Light Curves</text>
<rect x="317" y="32" width="259" height="268.4" fill="none" stroke="#8a8a8a" stroke-width="1.4"/>
<path d="M451.2 32 L451.2 300.4" stroke="#777" stroke-width="1.3" fill="none"/>
<path d="M317 300.4v-2.5M317 32v2.5M451.2 300.4v-2.5M451.2 32v2.5M339.4 300.4v-2.5M339.4 32v2.5M472 300.4v-2.5M472 32v2.5M361.7 300.4v-2.5M361.7 32v2.5M492.8 300.4v-2.5M492.8 32v2.5M384.1 300.4v-2.5M384.1 32v2.5M513.6 300.4v-2.5M513.6 32v2.5M406.5 300.4v-2.5M406.5 32v2.5M534.4 300.4v-2.5M534.4 32v2.5M428.8 300.4v-2.5M428.8 32v2.5M555.2 300.4v-2.5M555.2 32v2.5M451.2 300.4v-2.5M451.2 32v2.5M576 300.4v-2.5M576 32v2.5M317 32h2.5M451.2 32h-2.5M451.2 32h2.5M576 32h-2.5M317 61.8h2.5M451.2 61.8h-2.5M451.2 61.8h2.5M576 61.8h-2.5M317 91.6h2.5M451.2 91.6h-2.5M451.2 91.6h2.5M576 91.6h-2.5M317 121.5h2.5M451.2 121.5h-2.5M451.2 121.5h2.5M576 121.5h-2.5M317 151.3h2.5M451.2 151.3h-2.5M451.2 151.3h2.5M576 151.3h-2.5M317 181.1h2.5M451.2 181.1h-2.5M451.2 181.1h2.5M576 181.1h-2.5M317 210.9h2.5M451.2 210.9h-2.5M451.2 210.9h2.5M576 210.9h-2.5M317 240.8h2.5M451.2 240.8h-2.5M451.2 240.8h2.5M576 240.8h-2.5M317 270.6h2.5M451.2 270.6h-2.5M451.2 270.6h2.5M576 270.6h-2.5M317 300.4h2.5M451.2 300.4h-2.5M451.2 300.4h2.5M576 300.4h-2.5" stroke="#666" stroke-width="0.8" fill="none"/>
<text x="313.7" y="34.6" font-size="5.7" text-anchor="end" fill="#000" color="#000">-0.01</text>
<text x="313.7" y="64.4" font-size="5.7" text-anchor="end" fill="#000" color="#000">0</text>
<text x="313.7" y="94.2" font-size="5.7" text-anchor="end" fill="#000" color="#000">0.01</text>
<text x="313.7" y="124.1" font-size="5.7" text-anchor="end" fill="#000" color="#000">0.02</text>
<text x="313.7" y="153.9" font-size="5.7" text-anchor="end" fill="#000" color="#000">0.03</text>
<text x="313.7" y="183.7" font-size="5.7" text-anchor="end" fill="#000" color="#000">0.04</text>
<text x="313.7" y="213.5" font-size="5.7" text-anchor="end" fill="#000" color="#000">0.05</text>
<text x="313.7" y="243.4" font-size="5.7" text-anchor="end" fill="#000" color="#000">0.06</text>
<text x="313.7" y="273.2" font-size="5.7" text-anchor="end" fill="#000" color="#000">0.07</text>
<text x="313.7" y="303" font-size="5.7" text-anchor="end" fill="#000" color="#000">0.08</text>
<text x="317" y="307.5" font-size="5.7" text-anchor="middle" fill="#000" color="#000">-0.15</text>
<text x="451.2" y="307.5" font-size="5.7" text-anchor="middle" fill="#000" color="#000">-0.15</text>
<text x="339.4" y="307.5" font-size="5.7" text-anchor="middle" fill="#000" color="#000">-0.1</text>
<text x="472" y="307.5" font-size="5.7" text-anchor="middle" fill="#000" color="#000">-0.1</text>
<text x="361.7" y="307.5" font-size="5.7" text-anchor="middle" fill="#000" color="#000">-0.05</text>
<text x="492.8" y="307.5" font-size="5.7" text-anchor="middle" fill="#000" color="#000">-0.05</text>
<text x="384.1" y="307.5" font-size="5.7" text-anchor="middle" fill="#000" color="#000">0</text>
<text x="513.6" y="307.5" font-size="5.7" text-anchor="middle" fill="#000" color="#000">0</text>
<text x="406.5" y="307.5" font-size="5.7" text-anchor="middle" fill="#000" color="#000">0.05</text>
<text x="534.4" y="307.5" font-size="5.7" text-anchor="middle" fill="#000" color="#000">0.05</text>
<text x="428.8" y="307.5" font-size="5.7" text-anchor="middle" fill="#000" color="#000">0.1</text>
<text x="555.2" y="307.5" font-size="5.7" text-anchor="middle" fill="#000" color="#000">0.1</text>
<text x="576" y="307.5" font-size="5.7" text-anchor="middle" fill="#000" color="#000">0.15</text>
<text x="384" y="317.8" font-size="8.2" text-anchor="middle" fill="#000" color="#000">Time from transit center (days)</text>
<text x="513.6" y="317.8" font-size="8.2" text-anchor="middle" fill="#000" color="#000">Time from transit center (days)</text>
<text x="300.2" y="167.2" font-size="8.2" text-anchor="middle" fill="#000" color="#000" transform="rotate(-90 300.2 167.2)">Δ (mag) - Arbitrary offsets</text>
<path d="M317 61.8 L317.6 61.8 L318.1 61.8 L318.7 61.8 L319.2 61.8 L319.8 61.8 L320.4 61.8 L320.9 61.8 L321.5 61.8 L322 61.8 L322.6 61.8 L323.2 61.8 L323.7 61.8 L324.3 61.8 L324.8 61.8 L325.4 61.8 L325.9 61.8 L326.5 61.8 L327.1 61.8 L327.6 61.8 L328.2 61.8 L328.7 61.8 L329.3 61.8 L329.9 61.8 L330.4 61.8 L331 61.8 L331.5 61.8 L332.1 61.8 L332.7 61.8 L333.2 61.8 L333.8 61.8 L334.3 61.8 L334.9 61.8 L335.5 61.8 L336 61.8 L336.6 61.8 L337.1 61.8 L337.7 61.8 L338.2 61.8 L338.8 61.8 L339.4 61.8 L339.9 61.8 L340.5 61.8 L341 61.8 L341.6 61.8 L342.2 61.8 L342.7 61.8 L343.3 61.8 L343.8 61.8 L344.4 61.8 L345 61.8 L345.5 61.8 L346.1 61.9 L346.6 61.9 L347.2 62.1 L347.8 62.4 L348.3 62.8 L348.9 63.5 L349.4 64.3 L350 65.4 L350.6 66.7 L351.1 68.1 L351.7 69.7 L352.2 71.2 L352.8 72.8 L353.3 74.4 L353.9 75.9 L354.5 77.4 L355 78.8 L355.6 80 L356.1 81 L356.7 81.8 L357.3 82.4 L357.8 82.9 L358.4 83.3 L358.9 83.6 L359.5 83.8 L360.1 84 L360.6 84.2 L361.2 84.4 L361.7 84.6 L362.3 84.8 L362.9 85 L363.4 85.1 L364 85.3 L364.5 85.5 L365.1 85.6 L365.6 85.8 L366.2 86 L366.8 86.1 L367.3 86.2 L367.9 86.4 L368.4 86.5 L369 86.6 L369.6 86.8 L370.1 86.9 L370.7 87 L371.2 87.1 L371.8 87.2 L372.4 87.3 L372.9 87.4 L373.5 87.5 L374 87.6 L374.6 87.7 L375.2 87.7 L375.7 87.8 L376.3 87.9 L376.8 88 L377.4 88 L377.9 88.1 L378.5 88.1 L379.1 88.2 L379.6 88.2 L380.2 88.2 L380.7 88.3 L381.3 88.3 L381.9 88.3 L382.4 88.3 L383 88.3 L383.5 88.3 L384.1 88.3 L384.7 88.3 L385.2 88.3 L385.8 88.3 L386.3 88.3 L386.9 88.3 L387.5 88.3 L388 88.2 L388.6 88.2 L389.1 88.2 L389.7 88.1 L390.3 88.1 L390.8 88 L391.4 88 L391.9 87.9 L392.5 87.8 L393 87.7 L393.6 87.7 L394.2 87.6 L394.7 87.5 L395.3 87.4 L395.8 87.3 L396.4 87.2 L397 87.1 L397.5 87 L398.1 86.9 L398.6 86.8 L399.2 86.6 L399.8 86.5 L400.3 86.4 L400.9 86.2 L401.4 86.1 L402 86 L402.6 85.8 L403.1 85.6 L403.7 85.5 L404.2 85.3 L404.8 85.1 L405.3 85 L405.9 84.8 L406.5 84.6 L407 84.4 L407.6 84.2 L408.1 84 L408.7 83.8 L409.3 83.6 L409.8 83.3 L410.4 82.9 L410.9 82.4 L411.5 81.8 L412.1 81 L412.6 80 L413.2 78.8 L413.7 77.4 L414.3 75.9 L414.9 74.4 L415.4 72.8 L416 71.2 L416.5 69.7 L417.1 68.1 L417.6 66.7 L418.2 65.4 L418.8 64.3 L419.3 63.5 L419.9 62.8 L420.4 62.4 L421 62.1 L421.6 61.9 L422.1 61.9 L422.7 61.8 L423.2 61.8 L423.8 61.8 L424.4 61.8 L424.9 61.8 L425.5 61.8 L426 61.8 L426.6 61.8 L427.2 61.8 L427.7 61.8 L428.3 61.8 L428.8 61.8 L429.4 61.8 L430 61.8 L430.5 61.8 L431.1 61.8 L431.6 61.8 L432.2 61.8 L432.7 61.8 L433.3 61.8 L433.9 61.8 L434.4 61.8 L435 61.8 L435.5 61.8 L436.1 61.8 L436.7 61.8 L437.2 61.8 L437.8 61.8 L438.3 61.8 L438.9 61.8 L439.5 61.8 L440 61.8 L440.6 61.8 L441.1 61.8 L441.7 61.8 L442.3 61.8 L442.8 61.8 L443.4 61.8 L443.9 61.8 L444.5 61.8 L445 61.8 L445.6 61.8 L446.2 61.8 L446.7 61.8 L447.3 61.8 L447.8 61.8 L448.4 61.8 L449 61.8 L449.5 61.8 L450.1 61.8 L450.6 61.8 L451.2 61.8" stroke="#ff2a2a" stroke-width="1.05" fill="none" stroke-linejoin="round"/>
<path d="M451.2 61.8 L576 61.8" stroke="#ff2a2a" stroke-width="1.05" fill="none"/>
<path d="M355.7 79.3h0M356.4 78.5h0M357.2 83.1h0M358.7 78.7h0M359.4 85h0M360.9 91.3h0M361.8 87.1h0M362.7 78.2h0M363.3 81.5h0M364.2 85h0M365.2 85.1h0M366.7 89h0M367.9 77.8h0M368.9 89.6h0M369.9 85h0M370.4 89h0M371.4 88.7h0M372.9 92.6h0M373.8 82h0M374.8 88.4h0M375.3 83.2h0M376.8 80.8h0M377.8 85.6h0M378.8 88.5h0M379.5 91.4h0M380.6 78.4h0M381.6 94.2h0M382.4 86.3h0M383.4 93.2h0M384.9 95.2h0M385.4 93.4h0M386.8 78.7h0M387.6 86.3h0M388.3 87.6h0M390 85.3h0M391 84.2h0M391.7 92.9h0M392.5 82.6h0M393.5 86.9h0M394.8 90.3h0M395.6 85.6h0M397 88.1h0M397.6 82h0M399 88h0M399.7 90.5h0M400.8 84h0M401.8 90.2h0M402.5 86.3h0M403.4 86.3h0M404.8 82.9h0M406 81.5h0M406.8 83.3h0M407.8 84.5h0M408.9 81.9h0M409.6 82.3h0M410.8 89.1h0M411.9 81.8h0M412.8 71h0M413.9 72.3h0M415 73.8h0M415.8 67.3h0M417.2 67h0M418 72.5h0M418.7 58h0M419.9 69.7h0M420.6 59.7h0M421.6 60.5h0M422.7 62.4h0M423.6 58.5h0M425.2 55.9h0M425.7 60.6h0M426.7 56.3h0M428.2 64.5h0M429.3 61.3h0M429.9 50.1h0M431.2 62.8h0M431.7 57.6h0M432.9 63.8h0M433.8 59.2h0M434.6 67.5h0M436 61.1h0M436.9 62.1h0M438.1 60.4h0M439.4 61.7h0M440.2 63.6h0" stroke="#000" stroke-width="2.4" stroke-linecap="round" fill="none"/>
<path d="M486.8 59.5v4.1M485.8 59.5h2M485.8 63.6h2M488.3 58.9v5.4M487.3 58.9h2M487.3 64.3h2M489.4 60.3v6.6M488.4 60.3h2M488.4 66.9h2M490 63.4v5.8M489 63.4h2M489 69.2h2M491.4 65.8v4.3M490.4 65.8h2M490.4 70.1h2M491.9 58.4v4.2M490.9 58.4h2M490.9 62.6h2M493.7 55.5v6M492.7 55.5h2M492.7 61.5h2M494.7 65.5v4.2M493.7 65.5h2M493.7 69.7h2M495.8 62.5v5.5M494.8 62.5h2M494.8 67.9h2M496.4 52v4.9M495.4 52h2M495.4 56.9h2M497.3 56.4v5.7M496.3 56.4h2M496.3 62.1h2M498.4 61.3v4.2M497.4 61.3h2M497.4 65.5h2M499.5 60.6v5M498.5 60.6h2M498.5 65.6h2M500.6 59.2v5.6M499.6 59.2h2M499.6 64.8h2M501.6 56.5v5.1M500.6 56.5h2M500.6 61.6h2M502.5 58.6v6.3M501.5 58.6h2M501.5 65h2M504 60.1v4.6M503 60.1h2M503 64.7h2M505 60v6.6M504 60h2M504 66.6h2M506 58.4v5.6M505 58.4h2M505 64h2M507.4 55.6v6.2M506.4 55.6h2M506.4 61.8h2M508.6 61.8v5.1M507.6 61.8h2M507.6 66.9h2M509.6 57.9v5.3M508.6 57.9h2M508.6 63.2h2M510.2 55.1v4.2M509.2 55.1h2M509.2 59.3h2M511.1 64.5v4.8M510.1 64.5h2M510.1 69.3h2M512.2 62.1v4.3M511.2 62.1h2M511.2 66.4h2M513.8 62.9v4.9M512.8 62.9h2M512.8 67.8h2M514.4 55.7v4.9M513.4 55.7h2M513.4 60.6h2M515.6 61.4v4.8M514.6 61.4h2M514.6 66.3h2M517.1 61.4v7.1M516.1 61.4h2M516.1 68.5h2M517.8 59.6v5M516.8 59.6h2M516.8 64.6h2M518.7 68.6v4M517.7 68.6h2M517.7 72.6h2M519.8 55.5v4.6M518.8 55.5h2M518.8 60.2h2M521 60.5v4M520 60.5h2M520 64.5h2M521.8 62.7v4.1M520.8 62.7h2M520.8 66.8h2M522.7 61.2v5M521.7 61.2h2M521.7 66.1h2M523.9 55v6.4M522.9 55h2M522.9 61.4h2M525.4 56.5v6.3M524.4 56.5h2M524.4 62.8h2M526.6 55.9v7.2M525.6 55.9h2M525.6 63.1h2M527.1 60.6v6.3M526.1 60.6h2M526.1 66.9h2M528.5 64.6v6.9M527.5 64.6h2M527.5 71.5h2M529.6 60.4v6.3M528.6 60.4h2M528.6 66.8h2M530.8 61.7v5.6M529.8 61.7h2M529.8 67.3h2M531.9 61.7v6.6M530.9 61.7h2M530.9 68.3h2M532.9 52.5v6.2M531.9 52.5h2M531.9 58.7h2M533.9 55.8v4.7M532.9 55.8h2M532.9 60.6h2M534.4 61.8v4.3M533.4 61.8h2M533.4 66.1h2M536.1 61.3v5.8M535.1 61.3h2M535.1 67.1h2M537 55.4v5.6M536 55.4h2M536 61h2M537.6 54.9v6.6M536.6 54.9h2M536.6 61.4h2M539.2 54.6v6.1M538.2 54.6h2M538.2 60.7h2M539.7 58.6v6.4M538.7 58.6h2M538.7 64.9h2M541 61v6.3M540 61h2M540 67.4h2M542 59.8v6.4M541 59.8h2M541 66.2h2M543.7 55.7v5.5M542.7 55.7h2M542.7 61.3h2M544.5 58.7v6.5M543.5 58.7h2M543.5 65.2h2M545.5 58.7v4.5M544.5 58.7h2M544.5 63.2h2M546.3 57.6v6.4M545.3 57.6h2M545.3 63.9h2M547.4 59.2v4.2M546.4 59.2h2M546.4 63.4h2M548.4 58.5v6.2M547.4 58.5h2M547.4 64.7h2M549.8 57.7v5.7M548.8 57.7h2M548.8 63.4h2M550.7 56.6v5.5M549.7 56.6h2M549.7 62.1h2M551.5 60v7.1M550.5 60h2M550.5 67.2h2M553.2 58.4v4.1M552.2 58.4h2M552.2 62.4h2M553.9 62.9v5.4M552.9 62.9h2M552.9 68.3h2M554.8 51.4v4.7M553.8 51.4h2M553.8 56.1h2M556.4 60.7v4.5M555.4 60.7h2M555.4 65.1h2M557.1 62.6v7M556.1 62.6h2M556.1 69.7h2M557.9 60.1v6.8M556.9 60.1h2M556.9 67h2M559.4 55.8v4.7M558.4 55.8h2M558.4 60.5h2M560.6 59.1v4M559.6 59.1h2M559.6 63.1h2M561.3 59.2v5.4M560.3 59.2h2M560.3 64.6h2M562.2 61.3v5M561.2 61.3h2M561.2 66.3h2M563.8 62.2v4M562.8 62.2h2M562.8 66.2h2M564.7 59.3v7M563.7 59.3h2M563.7 66.2h2M565.8 56.9v6.9M564.8 56.9h2M564.8 63.8h2" stroke="#222" stroke-width="0.7" fill="none"/>
<text x="331" y="48" font-size="7.2" text-anchor="start" fill="#000" color="#000">i-band</text>
<text x="357.4" y="48" font-size="7.3" text-anchor="start" fill="#000" color="#000">2017 Jul 23 - CHAT 0.7m</text>
<path d="M317 151.3 L317.6 151.3 L318.1 151.3 L318.7 151.3 L319.2 151.3 L319.8 151.3 L320.4 151.3 L320.9 151.3 L321.5 151.3 L322 151.3 L322.6 151.3 L323.2 151.3 L323.7 151.3 L324.3 151.3 L324.8 151.3 L325.4 151.3 L325.9 151.3 L326.5 151.3 L327.1 151.3 L327.6 151.3 L328.2 151.3 L328.7 151.3 L329.3 151.3 L329.9 151.3 L330.4 151.3 L331 151.3 L331.5 151.3 L332.1 151.3 L332.7 151.3 L333.2 151.3 L333.8 151.3 L334.3 151.3 L334.9 151.3 L335.5 151.3 L336 151.3 L336.6 151.3 L337.1 151.3 L337.7 151.3 L338.2 151.3 L338.8 151.3 L339.4 151.3 L339.9 151.3 L340.5 151.3 L341 151.3 L341.6 151.3 L342.2 151.3 L342.7 151.3 L343.3 151.3 L343.8 151.3 L344.4 151.3 L345 151.3 L345.5 151.3 L346.1 151.3 L346.6 151.4 L347.2 151.6 L347.8 151.8 L348.3 152.2 L348.9 152.9 L349.4 153.7 L350 154.7 L350.6 156 L351.1 157.3 L351.7 158.8 L352.2 160.3 L352.8 161.8 L353.3 163.3 L353.9 164.8 L354.5 166.2 L355 167.5 L355.6 168.6 L356.1 169.6 L356.7 170.4 L357.3 171 L357.8 171.4 L358.4 171.8 L358.9 172.1 L359.5 172.3 L360.1 172.5 L360.6 172.7 L361.2 172.9 L361.7 173.1 L362.3 173.2 L362.9 173.4 L363.4 173.6 L364 173.7 L364.5 173.9 L365.1 174 L365.6 174.2 L366.2 174.3 L366.8 174.5 L367.3 174.6 L367.9 174.7 L368.4 174.9 L369 175 L369.6 175.1 L370.1 175.2 L370.7 175.3 L371.2 175.4 L371.8 175.5 L372.4 175.6 L372.9 175.7 L373.5 175.8 L374 175.9 L374.6 176 L375.2 176 L375.7 176.1 L376.3 176.2 L376.8 176.2 L377.4 176.3 L377.9 176.4 L378.5 176.4 L379.1 176.4 L379.6 176.5 L380.2 176.5 L380.7 176.5 L381.3 176.6 L381.9 176.6 L382.4 176.6 L383 176.6 L383.5 176.6 L384.1 176.6 L384.7 176.6 L385.2 176.6 L385.8 176.6 L386.3 176.6 L386.9 176.6 L387.5 176.5 L388 176.5 L388.6 176.5 L389.1 176.4 L389.7 176.4 L390.3 176.4 L390.8 176.3 L391.4 176.2 L391.9 176.2 L392.5 176.1 L393 176 L393.6 176 L394.2 175.9 L394.7 175.8 L395.3 175.7 L395.8 175.6 L396.4 175.5 L397 175.4 L397.5 175.3 L398.1 175.2 L398.6 175.1 L399.2 175 L399.8 174.9 L400.3 174.7 L400.9 174.6 L401.4 174.5 L402 174.3 L402.6 174.2 L403.1 174 L403.7 173.9 L404.2 173.7 L404.8 173.6 L405.3 173.4 L405.9 173.2 L406.5 173.1 L407 172.9 L407.6 172.7 L408.1 172.5 L408.7 172.3 L409.3 172.1 L409.8 171.8 L410.4 171.4 L410.9 171 L411.5 170.4 L412.1 169.6 L412.6 168.6 L413.2 167.5 L413.7 166.2 L414.3 164.8 L414.9 163.3 L415.4 161.8 L416 160.3 L416.5 158.8 L417.1 157.3 L417.6 156 L418.2 154.7 L418.8 153.7 L419.3 152.9 L419.9 152.2 L420.4 151.8 L421 151.6 L421.6 151.4 L422.1 151.3 L422.7 151.3 L423.2 151.3 L423.8 151.3 L424.4 151.3 L424.9 151.3 L425.5 151.3 L426 151.3 L426.6 151.3 L427.2 151.3 L427.7 151.3 L428.3 151.3 L428.8 151.3 L429.4 151.3 L430 151.3 L430.5 151.3 L431.1 151.3 L431.6 151.3 L432.2 151.3 L432.7 151.3 L433.3 151.3 L433.9 151.3 L434.4 151.3 L435 151.3 L435.5 151.3 L436.1 151.3 L436.7 151.3 L437.2 151.3 L437.8 151.3 L438.3 151.3 L438.9 151.3 L439.5 151.3 L440 151.3 L440.6 151.3 L441.1 151.3 L441.7 151.3 L442.3 151.3 L442.8 151.3 L443.4 151.3 L443.9 151.3 L444.5 151.3 L445 151.3 L445.6 151.3 L446.2 151.3 L446.7 151.3 L447.3 151.3 L447.8 151.3 L448.4 151.3 L449 151.3 L449.5 151.3 L450.1 151.3 L450.6 151.3 L451.2 151.3" stroke="#ff2a2a" stroke-width="1.05" fill="none" stroke-linejoin="round"/>
<path d="M451.2 151.3 L576 151.3" stroke="#ff2a2a" stroke-width="1.05" fill="none"/>
<path d="M353.1 159.9h0M354.4 168.8h0M354.9 164.5h0M355.5 171.5h0M356.1 175.4h0M357.1 175.2h0M358.3 171.8h0M358.8 175.1h0M359.4 165.5h0M360.7 179.6h0M361.4 167.1h0M362.3 167h0M362.9 173.2h0M363.8 172.5h0M364.4 173.9h0M365.1 168.5h0M365.7 176h0M366.8 173.6h0M367.5 172.8h0M368.7 181h0M369 173.2h0M370 172.5h0M370.7 176.5h0M371.4 177.5h0M372.7 173h0M373.5 175.9h0M374.3 173.9h0M374.6 176.6h0M375.3 175.1h0M376.2 177.6h0M377 168.9h0M378.2 172.9h0M378.7 172.4h0M379.5 178.9h0M380.3 179.4h0M381.5 177.8h0M381.7 171.1h0M383 176.5h0M383.4 176.2h0M384.3 179.5h0M385.1 183.8h0M386.2 174.4h0M386.4 182.6h0M387.8 177.7h0M388.3 176.4h0M389.1 176.4h0M390.3 179.8h0M391.1 169.5h0M391.4 178h0M392.4 177.6h0M393.3 181.8h0M394.1 173.7h0M394.9 171h0M395.2 177h0M396.5 176.5h0M397.3 184h0M397.8 177.3h0M398.8 177.2h0M399.7 176h0M400.4 175.7h0M401.2 172.4h0M402 176.1h0M402.4 172.9h0M403.9 177.9h0M404.4 177h0M404.9 170.6h0M405.7 179.1h0M406.6 171.5h0M407.2 167h0M408.3 172.5h0M408.9 167.8h0M409.7 164.2h0M410.4 169.3h0M411.6 173.6h0M412.1 171.4h0M413.1 161.5h0M413.7 169.5h0M414.9 162.4h0M415.3 163.2h0M416.2 166.2h0" stroke="#000" stroke-width="2.4" stroke-linecap="round" fill="none"/>
<path d="M485.3 147.2v2.3M484.3 147.2h2M484.3 149.5h2M485.8 149.9v2.9M484.8 149.9h2M484.8 152.8h2M487.3 152.9v2.3M486.3 152.9h2M486.3 155.2h2M488.3 153.8v2.2M487.3 153.8h2M487.3 156h2M488.5 153.8v3.3M487.5 153.8h2M487.5 157.1h2M490.2 151.4v3M489.2 151.4h2M489.2 154.5h2M491.3 153.8v2.3M490.3 153.8h2M490.3 156.1h2M492.2 148.1v3M491.2 148.1h2M491.2 151.1h2M492.5 147.8v2.5M491.5 147.8h2M491.5 150.3h2M493.7 146.4v2.2M492.7 146.4h2M492.7 148.6h2M494.4 148.8v3.3M493.4 148.8h2M493.4 152.2h2M495.5 153.7v3.3M494.5 153.7h2M494.5 157.1h2M496.6 144.5v3.2M495.6 144.5h2M495.6 147.7h2M497.8 156.8v2.1M496.8 156.8h2M496.8 158.9h2M498.8 143.1v2.3M497.8 143.1h2M497.8 145.4h2M499.7 156.9v3.3M498.7 156.9h2M498.7 160.2h2M500.4 142.8v3.1M499.4 142.8h2M499.4 145.9h2M501.4 154.6v2M500.4 154.6h2M500.4 156.7h2M502.4 152.8v3M501.4 152.8h2M501.4 155.9h2M504.1 148.4v2.5M503.1 148.4h2M503.1 150.9h2M504.6 156.1v2.4M503.6 156.1h2M503.6 158.5h2M506 148.4v2.4M505 148.4h2M505 150.9h2M506.6 157.2v3.3M505.6 157.2h2M505.6 160.5h2M507.9 149.8v3.3M506.9 149.8h2M506.9 153.1h2M508.4 150.1v3.3M507.4 150.1h2M507.4 153.5h2M510.1 155.1v2.5M509.1 155.1h2M509.1 157.6h2M510.5 144.9v3.3M509.5 144.9h2M509.5 148.2h2M511.5 152v3.1M510.5 152h2M510.5 155.1h2M512.9 153.3v2.9M511.9 153.3h2M511.9 156.1h2M513.6 143.1v2.4M512.6 143.1h2M512.6 145.6h2M514.6 150.5v2.3M513.6 150.5h2M513.6 152.8h2M515.9 148.3v2.3M514.9 148.3h2M514.9 150.7h2M516.3 155.6v2.5M515.3 155.6h2M515.3 158.1h2M518.1 150.9v3.2M517.1 150.9h2M517.1 154.1h2M519.1 150v2.1M518.1 150h2M518.1 152.2h2M519.7 151.7v3M518.7 151.7h2M518.7 154.7h2M520.6 150.3v2.9M519.6 150.3h2M519.6 153.2h2M521.8 154.4v3M520.8 154.4h2M520.8 157.5h2M523 148.5v3.2M522 148.5h2M522 151.7h2M523.5 147.9v2.8M522.5 147.9h2M522.5 150.7h2M524.6 149.9v2.3M523.6 149.9h2M523.6 152.2h2M525.4 147.2v2.2M524.4 147.2h2M524.4 149.4h2M527 146.5v2.6M526 146.5h2M526 149h2M528.1 148v2.7M527.1 148h2M527.1 150.8h2M528.4 151.9v3.4M527.4 151.9h2M527.4 155.3h2M529.3 143.8v2.7M528.3 143.8h2M528.3 146.5h2M530.9 155.6v2.1M529.9 155.6h2M529.9 157.7h2M531.5 141.8v2.2M530.5 141.8h2M530.5 144h2M532.4 155.5v3.3M531.4 155.5h2M531.4 158.8h2M533.5 148.7v3.2M532.5 148.7h2M532.5 151.9h2M534.6 149.1v3.3M533.6 149.1h2M533.6 152.5h2M535.3 157.7v2.8M534.3 157.7h2M534.3 160.5h2M536.7 151.1v2.2M535.7 151.1h2M535.7 153.3h2M537.3 154.3v2.4M536.3 154.3h2M536.3 156.7h2M538.7 148.5v2M537.7 148.5h2M537.7 150.5h2M539.4 147.3v2.9M538.4 147.3h2M538.4 150.3h2M540.3 148.6v3.1M539.3 148.6h2M539.3 151.7h2M541.6 153.1v2.1M540.6 153.1h2M540.6 155.1h2M542.2 145.3v2.9M541.2 145.3h2M541.2 148.2h2M543.2 153.7v2.2M542.2 153.7h2M542.2 155.9h2" stroke="#222" stroke-width="0.7" fill="none"/>
<text x="331" y="137.6" font-size="7.2" text-anchor="start" fill="#000" color="#000">i</text>
<text x="357.4" y="137.6" font-size="7.3" text-anchor="start" fill="#000" color="#000">2017 Aug 17 - CHAT 0.7m</text>
<path d="M317 240.8 L317.6 240.8 L318.1 240.8 L318.7 240.8 L319.2 240.8 L319.8 240.8 L320.4 240.8 L320.9 240.8 L321.5 240.8 L322 240.8 L322.6 240.8 L323.2 240.8 L323.7 240.8 L324.3 240.8 L324.8 240.8 L325.4 240.8 L325.9 240.8 L326.5 240.8 L327.1 240.8 L327.6 240.8 L328.2 240.8 L328.7 240.8 L329.3 240.8 L329.9 240.8 L330.4 240.8 L331 240.8 L331.5 240.8 L332.1 240.8 L332.7 240.8 L333.2 240.8 L333.8 240.8 L334.3 240.8 L334.9 240.8 L335.5 240.8 L336 240.8 L336.6 240.8 L337.1 240.8 L337.7 240.8 L338.2 240.8 L338.8 240.8 L339.4 240.8 L339.9 240.8 L340.5 240.8 L341 240.8 L341.6 240.8 L342.2 240.8 L342.7 240.8 L343.3 240.8 L343.8 240.8 L344.4 240.8 L345 240.8 L345.5 240.8 L346.1 240.8 L346.6 240.9 L347.2 241 L347.8 241.3 L348.3 241.7 L348.9 242.4 L349.4 243.2 L350 244.3 L350.6 245.5 L351.1 246.9 L351.7 248.4 L352.2 249.9 L352.8 251.5 L353.3 253 L353.9 254.5 L354.5 256 L355 257.3 L355.6 258.5 L356.1 259.5 L356.7 260.3 L357.3 260.9 L357.8 261.4 L358.4 261.7 L358.9 262 L359.5 262.2 L360.1 262.5 L360.6 262.7 L361.2 262.8 L361.7 263 L362.3 263.2 L362.9 263.4 L363.4 263.6 L364 263.7 L364.5 263.9 L365.1 264 L365.6 264.2 L366.2 264.3 L366.8 264.5 L367.3 264.6 L367.9 264.8 L368.4 264.9 L369 265 L369.6 265.1 L370.1 265.3 L370.7 265.4 L371.2 265.5 L371.8 265.6 L372.4 265.7 L372.9 265.8 L373.5 265.9 L374 265.9 L374.6 266 L375.2 266.1 L375.7 266.2 L376.3 266.2 L376.8 266.3 L377.4 266.4 L377.9 266.4 L378.5 266.5 L379.1 266.5 L379.6 266.5 L380.2 266.6 L380.7 266.6 L381.3 266.6 L381.9 266.6 L382.4 266.7 L383 266.7 L383.5 266.7 L384.1 266.7 L384.7 266.7 L385.2 266.7 L385.8 266.7 L386.3 266.6 L386.9 266.6 L387.5 266.6 L388 266.6 L388.6 266.5 L389.1 266.5 L389.7 266.5 L390.3 266.4 L390.8 266.4 L391.4 266.3 L391.9 266.2 L392.5 266.2 L393 266.1 L393.6 266 L394.2 265.9 L394.7 265.9 L395.3 265.8 L395.8 265.7 L396.4 265.6 L397 265.5 L397.5 265.4 L398.1 265.3 L398.6 265.1 L399.2 265 L399.8 264.9 L400.3 264.8 L400.9 264.6 L401.4 264.5 L402 264.3 L402.6 264.2 L403.1 264 L403.7 263.9 L404.2 263.7 L404.8 263.6 L405.3 263.4 L405.9 263.2 L406.5 263 L407 262.8 L407.6 262.7 L408.1 262.5 L408.7 262.2 L409.3 262 L409.8 261.7 L410.4 261.4 L410.9 260.9 L411.5 260.3 L412.1 259.5 L412.6 258.5 L413.2 257.3 L413.7 256 L414.3 254.5 L414.9 253 L415.4 251.5 L416 249.9 L416.5 248.4 L417.1 246.9 L417.6 245.5 L418.2 244.3 L418.8 243.2 L419.3 242.4 L419.9 241.7 L420.4 241.3 L421 241 L421.6 240.9 L422.1 240.8 L422.7 240.8 L423.2 240.8 L423.8 240.8 L424.4 240.8 L424.9 240.8 L425.5 240.8 L426 240.8 L426.6 240.8 L427.2 240.8 L427.7 240.8 L428.3 240.8 L428.8 240.8 L429.4 240.8 L430 240.8 L430.5 240.8 L431.1 240.8 L431.6 240.8 L432.2 240.8 L432.7 240.8 L433.3 240.8 L433.9 240.8 L434.4 240.8 L435 240.8 L435.5 240.8 L436.1 240.8 L436.7 240.8 L437.2 240.8 L437.8 240.8 L438.3 240.8 L438.9 240.8 L439.5 240.8 L440 240.8 L440.6 240.8 L441.1 240.8 L441.7 240.8 L442.3 240.8 L442.8 240.8 L443.4 240.8 L443.9 240.8 L444.5 240.8 L445 240.8 L445.6 240.8 L446.2 240.8 L446.7 240.8 L447.3 240.8 L447.8 240.8 L448.4 240.8 L449 240.8 L449.5 240.8 L450.1 240.8 L450.6 240.8 L451.2 240.8" stroke="#ff2a2a" stroke-width="1.05" fill="none" stroke-linejoin="round"/>
<path d="M451.2 240.8 L576 240.8" stroke="#ff2a2a" stroke-width="1.05" fill="none"/>
<path d="M326.1 236.9h0M326.8 240.3h0M328.3 237.5h0M329 242.5h0M330 245.6h0M331 231.4h0M332 238.7h0M332.9 237h0M334.5 234.1h0M335.2 241.5h0M336.6 237.2h0M337 239.4h0M338.5 234.8h0M339.2 233.9h0M340.6 236.5h0M341.3 241.5h0M342.4 232.2h0M343.3 238.1h0M344.6 241.6h0M345.5 231.7h0M346.5 248.5h0M347.8 238.4h0M348.5 245.3h0M350.1 242.9h0M351 247.6h0M352.1 247.6h0M352.8 245.3h0M354.2 259.7h0M354.8 257.6h0M356.1 263.3h0M357 262.8h0M358.3 263.7h0M359.5 267.1h0M360.4 263.9h0M361 263.8h0M362.4 261.6h0M363.4 261.2h0M364.3 261.5h0M365.5 259.1h0M366.4 267h0M367.5 270h0M368.5 265.7h0M369.4 265.7h0M370.6 258.6h0M371.4 263.7h0M372.4 266h0M373.7 269.4h0M374.8 268.3h0M375.5 265.1h0M377 265.1h0M378.1 265.1h0M379 266.4h0M379.9 268.6h0M381.3 266h0M382.4 265.9h0M382.9 259.6h0M384.5 257h0M385.5 267.2h0M386 268.8h0M387 257.9h0M388.2 266.6h0M389.6 264.2h0M390.2 267.3h0M391.4 264.3h0M392.8 266.9h0M393.5 269h0M394.4 268.3h0M395.3 266.3h0M396.9 262h0M397.4 257.9h0M398.9 268.7h0M399.8 268h0M400.7 268.1h0M401.9 260.8h0M403.1 273.7h0M404 271.3h0M404.9 264.4h0M406.3 260.2h0M407.1 258.6h0M408 267.6h0M408.9 262.1h0M410.4 260.2h0M411 253.7h0M412.3 250.6h0M413.4 256.8h0M414 255.7h0M415.1 249.4h0M416.4 246.1h0M417.7 247.3h0M418.6 245.1h0M419.1 245.3h0M420.2 239.8h0M421.5 239.2h0M422.7 242.5h0M423.4 233.8h0M424.4 233.2h0M426 235.3h0M426.5 237.1h0M427.9 238.6h0M428.8 228.5h0" stroke="#000" stroke-width="2.4" stroke-linecap="round" fill="none"/>
<path d="M459.3 244.5v2.8M458.3 244.5h2M458.3 247.3h2M460.7 239.7v2.9M459.7 239.7h2M459.7 242.6h2M462.1 245v2.3M461.1 245h2M461.1 247.3h2M463.7 237.5v2.1M462.7 237.5h2M462.7 239.5h2M464.7 237.5v2.1M463.7 237.5h2M463.7 239.6h2M466.2 241.2v2M465.2 241.2h2M465.2 243.2h2M467.3 241.5v2.3M466.3 241.5h2M466.3 243.8h2M468.7 238.7v2.7M467.7 238.7h2M467.7 241.4h2M470 240.4v2.4M469 240.4h2M469 242.8h2M471 237.7v2.1M470 237.7h2M470 239.7h2M472.8 240.9v2M471.8 240.9h2M471.8 242.9h2M474 233.6v3M473 233.6h2M473 236.7h2M475 239.4v2.3M474 239.4h2M474 241.7h2M476 235.6v2.3M475 235.6h2M475 238h2M477.2 236.2v3M476.2 236.2h2M476.2 239.2h2M479.2 244.4v3M478.2 244.4h2M478.2 247.4h2M480 235.6v3.1M479 235.6h2M479 238.7h2M481.5 238.3v2.4M480.5 238.3h2M480.5 240.7h2M482.9 241.6v3.2M481.9 241.6h2M481.9 244.8h2M483.7 239v2.4M482.7 239h2M482.7 241.4h2M485.2 238.9v3M484.2 238.9h2M484.2 241.9h2M486.5 230.5v3.2M485.5 230.5h2M485.5 233.7h2M487.8 239.8v2.9M486.8 239.8h2M486.8 242.7h2M489.4 247.1v2.9M488.4 247.1h2M488.4 250.1h2M490.9 232.5v3M489.9 232.5h2M489.9 235.5h2M492.1 240.8v2.6M491.1 240.8h2M491.1 243.4h2M493.3 236.8v2.3M492.3 236.8h2M492.3 239.1h2M494.5 238.4v2.1M493.5 238.4h2M493.5 240.5h2M496.1 240.2v2.1M495.1 240.2h2M495.1 242.3h2M497.4 240.2v2.5M496.4 240.2h2M496.4 242.7h2M498 240.3v3M497 240.3h2M497 243.3h2M499.7 239.5v3M498.7 239.5h2M498.7 242.4h2M501.1 243.9v2.5M500.1 243.9h2M500.1 246.4h2M502.5 241.1v3.1M501.5 241.1h2M501.5 244.3h2M503.8 245.7v3.3M502.8 245.7h2M502.8 249h2M505.1 242.6v2.1M504.1 242.6h2M504.1 244.7h2M505.8 239.9v3.2M504.8 239.9h2M504.8 243.1h2M507.6 239.9v2.9M506.6 239.9h2M506.6 242.8h2M508.9 237.7v2.1M507.9 237.7h2M507.9 239.8h2M509.6 237v3.1M508.6 237h2M508.6 240.1h2M511 238.2v2M510 238.2h2M510 240.2h2M512.3 243v2.4M511.3 243h2M511.3 245.4h2M514 236.9v3.3M513 236.9h2M513 240.3h2M515.1 241.5v3.2M514.1 241.5h2M514.1 244.7h2M516.5 243.1v2.6M515.5 243.1h2M515.5 245.7h2M517.9 240.2v2.5M516.9 240.2h2M516.9 242.7h2M519.2 236.7v3.2M518.2 236.7h2M518.2 239.9h2M519.9 238.6v3.1M518.9 238.6h2M518.9 241.7h2M521.3 241.6v3.1M520.3 241.6h2M520.3 244.7h2M523.3 239.8v2M522.3 239.8h2M522.3 241.8h2M524.2 233.2v2.3M523.2 233.2h2M523.2 235.5h2M525.5 239.9v2.5M524.5 239.9h2M524.5 242.3h2M527 239v2.4M526 239h2M526 241.4h2M527.8 247.9v3M526.8 247.9h2M526.8 250.9h2M529.3 243.6v2.1M528.3 243.6h2M528.3 245.8h2M530.9 242.5v3M529.9 242.5h2M529.9 245.5h2M532.2 237.1v2.6M531.2 237.1h2M531.2 239.7h2M533.1 236.7v3.2M532.1 236.7h2M532.1 239.9h2M534.2 240.2v2.3M533.2 240.2h2M533.2 242.5h2M535.6 238.6v3.3M534.6 238.6h2M534.6 241.9h2M537.1 234.2v2.3M536.1 234.2h2M536.1 236.5h2M538.4 244.5v2.7M537.4 244.5h2M537.4 247.3h2M539.9 239.6v2.5M538.9 239.6h2M538.9 242.1h2M540.8 234.5v2.2M539.8 234.5h2M539.8 236.7h2M542.6 236.5v2.2M541.6 236.5h2M541.6 238.8h2M543.5 234.2v3.1M542.5 234.2h2M542.5 237.3h2M544.9 242v3.2M543.9 242h2M543.9 245.2h2M545.9 242.5v2.3M544.9 242.5h2M544.9 244.7h2M547.3 237.6v2.2M546.3 237.6h2M546.3 239.9h2M548.4 232.9v2.3M547.4 232.9h2M547.4 235.3h2M549.9 237.4v2.5M548.9 237.4h2M548.9 239.9h2M551.1 238.8v3.4M550.1 238.8h2M550.1 242.1h2M552.8 247.1v2.1M551.8 247.1h2M551.8 249.2h2M553.8 244.6v3.4M552.8 244.6h2M552.8 247.9h2M555.4 239.2v2.3M554.4 239.2h2M554.4 241.5h2" stroke="#222" stroke-width="0.7" fill="none"/>
<text x="331" y="226.8" font-size="7.2" text-anchor="start" fill="#000" color="#000">i</text>
<text x="357.4" y="226.8" font-size="7.3" text-anchor="start" fill="#000" color="#000">2017 Oct 13 - CHAT 0.7m</text>
<text x="158.7" y="328.8" font-size="8.2" text-anchor="middle" font-weight="bold" fill="#000" color="#000">HATS-60 RVs and BSs</text>
<rect x="33.2" y="338.4" width="251" height="154" fill="none" stroke="#8a8a8a" stroke-width="1.4"/>
<rect x="33.2" y="499.2" width="251" height="72.6" fill="none" stroke="#8a8a8a" stroke-width="1.4"/>
<rect x="33.2" y="580.3" width="251" height="73.4" fill="none" stroke="#8a8a8a" stroke-width="1.4"/>
<path d="M54.1 338.4v2.5M54.1 492.4v-2.5M54.1 499.2v2.5M54.1 571.8v-2.5M54.1 580.3v2.5M54.1 653.7v-2.5M95.9 338.4v2.5M95.9 492.4v-2.5M95.9 499.2v2.5M95.9 571.8v-2.5M95.9 580.3v2.5M95.9 653.7v-2.5M137.7 338.4v2.5M137.7 492.4v-2.5M137.7 499.2v2.5M137.7 571.8v-2.5M137.7 580.3v2.5M137.7 653.7v-2.5M179.5 338.4v2.5M179.5 492.4v-2.5M179.5 499.2v2.5M179.5 571.8v-2.5M179.5 580.3v2.5M179.5 653.7v-2.5M221.3 338.4v2.5M221.3 492.4v-2.5M221.3 499.2v2.5M221.3 571.8v-2.5M221.3 580.3v2.5M221.3 653.7v-2.5M263.1 338.4v2.5M263.1 492.4v-2.5M263.1 499.2v2.5M263.1 571.8v-2.5M263.1 580.3v2.5M263.1 653.7v-2.5M33.2 338.4h2.5M284.2 338.4h-2.5M33.2 364.1h2.5M284.2 364.1h-2.5M33.2 389.8h2.5M284.2 389.8h-2.5M33.2 415.5h2.5M284.2 415.5h-2.5M33.2 441.2h2.5M284.2 441.2h-2.5M33.2 466.9h2.5M284.2 466.9h-2.5M33.2 492.6h2.5M284.2 492.6h-2.5M33.2 571.7h2.5M284.2 571.7h-2.5M33.2 562.7h2.5M284.2 562.7h-2.5M33.2 553.6h2.5M284.2 553.6h-2.5M33.2 544.6h2.5M284.2 544.6h-2.5M33.2 535.5h2.5M284.2 535.5h-2.5M33.2 526.4h2.5M284.2 526.4h-2.5M33.2 517.4h2.5M284.2 517.4h-2.5M33.2 508.3h2.5M284.2 508.3h-2.5M33.2 499.3h2.5M284.2 499.3h-2.5M33.2 653.5h2.5M284.2 653.5h-2.5M33.2 645.4h2.5M284.2 645.4h-2.5M33.2 637.3h2.5M284.2 637.3h-2.5M33.2 629.2h2.5M284.2 629.2h-2.5M33.2 621.1h2.5M284.2 621.1h-2.5M33.2 613h2.5M284.2 613h-2.5M33.2 604.9h2.5M284.2 604.9h-2.5M33.2 596.8h2.5M284.2 596.8h-2.5M33.2 588.7h2.5M284.2 588.7h-2.5M33.2 580.5h2.5M284.2 580.5h-2.5" stroke="#666" stroke-width="0.8" fill="none"/>
<text x="28" y="341.3" font-size="8.2" text-anchor="end" fill="#000" color="#000">150</text>
<text x="28" y="367" font-size="8.2" text-anchor="end" fill="#000" color="#000">100</text>
<text x="28" y="392.7" font-size="8.2" text-anchor="end" fill="#000" color="#000">50</text>
<text x="28" y="418.4" font-size="8.2" text-anchor="end" fill="#000" color="#000">0</text>
<text x="28" y="444.1" font-size="8.2" text-anchor="end" fill="#000" color="#000">-50</text>
<text x="28" y="469.8" font-size="8.2" text-anchor="end" fill="#000" color="#000">-100</text>
<text x="28" y="495.5" font-size="8.2" text-anchor="end" fill="#000" color="#000">-150</text>
<text x="28" y="574.6" font-size="8.2" text-anchor="end" fill="#000" color="#000">-80</text>
<text x="28" y="565.6" font-size="8.2" text-anchor="end" fill="#000" color="#000">-60</text>
<text x="28" y="556.5" font-size="8.2" text-anchor="end" fill="#000" color="#000">-40</text>
<text x="28" y="547.5" font-size="8.2" text-anchor="end" fill="#000" color="#000">-20</text>
<text x="28" y="538.4" font-size="8.2" text-anchor="end" fill="#000" color="#000">0</text>
<text x="28" y="529.3" font-size="8.2" text-anchor="end" fill="#000" color="#000">20</text>
<text x="28" y="520.3" font-size="8.2" text-anchor="end" fill="#000" color="#000">40</text>
<text x="28" y="511.2" font-size="8.2" text-anchor="end" fill="#000" color="#000">60</text>
<text x="28" y="502.2" font-size="8.2" text-anchor="end" fill="#000" color="#000">80</text>
<text x="28" y="656.4" font-size="8.2" text-anchor="end" fill="#000" color="#000">-60</text>
<text x="28" y="648.3" font-size="8.2" text-anchor="end" fill="#000" color="#000">-40</text>
<text x="28" y="640.2" font-size="8.2" text-anchor="end" fill="#000" color="#000">-20</text>
<text x="28" y="632.1" font-size="8.2" text-anchor="end" fill="#000" color="#000">0</text>
<text x="28" y="624" font-size="8.2" text-anchor="end" fill="#000" color="#000">20</text>
<text x="28" y="615.9" font-size="8.2" text-anchor="end" fill="#000" color="#000">40</text>
<text x="28" y="607.8" font-size="8.2" text-anchor="end" fill="#000" color="#000">60</text>
<text x="28" y="599.7" font-size="8.2" text-anchor="end" fill="#000" color="#000">80</text>
<text x="28" y="591.6" font-size="8.2" text-anchor="end" fill="#000" color="#000">100</text>
<text x="28" y="583.4" font-size="8.2" text-anchor="end" fill="#000" color="#000">120</text>
<text x="54.1" y="664.3" font-size="8.2" text-anchor="middle" fill="#000" color="#000">0.0</text>
<text x="95.9" y="664.3" font-size="8.2" text-anchor="middle" fill="#000" color="#000">0.2</text>
<text x="137.7" y="664.3" font-size="8.2" text-anchor="middle" fill="#000" color="#000">0.4</text>
<text x="179.5" y="664.3" font-size="8.2" text-anchor="middle" fill="#000" color="#000">0.6</text>
<text x="221.3" y="664.3" font-size="8.2" text-anchor="middle" fill="#000" color="#000">0.8</text>
<text x="263.1" y="664.3" font-size="8.2" text-anchor="middle" fill="#000" color="#000">1.0</text>
<text x="158.5" y="671.6" font-size="8" text-anchor="middle">Phase with respect to T<tspan font-size="5.6" dy="2">c</tspan></text>
<text transform="translate(13 415.5) rotate(-90)" font-size="7.6" text-anchor="middle">RV (ms<tspan font-size="5.3" dy="-3">-1</tspan><tspan dy="3">)</tspan></text>
<text transform="translate(12.2 535.6) rotate(-90)" font-size="7.6" text-anchor="middle">O-C (ms<tspan font-size="5.3" dy="-3">-1</tspan><tspan dy="3">)</tspan></text>
<text transform="translate(8 617) rotate(-90)" font-size="7.6" text-anchor="middle">BS (ms<tspan font-size="5.3" dy="-3">-1</tspan><tspan dy="3">)</tspan></text>
<path d="M33.2 391.5 L34 392.3 L34.9 393.2 L35.7 394 L36.5 394.9 L37.4 395.8 L38.2 396.7 L39.1 397.6 L39.9 398.6 L40.7 399.5 L41.6 400.5 L42.4 401.4 L43.2 402.4 L44.1 403.4 L44.9 404.3 L45.7 405.3 L46.6 406.3 L47.4 407.3 L48.2 408.3 L49.1 409.4 L49.9 410.4 L50.8 411.4 L51.6 412.4 L52.4 413.4 L53.3 414.5 L54.1 415.5 L54.9 416.5 L55.8 417.6 L56.6 418.6 L57.4 419.6 L58.3 420.6 L59.1 421.6 L60 422.7 L60.8 423.7 L61.6 424.7 L62.5 425.7 L63.3 426.7 L64.1 427.6 L65 428.6 L65.8 429.6 L66.6 430.5 L67.5 431.5 L68.3 432.4 L69.1 433.4 L70 434.3 L70.8 435.2 L71.7 436.1 L72.5 437 L73.3 437.8 L74.2 438.7 L75 439.5 L75.8 440.3 L76.7 441.1 L77.5 441.9 L78.3 442.7 L79.2 443.5 L80 444.2 L80.9 444.9 L81.7 445.6 L82.5 446.3 L83.4 447 L84.2 447.6 L85 448.3 L85.9 448.9 L86.7 449.4 L87.5 450 L88.4 450.5 L89.2 451.1 L90 451.6 L90.9 452 L91.7 452.5 L92.6 452.9 L93.4 453.3 L94.2 453.7 L95.1 454 L95.9 454.4 L96.7 454.7 L97.6 454.9 L98.4 455.2 L99.2 455.4 L100.1 455.6 L100.9 455.8 L101.8 456 L102.6 456.1 L103.4 456.2 L104.3 456.3 L105.1 456.3 L105.9 456.4 L106.8 456.4 L107.6 456.3 L108.4 456.3 L109.3 456.2 L110.1 456.1 L110.9 456 L111.8 455.8 L112.6 455.6 L113.5 455.4 L114.3 455.2 L115.1 454.9 L116 454.7 L116.8 454.4 L117.6 454 L118.5 453.7 L119.3 453.3 L120.1 452.9 L121 452.5 L121.8 452 L122.7 451.6 L123.5 451.1 L124.3 450.5 L125.2 450 L126 449.4 L126.8 448.9 L127.7 448.3 L128.5 447.6 L129.3 447 L130.2 446.3 L131 445.6 L131.8 444.9 L132.7 444.2 L133.5 443.5 L134.4 442.7 L135.2 441.9 L136 441.1 L136.9 440.3 L137.7 439.5 L138.5 438.7 L139.4 437.8 L140.2 437 L141 436.1 L141.9 435.2 L142.7 434.3 L143.6 433.4 L144.4 432.4 L145.2 431.5 L146.1 430.5 L146.9 429.6 L147.7 428.6 L148.6 427.6 L149.4 426.7 L150.2 425.7 L151.1 424.7 L151.9 423.7 L152.7 422.7 L153.6 421.6 L154.4 420.6 L155.3 419.6 L156.1 418.6 L156.9 417.6 L157.8 416.5 L158.6 415.5 L159.4 414.5 L160.3 413.4 L161.1 412.4 L161.9 411.4 L162.8 410.4 L163.6 409.4 L164.5 408.3 L165.3 407.3 L166.1 406.3 L167 405.3 L167.8 404.3 L168.6 403.4 L169.5 402.4 L170.3 401.4 L171.1 400.5 L172 399.5 L172.8 398.6 L173.6 397.6 L174.5 396.7 L175.3 395.8 L176.2 394.9 L177 394 L177.8 393.2 L178.7 392.3 L179.5 391.5 L180.3 390.7 L181.2 389.9 L182 389.1 L182.8 388.3 L183.7 387.5 L184.5 386.8 L185.4 386.1 L186.2 385.4 L187 384.7 L187.9 384 L188.7 383.4 L189.5 382.7 L190.4 382.1 L191.2 381.6 L192 381 L192.9 380.5 L193.7 379.9 L194.5 379.4 L195.4 379 L196.2 378.5 L197.1 378.1 L197.9 377.7 L198.7 377.3 L199.6 377 L200.4 376.6 L201.2 376.3 L202.1 376.1 L202.9 375.8 L203.7 375.6 L204.6 375.4 L205.4 375.2 L206.3 375 L207.1 374.9 L207.9 374.8 L208.8 374.7 L209.6 374.7 L210.4 374.6 L211.3 374.6 L212.1 374.7 L212.9 374.7 L213.8 374.8 L214.6 374.9 L215.4 375 L216.3 375.2 L217.1 375.4 L218 375.6 L218.8 375.8 L219.6 376.1 L220.5 376.3 L221.3 376.6 L222.1 377 L223 377.3 L223.8 377.7 L224.6 378.1 L225.5 378.5 L226.3 379 L227.2 379.4 L228 379.9 L228.8 380.5 L229.7 381 L230.5 381.6 L231.3 382.1 L232.2 382.7 L233 383.4 L233.8 384 L234.7 384.7 L235.5 385.4 L236.3 386.1 L237.2 386.8 L238 387.5 L238.9 388.3 L239.7 389.1 L240.5 389.9 L241.4 390.7 L242.2 391.5 L243 392.3 L243.9 393.2 L244.7 394 L245.5 394.9 L246.4 395.8 L247.2 396.7 L248.1 397.6 L248.9 398.6 L249.7 399.5 L250.6 400.5 L251.4 401.4 L252.2 402.4 L253.1 403.4 L253.9 404.3 L254.7 405.3 L255.6 406.3 L256.4 407.3 L257.2 408.3 L258.1 409.4 L258.9 410.4 L259.8 411.4 L260.6 412.4 L261.4 413.4 L262.3 414.5 L263.1 415.5 L263.9 416.5 L264.8 417.6 L265.6 418.6 L266.4 419.6 L267.3 420.6 L268.1 421.6 L269 422.7 L269.8 423.7 L270.6 424.7 L271.5 425.7 L272.3 426.7 L273.1 427.6 L274 428.6 L274.8 429.6 L275.6 430.5 L276.5 431.5 L277.3 432.4 L278.1 433.4 L279 434.3 L279.8 435.2 L280.7 436.1 L281.5 437 L282.3 437.8 L283.2 438.7 L284 439.5" stroke="#555" stroke-width="0.9" fill="none"/>
<path d="M33.2 535.5H284.2" stroke="#333" stroke-width="0.7" stroke-dasharray="1 1.2" fill="none"/>
<path d="M33.2 629.2H284.2" stroke="#333" stroke-width="0.7" stroke-dasharray="1 1.2" fill="none"/>
<path d="M93.6 447.4V468.3M92.5 447.4h2.2M92.5 468.3h2.2" stroke="#c04040" stroke-width="0.6" fill="none" opacity="0.8"/>
<path d="M93.6 455.1L96.5 460.3L90.7 460.3Z" fill="#990000"/>
<path d="M96.4 443V459.2M95.3 443h2.2M95.3 459.2h2.2" stroke="#5060d0" stroke-width="0.6" fill="none" opacity="0.8"/>
<circle cx="96.4" cy="451.4" r="2.9" fill="#00008b"/>
<path d="M122.1 445.6V456.2M121 445.6h2.2M121 456.2h2.2" stroke="#5060d0" stroke-width="0.6" fill="none" opacity="0.8"/>
<circle cx="122.1" cy="451.4" r="2.9" fill="#00008b"/>
<path d="M135.5 428.4V449.9M134.4 428.4h2.2M134.4 449.9h2.2" stroke="#c04040" stroke-width="0.6" fill="none" opacity="0.8"/>
<path d="M135.5 436.1L138.4 441.3L132.6 441.3Z" fill="#990000"/>
<path d="M150.6 421.4V442.3M149.5 421.4h2.2M149.5 442.3h2.2" stroke="#c04040" stroke-width="0.6" fill="none" opacity="0.8"/>
<path d="M150.6 428.8L153.5 434L147.7 434Z" fill="#990000"/>
<path d="M157 418V436M155.9 418h2.2M155.9 436h2.2" stroke="#5060d0" stroke-width="0.6" fill="none" opacity="0.8"/>
<circle cx="157" cy="427" r="2.9" fill="#00008b"/>
<path d="M166.3 374.3V396.2M165.2 374.3h2.2M165.2 396.2h2.2" stroke="#c04040" stroke-width="0.6" fill="none" opacity="0.8"/>
<path d="M166.3 382.2L169.2 387.4L163.4 387.4Z" fill="#990000"/>
<path d="M169.1 391.8V413.5M168 391.8h2.2M168 413.5h2.2" stroke="#c04040" stroke-width="0.6" fill="none" opacity="0.8"/>
<path d="M169.1 399.2L172 404.4L166.2 404.4Z" fill="#990000"/>
<path d="M181.8 370.4V381.5M180.7 370.4h2.2M180.7 381.5h2.2" stroke="#5060d0" stroke-width="0.6" fill="none" opacity="0.8"/>
<circle cx="181.8" cy="376.3" r="2.9" fill="#00008b"/>
<path d="M190.8 371.7V392.8M189.7 371.7h2.2M189.7 392.8h2.2" stroke="#c04040" stroke-width="0.6" fill="none" opacity="0.8"/>
<path d="M190.8 379.1L193.7 384.3L187.9 384.3Z" fill="#990000"/>
<path d="M213.5 377.4V413M212.4 377.4h2.2M212.4 413h2.2" stroke="#5060d0" stroke-width="0.6" fill="none" opacity="0.8"/>
<circle cx="213.5" cy="395.4" r="2.9" fill="#00008b"/>
<path d="M226.3 370.4V393.1M225.2 370.4h2.2M225.2 393.1h2.2" stroke="#c04040" stroke-width="0.6" fill="none" opacity="0.8"/>
<path d="M226.3 378.3L229.2 383.5L223.4 383.5Z" fill="#990000"/>
<path d="M230.2 391.5V413.5M229.1 391.5h2.2M229.1 413.5h2.2" stroke="#c04040" stroke-width="0.6" fill="none" opacity="0.8"/>
<path d="M230.2 399L233.1 404.2L227.3 404.2Z" fill="#990000"/>
<path d="M249 387.7V409.1M247.9 387.7h2.2M247.9 409.1h2.2" stroke="#c04040" stroke-width="0.6" fill="none" opacity="0.8"/>
<path d="M249 394.6L251.9 399.8L246.1 399.8Z" fill="#990000"/>
<path d="M251.6 387.7V408.5M250.5 387.7h2.2M250.5 408.5h2.2" stroke="#c04040" stroke-width="0.6" fill="none" opacity="0.8"/>
<path d="M251.6 394.6L254.5 399.8L248.7 399.8Z" fill="#990000"/>
<path d="M93.7 530.2V549.1M92.6 530.2h2.2M92.6 549.1h2.2" stroke="#c04040" stroke-width="0.6" fill="none" opacity="0.8"/>
<path d="M93.7 536.4L96.6 541.6L90.8 541.6Z" fill="#990000"/>
<path d="M96.7 525V539.3M95.6 525h2.2M95.6 539.3h2.2" stroke="#5060d0" stroke-width="0.6" fill="none" opacity="0.8"/>
<circle cx="96.7" cy="532.1" r="2.9" fill="#00008b"/>
<path d="M122.1 530.2V539.7M121 530.2h2.2M121 539.7h2.2" stroke="#5060d0" stroke-width="0.6" fill="none" opacity="0.8"/>
<circle cx="122.1" cy="534.9" r="2.9" fill="#00008b"/>
<path d="M135.3 523.4V542.8M134.2 523.4h2.2M134.2 542.8h2.2" stroke="#c04040" stroke-width="0.6" fill="none" opacity="0.8"/>
<path d="M135.3 529.9L138.2 535.1L132.4 535.1Z" fill="#990000"/>
<path d="M150.8 532V551.4M149.7 532h2.2M149.7 551.4h2.2" stroke="#c04040" stroke-width="0.6" fill="none" opacity="0.8"/>
<path d="M150.8 538.5L153.7 543.7L147.9 543.7Z" fill="#990000"/>
<path d="M157 535.7V552.6M155.9 535.7h2.2M155.9 552.6h2.2" stroke="#5060d0" stroke-width="0.6" fill="none" opacity="0.8"/>
<circle cx="157" cy="544" r="2.9" fill="#00008b"/>
<path d="M166.4 507.4V526.8M165.3 507.4h2.2M165.3 526.8h2.2" stroke="#c04040" stroke-width="0.6" fill="none" opacity="0.8"/>
<path d="M166.4 513.9L169.3 519.1L163.5 519.1Z" fill="#990000"/>
<path d="M169 525.9V545.2M167.9 525.9h2.2M167.9 545.2h2.2" stroke="#c04040" stroke-width="0.6" fill="none" opacity="0.8"/>
<path d="M169 532.1L171.9 537.3L166.1 537.3Z" fill="#990000"/>
<path d="M182 519.3V529M180.9 519.3h2.2M180.9 529h2.2" stroke="#5060d0" stroke-width="0.6" fill="none" opacity="0.8"/>
<circle cx="182" cy="524.3" r="2.9" fill="#00008b"/>
<path d="M190.6 526.3V545.5M189.5 526.3h2.2M189.5 545.5h2.2" stroke="#c04040" stroke-width="0.6" fill="none" opacity="0.8"/>
<path d="M190.6 532.7L193.5 537.9L187.7 537.9Z" fill="#990000"/>
<path d="M213.3 538.3V569.2M212.2 538.3h2.2M212.2 569.2h2.2" stroke="#5060d0" stroke-width="0.6" fill="none" opacity="0.8"/>
<circle cx="213.3" cy="554" r="2.9" fill="#00008b"/>
<path d="M226.7 528V548.2M225.6 528h2.2M225.6 548.2h2.2" stroke="#c04040" stroke-width="0.6" fill="none" opacity="0.8"/>
<path d="M226.7 534.8L229.6 540L223.8 540Z" fill="#990000"/>
<path d="M230.2 544.5V564.1M229.1 544.5h2.2M229.1 564.1h2.2" stroke="#c04040" stroke-width="0.6" fill="none" opacity="0.8"/>
<path d="M230.2 551.3L233.1 556.5L227.3 556.5Z" fill="#990000"/>
<path d="M249.4 525.5V544.5M248.3 525.5h2.2M248.3 544.5h2.2" stroke="#c04040" stroke-width="0.6" fill="none" opacity="0.8"/>
<path d="M249.4 531.7L252.3 536.9L246.5 536.9Z" fill="#990000"/>
<path d="M252.1 523.2V541.4M251 523.2h2.2M251 541.4h2.2" stroke="#c04040" stroke-width="0.6" fill="none" opacity="0.8"/>
<path d="M252.1 529.2L255 534.4L249.2 534.4Z" fill="#990000"/>
<path d="M93.7 626.2V636M92.6 626.2h2.2M92.6 636h2.2" stroke="#c04040" stroke-width="0.6" fill="none" opacity="0.8"/>
<path d="M93.7 627.6L96.6 632.8L90.8 632.8Z" fill="#990000"/>
<path d="M96.7 605.4V622.6M95.6 605.4h2.2M95.6 622.6h2.2" stroke="#5060d0" stroke-width="0.6" fill="none" opacity="0.8"/>
<circle cx="96.7" cy="614.2" r="2.9" fill="#00008b"/>
<path d="M122.1 623.5V634.3M121 623.5h2.2M121 634.3h2.2" stroke="#5060d0" stroke-width="0.6" fill="none" opacity="0.8"/>
<circle cx="122.1" cy="628.8" r="2.9" fill="#00008b"/>
<path d="M135.3 614.9V626.2M134.2 614.9h2.2M134.2 626.2h2.2" stroke="#c04040" stroke-width="0.6" fill="none" opacity="0.8"/>
<path d="M135.3 617.1L138.2 622.3L132.4 622.3Z" fill="#990000"/>
<path d="M150.8 624.5V635.1M149.7 624.5h2.2M149.7 635.1h2.2" stroke="#c04040" stroke-width="0.6" fill="none" opacity="0.8"/>
<path d="M150.8 626.7L153.7 631.9L147.9 631.9Z" fill="#990000"/>
<path d="M157 631.4V650.3M155.9 631.4h2.2M155.9 650.3h2.2" stroke="#5060d0" stroke-width="0.6" fill="none" opacity="0.8"/>
<circle cx="157" cy="640.8" r="2.9" fill="#00008b"/>
<path d="M166.4 634.3V645.8M165.3 634.3h2.2M165.3 645.8h2.2" stroke="#c04040" stroke-width="0.6" fill="none" opacity="0.8"/>
<path d="M166.4 636.9L169.3 642.1L163.5 642.1Z" fill="#990000"/>
<path d="M169 634.3V645.8M167.9 634.3h2.2M167.9 645.8h2.2" stroke="#c04040" stroke-width="0.6" fill="none" opacity="0.8"/>
<path d="M169 636.9L171.9 642.1L166.1 642.1Z" fill="#990000"/>
<path d="M182 615.2V625.5M180.9 615.2h2.2M180.9 625.5h2.2" stroke="#5060d0" stroke-width="0.6" fill="none" opacity="0.8"/>
<circle cx="182" cy="620.4" r="2.9" fill="#00008b"/>
<path d="M190.6 618.3V630.3M189.5 618.3h2.2M189.5 630.3h2.2" stroke="#c04040" stroke-width="0.6" fill="none" opacity="0.8"/>
<path d="M190.6 621L193.5 626.2L187.7 626.2Z" fill="#990000"/>
<path d="M213.3 586.3V623.5M212.2 586.3h2.2M212.2 623.5h2.2" stroke="#5060d0" stroke-width="0.6" fill="none" opacity="0.8"/>
<circle cx="213.3" cy="604.9" r="2.9" fill="#00008b"/>
<path d="M226.3 638.9V652.3M225.2 638.9h2.2M225.2 652.3h2.2" stroke="#c04040" stroke-width="0.6" fill="none" opacity="0.8"/>
<path d="M226.3 642.2L229.2 647.4L223.4 647.4Z" fill="#990000"/>
<path d="M230.2 634.8V646.8M229.1 634.8h2.2M229.1 646.8h2.2" stroke="#c04040" stroke-width="0.6" fill="none" opacity="0.8"/>
<path d="M230.2 637.5L233.1 642.7L227.3 642.7Z" fill="#990000"/>
<path d="M249.4 625.5V636.4M248.3 625.5h2.2M248.3 636.4h2.2" stroke="#c04040" stroke-width="0.6" fill="none" opacity="0.8"/>
<path d="M249.4 627.8L252.3 633L246.5 633Z" fill="#990000"/>
<path d="M252.1 638.9V648.2M251 638.9h2.2M251 648.2h2.2" stroke="#c04040" stroke-width="0.6" fill="none" opacity="0.8"/>
<path d="M252.1 640.6L255 645.8L249.2 645.8Z" fill="#990000"/>
<path d="M66.1 344.6H89.5M66.1 343.4v2.4M89.5 343.4v2.4" stroke="#d89090" stroke-width="0.8" fill="none"/>
<path d="M78.1 341.9L81 347.1L75.2 347.1Z" fill="#990000"/>
<path d="M66.1 353.1H89.5M66.1 351.9v2.4M89.5 351.9v2.4" stroke="#9aa4e4" stroke-width="0.8" fill="none"/>
<circle cx="78.1" cy="353.1" r="2.9" fill="#00008b"/>
<text x="35" y="347.6" font-size="8.2" text-anchor="start" fill="#000" color="#000">FEROS</text>
<text x="35" y="356.1" font-size="8.2" text-anchor="start" fill="#000" color="#000">HARPS</text>
<text x="447" y="335.1" font-size="8.2" text-anchor="middle" font-weight="bold" fill="#000" color="#000">HATS-60 [Fe/H] = 0.32 CMD and SED</text>
<rect x="326.4" y="344.4" width="240.7" height="113.4" fill="none" stroke="#8a8a8a" stroke-width="1.4"/>
<path d="M326.4 457.8v-2.5M326.4 344.4v2.5M332.4 457.8v-1.3M332.4 344.4v1.3M338.4 457.8v-1.3M338.4 344.4v1.3M344.5 457.8v-1.3M344.5 344.4v1.3M350.5 457.8v-1.3M350.5 344.4v1.3M356.5 457.8v-2.5M356.5 344.4v2.5M362.5 457.8v-1.3M362.5 344.4v1.3M368.5 457.8v-1.3M368.5 344.4v1.3M374.5 457.8v-1.3M374.5 344.4v1.3M380.6 457.8v-1.3M380.6 344.4v1.3M386.6 457.8v-2.5M386.6 344.4v2.5M392.6 457.8v-1.3M392.6 344.4v1.3M398.6 457.8v-1.3M398.6 344.4v1.3M404.6 457.8v-1.3M404.6 344.4v1.3M410.6 457.8v-1.3M410.6 344.4v1.3M416.7 457.8v-2.5M416.7 344.4v2.5M422.7 457.8v-1.3M422.7 344.4v1.3M428.7 457.8v-1.3M428.7 344.4v1.3M434.7 457.8v-1.3M434.7 344.4v1.3M440.7 457.8v-1.3M440.7 344.4v1.3M446.8 457.8v-2.5M446.8 344.4v2.5M452.8 457.8v-1.3M452.8 344.4v1.3M458.8 457.8v-1.3M458.8 344.4v1.3M464.8 457.8v-1.3M464.8 344.4v1.3M470.8 457.8v-1.3M470.8 344.4v1.3M476.8 457.8v-2.5M476.8 344.4v2.5M482.9 457.8v-1.3M482.9 344.4v1.3M488.9 457.8v-1.3M488.9 344.4v1.3M494.9 457.8v-1.3M494.9 344.4v1.3M500.9 457.8v-1.3M500.9 344.4v1.3M506.9 457.8v-2.5M506.9 344.4v2.5M512.9 457.8v-1.3M512.9 344.4v1.3M519 457.8v-1.3M519 344.4v1.3M525 457.8v-1.3M525 344.4v1.3M531 457.8v-1.3M531 344.4v1.3M537 457.8v-2.5M537 344.4v2.5M543 457.8v-1.3M543 344.4v1.3M549 457.8v-1.3M549 344.4v1.3M555.1 457.8v-1.3M555.1 344.4v1.3M561.1 457.8v-1.3M561.1 344.4v1.3M567.1 457.8v-2.5M567.1 344.4v2.5M326.4 344.4h2.5M567.1 344.4h-2.5M326.4 355.7h1.3M567.1 355.7h-1.3M326.4 367.1h2.5M567.1 367.1h-2.5M326.4 378.4h1.3M567.1 378.4h-1.3M326.4 389.8h2.5M567.1 389.8h-2.5M326.4 401.1h1.3M567.1 401.1h-1.3M326.4 412.4h2.5M567.1 412.4h-2.5M326.4 423.8h1.3M567.1 423.8h-1.3M326.4 435.1h2.5M567.1 435.1h-2.5M326.4 446.5h1.3M567.1 446.5h-1.3M326.4 457.8h2.5M567.1 457.8h-2.5" stroke="#666" stroke-width="0.8" fill="none"/>
<text x="326.4" y="470.3" font-size="8.2" text-anchor="middle" fill="#000" color="#000">0.65</text>
<text x="356.5" y="470.3" font-size="8.2" text-anchor="middle" fill="#000" color="#000">0.70</text>
<text x="386.6" y="470.3" font-size="8.2" text-anchor="middle" fill="#000" color="#000">0.75</text>
<text x="416.7" y="470.3" font-size="8.2" text-anchor="middle" fill="#000" color="#000">0.80</text>
<text x="446.8" y="470.3" font-size="8.2" text-anchor="middle" fill="#000" color="#000">0.85</text>
<text x="476.8" y="470.3" font-size="8.2" text-anchor="middle" fill="#000" color="#000">0.90</text>
<text x="506.9" y="470.3" font-size="8.2" text-anchor="middle" fill="#000" color="#000">0.95</text>
<text x="537" y="470.3" font-size="8.2" text-anchor="middle" fill="#000" color="#000">1.00</text>
<text x="567.1" y="470.3" font-size="8.2" text-anchor="middle" fill="#000" color="#000">1.05</text>
<text x="321.3" y="347.3" font-size="8.2" text-anchor="end" fill="#000" color="#000">3.4</text>
<text x="321.3" y="370" font-size="8.2" text-anchor="end" fill="#000" color="#000">3.6</text>
<text x="321.3" y="392.7" font-size="8.2" text-anchor="end" fill="#000" color="#000">3.8</text>
<text x="321.3" y="415.3" font-size="8.2" text-anchor="end" fill="#000" color="#000">4.0</text>
<text x="321.3" y="438" font-size="8.2" text-anchor="end" fill="#000" color="#000">4.2</text>
<text x="321.3" y="460.7" font-size="8.2" text-anchor="end" fill="#000" color="#000">4.4</text>
<text x="447" y="481.8" font-size="8" text-anchor="middle">BP<tspan font-size="5.6" dy="2">0</tspan><tspan dy="-2">-RP</tspan><tspan font-size="5.6" dy="2">0</tspan><tspan dy="-2"> [mag]</tspan></text>
<text transform="translate(299.4 401.5) rotate(-90)" font-size="8.3" text-anchor="middle">G<tspan font-size="5.8" dy="2">abs</tspan><tspan dy="-2"> [mag]</tspan></text>
<path d="M326.4 383.6C328.9 386.3 331.2 389.4 341.7 400C352.1 410.6 381.2 439.5 389.1 447.4" stroke="#646464" stroke-width="0.85" fill="none"/>
<path d="M326.4 372.6C330.5 377.2 340.9 388.6 351.3 400C361.8 411.4 382.8 434.3 389.1 441.2" stroke="#646464" stroke-width="0.85" fill="none"/>
<path d="M329.1 345.1C333.7 352.1 350.8 377.9 356.6 387C362.4 396.1 360.5 395.2 363.7 400C366.9 404.8 371.7 410.8 376 416C380.3 421.2 387.2 428.9 389.5 431.5" stroke="#646464" stroke-width="0.85" fill="none"/>
<path d="M362.1 344.6C362.3 346.2 362.1 348.5 363.5 354C364.9 359.5 367.4 369.4 370.4 377.4C373.4 385.4 378.1 395.4 381.5 402C384.9 408.6 388.1 413.3 391 417C393.9 420.7 397.7 422.8 399 424" stroke="#646464" stroke-width="0.85" fill="none"/>
<path d="M395 344.7C395.1 348.1 395 360.6 395.9 365.3C396.8 370 398.1 370.5 400.2 373.1C402.3 375.7 406.6 378.1 408.7 380.8C410.8 383.5 412.3 387.2 413 389.4C413.7 391.6 413.4 392 413.1 393.9C412.8 395.8 411.8 398.2 411 400.7C410.2 403.2 408.9 406.9 408.2 409C407.5 411.1 407.2 412.3 407 413" stroke="#646464" stroke-width="0.85" fill="none"/>
<path d="M409.6 344.7C408.8 346.7 406.1 352.7 404.5 356.7C402.9 360.7 401.5 365.1 400.2 368.8C398.9 372.5 397.5 375.6 396.7 379.1C395.9 382.6 395.5 386.9 395.5 390C395.5 393.1 395.6 393 396.5 398C397.4 403 399.7 415.7 400.6 420C401.5 424.3 401.8 423.3 402 424" stroke="#646464" stroke-width="0.85" fill="none"/>
<path d="M566.2 357.2C560.2 356.3 541.8 353.5 530.1 352C518.4 350.5 504.2 348.9 495.8 348.2C487.4 347.4 485.4 347.5 480 347.5C474.6 347.5 470.7 347.2 463.7 348.2C456.7 349.2 445.1 350.7 438 353.3C430.9 355.9 424.8 360.2 420.8 363.6C416.8 367 415.2 370.2 413.9 373.9C412.6 377.6 413 381.7 413 386C413 390.3 413.5 396.7 413.9 399.7C414.2 402.7 414.6 402.6 415.1 404C415.7 405.4 416.9 407.3 417.2 408" stroke="#646464" stroke-width="0.85" fill="none"/>
<path d="M566.2 370.6C561.6 370.1 549 369.2 538.7 367.8C528.4 366.4 513.3 363.7 504.4 362.3C495.5 360.9 490.9 359.7 485.5 359.2C480.1 358.7 478.2 358.6 472.3 359.3C466.4 360 456 361.5 450 363.6C444 365.8 439.6 368.8 436.2 372.2C432.8 375.6 430.7 379.6 429.4 384.2C428.1 388.8 428.6 396 428.5 400C428.4 404 428.5 406.7 428.5 408" stroke="#646464" stroke-width="0.85" fill="none"/>
<path d="M566.2 381.2C561.1 380.8 545.6 379.9 535.3 378.7C525 377.5 512.7 375 504.4 374C496.1 373 490.3 372.8 485.5 372.6C480.7 372.5 480.3 372.3 475.8 373.1C471.3 373.9 463.5 375 458.6 377.4C453.7 379.8 448.8 383.9 446.5 387.7C444.2 391.5 445.5 396.5 444.8 400C444.1 403.5 442.9 407.1 442.5 408.5" stroke="#646464" stroke-width="0.85" fill="none"/>
<path d="M565.9 392.3C561.5 391.7 548.5 389.7 539.4 388.5C530.2 387.3 519.5 385.8 511 385.3C502.5 384.8 494 385.2 488.4 385.7C482.8 386.2 480.6 387.6 477.5 388.5C474.4 389.4 471.8 389.7 469.5 391.3C467.2 392.9 465.3 396.2 463.7 398C462.1 399.8 461 400.2 460 402C459 403.8 458.4 407.3 457.7 409C457 410.7 456.3 411.5 456 412" stroke="#646464" stroke-width="0.85" fill="none"/>
<path d="M565.9 401.7C562.4 401.4 553.3 400.3 545.1 399.8C536.9 399.3 526.2 398.6 516.7 398.9C507.3 399.2 496 399.2 488.4 401.7C480.8 404.2 474.5 411.4 471.3 414C468.1 416.6 469.4 416.5 469 417" stroke="#646464" stroke-width="0.85" fill="none"/>
<path d="M565.9 412.1C562.4 412.1 553.3 411.9 545.1 411.8C536.9 411.8 524.6 411.3 516.7 411.8C508.8 412.3 502.5 413.7 497.8 415C493.1 416.3 490.5 418.6 488.4 419.7C486.3 420.8 485.6 421.2 485 421.5" stroke="#646464" stroke-width="0.85" fill="none"/>
<path d="M565.9 420.1C560.9 420.2 544.4 420.2 535.6 420.6C526.8 421 518.2 421.6 512.9 422.5C507.5 423.4 505.1 425.7 503.5 426.3" stroke="#646464" stroke-width="0.85" fill="none"/>
<path d="M400.2 445.9 L410 458.2" stroke="#646464" stroke-width="0.85" fill="none"/>
<path d="M401.9 438.2 L417.3 458.2" stroke="#646464" stroke-width="0.85" fill="none"/>
<path d="M406.2 432.2 L424.2 458.2" stroke="#646464" stroke-width="0.85" fill="none"/>
<path d="M413 423.6C414 425.5 416.1 429 419.1 434.8C422.1 440.6 429.1 454.3 431.1 458.2" stroke="#646464" stroke-width="0.85" fill="none"/>
<path d="M420.8 418C421.5 419.4 423.7 422.8 425.1 426.2C426.5 429.6 427.2 432.9 429.4 438.2C431.5 443.5 436.6 454.9 438 458.2" stroke="#646464" stroke-width="0.85" fill="none"/>
<path d="M430.2 417.6C431.5 421 435.2 431.4 438 438.2C440.8 445 445.7 454.9 447.2 458.2" stroke="#646464" stroke-width="0.85" fill="none"/>
<path d="M441.7 418.2C441.9 419.8 442 423.5 443.1 427.9C444.2 432.3 446.8 439.3 448.6 444.4C450.4 449.4 453.2 455.9 454.1 458.2" stroke="#646464" stroke-width="0.85" fill="none"/>
<path d="M454.1 422.4C454.6 424.9 455.8 431.5 456.9 437.5C458 443.5 460.3 454.8 461 458.2" stroke="#646464" stroke-width="0.85" fill="none"/>
<path d="M467.6 423.5C467.4 425.7 466.5 430.9 466.6 436.7C466.8 442.5 468.2 454.6 468.5 458.2" stroke="#646464" stroke-width="0.85" fill="none"/>
<path d="M480.8 427.3C480.2 429.5 477.6 435.4 477 440.5C476.4 445.6 477 455.2 477 458.2" stroke="#646464" stroke-width="0.85" fill="none"/>
<path d="M492.1 434.8C491.3 436.7 488.3 442.3 487.4 446.2C486.5 450.1 486.6 456.2 486.5 458.2" stroke="#646464" stroke-width="0.85" fill="none"/>
<path d="M333.9 391.1C333.6 389 331.9 381.4 331.9 378.7C331.9 375.9 332.5 377.4 333.9 374.6C335.3 371.9 335.4 366 340.1 362.2C344.8 358.4 356.6 353.8 362.1 351.9C367.6 350 367.3 351.1 373.1 350.6C378.9 350.1 391.3 349.6 396.7 349C402.1 348.4 402.9 347.9 405.3 347.3C407.7 346.7 410.3 345.5 411.3 345.1" stroke="#48c048" stroke-width="0.8" fill="none" stroke-dasharray="2 1.6"/>
<path d="M357.3 415.9C356.9 414.3 355.1 409.2 354.6 406.2C354.2 403.2 354.3 401.2 354.6 398C354.9 394.8 354.2 390.6 356.6 387C359 383.4 364.6 379 369 376.7C373.4 374.4 378.4 375.1 382.7 373.2C387 371.3 390.1 367.3 395 365.3C399.9 363.3 405 362.7 412.2 361C419.4 359.3 428 357.1 438 355C448 352.9 462.8 349.8 472.3 348.2C481.8 346.6 491.2 345.6 495 345.1" stroke="#48c048" stroke-width="0.8" fill="none" stroke-dasharray="2 1.6"/>
<path d="M377.2 423 L376.5 416.5" stroke="#48c048" stroke-width="0.8" fill="none" stroke-dasharray="2 1.6"/>
<path d="M381.4 404.2C383.9 402.7 393.9 396.2 396.5 395.2C399.1 394.2 396.7 397.5 396.7 398" stroke="#48c048" stroke-width="0.8" fill="none" stroke-dasharray="2 1.6"/>
<path d="M396.5 395.2C396.2 392.2 395 382.4 395 377.4C395 372.4 396.4 367.3 396.7 365.3" stroke="#48c048" stroke-width="0.8" fill="none" stroke-dasharray="2 1.6"/>
<path d="M410.5 345.6 L398.4 373.9" stroke="#48c048" stroke-width="0.8" fill="none" stroke-dasharray="2 1.6"/>
<path d="M403.2 458.2C402.7 456.7 400.8 452.7 400.2 449.4C399.6 446.1 399.2 441.8 399.3 438.2C399.4 434.6 400.2 432.4 401 428C401.8 423.6 402.9 416 404.1 411.7C405.3 407.4 406.9 404.9 408.2 402.1C409.5 399.3 411.2 397.7 412.2 395C413.1 392.3 411 388.9 413.9 386C416.8 383.1 424 380.6 429.4 377.4C434.8 374.2 441.9 369.6 446.5 367C451.1 364.4 455.2 362.8 456.9 361.9" stroke="#48c048" stroke-width="0.8" fill="none" stroke-dasharray="2 1.6"/>
<path d="M421.6 458.2C421.4 456.7 420.2 452.7 420.3 449.4C420.4 446.1 422.1 440.1 422.5 438.2" stroke="#48c048" stroke-width="0.8" fill="none" stroke-dasharray="2 1.6"/>
<path d="M425.1 426.2C425.5 424.6 426.1 419.8 427.6 416.7C429.2 413.6 431.4 411.2 434.4 407.6C437.4 404 441.9 398.7 445.4 395.2C448.8 391.7 446.8 388.6 455.1 386.8C463.4 385 484.7 384.7 495 384.2C505.3 383.7 504.8 384.3 516.7 383.8C528.6 383.3 558 381.5 566.2 381" stroke="#48c048" stroke-width="0.8" fill="none" stroke-dasharray="2 1.6"/>
<path d="M445.9 458.2C445.9 455.7 445 447.8 445.9 443C446.8 438.2 449.2 433 451.4 429.2C453.6 425.4 455.7 422.4 459 420C462.3 417.6 466.1 417.9 471.3 415C476.5 412.1 482.6 408.5 490.2 402.7C497.8 396.9 508.4 387.1 516.7 380C525 372.9 531.8 365.9 540 360C548.2 354.1 561.8 347.3 566.2 344.8" stroke="#48c048" stroke-width="0.8" fill="none" stroke-dasharray="2 1.6"/>
<path d="M470.4 458.2C471.7 455.6 474.7 446.4 478 442.4C481.3 438.3 488.2 435.3 490.2 433.9" stroke="#48c048" stroke-width="0.8" fill="none" stroke-dasharray="2 1.6"/>
<path d="M400.6 420 L405 411.7" stroke="#48c048" stroke-width="0.8" fill="none" stroke-dasharray="2 1.6"/>
<ellipse cx="449.4" cy="401.7" rx="10.3" ry="9.3" fill="none" stroke="#0022ff" stroke-width="1.35"/>
<ellipse cx="449.4" cy="401.8" rx="5.3" ry="4.6" fill="none" stroke="#0022ff" stroke-width="1.1"/>
<ellipse cx="449.4" cy="401.8" rx="3.9" ry="3.6" fill="#0022ff"/>
<text x="395.3" y="456.5" font-size="7.0" text-anchor="middle" font-weight="bold" fill="#000" color="#000">0.2</text>
<text x="394.2" y="451" font-size="7.0" text-anchor="middle" font-weight="bold" fill="#000" color="#000">1.0</text>
<text x="393.9" y="441" font-size="7.0" text-anchor="middle" font-weight="bold" fill="#000" color="#000">2.0</text>
<text x="398.7" y="434.6" font-size="7.0" text-anchor="middle" font-weight="bold" fill="#000" color="#000">3.0</text>
<text x="403.2" y="427.7" font-size="7.0" text-anchor="middle" font-weight="bold" fill="#000" color="#000">4.0</text>
<text x="411.1" y="420.8" font-size="7.0" text-anchor="middle" font-weight="bold" fill="#000" color="#000">5.0</text>
<text x="418.3" y="414.9" font-size="7.0" text-anchor="middle" font-weight="bold" fill="#000" color="#000">6.0</text>
<text x="428.6" y="414.9" font-size="7.0" text-anchor="middle" font-weight="bold" fill="#000" color="#000">7.0</text>
<text x="442" y="415.3" font-size="7.0" text-anchor="middle" font-weight="bold" fill="#000" color="#000">8.0</text>
<text x="454.7" y="418.1" font-size="7.0" text-anchor="middle" font-weight="bold" fill="#000" color="#000">9.0</text>
<text x="469.5" y="422.5" font-size="7.0" text-anchor="middle" font-weight="bold" fill="#000" color="#000">10.0</text>
<text x="484.5" y="428" font-size="7.0" text-anchor="middle" font-weight="bold" fill="#000" color="#000">11.0</text>
<text x="500" y="431.5" font-size="7.0" text-anchor="middle" font-weight="bold" fill="#000" color="#000">12.0</text>
<text x="336.6" y="370.5" font-size="7.0" text-anchor="middle" font-weight="bold" fill="#22aa22" color="#22aa22">1.35</text>
<text x="355.2" y="395.8" font-size="7.0" text-anchor="middle" font-weight="bold" fill="#22aa22" color="#22aa22">1.30</text>
<text x="378.2" y="413.2" font-size="7.0" text-anchor="middle" font-weight="bold" fill="#22aa22" color="#22aa22">1.25</text>
<text x="400.1" y="430.4" font-size="7.0" text-anchor="middle" font-weight="bold" fill="#22aa22" color="#22aa22">1.20</text>
<text x="424.1" y="435.2" font-size="7.0" text-anchor="middle" font-weight="bold" fill="#22aa22" color="#22aa22">1.15</text>
<text x="448.2" y="437.3" font-size="7.0" text-anchor="middle" font-weight="bold" fill="#22aa22" color="#22aa22">1.10</text>
<text x="498" y="435.2" font-size="7.0" text-anchor="middle" font-weight="bold" fill="#22aa22" color="#22aa22">1.05</text>
<rect x="331" y="502.1" width="236.3" height="86.4" fill="none" stroke="#8a8a8a" stroke-width="1.4"/>
<path d="M341.8 588.5v-2.5M341.8 502.1v2.5M384.8 588.5v-2.5M384.8 502.1v2.5M427.7 588.5v-2.5M427.7 502.1v2.5M470.7 588.5v-2.5M470.7 502.1v2.5M513.6 588.5v-2.5M513.6 502.1v2.5M556.5 588.5v-2.5M556.5 502.1v2.5M331 502.1h2.5M567.3 502.1h-2.5M331 505.6h1.3M567.3 505.6h-1.3M331 509h1.3M567.3 509h-1.3M331 512.5h1.3M567.3 512.5h-1.3M331 515.9h1.3M567.3 515.9h-1.3M331 519.4h2.5M567.3 519.4h-2.5M331 522.8h1.3M567.3 522.8h-1.3M331 526.3h1.3M567.3 526.3h-1.3M331 529.7h1.3M567.3 529.7h-1.3M331 533.2h1.3M567.3 533.2h-1.3M331 536.7h2.5M567.3 536.7h-2.5M331 540.1h1.3M567.3 540.1h-1.3M331 543.6h1.3M567.3 543.6h-1.3M331 547h1.3M567.3 547h-1.3M331 550.5h1.3M567.3 550.5h-1.3M331 553.9h2.5M567.3 553.9h-2.5M331 557.4h1.3M567.3 557.4h-1.3M331 560.9h1.3M567.3 560.9h-1.3M331 564.3h1.3M567.3 564.3h-1.3M331 567.8h1.3M567.3 567.8h-1.3M331 571.2h2.5M567.3 571.2h-2.5M331 574.7h1.3M567.3 574.7h-1.3M331 578.1h1.3M567.3 578.1h-1.3M331 581.6h1.3M567.3 581.6h-1.3M331 585h1.3M567.3 585h-1.3M331 588.5h2.5M567.3 588.5h-2.5" stroke="#666" stroke-width="0.8" fill="none"/>
<text x="326.3" y="505" font-size="8.2" text-anchor="end" fill="#000" color="#000">10.5</text>
<text x="326.3" y="522.3" font-size="8.2" text-anchor="end" fill="#000" color="#000">11.0</text>
<text x="326.3" y="539.6" font-size="8.2" text-anchor="end" fill="#000" color="#000">11.5</text>
<text x="326.3" y="556.8" font-size="8.2" text-anchor="end" fill="#000" color="#000">12.0</text>
<text x="326.3" y="574.1" font-size="8.2" text-anchor="end" fill="#000" color="#000">12.5</text>
<text x="326.3" y="591.4" font-size="8.2" text-anchor="end" fill="#000" color="#000">13.0</text>
<text x="341.8" y="599.4" font-size="8.2" text-anchor="middle" fill="#000" color="#000">BP</text>
<text x="384.8" y="599.4" font-size="8.2" text-anchor="middle" fill="#000" color="#000">G</text>
<text x="427.7" y="599.4" font-size="8.2" text-anchor="middle" fill="#000" color="#000">RP</text>
<text x="470.7" y="599.4" font-size="8.2" text-anchor="middle" fill="#000" color="#000">J</text>
<text x="513.6" y="599.4" font-size="8.2" text-anchor="middle" fill="#000" color="#000">H</text>
<text x="556.5" y="599.4" font-size="8.2" text-anchor="middle" fill="#000" color="#000">K</text>
<text x="300.5" y="545.3" font-size="8.1" text-anchor="middle" fill="#000" color="#000" transform="rotate(-90 300.5 545.3)">Observed Magnitude</text>
<path d="M341.8 585.3 L384.8 571.8 L427.7 553.2 L470.7 532.8 L513.6 522.1 L556.5 519.3" stroke="#7a7a7a" stroke-width="1.1" fill="none"/>
<path d="M427.7 553.2 L470.7 532.8 L513.6 522.1 L556.5 519.3" stroke="#6a6a6a" stroke-width="1.3" fill="none"/>
<path d="M470.7 532.8 L513.6 522.1 L556.5 519.3" stroke="#555" stroke-width="1.8" fill="none"/>
<path d="M341.8 585.3h0M384.8 571.8h0M427.7 553.2h0M470.7 532.8h0M513.6 522.1h0M556.5 519.3h0" stroke="#000" stroke-width="5.6" stroke-linecap="round" fill="none"/>
<path d="M346.3 623.4 L388.6 627 L430.3 623 L472.7 619.3 L515 616.2 L556.8 615.8 L556.8 639.9 L515 638.9 L472.7 636.8 L430.3 634.5 L388.6 632 L346.3 634.5Z" fill="#c4c4c4"/>
<path d="M346.3 624.4 L388.6 627.5 L430.3 624.6 L472.7 622.4 L515 619.3 L556.8 618.2 L556.8 635.8 L515 634.7 L472.7 635.8 L430.3 633.5 L388.6 631.6 L346.3 633.7Z" fill="#858585"/>
<rect x="336.3" y="614.6" width="231.5" height="45" fill="none" stroke="#8a8a8a" stroke-width="1.4"/>
<path d="M346.6 659.6v-2.5M346.6 614.6v2.5M388.7 659.6v-2.5M388.7 614.6v2.5M430.8 659.6v-2.5M430.8 614.6v2.5M472.8 659.6v-2.5M472.8 614.6v2.5M514.9 659.6v-2.5M514.9 614.6v2.5M557 659.6v-2.5M557 614.6v2.5M336.3 614.6h2.5M567.8 614.6h-2.5M336.3 619.6h1.3M567.8 619.6h-1.3M336.3 624.6h1.3M567.8 624.6h-1.3M336.3 629.6h2.5M567.8 629.6h-2.5M336.3 634.6h1.3M567.8 634.6h-1.3M336.3 639.6h1.3M567.8 639.6h-1.3M336.3 644.6h2.5M567.8 644.6h-2.5M336.3 649.6h1.3M567.8 649.6h-1.3M336.3 654.6h1.3M567.8 654.6h-1.3M336.3 659.6h2.5M567.8 659.6h-2.5" stroke="#666" stroke-width="0.8" fill="none"/>
<text x="331.3" y="617.5" font-size="8.2" text-anchor="end" fill="#000" color="#000">-0.03</text>
<text x="331.3" y="632.5" font-size="8.2" text-anchor="end" fill="#000" color="#000">0.00</text>
<text x="331.3" y="647.5" font-size="8.2" text-anchor="end" fill="#000" color="#000">0.03</text>
<text x="331.3" y="662.5" font-size="8.2" text-anchor="end" fill="#000" color="#000">0.06</text>
<text x="346.6" y="670" font-size="8.2" text-anchor="middle" fill="#000" color="#000">BP</text>
<text x="388.7" y="670" font-size="8.2" text-anchor="middle" fill="#000" color="#000">G</text>
<text x="430.8" y="670" font-size="8.2" text-anchor="middle" fill="#000" color="#000">RP</text>
<text x="472.8" y="670" font-size="8.2" text-anchor="middle" fill="#000" color="#000">J</text>
<text x="514.9" y="670" font-size="8.2" text-anchor="middle" fill="#000" color="#000">H</text>
<text x="557" y="670" font-size="8.2" text-anchor="middle" fill="#000" color="#000">K</text>
<text x="300.5" y="637" font-size="8.1" text-anchor="middle" fill="#000" color="#000" transform="rotate(-90 300.5 637)">Δ Mag</text>
<path d="M472.8 622.8V646.1M471.6 622.8h2.4M471.6 646.1h2.4M514.9 635.8V657.4M513.7 635.8h2.4M513.7 657.4h2.4M557 620.3V644M555.8 620.3h2.4M555.8 644h2.4" stroke="#000" stroke-width="0.7" fill="none"/>
<path d="M346.6 635.9h0M388.7 628.1h0M430.8 630h0M472.8 634.3h0M514.9 646.5h0M557 632.3h0" stroke="#000" stroke-width="5.6" stroke-linecap="round" fill="none"/>
</svg></body></html>
